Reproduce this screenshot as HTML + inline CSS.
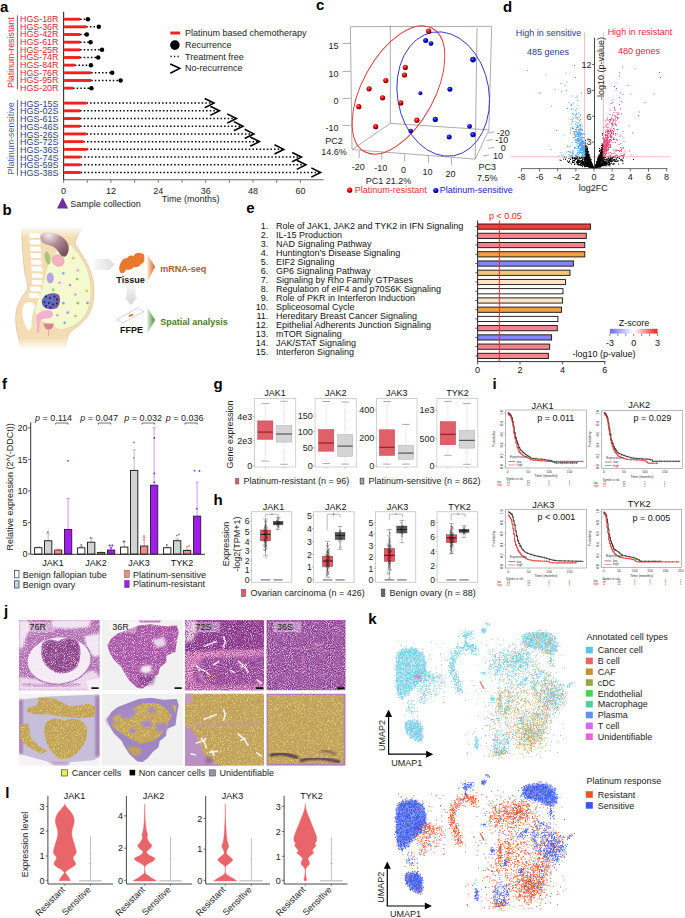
<!DOCTYPE html>
<html><head><meta charset="utf-8"><style>html,body{margin:0;padding:0;background:#fff;overflow:hidden;width:685px;height:918px;}svg{display:block;}</style></head>
<body><svg width="685" height="918" viewBox="0 0 685 918" font-family="Liberation Sans, sans-serif"><text x="0.0" y="12.1" font-size="15" text-anchor="start" fill="#000" font-weight="bold">a</text>
<line x1="63.60" y1="11.80" x2="63.60" y2="180.20" stroke="#333" stroke-width="1.1"/>
<line x1="63.60" y1="179.80" x2="323.60" y2="179.80" stroke="#666" stroke-width="1.1"/>
<line x1="63.60" y1="179.80" x2="63.60" y2="183.00" stroke="#666" stroke-width="0.8"/>
<line x1="87.28" y1="179.80" x2="87.28" y2="183.00" stroke="#666" stroke-width="0.8"/>
<line x1="110.95" y1="179.80" x2="110.95" y2="183.00" stroke="#666" stroke-width="0.8"/>
<line x1="134.63" y1="179.80" x2="134.63" y2="183.00" stroke="#666" stroke-width="0.8"/>
<line x1="158.30" y1="179.80" x2="158.30" y2="183.00" stroke="#666" stroke-width="0.8"/>
<line x1="181.98" y1="179.80" x2="181.98" y2="183.00" stroke="#666" stroke-width="0.8"/>
<line x1="205.66" y1="179.80" x2="205.66" y2="183.00" stroke="#666" stroke-width="0.8"/>
<line x1="229.33" y1="179.80" x2="229.33" y2="183.00" stroke="#666" stroke-width="0.8"/>
<line x1="253.01" y1="179.80" x2="253.01" y2="183.00" stroke="#666" stroke-width="0.8"/>
<line x1="276.68" y1="179.80" x2="276.68" y2="183.00" stroke="#666" stroke-width="0.8"/>
<line x1="300.36" y1="179.80" x2="300.36" y2="183.00" stroke="#666" stroke-width="0.8"/>
<text x="63.6" y="193.6" font-size="9" text-anchor="middle" fill="#222">0</text>
<text x="111.0" y="193.6" font-size="9" text-anchor="middle" fill="#222">12</text>
<text x="158.3" y="193.6" font-size="9" text-anchor="middle" fill="#222">24</text>
<text x="205.7" y="193.6" font-size="9" text-anchor="middle" fill="#222">36</text>
<text x="253.0" y="193.6" font-size="9" text-anchor="middle" fill="#222">48</text>
<text x="300.4" y="193.6" font-size="9" text-anchor="middle" fill="#222">60</text>
<text x="190.7" y="201.8" font-size="9" text-anchor="middle" fill="#222">Time (months)</text>
<line x1="80.10" y1="19.20" x2="87.90" y2="19.20" stroke="#000" stroke-width="1.5" stroke-dasharray="1.5 2.1"/>
<rect x="64.10" y="17.75" width="16.00" height="2.90" fill="#f42020"/>
<circle cx="87.90" cy="19.20" r="2.25" fill="#000"/>
<text x="58.4" y="22.1" font-size="8.6" text-anchor="end" fill="#cc2a33" textLength="38.4" lengthAdjust="spacingAndGlyphs">HGS-18R</text>
<line x1="86.30" y1="26.86" x2="98.80" y2="26.86" stroke="#000" stroke-width="1.5" stroke-dasharray="1.5 2.1"/>
<rect x="64.10" y="25.41" width="22.20" height="2.90" fill="#f42020"/>
<circle cx="98.80" cy="26.86" r="2.25" fill="#000"/>
<text x="58.4" y="29.8" font-size="8.6" text-anchor="end" fill="#cc2a33" textLength="38.4" lengthAdjust="spacingAndGlyphs">HGS-36R</text>
<line x1="80.10" y1="34.52" x2="86.80" y2="34.52" stroke="#000" stroke-width="1.5" stroke-dasharray="1.5 2.1"/>
<rect x="64.10" y="33.07" width="16.00" height="2.90" fill="#f42020"/>
<circle cx="86.80" cy="34.52" r="2.25" fill="#000"/>
<text x="58.4" y="37.4" font-size="8.6" text-anchor="end" fill="#cc2a33" textLength="38.4" lengthAdjust="spacingAndGlyphs">HGS-42R</text>
<line x1="80.10" y1="42.18" x2="90.60" y2="42.18" stroke="#000" stroke-width="1.5" stroke-dasharray="1.5 2.1"/>
<rect x="64.10" y="40.73" width="16.00" height="2.90" fill="#f42020"/>
<circle cx="90.60" cy="42.18" r="2.25" fill="#000"/>
<text x="58.4" y="45.1" font-size="8.6" text-anchor="end" fill="#cc2a33" textLength="38.4" lengthAdjust="spacingAndGlyphs">HGS-61R</text>
<line x1="80.10" y1="49.84" x2="102.00" y2="49.84" stroke="#000" stroke-width="1.5" stroke-dasharray="1.5 2.1"/>
<rect x="64.10" y="48.39" width="16.00" height="2.90" fill="#f42020"/>
<circle cx="102.00" cy="49.84" r="2.25" fill="#000"/>
<text x="58.4" y="52.7" font-size="8.6" text-anchor="end" fill="#cc2a33" textLength="38.4" lengthAdjust="spacingAndGlyphs">HGS-25R</text>
<line x1="80.10" y1="57.50" x2="98.20" y2="57.50" stroke="#000" stroke-width="1.5" stroke-dasharray="1.5 2.1"/>
<rect x="64.10" y="56.05" width="16.00" height="2.90" fill="#f42020"/>
<circle cx="98.20" cy="57.50" r="2.25" fill="#000"/>
<text x="58.4" y="60.4" font-size="8.6" text-anchor="end" fill="#cc2a33" textLength="38.4" lengthAdjust="spacingAndGlyphs">HGS-74R</text>
<line x1="74.90" y1="65.16" x2="90.90" y2="65.16" stroke="#000" stroke-width="1.5" stroke-dasharray="1.5 2.1"/>
<rect x="64.10" y="63.71" width="10.80" height="2.90" fill="#f42020"/>
<circle cx="90.90" cy="65.16" r="2.25" fill="#000"/>
<text x="58.4" y="68.1" font-size="8.6" text-anchor="end" fill="#cc2a33" textLength="38.4" lengthAdjust="spacingAndGlyphs">HGS-84R</text>
<line x1="91.20" y1="72.82" x2="112.20" y2="72.82" stroke="#000" stroke-width="1.5" stroke-dasharray="1.5 2.1"/>
<rect x="64.10" y="71.37" width="27.10" height="2.90" fill="#f42020"/>
<circle cx="112.20" cy="72.82" r="2.25" fill="#000"/>
<text x="58.4" y="75.7" font-size="8.6" text-anchor="end" fill="#cc2a33" textLength="38.4" lengthAdjust="spacingAndGlyphs">HGS-76R</text>
<line x1="91.20" y1="80.48" x2="120.60" y2="80.48" stroke="#000" stroke-width="1.5" stroke-dasharray="1.5 2.1"/>
<rect x="64.10" y="79.03" width="27.10" height="2.90" fill="#f42020"/>
<circle cx="120.60" cy="80.48" r="2.25" fill="#000"/>
<text x="58.4" y="83.4" font-size="8.6" text-anchor="end" fill="#cc2a33" textLength="38.4" lengthAdjust="spacingAndGlyphs">HGS-95R</text>
<line x1="73.10" y1="88.14" x2="91.40" y2="88.14" stroke="#000" stroke-width="1.5" stroke-dasharray="1.5 2.1"/>
<rect x="64.10" y="86.69" width="9.00" height="2.90" fill="#f42020"/>
<circle cx="91.40" cy="88.14" r="2.25" fill="#000"/>
<text x="58.4" y="91.0" font-size="8.6" text-anchor="end" fill="#cc2a33" textLength="38.4" lengthAdjust="spacingAndGlyphs">HGS-20R</text>
<line x1="86.50" y1="103.10" x2="212.90" y2="103.10" stroke="#000" stroke-width="1.5" stroke-dasharray="1.5 2.1"/>
<rect x="64.10" y="101.65" width="22.40" height="2.90" fill="#f42020"/>
<polyline points="204.7,98.5 213.9,103.1 204.7,107.7" fill="none" stroke="#000" stroke-width="1.6"/>
<text x="58.4" y="106.7" font-size="8.4" text-anchor="end" fill="#2c3e7a" textLength="38.4" lengthAdjust="spacingAndGlyphs">HGS-15S</text>
<line x1="80.10" y1="110.81" x2="218.50" y2="110.81" stroke="#000" stroke-width="1.5" stroke-dasharray="1.5 2.1"/>
<rect x="64.10" y="109.36" width="16.00" height="2.90" fill="#f42020"/>
<polyline points="210.3,106.2 219.5,110.8 210.3,115.4" fill="none" stroke="#000" stroke-width="1.6"/>
<text x="58.4" y="114.4" font-size="8.4" text-anchor="end" fill="#2c3e7a" textLength="38.4" lengthAdjust="spacingAndGlyphs">HGS-02S</text>
<line x1="80.10" y1="118.52" x2="235.40" y2="118.52" stroke="#000" stroke-width="1.5" stroke-dasharray="1.5 2.1"/>
<rect x="64.10" y="117.07" width="16.00" height="2.90" fill="#f42020"/>
<polyline points="227.2,113.9 236.4,118.5 227.2,123.1" fill="none" stroke="#000" stroke-width="1.6"/>
<text x="58.4" y="122.1" font-size="8.4" text-anchor="end" fill="#2c3e7a" textLength="38.4" lengthAdjust="spacingAndGlyphs">HGS-61S</text>
<line x1="80.10" y1="126.23" x2="242.00" y2="126.23" stroke="#000" stroke-width="1.5" stroke-dasharray="1.5 2.1"/>
<rect x="64.10" y="124.78" width="16.00" height="2.90" fill="#f42020"/>
<polyline points="233.8,121.6 243.0,126.2 233.8,130.8" fill="none" stroke="#000" stroke-width="1.6"/>
<text x="58.4" y="129.8" font-size="8.4" text-anchor="end" fill="#2c3e7a" textLength="38.4" lengthAdjust="spacingAndGlyphs">HGS-46S</text>
<line x1="86.50" y1="133.94" x2="252.80" y2="133.94" stroke="#000" stroke-width="1.5" stroke-dasharray="1.5 2.1"/>
<rect x="64.10" y="132.49" width="22.40" height="2.90" fill="#f42020"/>
<polyline points="244.6,129.3 253.8,133.9 244.6,138.5" fill="none" stroke="#000" stroke-width="1.6"/>
<text x="58.4" y="137.5" font-size="8.4" text-anchor="end" fill="#2c3e7a" textLength="38.4" lengthAdjust="spacingAndGlyphs">HGS-26S</text>
<line x1="83.40" y1="141.65" x2="258.40" y2="141.65" stroke="#000" stroke-width="1.5" stroke-dasharray="1.5 2.1"/>
<rect x="64.10" y="140.20" width="19.30" height="2.90" fill="#f42020"/>
<polyline points="250.2,137.0 259.4,141.6 250.2,146.2" fill="none" stroke="#000" stroke-width="1.6"/>
<text x="58.4" y="145.2" font-size="8.4" text-anchor="end" fill="#2c3e7a" textLength="38.4" lengthAdjust="spacingAndGlyphs">HGS-72S</text>
<line x1="86.80" y1="149.36" x2="282.70" y2="149.36" stroke="#000" stroke-width="1.5" stroke-dasharray="1.5 2.1"/>
<rect x="64.10" y="147.91" width="22.70" height="2.90" fill="#f42020"/>
<polyline points="274.5,144.8 283.7,149.4 274.5,154.0" fill="none" stroke="#000" stroke-width="1.6"/>
<text x="58.4" y="153.0" font-size="8.4" text-anchor="end" fill="#2c3e7a" textLength="38.4" lengthAdjust="spacingAndGlyphs">HGS-36S</text>
<line x1="80.60" y1="157.07" x2="300.40" y2="157.07" stroke="#000" stroke-width="1.5" stroke-dasharray="1.5 2.1"/>
<rect x="64.10" y="155.62" width="16.50" height="2.90" fill="#f42020"/>
<polyline points="292.2,152.5 301.4,157.1 292.2,161.7" fill="none" stroke="#000" stroke-width="1.6"/>
<text x="58.4" y="160.7" font-size="8.4" text-anchor="end" fill="#2c3e7a" textLength="38.4" lengthAdjust="spacingAndGlyphs">HGS-74S</text>
<line x1="80.60" y1="164.78" x2="305.00" y2="164.78" stroke="#000" stroke-width="1.5" stroke-dasharray="1.5 2.1"/>
<rect x="64.10" y="163.33" width="16.50" height="2.90" fill="#f42020"/>
<polyline points="296.8,160.2 306.0,164.8 296.8,169.4" fill="none" stroke="#000" stroke-width="1.6"/>
<text x="58.4" y="168.4" font-size="8.4" text-anchor="end" fill="#2c3e7a" textLength="38.4" lengthAdjust="spacingAndGlyphs">HGS-59S</text>
<line x1="80.60" y1="172.49" x2="319.50" y2="172.49" stroke="#000" stroke-width="1.5" stroke-dasharray="1.5 2.1"/>
<rect x="64.10" y="171.04" width="16.50" height="2.90" fill="#f42020"/>
<polyline points="311.3,167.9 320.5,172.5 311.3,177.1" fill="none" stroke="#000" stroke-width="1.6"/>
<text x="58.4" y="176.1" font-size="8.4" text-anchor="end" fill="#2c3e7a" textLength="38.4" lengthAdjust="spacingAndGlyphs">HGS-38S</text>
<line x1="17.40" y1="15.40" x2="17.40" y2="89.30" stroke="#555" stroke-width="0.9"/>
<line x1="17.40" y1="100.00" x2="17.40" y2="175.60" stroke="#555" stroke-width="0.9"/>
<text x="13.6" y="52.7" font-size="9" text-anchor="middle" fill="#cc2a33" transform="rotate(-90 13.6 52.7)" textLength="70.6" lengthAdjust="spacingAndGlyphs">Platinum-resistant</text>
<text x="13.6" y="138.4" font-size="9" text-anchor="middle" fill="#4a5a9a" transform="rotate(-90 13.6 138.4)" textLength="72" lengthAdjust="spacingAndGlyphs">Platinum-sensitive</text>
<line x1="170.30" y1="33.00" x2="180.10" y2="33.00" stroke="#f42020" stroke-width="2.9"/>
<text x="185.0" y="36.0" font-size="9" text-anchor="start" fill="#222">Platinum based chemotherapy</text>
<circle cx="174.90" cy="45.10" r="4.80" fill="#000"/>
<text x="185.0" y="48.0" font-size="9" text-anchor="start" fill="#222">Recurrence</text>
<line x1="170.50" y1="56.50" x2="180.00" y2="56.50" stroke="#000" stroke-width="1.3" stroke-dasharray="1.2 2.3"/>
<text x="185.0" y="59.6" font-size="9" text-anchor="start" fill="#222">Treatment free</text>
<polyline points="170.3,64 179.7,68.4 170.3,73.2" fill="none" stroke="#000" stroke-width="1.6"/>
<text x="185.0" y="71.4" font-size="9" text-anchor="start" fill="#222">No-recurrence</text>
<polygon points="57,208.4 62.6,197.3 68.2,208.4" fill="#7030a0"/>
<text x="70.2" y="206.6" font-size="9" text-anchor="start" fill="#222">Sample collection</text>
<text x="315.9" y="10.1" font-size="15" text-anchor="start" fill="#000" font-weight="bold">c</text>
<line x1="350.40" y1="26.60" x2="352.00" y2="149.60" stroke="#8a8a8a" stroke-width="0.7"/>
<line x1="350.40" y1="26.60" x2="491.70" y2="26.40" stroke="#8a8a8a" stroke-width="0.7"/>
<line x1="390.30" y1="25.40" x2="390.30" y2="123.40" stroke="#8a8a8a" stroke-width="0.7"/>
<line x1="477.00" y1="28.00" x2="475.20" y2="159.10" stroke="#8a8a8a" stroke-width="0.7"/>
<line x1="491.70" y1="26.60" x2="488.90" y2="129.90" stroke="#8a8a8a" stroke-width="0.7"/>
<line x1="352.00" y1="149.60" x2="475.20" y2="159.10" stroke="#8a8a8a" stroke-width="0.7"/>
<line x1="390.30" y1="123.40" x2="488.90" y2="129.90" stroke="#8a8a8a" stroke-width="0.7"/>
<line x1="352.00" y1="149.60" x2="390.30" y2="123.40" stroke="#8a8a8a" stroke-width="0.7"/>
<line x1="475.20" y1="159.10" x2="488.90" y2="129.90" stroke="#8a8a8a" stroke-width="0.7"/>
<line x1="342.60" y1="43.40" x2="350.80" y2="43.40" stroke="#8a8a8a" stroke-width="0.7"/>
<text x="338.5" y="48.6" font-size="9" text-anchor="end" fill="#222">15</text>
<line x1="342.60" y1="71.40" x2="350.80" y2="71.40" stroke="#8a8a8a" stroke-width="0.7"/>
<text x="338.5" y="76.6" font-size="9" text-anchor="end" fill="#222">10</text>
<line x1="342.60" y1="98.40" x2="350.80" y2="98.40" stroke="#8a8a8a" stroke-width="0.7"/>
<text x="338.5" y="103.6" font-size="9" text-anchor="end" fill="#222">0</text>
<line x1="342.60" y1="125.40" x2="350.80" y2="125.40" stroke="#8a8a8a" stroke-width="0.7"/>
<text x="338.5" y="130.6" font-size="9" text-anchor="end" fill="#222">-10</text>
<text x="334.1" y="144.3" font-size="9" text-anchor="middle" fill="#222">PC2</text>
<text x="334.0" y="155.0" font-size="9" text-anchor="middle" fill="#222">14.6%</text>
<line x1="359.20" y1="151.00" x2="359.20" y2="158.00" stroke="#8a8a8a" stroke-width="0.7"/>
<text x="358.2" y="169.5" font-size="9" text-anchor="middle" fill="#222">-20</text>
<line x1="381.80" y1="152.60" x2="381.80" y2="159.60" stroke="#8a8a8a" stroke-width="0.7"/>
<text x="380.8" y="171.1" font-size="9" text-anchor="middle" fill="#222">-10</text>
<line x1="404.60" y1="154.50" x2="404.60" y2="161.50" stroke="#8a8a8a" stroke-width="0.7"/>
<text x="403.6" y="173.0" font-size="9" text-anchor="middle" fill="#222">0</text>
<line x1="428.50" y1="156.30" x2="428.50" y2="163.30" stroke="#8a8a8a" stroke-width="0.7"/>
<text x="427.5" y="174.8" font-size="9" text-anchor="middle" fill="#222">10</text>
<line x1="451.40" y1="158.00" x2="451.40" y2="165.00" stroke="#8a8a8a" stroke-width="0.7"/>
<text x="450.4" y="176.5" font-size="9" text-anchor="middle" fill="#222">20</text>
<line x1="488.20" y1="132.90" x2="494.20" y2="131.90" stroke="#8a8a8a" stroke-width="0.7"/>
<text x="503.2" y="135.6" font-size="9" text-anchor="middle" fill="#222">-20</text>
<line x1="486.80" y1="140.60" x2="492.80" y2="139.60" stroke="#8a8a8a" stroke-width="0.7"/>
<text x="501.8" y="143.3" font-size="9" text-anchor="middle" fill="#222">-10</text>
<line x1="488.20" y1="148.40" x2="494.20" y2="147.40" stroke="#8a8a8a" stroke-width="0.7"/>
<text x="503.2" y="151.1" font-size="9" text-anchor="middle" fill="#222">0</text>
<line x1="483.10" y1="156.00" x2="489.10" y2="155.00" stroke="#8a8a8a" stroke-width="0.7"/>
<text x="498.1" y="158.7" font-size="9" text-anchor="middle" fill="#222">10</text>
<text x="388.4" y="184.2" font-size="9" text-anchor="middle" fill="#222">PC1 21.2%</text>
<text x="487.2" y="170.4" font-size="9" text-anchor="middle" fill="#222">PC3</text>
<text x="487.2" y="181.3" font-size="9" text-anchor="middle" fill="#222">7.5%</text>
<defs><radialGradient id="gr" cx="0.4" cy="0.35" r="0.65"><stop offset="0" stop-color="#ff7070"/><stop offset="0.5" stop-color="#e00000"/><stop offset="1" stop-color="#600000"/></radialGradient><radialGradient id="gb" cx="0.4" cy="0.35" r="0.65"><stop offset="0" stop-color="#7070ff"/><stop offset="0.5" stop-color="#0000e0"/><stop offset="1" stop-color="#000060"/></radialGradient></defs>
<ellipse cx="398.5" cy="90" rx="70.4" ry="36.1" transform="rotate(-61.3 398.5 90)" fill="none" stroke="#e03030" stroke-width="0.9"/>
<ellipse cx="443.2" cy="94" rx="45.8" ry="62.6" transform="rotate(-9.5 443.2 94)" fill="none" stroke="#3030c0" stroke-width="0.9"/>
<circle cx="358.80" cy="106.70" r="2.60" fill="url(#gr)"/>
<circle cx="369.10" cy="88.80" r="2.60" fill="url(#gr)"/>
<circle cx="382.60" cy="97.80" r="2.60" fill="url(#gr)"/>
<circle cx="385.80" cy="80.60" r="2.60" fill="url(#gr)"/>
<circle cx="405.30" cy="67.40" r="2.60" fill="url(#gr)"/>
<circle cx="404.50" cy="75.00" r="2.60" fill="url(#gr)"/>
<circle cx="400.80" cy="102.90" r="2.60" fill="url(#gr)"/>
<circle cx="428.70" cy="31.20" r="2.60" fill="url(#gr)"/>
<circle cx="416.90" cy="120.20" r="2.60" fill="url(#gr)"/>
<circle cx="375.70" cy="126.70" r="2.60" fill="url(#gr)"/>
<circle cx="425.70" cy="40.50" r="2.50" fill="url(#gb)"/>
<circle cx="431.00" cy="43.60" r="2.40" fill="url(#gb)"/>
<circle cx="473.00" cy="59.60" r="2.80" fill="url(#gb)"/>
<circle cx="449.90" cy="89.20" r="2.50" fill="url(#gb)"/>
<circle cx="420.40" cy="93.30" r="2.00" fill="url(#gb)"/>
<circle cx="435.30" cy="119.40" r="2.60" fill="url(#gb)"/>
<circle cx="469.60" cy="126.30" r="2.40" fill="url(#gb)"/>
<circle cx="473.00" cy="134.60" r="2.70" fill="url(#gb)"/>
<circle cx="449.20" cy="136.90" r="2.50" fill="url(#gb)"/>
<circle cx="410.70" cy="131.10" r="2.30" fill="url(#gb)"/>
<circle cx="349.70" cy="190.20" r="2.60" fill="url(#gr)"/>
<text x="354.8" y="193.4" font-size="9" text-anchor="start" fill="#e03030">Platinum-resistant</text>
<circle cx="435.80" cy="190.50" r="2.60" fill="url(#gb)"/>
<text x="439.7" y="193.4" font-size="9" text-anchor="start" fill="#2020c0">Platinum-sensitive</text>
<text x="503.1" y="12.4" font-size="15" text-anchor="start" fill="#000" font-weight="bold">d</text>
<line x1="510.80" y1="156.80" x2="669.60" y2="156.80" stroke="#f4b8c4" stroke-width="1"/>
<line x1="584.60" y1="32.40" x2="584.60" y2="168.10" stroke="#f4b8c4" stroke-width="1"/>
<line x1="603.40" y1="32.40" x2="603.40" y2="168.10" stroke="#f4b8c4" stroke-width="1"/>
<path transform="scale(0.5)" d="M1204 267h2m-2 3h2m-1 6h2m-32 2h2m-7 3h2m-2 5h2m31 2h2m0 0h2m-37 2h2m32 0h2m-1 0h2m-38 1h2m31 0h2m1 0h2m-35 1h2m30 0h2m-1 0h2m-38 1h2m-1 0h2m32 0h2m-34 1h2m0 0h2m-7 1h2m31 0h2m1 0h2m-38 1h2m2 0h2m28 0h2m-1 0h2m-1 0h2m-37 1h2m1 0h2m-1 0h2m22 0h2m3 0h2m-1 0h2m-36 1h2m-1 0h2m1 0h2m27 0h2m-1 0h2m-37 1h2m1 0h2m-1 0h2m-1 0h2m25 0h2m-1 0h2m-1 0h2m-1 0h2m-37 1h2m-1 0h2m29 0h2m0 0h2m-1 0h2m-1 0h2m-38 1h2m-1 0h2m1 0h2m-1 0h2m22 0h2m1 0h2m0 0h2m-1 0h2m-37 1h2m1 0h2m0 0h2m25 0h2m-1 0h2m-1 0h2m-1 0h2m-37 1h2m0 0h2m-1 0h2m-1 0h2m1 0h2m20 0h2m2 0h2m-1 0h2m-1 0h2m-1 0h2m-37 1h2m-1 0h2m-1 0h2m-1 0h2m-1 0h2m0 0h2m22 0h2m0 0h2m1 0h2m-38 1h2m-1 0h2m28 0h2m-1 0h2m-1 0h2m-1 0h2m-1 0h2m-36 1h2m-1 0h2m0 0h2m-1 0h2m-1 0h2m24 0h2m-1 0h2m-1 0h2m-1 0h2m-37 1h2m-1 0h2m-1 0h2m-1 0h2m-1 0h2m0 0h2m23 0h2m-1 0h2m-1 0h2m-1 0h2m0 0h2m-38 1h2m-1 0h2m-1 0h2m-1 0h2m-1 0h2m24 0h2m-1 0h2m-1 0h2m-1 0h2m-1 0h2m-1 0h2m-1 0h2m-37 1h2m0 0h2m-1 0h2m-1 0h2m-1 0h2m0 0h2m20 0h2m0 0h2m-1 0h2m-1 0h2m-1 0h2m-37 1h2m0 0h2m-1 0h2m-1 0h2m-1 0h2m-1 0h2m-1 0h2m-1 0h2m-1 0h2m19 0h2m-1 0h2m-1 0h2m-1 0h2m-1 0h2m-1 0h2m-36 1h2m-1 0h2m-1 0h2m0 0h2m0 0h2m19 0h2m0 0h2m0 0h2m-1 0h2m-1 0h2m-1 0h2m-1 0h2m-37 1h2m-1 0h2m-1 0h2m-1 0h2m-1 0h2m-1 0h2m-1 0h2m-1 0h2m18 0h2m1 0h2m-1 0h2m-1 0h2m-1 0h2m-1 0h2m-1 0h2m-37 1h2m-1 0h2m-1 0h2m-1 0h2m-1 0h2m-1 0h2m-1 0h2m19 0h2m-1 0h2m-1 0h2m-1 0h2m-1 0h2m-1 0h2m-1 0h2m-1 0h2m-78 1h2m22 0h2m0 0h2m-1 0h2m6 0h2m2 0h2m-1 0h2m0 0h2m-1 0h2m-1 0h2m-1 0h2m-1 0h2m-1 0h2m-1 0h2m-1 0h2m-1 0h2m17 0h2m-1 0h2m-1 0h2m0 0h2m-1 0h2m11 0h2m0 0h2m1 0h2m4 0h2m1 0h2m-87 1h2m3 0h2m7 0h2m2 0h2m3 0h2m-1 0h2m-1 0h2m-1 0h2m-1 0h2m-1 0h2m0 0h2m-1 0h2m-1 0h2m-1 0h2m0 0h2m14 0h2m0 0h2m-1 0h2m-1 0h2m-1 0h2m-1 0h2m-1 0h2m-1 0h2m-1 0h2m0 0h2m1 0h2m-1 0h2m13 0h2m7 0h2m-105 1h2m10 0h2m0 0h2m1 0h2m1 0h2m6 0h2m1 0h2m0 0h2m1 0h2m-1 0h2m-1 0h2m-1 0h2m-1 0h2m0 0h2m-1 0h2m-1 0h2m-1 0h2m-1 0h2m-1 0h2m16 0h2m-1 0h2m-1 0h2m-1 0h2m-1 0h2m-1 0h2m-1 0h2m-1 0h2m-1 0h2m-1 0h2m1 0h2m11 0h2m0 0h2m-1 0h2m5 0h2m2 0h2m9 0h2m-111 1h2m5 0h2m-1 0h2m0 0h2m-1 0h2m0 0h2m0 0h2m1 0h2m2 0h2m-1 0h2m8 0h2m0 0h2m0 0h2m-1 0h2m-1 0h2m-1 0h2m-1 0h2m-1 0h2m14 0h2m-1 0h2m-1 0h2m-1 0h2m-1 0h2m0 0h2m-1 0h2m0 0h2m0 0h2m5 0h2m1 0h2m1 0h2m-1 0h2m-1 0h2m-1 0h2m-1 0h2m13 0h2m-114 1h2m12 0h2m6 0h2m0 0h2m0 0h2m0 0h2m2 0h2m4 0h2m1 0h2m2 0h2m-1 0h2m-1 0h2m-1 0h2m-1 0h2m-1 0h2m-1 0h2m-1 0h2m-1 0h2m14 0h2m-1 0h2m-1 0h2m-1 0h2m-1 0h2m0 0h2m-1 0h2m-1 0h2m-1 0h2m16 0h2m8 0h2m9 0h2m-115 1h2m8 0h2m8 0h2m12 0h2m-1 0h2m1 0h2m-1 0h2m-1 0h2m1 0h2m0 0h2m-1 0h2m-1 0h2m0 0h2m0 0h2m11 0h2m-1 0h2m-1 0h2m-1 0h2m-1 0h2m-1 0h2m-1 0h2m-1 0h2m0 0h2m2 0h2m-1 0h2m1 0h2m-1 0h2m-1 0h2m3 0h2m-1 0h2m-1 0h2m5 0h2m-1 0h2m1 0h2m8 0h2m23 0h2m-149 1h2m23 0h2m8 0h2m0 0h2m10 0h2m0 0h2m-1 0h2m0 0h2m-1 0h2m-1 0h2m-1 0h2m-1 0h2m-1 0h2m-1 0h2m0 0h2m11 0h2m-1 0h2m-1 0h2m-1 0h2m-1 0h2m-1 0h2m-1 0h2m-1 0h2m-1 0h2m0 0h2m-1 0h2m3 0h2m2 0h2m0 0h2m-1 0h2m0 0h2m-1 0h2m-1 0h2m1 0h2m-1 0h2m-1 0h2m13 0h2m-122 1h2m23 0h2m0 0h2m4 0h2m1 0h2m0 0h2m1 0h2m-1 0h2m-1 0h2m3 0h2m0 0h2m-1 0h2m-1 0h2m0 0h2m-1 0h2m-1 0h2m-1 0h2m-1 0h2m-1 0h2m13 0h2m-1 0h2m-1 0h2m-1 0h2m-1 0h2m0 0h2m-1 0h2m-1 0h2m-1 0h2m0 0h2m5 0h2m2 0h2m-1 0h2m9 0h2m4 0h2m4 0h2m-109 1h2m2 0h2m7 0h2m0 0h2m3 0h2m0 0h2m-1 0h2m-1 0h2m1 0h2m4 0h2m4 0h2m0 0h2m-1 0h2m-1 0h2m-1 0h2m-1 0h2m-1 0h2m13 0h2m-1 0h2m-1 0h2m-1 0h2m-1 0h2m-1 0h2m-1 0h2m-1 0h2m-1 0h2m-1 0h2m0 0h2m0 0h2m2 0h2m3 0h2m1 0h2m-1 0h2m-1 0h2m-1 0h2m0 0h2m1 0h2m1 0h2m2 0h2m7 0h2m-1 0h2m-112 1h2m1 0h2m4 0h2m8 0h2m-1 0h2m0 0h2m1 0h2m2 0h2m0 0h2m0 0h2m0 0h2m1 0h2m-1 0h2m-1 0h2m-1 0h2m-1 0h2m-1 0h2m-1 0h2m-1 0h2m-1 0h2m9 0h2m-1 0h2m-1 0h2m-1 0h2m-1 0h2m-1 0h2m-1 0h2m0 0h2m2 0h2m-1 0h2m-1 0h2m1 0h2m-1 0h2m3 0h2m0 0h2m1 0h2m1 0h2m4 0h2m-1 0h2m0 0h2m-1 0h2m-83 1h2m-1 0h2m-1 0h2m-1 0h2m0 0h2m1 0h2m-1 0h2m-1 0h2m5 0h2m0 0h2m0 0h2m-1 0h2m-1 0h2m-1 0h2m-1 0h2m-1 0h2m-1 0h2m-1 0h2m-1 0h2m10 0h2m-1 0h2m-1 0h2m-1 0h2m-1 0h2m-1 0h2m-1 0h2m-1 0h2m4 0h2m-1 0h2m-1 0h2m-1 0h2m-1 0h2m-1 0h2m1 0h2m-1 0h2m0 0h2m3 0h2m-88 1h2m6 0h2m-1 0h2m-1 0h2m4 0h2m-1 0h2m-1 0h2m0 0h2m0 0h2m2 0h2m-1 0h2m-1 0h2m-1 0h2m-1 0h2m1 0h2m-1 0h2m-1 0h2m0 0h2m0 0h2m-1 0h2m-1 0h2m-1 0h2m-1 0h2m-1 0h2m-1 0h2m-1 0h2m9 0h2m-1 0h2m-1 0h2m-1 0h2m-1 0h2m-1 0h2m3 0h2m1 0h2m0 0h2m-1 0h2m-1 0h2m-1 0h2m3 0h2m-1 0h2m-1 0h2m-81 1h2m7 0h2m5 0h2m-1 0h2m3 0h2m-1 0h2m-1 0h2m-1 0h2m-1 0h2m-1 0h2m1 0h2m-1 0h2m-1 0h2m-1 0h2m-1 0h2m-1 0h2m-1 0h2m-1 0h2m-1 0h2m-1 0h2m-1 0h2m-1 0h2m-1 0h2m-1 0h2m8 0h2m-1 0h2m-1 0h2m-1 0h2m-1 0h2m-1 0h2m-1 0h2m-1 0h2m-1 0h2m-1 0h2m-1 0h2m-1 0h2m-1 0h2m-1 0h2m-1 0h2m0 0h2m1 0h2m-1 0h2m2 0h2m-64 1h2m5 0h2m-1 0h2m-1 0h2m-1 0h2m0 0h2m-1 0h2m-1 0h2m-1 0h2m-1 0h2m-1 0h2m-1 0h2m0 0h2m-1 0h2m-1 0h2m-1 0h2m-1 0h2m-1 0h2m-1 0h2m-1 0h2m-1 0h2m-1 0h2m7 0h2m-1 0h2m-1 0h2m-1 0h2m0 0h2m-1 0h2m1 0h2m-1 0h2m-1 0h2m-1 0h2m-1 0h2m-1 0h2m-1 0h2m-1 0h2m0 0h2m0 0h2m0 0h2m2 0h2m-1 0h2m0 0h2m4 0h2m16 0h2m-105 1h2m7 0h2m1 0h2m-1 0h2m3 0h2m-1 0h2m0 0h2m-1 0h2m1 0h2m-1 0h2m0 0h2m-1 0h2m1 0h2m0 0h2m-1 0h2m-1 0h2m-1 0h2m-1 0h2m-1 0h2m-1 0h2m-1 0h2m7 0h2m-1 0h2m-1 0h2m-1 0h2m-1 0h2m-1 0h2m-1 0h2m-1 0h2m-1 0h2m-1 0h2m2 0h2m-1 0h2m-1 0h2m0 0h2m13 0h2m0 0h2m-1 0h2m7 0h2m-90 1h2m5 0h2m-1 0h2m0 0h2m0 0h2m2 0h2m0 0h2m-1 0h2m-1 0h2m-1 0h2m1 0h2m-1 0h2m-1 0h2m-1 0h2m-1 0h2m-1 0h2m0 0h2m-1 0h2m-1 0h2m-1 0h2m-1 0h2m6 0h2m-1 0h2m-1 0h2m-1 0h2m-1 0h2m-1 0h2m-1 0h2m-1 0h2m-1 0h2m-1 0h2m-1 0h2m-1 0h2m0 0h2m0 0h2m-1 0h2m1 0h2m-1 0h2m0 0h2m1 0h2m0 0h2m-1 0h2m-65 1h2m2 0h2m1 0h2m-1 0h2m0 0h2m0 0h2m0 0h2m-1 0h2m-1 0h2m0 0h2m-1 0h2m-1 0h2m-1 0h2m0 0h2m-1 0h2m-1 0h2m-1 0h2m-1 0h2m-1 0h2m4 0h2m-1 0h2m-1 0h2m-1 0h2m-1 0h2m-1 0h2m-1 0h2m-1 0h2m0 0h2m-1 0h2m0 0h2m-1 0h2m-1 0h2m-1 0h2m-1 0h2m-1 0h2m-1 0h2m0 0h2m0 0h2m-1 0h2m1 0h2m-1 0h2m-60 1h2m1 0h2m3 0h2m2 0h2m-1 0h2m0 0h2m-1 0h2m-1 0h2m-1 0h2m-1 0h2m-1 0h2m-1 0h2m-1 0h2m-1 0h2m-1 0h2m-1 0h2m4 0h2m-1 0h2m-1 0h2m-1 0h2m-1 0h2m-1 0h2m0 0h2m-1 0h2m-1 0h2m0 0h2m-1 0h2m0 0h2m-1 0h2m-1 0h2m0 0h2m-1 0h2m-43 1h2m3 0h2m-1 0h2m-1 0h2m-1 0h2m-1 0h2m-1 0h2m-1 0h2m-1 0h2m-1 0h2m-1 0h2m-1 0h2m-1 0h2m-1 0h2m2 0h2m-1 0h2m-1 0h2m-1 0h2m-1 0h2m-1 0h2m-1 0h2m-1 0h2m-1 0h2m-1 0h2m-1 0h2m-1 0h2m-1 0h2m-1 0h2m-1 0h2m6 0h2m6 0h2m-57 1h2m2 0h2m0 0h2m0 0h2m-1 0h2m-1 0h2m-1 0h2m-1 0h2m0 0h2m-1 0h2m-1 0h2m-1 0h2m-1 0h2m-1 0h2m-1 0h2m-1 0h2m2 0h2m-1 0h2m-1 0h2m-1 0h2m-1 0h2m-1 0h2m-1 0h2m-1 0h2m0 0h2m-1 0h2m-1 0h2m-25 1h2m-1 0h2m-1 0h2m-1 0h2m-1 0h2m-1 0h2m-1 0h2m-1 0h2m-1 0h2m-1 0h2m0 0h2m-1 0h2m-1 0h2m-1 0h2m-1 0h2m-1 0h2m-1 0h2m-1 0h2m-1 0h2m-1 0h2m0 0h2m-24 1h2m1 0h2m-1 0h2m-1 0h2m-1 0h2m-1 0h2m-1 0h2m-1 0h2m0 0h2m-1 0h2m-1 0h2m-1 0h2m-1 0h2m0 0h2m3 0h2m-16 1h2m-1 0h2m-1 0h2m-1 0h2m-1 0h2" stroke="#000" stroke-width="2.0" fill="none"/>
<path transform="scale(0.5)" d="M1148 131h2m-96 10h2m75 5h2m-42 4h2m57 5h2m-19 9h2m-14 3h2m6 4h2m-22 8h2m21 2h2m-12 2h2m-47 3h2m1 0h2m80 0h2m-21 6h2m8 0h2m-4 3h2m1 6h2m-19 4h2m7 1h2m-7 2h2m-1 1h2m-2 2h2m11 0h2m-55 1h2m30 5h2m17 0h2m-10 1h2m-5 1h2m5 1h2m0 2h2m3 4h2m-14 1h2m6 0h2m-8 1h2m5 0h2m-4 1h2m6 0h2m-11 2h2m8 0h2m-18 3h2m3 0h2m1 0h2m4 0h2m-5 1h2m-6 1h2m-7 1h2m6 0h2m-15 2h2m12 0h2m3 0h2m-18 1h2m12 1h2m-16 2h2m3 0h2m8 1h2m-8 1h2m1 1h2m-16 2h2m5 0h2m-1 0h2m9 0h2m-10 1h2m4 0h2m-1 0h2m-9 1h2m4 1h2m-1 0h2m-8 1h2m-1 0h2m0 0h2m5 0h2m-12 1h2m-1 0h2m-12 1h2m4 0h2m7 0h2m-9 1h2m0 0h2m-16 1h2m0 0h2m14 0h2m-17 1h2m0 0h2m11 0h2m-9 1h2m7 0h2m0 0h2m-15 1h2m1 0h2m1 0h2m0 0h2m0 0h2m-1 0h2m-1 0h2m-24 1h2m10 0h2m2 0h2m-1 0h2m1 0h2m0 0h2m-52 1h2m49 0h2m-1 0h2m-7 1h2m-15 1h2m1 0h2m-1 0h2m0 0h2m2 0h2m-10 1h2m5 0h2m1 0h2m-7 1h2m-1 0h2m2 0h2m1 0h2m-23 1h2m6 0h2m4 0h2m0 0h2m0 0h2m-1 0h2m-12 1h2m10 0h2m4 0h2m-24 1h2m5 0h2m1 0h2m0 0h2m1 0h2m1 0h2m0 0h2m-19 1h2m3 0h2m0 0h2m0 0h2m0 0h2m-1 0h2m0 0h2m0 0h2m2 0h2m-43 1h2m20 0h2m7 0h2m-10 1h2m3 0h2m3 0h2m-10 1h2m2 0h2m5 0h2m-15 1h2m1 0h2m1 0h2m-1 0h2m-5 1h2m2 0h2m-1 0h2m0 0h2m-17 1h2m0 0h2m-1 0h2m11 0h2m0 0h2m-1 0h2m0 0h2m-12 1h2m-5 1h2m-1 0h2m0 0h2m2 0h2m-9 1h2m-1 0h2m-1 0h2m2 0h2m-1 0h2m-1 0h2m1 0h2m-17 1h2m-1 0h2m6 0h2m0 0h2m-1 0h2m-15 1h2m2 0h2m1 0h2m1 0h2m-7 1h2m2 0h2m-1 0h2m2 0h2m-1 0h2m-15 1h2m0 0h2m-1 0h2m0 0h2m3 0h2m0 0h2m-1 0h2m-1 0h2m-1 0h2m-13 1h2m0 0h2m2 0h2m0 0h2m-15 1h2m9 0h2m-1 0h2m0 0h2m-1 0h2m0 0h2m-26 1h2m7 0h2m5 0h2m0 0h2m-1 0h2m0 0h2m1 0h2m-12 1h2m-1 0h2m-1 0h2m-1 0h2m-1 0h2m2 0h2m0 0h2m-1 0h2m-15 1h2m5 0h2m-1 0h2m0 0h2m0 0h2m-16 1h2m4 0h2m0 0h2m-1 0h2m0 0h2m-8 1h2m-1 0h2m-1 0h2m-1 0h2m-6 1h2m0 0h2m-1 0h2m-1 0h2m0 0h2m2 0h2m-9 1h2m-1 0h2m-1 0h2m-1 0h2m-1 0h2m-1 0h2m-1 0h2m-1 0h2m0 0h2m-74 1h2m35 0h2m17 0h2m1 0h2m0 0h2m1 0h2m-1 0h2m1 0h2m-1 0h2m0 0h2m-31 1h2m14 0h2m-1 0h2m-1 0h2m3 0h2m-1 0h2m0 0h2m0 0h2m-1 0h2m-35 1h2m27 0h2m-1 0h2m0 0h2m-1 0h2m-22 1h2m0 0h2m4 0h2m4 0h2m-1 0h2m-1 0h2m-1 0h2m-1 0h2m-1 0h2m-14 1h2m0 0h2m5 0h2m3 0h2m-23 1h2m3 0h2m2 0h2m-1 0h2m0 0h2m0 0h2m-1 0h2m-1 0h2m-1 0h2m-1 0h2m-1 0h2m-10 1h2m1 0h2m0 0h2m-1 0h2m-1 0h2m-1 0h2m-1 0h2m-69 1h2m58 0h2m0 0h2m-1 0h2m-1 0h2m-8 1h2m0 0h2m-1 0h2m-1 0h2m1 0h2m-1 0h2m-1 0h2m-1 0h2m-27 1h2m8 0h2m-1 0h2m4 0h2m1 0h2m0 0h2m0 0h2m-11 1h2m4 0h2m-1 0h2m-1 0h2m-1 0h2m-34 1h2m1 0h2m17 0h2m6 0h2m0 0h2m-38 1h2m11 0h2m0 0h2m8 0h2m2 0h2m-1 0h2m1 0h2m0 0h2m-1 0h2m-49 1h2m16 0h2m13 0h2m0 0h2m1 0h2m-1 0h2m0 0h2m-1 0h2m-1 0h2m1 0h2m-1 0h2m-1 0h2m-30 1h2m1 0h2m15 0h2m2 0h2m0 0h2m-1 0h2m-26 1h2m-1 0h2m11 0h2m6 0h2m-1 0h2m-1 0h2m-1 0h2m-19 1h2m0 0h2m6 0h2m-1 0h2m-28 1h2m6 0h2m9 0h2m6 0h2m2 0h2m-48 1h2m2 0h2m13 0h2m2 0h2m3 0h2m5 0h2m5 0h2m-1 0h2m-1 0h2m0 0h2m-28 1h2m-1 0h2m8 0h2m12 0h2m-1 0h2m-1 0h2m-54 1h2m19 0h2m1 0h2m0 0h2m5 0h2m-1 0h2m9 0h2m0 0h2m-38 1h2m15 0h2m10 0h2m3 0h2m1 0h2m-1 0h2m0 0h2m-1 0h2m-31 1h2" stroke="#5aa8e8" stroke-width="2.2" fill="none"/>
<path transform="scale(0.5)" d="M1241 105h2m5 3h2m-6 26h2m23 4h2m47 7h2m-82 1h2m-2 6h2m80 3h2m-91 11h2m22 5h2m-29 2h2m2 4h2m-3 3h2m7 6h2m19 2h2m44 0h2m-64 1h2m-9 6h2m-15 5h2m15 3h2m-19 2h2m62 0h2m-69 2h2m14 2h2m-12 6h2m-2 3h2m10 0h2m-23 2h2m8 0h2m-2 1h2m47 3h2m-53 1h2m4 0h2m2 1h2m-3 2h2m4 0h2m-25 1h2m13 0h2m-12 1h2m3 1h2m45 0h2m-49 1h2m-8 2h2m5 0h2m0 0h2m1 1h2m-23 1h2m18 0h2m0 0h2m-16 1h2m-1 0h2m2 1h2m1 0h2m2 0h2m-23 1h2m3 0h2m0 0h2m4 0h2m-8 1h2m0 0h2m-9 1h2m3 0h2m4 0h2m3 0h2m-23 1h2m14 0h2m-1 0h2m-11 1h2m-1 1h2m3 0h2m4 0h2m5 0h2m-20 1h2m1 2h2m1 0h2m2 0h2m-17 1h2m1 0h2m4 0h2m-1 0h2m-15 1h2m11 0h2m4 0h2m-9 1h2m0 0h2m5 0h2m-3 1h2m-21 1h2m11 0h2m30 0h2m-48 1h2m2 1h2m6 0h2m-18 1h2m6 0h2m-4 1h2m4 0h2m5 1h2m-7 1h2m4 0h2m-1 0h2m3 1h2m0 0h2m-24 1h2m-1 0h2m0 0h2m2 0h2m-1 0h2m1 1h2m-16 1h2m1 0h2m1 0h2m-1 0h2m1 0h2m-1 0h2m4 0h2m-14 1h2m0 0h2m0 0h2m5 0h2m17 0h2m-34 1h2m6 0h2m-1 0h2m1 0h2m-17 1h2m2 0h2m1 0h2m3 0h2m1 1h2m37 0h2m-51 1h2m0 0h2m3 0h2m2 0h2m2 0h2m-21 1h2m2 0h2m6 0h2m9 0h2m-26 1h2m8 0h2m4 0h2m-19 1h2m0 0h2m-1 0h2m-1 0h2m-1 0h2m-1 0h2m13 0h2m8 0h2m-31 1h2m6 0h2m-1 0h2m-12 1h2m1 0h2m-1 0h2m4 0h2m0 0h2m-1 0h2m-6 1h2m18 0h2m-27 1h2m0 0h2m2 0h2m0 0h2m21 0h2m-36 1h2m8 0h2m-1 0h2m-1 0h2m-15 1h2m0 0h2m0 0h2m0 0h2m3 0h2m4 0h2m-20 1h2m15 0h2m-21 1h2m3 0h2m-1 0h2m-9 1h2m0 0h2m3 0h2m-1 0h2m2 0h2m0 0h2m4 0h2m0 0h2m2 0h2m-27 1h2m2 0h2m-1 0h2m4 0h2m2 0h2m-15 1h2m-1 0h2m-1 0h2m0 0h2m0 0h2m17 0h2m-28 1h2m0 0h2m5 0h2m0 0h2m0 0h2m-17 1h2m0 0h2m3 0h2m-1 0h2m1 0h2m0 0h2m26 0h2m-42 1h2m1 0h2m0 0h2m-1 0h2m-7 1h2m-1 0h2m-1 0h2m-1 0h2m-1 0h2m-1 0h2m-1 0h2m0 0h2m0 0h2m5 0h2m3 0h2m-21 1h2m-1 0h2m-9 1h2m-1 0h2m-1 0h2m2 0h2m-1 0h2m0 0h2m-1 0h2m24 0h2m-38 1h2m-1 0h2m0 0h2m-1 0h2m3 0h2m0 0h2m1 0h2m-10 1h2m0 0h2m5 0h2m15 0h2m-32 1h2m1 0h2m3 0h2m-1 0h2m1 0h2m-15 1h2m0 0h2m-1 0h2m-1 0h2m-1 0h2m-1 0h2m-1 0h2m2 0h2m0 0h2m-15 1h2m0 0h2m-1 0h2m0 0h2m-1 0h2m0 0h2m4 0h2m-17 1h2m0 0h2m-1 0h2m3 0h2m0 0h2m-11 1h2m-1 0h2m1 0h2m-1 0h2m-1 0h2m6 0h2m-15 1h2m0 0h2m-1 0h2m-1 0h2m-1 0h2m2 0h2m0 0h2m-1 0h2m-1 0h2m18 0h2m4 0h2m-42 1h2m1 0h2m-1 0h2m-1 0h2m2 0h2m29 0h2m-43 1h2m-1 0h2m-1 0h2m0 0h2m-1 0h2m1 0h2m28 0h2m-39 1h2m-1 0h2m-1 0h2m-1 0h2m-1 0h2m-1 0h2m-1 0h2m-1 0h2m1 0h2m-12 1h2m-1 0h2m0 0h2m0 0h2m3 0h2m13 0h2m9 0h2m-39 1h2m0 0h2m-1 0h2m2 0h2m0 0h2m-1 0h2m9 0h2m-22 1h2m-1 0h2m0 0h2m-1 0h2m0 0h2m1 0h2m16 0h2m0 0h2m0 0h2m1 0h2m-37 1h2m0 0h2m-1 0h2m-1 0h2m-1 0h2m-1 0h2m0 0h2m14 0h2m0 0h2m9 0h2m5 0h2m7 0h2m-54 1h2m0 0h2m28 0h2m2 0h2m-38 1h2m-1 0h2m-1 0h2m-1 0h2m1 0h2m-8 1h2m0 0h2m9 0h2m-15 1h2m0 0h2m1 0h2m3 0h2m3 0h2m6 0h2m16 0h2m-44 1h2m-1 0h2m-1 0h2m1 0h2m1 0h2m8 0h2m1 0h2m-23 1h2m-1 0h2m0 0h2m-1 0h2m30 0h2m-37 1h2m2 0h2m35 0h2m-1 0h2m-45 1h2m4 0h2m5 0h2m1 0h2m8 0h2m0 0h2m26 0h2m-58 1h2m-1 0h2m-1 0h2m-1 0h2m1 0h2m16 0h2m2 0h2m7 0h2m0 0h2m1 0h2m-44 1h2m-1 0h2m-1 0h2m11 0h2m1 0h2m10 0h2m2 0h2m2 0h2m1 0h2m-41 1h2m0 0h2m17 0h2m7 0h2m7 0h2m-10 1h2" stroke="#e0507a" stroke-width="2.2" fill="none"/>
<line x1="521.40" y1="168.60" x2="667.40" y2="168.60" stroke="#444" stroke-width="0.8"/>
<line x1="521.36" y1="168.60" x2="521.36" y2="171.50" stroke="#444" stroke-width="0.8"/>
<text x="521.4" y="180.0" font-size="9" text-anchor="middle" fill="#222">-8</text>
<line x1="539.52" y1="168.60" x2="539.52" y2="171.50" stroke="#444" stroke-width="0.8"/>
<text x="539.5" y="180.0" font-size="9" text-anchor="middle" fill="#222">-6</text>
<line x1="557.68" y1="168.60" x2="557.68" y2="171.50" stroke="#444" stroke-width="0.8"/>
<text x="557.7" y="180.0" font-size="9" text-anchor="middle" fill="#222">-4</text>
<line x1="575.84" y1="168.60" x2="575.84" y2="171.50" stroke="#444" stroke-width="0.8"/>
<text x="575.8" y="180.0" font-size="9" text-anchor="middle" fill="#222">-2</text>
<line x1="594.00" y1="168.60" x2="594.00" y2="171.50" stroke="#444" stroke-width="0.8"/>
<text x="594.0" y="180.0" font-size="9" text-anchor="middle" fill="#222">0</text>
<line x1="612.16" y1="168.60" x2="612.16" y2="171.50" stroke="#444" stroke-width="0.8"/>
<text x="612.2" y="180.0" font-size="9" text-anchor="middle" fill="#222">2</text>
<line x1="630.32" y1="168.60" x2="630.32" y2="171.50" stroke="#444" stroke-width="0.8"/>
<text x="630.3" y="180.0" font-size="9" text-anchor="middle" fill="#222">4</text>
<line x1="648.48" y1="168.60" x2="648.48" y2="171.50" stroke="#444" stroke-width="0.8"/>
<text x="648.5" y="180.0" font-size="9" text-anchor="middle" fill="#222">6</text>
<line x1="666.64" y1="168.60" x2="666.64" y2="171.50" stroke="#444" stroke-width="0.8"/>
<text x="666.6" y="180.0" font-size="9" text-anchor="middle" fill="#222">8</text>
<line x1="594.50" y1="37.80" x2="594.50" y2="168.60" stroke="#333" stroke-width="0.9"/>
<line x1="592.00" y1="142.21" x2="594.00" y2="142.21" stroke="#444" stroke-width="0.8"/>
<text x="591.4" y="145.4" font-size="9" text-anchor="end" fill="#222">3</text>
<line x1="592.00" y1="116.32" x2="594.00" y2="116.32" stroke="#444" stroke-width="0.8"/>
<text x="591.4" y="119.5" font-size="9" text-anchor="end" fill="#222">6</text>
<line x1="592.00" y1="90.43" x2="594.00" y2="90.43" stroke="#444" stroke-width="0.8"/>
<text x="591.4" y="93.6" font-size="9" text-anchor="end" fill="#222">9</text>
<line x1="592.00" y1="64.54" x2="594.00" y2="64.54" stroke="#444" stroke-width="0.8"/>
<text x="591.4" y="67.7" font-size="9" text-anchor="end" fill="#222">12</text>
<text x="603.5" y="37.0" font-size="9" text-anchor="end" fill="#222" transform="rotate(-90 603.5 37.0)" dy="0">-log10 (p-value)</text>
<text x="593.2" y="191.0" font-size="9" text-anchor="middle" fill="#222">log2FC</text>
<text x="548.6" y="35.6" font-size="9" text-anchor="middle" fill="#2c3c84">High in sensitive</text>
<text x="548.0" y="54.5" font-size="9" text-anchor="middle" fill="#2c3c84">485 genes</text>
<text x="639.9" y="35.1" font-size="9" text-anchor="middle" fill="#e4283c">High in resistant</text>
<text x="639.0" y="54.0" font-size="9" text-anchor="middle" fill="#e4283c">480 genes</text>
<text x="246.3" y="213.2" font-size="15" text-anchor="start" fill="#000" font-weight="bold">e</text>
<text x="268.3" y="229.0" font-size="9" text-anchor="end" fill="#111">1.</text>
<text x="275.9" y="229.0" font-size="9" text-anchor="start" fill="#111">Role of JAK1, JAK2 and TYK2 in IFN Signaling</text>
<text x="268.3" y="238.0" font-size="9" text-anchor="end" fill="#111">2.</text>
<text x="275.9" y="238.0" font-size="9" text-anchor="start" fill="#111">IL-15 Production</text>
<text x="268.3" y="247.0" font-size="9" text-anchor="end" fill="#111">3.</text>
<text x="275.9" y="247.0" font-size="9" text-anchor="start" fill="#111">NAD Signaling Pathway</text>
<text x="268.3" y="256.0" font-size="9" text-anchor="end" fill="#111">4.</text>
<text x="275.9" y="256.0" font-size="9" text-anchor="start" fill="#111">Huntington&#8217;s Disease Signaling</text>
<text x="268.3" y="265.0" font-size="9" text-anchor="end" fill="#111">5.</text>
<text x="275.9" y="265.0" font-size="9" text-anchor="start" fill="#111">EIF2 Signaling</text>
<text x="268.3" y="273.9" font-size="9" text-anchor="end" fill="#111">6.</text>
<text x="275.9" y="273.9" font-size="9" text-anchor="start" fill="#111">GP6 Signaling Pathway</text>
<text x="268.3" y="282.9" font-size="9" text-anchor="end" fill="#111">7.</text>
<text x="275.9" y="282.9" font-size="9" text-anchor="start" fill="#111">Signaling by Rho Family GTPases</text>
<text x="268.3" y="291.9" font-size="9" text-anchor="end" fill="#111">8.</text>
<text x="275.9" y="291.9" font-size="9" text-anchor="start" fill="#111">Regulation of eIF4 and p70S6K Signaling</text>
<text x="268.3" y="300.9" font-size="9" text-anchor="end" fill="#111">9.</text>
<text x="275.9" y="300.9" font-size="9" text-anchor="start" fill="#111">Role of PKR in Interferon Induction</text>
<text x="268.3" y="309.9" font-size="9" text-anchor="end" fill="#111">10.</text>
<text x="275.9" y="309.9" font-size="9" text-anchor="start" fill="#111">Spliceosomal Cycle</text>
<text x="268.3" y="318.9" font-size="9" text-anchor="end" fill="#111">11.</text>
<text x="275.9" y="318.9" font-size="9" text-anchor="start" fill="#111">Hereditary Breast Cancer Signaling</text>
<text x="268.3" y="327.9" font-size="9" text-anchor="end" fill="#111">12.</text>
<text x="275.9" y="327.9" font-size="9" text-anchor="start" fill="#111">Epithelial Adherents Junction Signaling</text>
<text x="268.3" y="336.9" font-size="9" text-anchor="end" fill="#111">13.</text>
<text x="275.9" y="336.9" font-size="9" text-anchor="start" fill="#111">mTOR Signaling</text>
<text x="268.3" y="345.9" font-size="9" text-anchor="end" fill="#111">14.</text>
<text x="275.9" y="345.9" font-size="9" text-anchor="start" fill="#111">JAK/STAT Signaling</text>
<text x="268.3" y="354.9" font-size="9" text-anchor="end" fill="#111">15.</text>
<text x="275.9" y="354.9" font-size="9" text-anchor="start" fill="#111">Interferon Signaling</text>
<rect x="477.60" y="224.00" width="112.90" height="5.20" fill="#ff3c3c" stroke="#111" stroke-width="0.9"/>
<line x1="475.30" y1="226.60" x2="477.60" y2="226.60" stroke="#333" stroke-width="0.8"/>
<rect x="477.60" y="233.23" width="108.70" height="5.20" fill="#f6828c" stroke="#111" stroke-width="0.9"/>
<line x1="475.30" y1="235.83" x2="477.60" y2="235.83" stroke="#333" stroke-width="0.8"/>
<rect x="477.60" y="242.47" width="107.20" height="5.20" fill="#f6828c" stroke="#111" stroke-width="0.9"/>
<line x1="475.30" y1="245.07" x2="477.60" y2="245.07" stroke="#333" stroke-width="0.8"/>
<rect x="477.60" y="251.71" width="107.20" height="5.20" fill="#f0a040" stroke="#111" stroke-width="0.9"/>
<line x1="475.30" y1="254.31" x2="477.60" y2="254.31" stroke="#333" stroke-width="0.8"/>
<rect x="477.60" y="260.94" width="95.80" height="5.20" fill="#8484ff" stroke="#111" stroke-width="0.9"/>
<line x1="475.30" y1="263.54" x2="477.60" y2="263.54" stroke="#333" stroke-width="0.8"/>
<rect x="477.60" y="270.17" width="92.40" height="5.20" fill="#f5c285" stroke="#111" stroke-width="0.9"/>
<line x1="475.30" y1="272.77" x2="477.60" y2="272.77" stroke="#333" stroke-width="0.8"/>
<rect x="477.60" y="279.41" width="87.90" height="5.20" fill="#fbe3c5" stroke="#111" stroke-width="0.9"/>
<line x1="475.30" y1="282.01" x2="477.60" y2="282.01" stroke="#333" stroke-width="0.8"/>
<rect x="477.60" y="288.64" width="85.40" height="5.20" fill="#ffffff" stroke="#111" stroke-width="0.9"/>
<line x1="475.30" y1="291.25" x2="477.60" y2="291.25" stroke="#333" stroke-width="0.8"/>
<rect x="477.60" y="297.88" width="85.00" height="5.20" fill="#fbe3c5" stroke="#111" stroke-width="0.9"/>
<line x1="475.30" y1="300.48" x2="477.60" y2="300.48" stroke="#333" stroke-width="0.8"/>
<rect x="477.60" y="307.11" width="83.90" height="5.20" fill="#f0a040" stroke="#111" stroke-width="0.9"/>
<line x1="475.30" y1="309.71" x2="477.60" y2="309.71" stroke="#333" stroke-width="0.8"/>
<rect x="477.60" y="316.35" width="80.30" height="5.20" fill="#ffffff" stroke="#111" stroke-width="0.9"/>
<line x1="475.30" y1="318.95" x2="477.60" y2="318.95" stroke="#333" stroke-width="0.8"/>
<rect x="477.60" y="325.58" width="79.70" height="5.20" fill="#f6828c" stroke="#111" stroke-width="0.9"/>
<line x1="475.30" y1="328.19" x2="477.60" y2="328.19" stroke="#333" stroke-width="0.8"/>
<rect x="477.60" y="334.82" width="74.00" height="5.20" fill="#8484ff" stroke="#111" stroke-width="0.9"/>
<line x1="475.30" y1="337.42" x2="477.60" y2="337.42" stroke="#333" stroke-width="0.8"/>
<rect x="477.60" y="344.05" width="72.10" height="5.20" fill="#f6828c" stroke="#111" stroke-width="0.9"/>
<line x1="475.30" y1="346.65" x2="477.60" y2="346.65" stroke="#333" stroke-width="0.8"/>
<rect x="477.60" y="353.29" width="70.80" height="5.20" fill="#f6828c" stroke="#111" stroke-width="0.9"/>
<line x1="475.30" y1="355.89" x2="477.60" y2="355.89" stroke="#333" stroke-width="0.8"/>
<line x1="477.60" y1="220.40" x2="477.60" y2="361.60" stroke="#333" stroke-width="1"/>
<line x1="477.60" y1="361.60" x2="605.50" y2="361.60" stroke="#333" stroke-width="1"/>
<line x1="477.60" y1="361.60" x2="477.60" y2="364.50" stroke="#333" stroke-width="0.8"/>
<text x="477.6" y="373.0" font-size="9" text-anchor="middle" fill="#111">0</text>
<line x1="520.00" y1="361.60" x2="520.00" y2="364.50" stroke="#333" stroke-width="0.8"/>
<text x="520.0" y="373.0" font-size="9" text-anchor="middle" fill="#111">2</text>
<line x1="562.40" y1="361.60" x2="562.40" y2="364.50" stroke="#333" stroke-width="0.8"/>
<text x="562.4" y="373.0" font-size="9" text-anchor="middle" fill="#111">4</text>
<line x1="604.80" y1="361.60" x2="604.80" y2="364.50" stroke="#333" stroke-width="0.8"/>
<text x="604.8" y="373.0" font-size="9" text-anchor="middle" fill="#111">6</text>
<line x1="499.40" y1="220.40" x2="499.40" y2="361.60" stroke="#ff2020" stroke-width="0.9"/>
<text x="505.3" y="219.3" font-size="9" text-anchor="middle" fill="#ff2020">p &lt; 0.05</text>
<defs><linearGradient id="zg" x1="0" x2="1" y1="0" y2="0"><stop offset="0" stop-color="#6a6aff"/><stop offset="0.5" stop-color="#ffffff"/><stop offset="1" stop-color="#ff1a1a"/></linearGradient></defs>
<rect x="609.90" y="328.80" width="47.60" height="4.80" fill="url(#zg)"/>
<line x1="609.90" y1="333.60" x2="609.90" y2="336.00" stroke="#333" stroke-width="0.6"/>
<line x1="617.83" y1="333.60" x2="617.83" y2="336.00" stroke="#333" stroke-width="0.6"/>
<line x1="625.77" y1="333.60" x2="625.77" y2="336.00" stroke="#333" stroke-width="0.6"/>
<line x1="633.70" y1="333.60" x2="633.70" y2="336.00" stroke="#333" stroke-width="0.6"/>
<line x1="641.63" y1="333.60" x2="641.63" y2="336.00" stroke="#333" stroke-width="0.6"/>
<line x1="649.57" y1="333.60" x2="649.57" y2="336.00" stroke="#333" stroke-width="0.6"/>
<line x1="657.50" y1="333.60" x2="657.50" y2="336.00" stroke="#333" stroke-width="0.6"/>
<text x="609.9" y="346.0" font-size="9" text-anchor="middle" fill="#111">-3</text>
<text x="633.7" y="346.0" font-size="9" text-anchor="middle" fill="#111">0</text>
<text x="657.5" y="346.0" font-size="9" text-anchor="middle" fill="#111">3</text>
<text x="634.0" y="325.5" font-size="9" text-anchor="middle" fill="#111">Z-score</text>
<text x="604.0" y="357.0" font-size="9" text-anchor="middle" fill="#111">-log10 (p-value)</text>
<text x="2.4" y="215.2" font-size="15" text-anchor="start" fill="#000" font-weight="bold">b</text>
<defs>
<linearGradient id="bodyfade" x1="0" y1="0" x2="0" y2="1">
 <stop offset="0" stop-color="#fff" stop-opacity="1"/><stop offset="0.09" stop-color="#fff" stop-opacity="0"/>
 <stop offset="0.9" stop-color="#fff" stop-opacity="0"/><stop offset="1" stop-color="#fff" stop-opacity="1"/></linearGradient>
<radialGradient id="liver" cx="0.3" cy="0.15" r="0.9"><stop offset="0" stop-color="#eee2e4"/><stop offset="0.45" stop-color="#b08c94"/><stop offset="1" stop-color="#7e5060"/></radialGradient>
<radialGradient id="tumor" cx="0.3" cy="0.4" r="0.8"><stop offset="0" stop-color="#5a78c8"/><stop offset="0.7" stop-color="#6a60a8"/><stop offset="1" stop-color="#a05a90"/></radialGradient>
<linearGradient id="garrow" x1="0" x2="1"><stop offset="0" stop-color="#f6f6f6"/><stop offset="1" stop-color="#dcdcdc"/></linearGradient>
<linearGradient id="garrowd" x1="0" x2="0" y1="0" y2="1"><stop offset="0" stop-color="#f6f6f6"/><stop offset="1" stop-color="#d6d6d6"/></linearGradient>
<linearGradient id="ochev" x1="0" x2="1"><stop offset="0" stop-color="#fbe6d6"/><stop offset="1" stop-color="#d2641e"/></linearGradient>
<linearGradient id="gchev" x1="0" x2="1"><stop offset="0" stop-color="#e2eedc"/><stop offset="1" stop-color="#4a8a34"/></linearGradient>
</defs>
<path d="M21.7,229 C22,245 23,258 24,266 C25,278 28.5,285 27.5,289 C21,298 15.8,306 15.6,318 C15.5,330 19,338 21,349 L66,349 C66,340 68,334 71.3,331 C82,324 90,316 92.5,305 C95,292 94,282 91.8,275.5 C88,262 80,252 75,243.4 C76,238 79,233 81.5,229 Z" fill="#f4ddb4" stroke="#d8b98e" stroke-width="0.6"/>
<path d="M71.3,244.8 C80,255 88,266 89.8,278.4 C92,290 91,300 88,310 C84,320 74,327 64,329.5 C58,330.5 55,328 53.8,325.5 L47,324 C39,320 34.5,315 34.8,310.5 C37,300 40,294 41.4,290 C44,280 46,270 48,263.8 C50,258 53,254 55.3,252.1 C60,248 66,245 71.3,244.8 Z" fill="#f5f9cf" stroke="#cfc79a" stroke-width="0.5"/>
<path d="M29.0,233.0 L39.5,233.3 L40.2,237.9 L29.6,237.6 Z" fill="#ffffff"/>
<path d="M29.4,239.7 L40.0,240.0 L40.6,244.6 L30.1,244.3 Z" fill="#ffffff"/>
<path d="M29.9,246.4 L40.4,246.7 L41.1,251.3 L30.5,251.0 Z" fill="#ffffff"/>
<path d="M30.4,253.1 L40.9,253.4 L41.5,258.0 L31.0,257.7 Z" fill="#ffffff"/>
<path d="M30.8,259.8 L41.3,260.1 L42.0,264.7 L31.4,264.4 Z" fill="#ffffff"/>
<path d="M31.2,266.5 L41.8,266.8 L42.5,271.4 L31.9,271.1 Z" fill="#ffffff"/>
<path d="M31.7,273.2 L42.2,273.5 L42.9,278.1 L32.3,277.8 Z" fill="#ffffff"/>
<path d="M31.7,279.9 L42.2,280.2 L42.9,284.8 L32.3,284.5 Z" fill="#ffffff"/>
<path d="M30.2,286.6 L40.7,286.9 L41.4,291.5 L30.8,291.2 Z" fill="#ffffff"/>
<path d="M28.7,293.3 L39.2,293.6 L39.9,298.2 L29.3,297.9 Z" fill="#ffffff"/>
<path d="M26,303 C30,301 34,303 35.5,306 C33,312 31,318 31.5,325 C31.8,328 30,331 28,330 C24,325 22,316 22.5,310 C23,306 24,304 26,303 Z" fill="#ffffff"/>
<path d="M40.5,238 C40,233 45,231.5 51,232.5 C58,233.5 64,237 67.5,243 C69.5,247 69,253 66,256 C63,258 60,255 58,251 C55,246.5 50,245 45,244 C42,243 40.8,241 40.5,238 Z" fill="url(#liver)"/>
<ellipse cx="47.6" cy="258" rx="2.6" ry="6.6" transform="rotate(-12 47.6 258)" fill="#a8c47e"/>
<ellipse cx="58" cy="260.5" rx="6.4" ry="5.4" transform="rotate(35 58 260.5)" fill="#f2b4c0" stroke="#d88a98" stroke-width="0.4"/>
<ellipse cx="50.2" cy="278" rx="3.6" ry="5.4" fill="#b4a8e4"/>
<path d="M43,298 C46,293 55,292 59,295 C61,299 60,305 57,308 C52,310 46,310 43,306 C41,303 41.5,300 43,298 Z" fill="url(#tumor)"/>
<circle cx="46.00" cy="296.50" r="0.90" fill="#1a1a3a"/>
<circle cx="50.00" cy="298.00" r="0.90" fill="#1a1a3a"/>
<circle cx="54.50" cy="296.50" r="0.90" fill="#1a1a3a"/>
<circle cx="57.00" cy="299.50" r="0.90" fill="#1a1a3a"/>
<circle cx="44.50" cy="302.00" r="0.90" fill="#1a1a3a"/>
<circle cx="49.00" cy="303.00" r="0.90" fill="#1a1a3a"/>
<circle cx="53.00" cy="304.50" r="0.90" fill="#1a1a3a"/>
<circle cx="57.00" cy="303.50" r="0.90" fill="#1a1a3a"/>
<circle cx="50.50" cy="307.50" r="0.90" fill="#1a1a3a"/>
<circle cx="46.00" cy="306.00" r="0.90" fill="#1a1a3a"/>
<path d="M36,318 C37,312 44,309.5 50,310.5 C54,311.5 54,316 50,318 C46,319 42,318 40,321 L39,333 L37,333 L37,321 Z" fill="#f2b0d2"/>
<path d="M43.5,323.5 L53.8,323.5 L52.5,328 C50,330 47,330 45,328 Z" fill="#d8848e"/>
<line x1="48.50" y1="329.00" x2="48.50" y2="336.00" stroke="#d8a0a8" stroke-width="0.8"/>
<circle cx="73.20" cy="258.20" r="1.35" fill="#f2c040"/>
<circle cx="77.90" cy="270.40" r="1.35" fill="#f0a0d0"/>
<circle cx="63.30" cy="273.30" r="1.35" fill="#78b4f0"/>
<circle cx="77.20" cy="279.10" r="1.35" fill="#88d050"/>
<circle cx="59.60" cy="282.80" r="1.35" fill="#f0a0d0"/>
<circle cx="69.90" cy="285.00" r="1.35" fill="#b890e0"/>
<circle cx="53.10" cy="289.80" r="1.35" fill="#88d050"/>
<circle cx="86.90" cy="290.80" r="1.35" fill="#f2c040"/>
<circle cx="75.40" cy="294.50" r="1.35" fill="#f0a0d0"/>
<circle cx="63.30" cy="303.20" r="1.35" fill="#78b4f0"/>
<circle cx="77.90" cy="303.20" r="1.35" fill="#88d050"/>
<circle cx="87.40" cy="302.90" r="1.35" fill="#b890e0"/>
<circle cx="67.70" cy="312.70" r="1.35" fill="#b890e0"/>
<circle cx="57.40" cy="315.30" r="1.35" fill="#f0a0d0"/>
<circle cx="75.40" cy="316.10" r="1.35" fill="#f2c040"/>
<circle cx="64.70" cy="322.90" r="1.35" fill="#78b4f0"/>
<rect x="10" y="226" width="90" height="124" fill="url(#bodyfade)"/>
<path d="M95,259 L108,259 L108,257.7 L114.7,264.4 L108,271.3 L108,269.8 L95,269.8 Z" fill="url(#garrow)"/>
<path d="M126.5,284.3 L135.5,284.3 L135.5,297.5 L137.6,297.5 L131.1,305 L124.6,297.5 L126.5,297.5 Z" fill="url(#garrowd)"/>
<path d="M147.2,253.8 L155.1,266.8 L147.2,282.4 Z" fill="url(#ochev)"/>
<path d="M147.2,307 L155.1,320 L147.2,333.6 Z" fill="url(#gchev)"/>
<path d="M120.5,272.8 C118.3,270 119.2,265 121,262.5 C122,259.5 124.5,258 127,258.3 C128.5,255.6 131.5,255 133.5,256.2 C135,253.3 138.3,252 140.6,253.2 C143.3,252.8 145,255 144.2,258 C145,261 143.3,263.5 141,264 C139.5,266.6 136.5,267.6 134,267 C132,269.5 128.5,270.2 126,269.6 C125,272.4 122.5,274.3 120.5,272.8 Z" fill="#e8782e"/>
<text x="130.5" y="283.2" font-size="9" text-anchor="middle" fill="#111" font-weight="bold">Tissue</text>
<text x="160.2" y="272.4" font-size="9" text-anchor="start" fill="#b05a26" font-weight="bold">mRNA-seq</text>
<path d="M116.7,319.8 L137.4,308 L143.9,311.7 L122.8,322.9 Z" fill="#ffffff" stroke="#9cc0dc" stroke-width="0.6"/>
<ellipse cx="131" cy="315.3" rx="2.6" ry="1.1" transform="rotate(-25 131 315.3)" fill="#e8782e"/>
<text x="131.5" y="333.0" font-size="9" text-anchor="middle" fill="#111" font-weight="bold">FFPE</text>
<text x="160.2" y="325.1" font-size="9" text-anchor="start" fill="#4a7a2e" font-weight="bold">Spatial analysis</text>
<text x="2.0" y="389.4" font-size="15" text-anchor="start" fill="#000" font-weight="bold">f</text>
<line x1="30.70" y1="422.30" x2="30.70" y2="554.00" stroke="#333" stroke-width="1"/>
<line x1="30.70" y1="554.30" x2="205.00" y2="554.30" stroke="#333" stroke-width="1"/>
<line x1="28.10" y1="554.00" x2="30.70" y2="554.00" stroke="#333" stroke-width="0.8"/>
<text x="27.4" y="557.3" font-size="9" text-anchor="end" fill="#222">0</text>
<line x1="28.10" y1="522.45" x2="30.70" y2="522.45" stroke="#333" stroke-width="0.8"/>
<text x="27.4" y="525.8" font-size="9" text-anchor="end" fill="#222">5</text>
<line x1="28.10" y1="490.90" x2="30.70" y2="490.90" stroke="#333" stroke-width="0.8"/>
<text x="27.4" y="494.2" font-size="9" text-anchor="end" fill="#222">10</text>
<line x1="28.10" y1="459.35" x2="30.70" y2="459.35" stroke="#333" stroke-width="0.8"/>
<text x="27.4" y="462.7" font-size="9" text-anchor="end" fill="#222">15</text>
<line x1="28.10" y1="427.80" x2="30.70" y2="427.80" stroke="#333" stroke-width="0.8"/>
<text x="27.4" y="431.1" font-size="9" text-anchor="end" fill="#222">20</text>
<text x="12.8" y="486.8" font-size="9" text-anchor="middle" fill="#222" transform="rotate(-90 12.8 486.8)">Relative expression (2^(-DDCt))</text>
<line x1="38.25" y1="547.06" x2="38.25" y2="547.69" stroke="#999" stroke-width="0.8"/>
<line x1="36.45" y1="547.06" x2="40.05" y2="547.06" stroke="#999" stroke-width="0.8"/>
<rect x="34.60" y="547.69" width="7.30" height="6.31" fill="#ffffff" stroke="#111" stroke-width="0.9"/>
<line x1="48.20" y1="533.81" x2="48.20" y2="540.75" stroke="#aaa" stroke-width="0.8"/>
<line x1="46.40" y1="533.81" x2="50.00" y2="533.81" stroke="#aaa" stroke-width="0.8"/>
<rect x="44.55" y="540.75" width="7.30" height="13.25" fill="#d2d2d2" stroke="#111" stroke-width="0.9"/>
<line x1="58.15" y1="549.27" x2="58.15" y2="550.02" stroke="#f08080" stroke-width="0.8"/>
<line x1="56.35" y1="549.27" x2="59.95" y2="549.27" stroke="#f08080" stroke-width="0.8"/>
<rect x="54.50" y="550.02" width="7.30" height="3.98" fill="#f28a8a" stroke="#222" stroke-width="0.9"/>
<line x1="68.10" y1="498.47" x2="68.10" y2="529.39" stroke="#c080f0" stroke-width="0.8"/>
<line x1="66.30" y1="498.47" x2="69.90" y2="498.47" stroke="#c080f0" stroke-width="0.8"/>
<rect x="64.45" y="529.39" width="7.30" height="24.61" fill="#a21cf0" stroke="#222" stroke-width="0.9"/>
<text x="53.1" y="566.2" font-size="9" text-anchor="middle" fill="#111">JAK1</text>
<line x1="81.25" y1="546.43" x2="81.25" y2="547.82" stroke="#999" stroke-width="0.8"/>
<line x1="79.45" y1="546.43" x2="83.05" y2="546.43" stroke="#999" stroke-width="0.8"/>
<rect x="77.60" y="547.82" width="7.30" height="6.18" fill="#ffffff" stroke="#111" stroke-width="0.9"/>
<line x1="91.20" y1="538.23" x2="91.20" y2="542.20" stroke="#aaa" stroke-width="0.8"/>
<line x1="89.40" y1="538.23" x2="93.00" y2="538.23" stroke="#aaa" stroke-width="0.8"/>
<rect x="87.55" y="542.20" width="7.30" height="11.80" fill="#d2d2d2" stroke="#111" stroke-width="0.9"/>
<line x1="101.15" y1="552.11" x2="101.15" y2="552.49" stroke="#f08080" stroke-width="0.8"/>
<line x1="99.35" y1="552.11" x2="102.95" y2="552.11" stroke="#f08080" stroke-width="0.8"/>
<rect x="97.50" y="552.49" width="7.30" height="1.51" fill="#f28a8a" stroke="#222" stroke-width="0.9"/>
<line x1="111.10" y1="545.17" x2="111.10" y2="550.02" stroke="#c080f0" stroke-width="0.8"/>
<line x1="109.30" y1="545.17" x2="112.90" y2="545.17" stroke="#c080f0" stroke-width="0.8"/>
<rect x="107.45" y="550.02" width="7.30" height="3.98" fill="#a21cf0" stroke="#222" stroke-width="0.9"/>
<text x="96.1" y="566.2" font-size="9" text-anchor="middle" fill="#111">JAK2</text>
<line x1="124.25" y1="541.38" x2="124.25" y2="547.06" stroke="#999" stroke-width="0.8"/>
<line x1="122.45" y1="541.38" x2="126.05" y2="541.38" stroke="#999" stroke-width="0.8"/>
<rect x="120.60" y="547.06" width="7.30" height="6.94" fill="#ffffff" stroke="#111" stroke-width="0.9"/>
<line x1="134.20" y1="449.88" x2="134.20" y2="470.39" stroke="#aaa" stroke-width="0.8"/>
<line x1="132.40" y1="449.88" x2="136.00" y2="449.88" stroke="#aaa" stroke-width="0.8"/>
<rect x="130.55" y="470.39" width="7.30" height="83.61" fill="#d2d2d2" stroke="#111" stroke-width="0.9"/>
<line x1="144.15" y1="537.59" x2="144.15" y2="545.99" stroke="#f08080" stroke-width="0.8"/>
<line x1="142.35" y1="537.59" x2="145.95" y2="537.59" stroke="#f08080" stroke-width="0.8"/>
<rect x="140.50" y="545.99" width="7.30" height="8.01" fill="#f28a8a" stroke="#222" stroke-width="0.9"/>
<line x1="154.10" y1="427.80" x2="154.10" y2="485.22" stroke="#c080f0" stroke-width="0.8"/>
<line x1="152.30" y1="427.80" x2="155.90" y2="427.80" stroke="#c080f0" stroke-width="0.8"/>
<rect x="150.45" y="485.22" width="7.30" height="68.78" fill="#a21cf0" stroke="#222" stroke-width="0.9"/>
<text x="139.1" y="566.2" font-size="9" text-anchor="middle" fill="#111">JAK3</text>
<line x1="167.25" y1="547.06" x2="167.25" y2="547.75" stroke="#999" stroke-width="0.8"/>
<line x1="165.45" y1="547.06" x2="169.05" y2="547.06" stroke="#999" stroke-width="0.8"/>
<rect x="163.60" y="547.75" width="7.30" height="6.25" fill="#ffffff" stroke="#111" stroke-width="0.9"/>
<line x1="177.20" y1="538.86" x2="177.20" y2="540.75" stroke="#aaa" stroke-width="0.8"/>
<line x1="175.40" y1="538.86" x2="179.00" y2="538.86" stroke="#aaa" stroke-width="0.8"/>
<rect x="173.55" y="540.75" width="7.30" height="13.25" fill="#d2d2d2" stroke="#111" stroke-width="0.9"/>
<line x1="187.15" y1="549.58" x2="187.15" y2="550.53" stroke="#f08080" stroke-width="0.8"/>
<line x1="185.35" y1="549.58" x2="188.95" y2="549.58" stroke="#f08080" stroke-width="0.8"/>
<rect x="183.50" y="550.53" width="7.30" height="3.47" fill="#f28a8a" stroke="#222" stroke-width="0.9"/>
<line x1="197.10" y1="482.07" x2="197.10" y2="516.14" stroke="#c080f0" stroke-width="0.8"/>
<line x1="195.30" y1="482.07" x2="198.90" y2="482.07" stroke="#c080f0" stroke-width="0.8"/>
<rect x="193.45" y="516.14" width="7.30" height="37.86" fill="#a21cf0" stroke="#222" stroke-width="0.9"/>
<text x="182.1" y="566.2" font-size="9" text-anchor="middle" fill="#111">TYK2</text>
<circle cx="68.00" cy="460.80" r="0.90" fill="#a21cf0"/>
<circle cx="47.90" cy="532.00" r="0.90" fill="#777"/>
<circle cx="133.90" cy="442.40" r="0.90" fill="#777"/>
<circle cx="133.90" cy="458.00" r="0.90" fill="#999"/>
<circle cx="154.30" cy="438.00" r="0.90" fill="#a21cf0"/>
<circle cx="154.30" cy="473.40" r="0.90" fill="#a21cf0"/>
<circle cx="154.30" cy="482.20" r="0.90" fill="#a21cf0"/>
<circle cx="194.60" cy="470.60" r="0.90" fill="#a21cf0"/>
<circle cx="199.50" cy="471.00" r="0.90" fill="#a21cf0"/>
<circle cx="196.80" cy="508.60" r="0.90" fill="#a21cf0"/>
<circle cx="81.30" cy="545.00" r="0.90" fill="#777"/>
<circle cx="90.80" cy="538.00" r="0.90" fill="#888"/>
<circle cx="109.50" cy="545.50" r="0.90" fill="#a21cf0"/>
<circle cx="112.50" cy="545.50" r="0.90" fill="#a21cf0"/>
<circle cx="111.00" cy="548.00" r="0.90" fill="#a21cf0"/>
<circle cx="144.00" cy="536.00" r="0.90" fill="#f08080"/>
<circle cx="144.00" cy="540.00" r="0.90" fill="#f08080"/>
<circle cx="123.90" cy="541.50" r="0.90" fill="#555"/>
<circle cx="166.80" cy="545.00" r="0.90" fill="#666"/>
<circle cx="176.90" cy="535.50" r="0.90" fill="#888"/>
<circle cx="179.00" cy="534.50" r="0.90" fill="#888"/>
<circle cx="187.00" cy="547.00" r="0.90" fill="#f08080"/>
<circle cx="189.00" cy="546.00" r="0.90" fill="#f08080"/>
<circle cx="58.00" cy="549.50" r="0.90" fill="#f08080"/>
<circle cx="55.50" cy="550.00" r="0.90" fill="#f08080"/>
<text x="35.0" y="420.6" font-size="9" fill="#222"><tspan font-style="italic">p</tspan> = 0.114</text>
<polyline points="55.7,424.6 55.7,423 68.0,423 68.0,424.6" fill="none" stroke="#333" stroke-width="0.7"/>
<text x="80.2" y="420.6" font-size="9" fill="#222"><tspan font-style="italic">p</tspan> = 0.047</text>
<polyline points="98.5,424.6 98.5,423 110.8,423 110.8,424.6" fill="none" stroke="#333" stroke-width="0.7"/>
<text x="124.2" y="420.6" font-size="9" fill="#222"><tspan font-style="italic">p</tspan> = 0.032</text>
<polyline points="142.0,424.6 142.0,423 154.7,423 154.7,424.6" fill="none" stroke="#333" stroke-width="0.7"/>
<text x="165.7" y="420.6" font-size="9" fill="#222"><tspan font-style="italic">p</tspan> = 0.036</text>
<polyline points="185.0,424.6 185.0,423 197.2,423 197.2,424.6" fill="none" stroke="#333" stroke-width="0.7"/>
<rect x="14.40" y="570.60" width="4.60" height="7.20" fill="#ffffff" stroke="#3a4a7a" stroke-width="0.8"/>
<text x="22.8" y="577.8" font-size="9" text-anchor="start" fill="#222">Benign fallopian tube</text>
<rect x="14.40" y="580.80" width="4.60" height="7.20" fill="#d2d2d2" stroke="#3a4a7a" stroke-width="0.8"/>
<text x="22.8" y="587.8" font-size="9" text-anchor="start" fill="#222">Benign ovary</text>
<rect x="124.60" y="570.40" width="4.60" height="7.20" fill="#f28a8a" stroke="#555" stroke-width="0.5"/>
<text x="133.1" y="577.6" font-size="9" text-anchor="start" fill="#222">Platinum-sensitive</text>
<rect x="124.60" y="580.40" width="4.60" height="7.20" fill="#a21cf0" stroke="#555" stroke-width="0.5"/>
<text x="133.1" y="587.4" font-size="9" text-anchor="start" fill="#222">Platinum-resistant</text>
<text x="213.5" y="389.2" font-size="15" text-anchor="start" fill="#000" font-weight="bold">g</text>
<rect x="254.50" y="398.50" width="41.20" height="68.50" fill="none" stroke="#c8c8c8" stroke-width="0.8"/>
<text x="275.1" y="395.9" font-size="9" text-anchor="middle" fill="#111">JAK1</text>
<line x1="252.50" y1="416.50" x2="254.50" y2="416.50" stroke="#999" stroke-width="0.6"/>
<text x="252.2" y="419.7" font-size="9" text-anchor="end" fill="#222">4e3</text>
<line x1="252.50" y1="440.60" x2="254.50" y2="440.60" stroke="#999" stroke-width="0.6"/>
<text x="252.2" y="443.8" font-size="9" text-anchor="end" fill="#222">2e3</text>
<line x1="252.50" y1="465.80" x2="254.50" y2="465.80" stroke="#999" stroke-width="0.6"/>
<text x="252.2" y="469.0" font-size="9" text-anchor="end" fill="#222">0</text>
<line x1="265.30" y1="403.60" x2="265.30" y2="420.90" stroke="#aaa" stroke-width="0.6" stroke-dasharray="0.8 1.2"/>
<line x1="265.30" y1="439.30" x2="265.30" y2="461.10" stroke="#aaa" stroke-width="0.6" stroke-dasharray="0.8 1.2"/>
<line x1="261.50" y1="403.60" x2="269.10" y2="403.60" stroke="#888" stroke-width="0.7"/>
<line x1="261.50" y1="461.10" x2="269.10" y2="461.10" stroke="#888" stroke-width="0.7"/>
<rect x="257.70" y="420.90" width="15.20" height="18.40" fill="#e0606a" stroke="#c04050" stroke-width="0.5"/>
<line x1="257.70" y1="432.10" x2="272.90" y2="432.10" stroke="#a01828" stroke-width="1.2"/>
<line x1="265.30" y1="467.00" x2="265.30" y2="468.60" stroke="#999" stroke-width="0.6"/>
<line x1="284.00" y1="401.30" x2="284.00" y2="425.40" stroke="#aaa" stroke-width="0.6" stroke-dasharray="0.8 1.2"/>
<line x1="284.00" y1="442.10" x2="284.00" y2="464.30" stroke="#aaa" stroke-width="0.6" stroke-dasharray="0.8 1.2"/>
<line x1="280.20" y1="401.30" x2="287.80" y2="401.30" stroke="#888" stroke-width="0.7"/>
<line x1="280.20" y1="464.30" x2="287.80" y2="464.30" stroke="#888" stroke-width="0.7"/>
<rect x="276.10" y="425.40" width="15.80" height="16.70" fill="#d4d4d4" stroke="#b0b0b0" stroke-width="0.5"/>
<line x1="276.10" y1="434.00" x2="291.90" y2="434.00" stroke="#555" stroke-width="1.2"/>
<line x1="284.00" y1="467.00" x2="284.00" y2="468.60" stroke="#999" stroke-width="0.6"/>
<rect x="315.10" y="398.50" width="41.20" height="68.50" fill="none" stroke="#c8c8c8" stroke-width="0.8"/>
<text x="335.7" y="395.9" font-size="9" text-anchor="middle" fill="#111">JAK2</text>
<line x1="313.10" y1="416.10" x2="315.10" y2="416.10" stroke="#999" stroke-width="0.6"/>
<text x="312.8" y="419.3" font-size="9" text-anchor="end" fill="#222">150</text>
<line x1="313.10" y1="431.70" x2="315.10" y2="431.70" stroke="#999" stroke-width="0.6"/>
<text x="312.8" y="434.9" font-size="9" text-anchor="end" fill="#222">100</text>
<line x1="313.10" y1="447.80" x2="315.10" y2="447.80" stroke="#999" stroke-width="0.6"/>
<text x="312.8" y="451.0" font-size="9" text-anchor="end" fill="#222">50</text>
<line x1="313.10" y1="465.80" x2="315.10" y2="465.80" stroke="#999" stroke-width="0.6"/>
<text x="312.8" y="469.0" font-size="9" text-anchor="end" fill="#222">0</text>
<line x1="326.20" y1="401.50" x2="326.20" y2="429.50" stroke="#aaa" stroke-width="0.6" stroke-dasharray="0.8 1.2"/>
<line x1="326.20" y1="451.20" x2="326.20" y2="463.60" stroke="#aaa" stroke-width="0.6" stroke-dasharray="0.8 1.2"/>
<line x1="322.40" y1="401.50" x2="330.00" y2="401.50" stroke="#888" stroke-width="0.7"/>
<line x1="322.40" y1="463.60" x2="330.00" y2="463.60" stroke="#888" stroke-width="0.7"/>
<rect x="318.60" y="429.50" width="15.20" height="21.70" fill="#e0606a" stroke="#c04050" stroke-width="0.5"/>
<line x1="318.60" y1="443.00" x2="333.80" y2="443.00" stroke="#a01828" stroke-width="1.2"/>
<line x1="326.20" y1="467.00" x2="326.20" y2="468.60" stroke="#999" stroke-width="0.6"/>
<line x1="345.15" y1="402.00" x2="345.15" y2="434.40" stroke="#aaa" stroke-width="0.6" stroke-dasharray="0.8 1.2"/>
<line x1="345.15" y1="456.40" x2="345.15" y2="464.10" stroke="#aaa" stroke-width="0.6" stroke-dasharray="0.8 1.2"/>
<line x1="341.35" y1="402.00" x2="348.95" y2="402.00" stroke="#888" stroke-width="0.7"/>
<line x1="341.35" y1="464.10" x2="348.95" y2="464.10" stroke="#888" stroke-width="0.7"/>
<rect x="337.60" y="434.40" width="15.10" height="22.00" fill="#d4d4d4" stroke="#b0b0b0" stroke-width="0.5"/>
<line x1="337.60" y1="446.10" x2="352.70" y2="446.10" stroke="#555" stroke-width="1.2"/>
<line x1="345.15" y1="467.00" x2="345.15" y2="468.60" stroke="#999" stroke-width="0.6"/>
<rect x="376.60" y="398.50" width="40.40" height="68.50" fill="none" stroke="#c8c8c8" stroke-width="0.8"/>
<text x="396.8" y="395.9" font-size="9" text-anchor="middle" fill="#111">JAK3</text>
<line x1="374.60" y1="409.90" x2="376.60" y2="409.90" stroke="#999" stroke-width="0.6"/>
<text x="374.2" y="413.1" font-size="9" text-anchor="end" fill="#222">400</text>
<line x1="374.60" y1="437.90" x2="376.60" y2="437.90" stroke="#999" stroke-width="0.6"/>
<text x="374.2" y="441.1" font-size="9" text-anchor="end" fill="#222">200</text>
<line x1="374.60" y1="466.00" x2="376.60" y2="466.00" stroke="#999" stroke-width="0.6"/>
<text x="374.2" y="469.2" font-size="9" text-anchor="end" fill="#222">0</text>
<line x1="387.00" y1="401.50" x2="387.00" y2="429.80" stroke="#aaa" stroke-width="0.6" stroke-dasharray="0.8 1.2"/>
<line x1="387.00" y1="455.40" x2="387.00" y2="464.10" stroke="#aaa" stroke-width="0.6" stroke-dasharray="0.8 1.2"/>
<line x1="383.20" y1="401.50" x2="390.80" y2="401.50" stroke="#888" stroke-width="0.7"/>
<line x1="383.20" y1="464.10" x2="390.80" y2="464.10" stroke="#888" stroke-width="0.7"/>
<rect x="379.40" y="429.80" width="15.20" height="25.60" fill="#e0606a" stroke="#c04050" stroke-width="0.5"/>
<line x1="379.40" y1="447.30" x2="394.60" y2="447.30" stroke="#a01828" stroke-width="1.2"/>
<line x1="387.00" y1="467.00" x2="387.00" y2="468.60" stroke="#999" stroke-width="0.6"/>
<line x1="405.90" y1="424.40" x2="405.90" y2="445.20" stroke="#aaa" stroke-width="0.6" stroke-dasharray="0.8 1.2"/>
<line x1="405.90" y1="459.40" x2="405.90" y2="464.10" stroke="#aaa" stroke-width="0.6" stroke-dasharray="0.8 1.2"/>
<line x1="402.10" y1="424.40" x2="409.70" y2="424.40" stroke="#888" stroke-width="0.7"/>
<line x1="402.10" y1="464.10" x2="409.70" y2="464.10" stroke="#888" stroke-width="0.7"/>
<rect x="398.30" y="445.20" width="15.20" height="14.20" fill="#d4d4d4" stroke="#b0b0b0" stroke-width="0.5"/>
<line x1="398.30" y1="453.10" x2="413.50" y2="453.10" stroke="#555" stroke-width="1.2"/>
<line x1="405.90" y1="467.00" x2="405.90" y2="468.60" stroke="#999" stroke-width="0.6"/>
<rect x="436.90" y="398.50" width="40.90" height="68.50" fill="none" stroke="#c8c8c8" stroke-width="0.8"/>
<text x="457.4" y="395.9" font-size="9" text-anchor="middle" fill="#111">TYK2</text>
<line x1="434.90" y1="410.10" x2="436.90" y2="410.10" stroke="#999" stroke-width="0.6"/>
<text x="434.6" y="413.3" font-size="9" text-anchor="end" fill="#222">1e3</text>
<line x1="434.90" y1="438.40" x2="436.90" y2="438.40" stroke="#999" stroke-width="0.6"/>
<text x="434.6" y="441.6" font-size="9" text-anchor="end" fill="#222">500</text>
<line x1="434.90" y1="466.20" x2="436.90" y2="466.20" stroke="#999" stroke-width="0.6"/>
<text x="434.6" y="469.4" font-size="9" text-anchor="end" fill="#222">0</text>
<line x1="447.90" y1="401.40" x2="447.90" y2="421.70" stroke="#aaa" stroke-width="0.6" stroke-dasharray="0.8 1.2"/>
<line x1="447.90" y1="444.80" x2="447.90" y2="455.30" stroke="#aaa" stroke-width="0.6" stroke-dasharray="0.8 1.2"/>
<line x1="444.10" y1="401.40" x2="451.70" y2="401.40" stroke="#888" stroke-width="0.7"/>
<line x1="444.10" y1="455.30" x2="451.70" y2="455.30" stroke="#888" stroke-width="0.7"/>
<rect x="440.20" y="421.70" width="15.40" height="23.10" fill="#e0606a" stroke="#c04050" stroke-width="0.5"/>
<line x1="440.20" y1="434.30" x2="455.60" y2="434.30" stroke="#a01828" stroke-width="1.2"/>
<line x1="447.90" y1="467.00" x2="447.90" y2="468.60" stroke="#999" stroke-width="0.6"/>
<line x1="466.90" y1="403.60" x2="466.90" y2="430.20" stroke="#aaa" stroke-width="0.6" stroke-dasharray="0.8 1.2"/>
<line x1="466.90" y1="448.10" x2="466.90" y2="464.30" stroke="#aaa" stroke-width="0.6" stroke-dasharray="0.8 1.2"/>
<line x1="463.10" y1="403.60" x2="470.70" y2="403.60" stroke="#888" stroke-width="0.7"/>
<line x1="463.10" y1="464.30" x2="470.70" y2="464.30" stroke="#888" stroke-width="0.7"/>
<rect x="459.10" y="430.20" width="15.60" height="17.90" fill="#d4d4d4" stroke="#b0b0b0" stroke-width="0.5"/>
<line x1="459.10" y1="440.40" x2="474.70" y2="440.40" stroke="#555" stroke-width="1.2"/>
<line x1="466.90" y1="467.00" x2="466.90" y2="468.60" stroke="#999" stroke-width="0.6"/>
<text x="233.4" y="434.5" font-size="9" text-anchor="middle" fill="#222" transform="rotate(-90 233.4 434.5)">Gene expression</text>
<rect x="235.30" y="478.40" width="3.60" height="5.60" fill="#e0606a" stroke="#555" stroke-width="0.5"/>
<text x="243.5" y="484.2" font-size="9" text-anchor="start" fill="#222">Platinum-resistant (n = 96)</text>
<rect x="360.20" y="478.20" width="3.60" height="5.80" fill="#aaaaaa" stroke="#3a4a7a" stroke-width="0.8"/>
<text x="368.6" y="484.1" font-size="9" text-anchor="start" fill="#222">Platinum-sensitive (n = 862)</text>
<text x="213.5" y="505.2" font-size="15" text-anchor="start" fill="#000" font-weight="bold">h</text>
<rect x="251.50" y="511.70" width="40.30" height="70.60" fill="none" stroke="#c8c8c8" stroke-width="0.9"/>
<text x="273.6" y="509.9" font-size="9" text-anchor="middle" fill="#111">JAK1</text>
<line x1="249.70" y1="521.20" x2="251.50" y2="521.20" stroke="#999" stroke-width="0.6"/>
<text x="249.6" y="524.3" font-size="8.6" text-anchor="end" fill="#222">6</text>
<line x1="249.70" y1="531.40" x2="251.50" y2="531.40" stroke="#999" stroke-width="0.6"/>
<text x="249.6" y="534.5" font-size="8.6" text-anchor="end" fill="#222">5</text>
<line x1="249.70" y1="541.40" x2="251.50" y2="541.40" stroke="#999" stroke-width="0.6"/>
<text x="249.6" y="544.5" font-size="8.6" text-anchor="end" fill="#222">4</text>
<line x1="249.70" y1="550.80" x2="251.50" y2="550.80" stroke="#999" stroke-width="0.6"/>
<text x="249.6" y="553.9" font-size="8.6" text-anchor="end" fill="#222">3</text>
<line x1="249.70" y1="561.00" x2="251.50" y2="561.00" stroke="#999" stroke-width="0.6"/>
<text x="249.6" y="564.1" font-size="8.6" text-anchor="end" fill="#222">2</text>
<line x1="249.70" y1="570.30" x2="251.50" y2="570.30" stroke="#999" stroke-width="0.6"/>
<text x="249.6" y="573.4" font-size="8.6" text-anchor="end" fill="#222">1</text>
<line x1="249.70" y1="579.80" x2="251.50" y2="579.80" stroke="#999" stroke-width="0.6"/>
<text x="249.6" y="582.9" font-size="8.6" text-anchor="end" fill="#222">0</text>
<line x1="265.50" y1="518.90" x2="265.50" y2="555.70" stroke="#888" stroke-width="0.6"/>
<line x1="263.00" y1="518.90" x2="268.00" y2="518.90" stroke="#888" stroke-width="0.6"/>
<line x1="263.00" y1="555.70" x2="268.00" y2="555.70" stroke="#888" stroke-width="0.6"/>
<rect x="260.30" y="530.00" width="10.40" height="10.90" fill="#f4545e" stroke="#444" stroke-width="0.4"/>
<line x1="260.30" y1="534.40" x2="270.70" y2="534.40" stroke="#222" stroke-width="1.0"/>
<path d="M266.5 545.9h0.7M264.5 536.0h0.7M265.2 526.6h0.7M263.9 527.2h0.7M265.3 537.1h0.7M264.3 539.9h0.7M265.1 535.5h0.7M265.6 523.3h0.7M267.3 538.0h0.7M265.0 537.1h0.7M265.3 545.4h0.7M264.8 542.8h0.7M266.1 537.2h0.7M265.3 541.1h0.7M265.6 526.7h0.7M265.8 536.1h0.7M266.1 537.2h0.7M265.3 535.0h0.7M264.2 540.8h0.7M264.7 532.2h0.7M265.1 551.4h0.7M265.7 540.7h0.7M263.8 533.2h0.7M264.8 543.2h0.7M264.0 541.2h0.7M266.3 531.9h0.7M264.0 547.0h0.7M265.1 524.7h0.7M265.3 541.3h0.7M264.3 537.9h0.7M266.2 540.2h0.7M263.9 531.9h0.7M265.8 529.3h0.7M265.1 521.5h0.7M265.0 527.4h0.7M265.2 533.5h0.7M265.5 547.6h0.7M265.0 546.2h0.7M265.5 531.6h0.7M265.3 535.1h0.7M265.6 525.5h0.7M262.9 530.9h0.7M264.3 533.7h0.7M265.0 531.2h0.7M265.2 545.6h0.7M265.5 535.2h0.7M266.3 520.8h0.7M265.5 526.8h0.7M264.3 526.4h0.7M266.9 532.3h0.7M264.6 541.1h0.7M264.1 533.2h0.7M264.6 535.2h0.7M263.9 541.3h0.7M264.4 532.7h0.7M265.8 529.6h0.7M265.7 536.5h0.7M266.2 545.1h0.7M265.6 524.4h0.7M265.1 521.2h0.7M265.0 550.9h0.7M265.3 532.5h0.7M265.2 535.6h0.7M266.1 529.3h0.7M265.0 542.6h0.7M265.7 538.0h0.7M265.5 543.8h0.7M264.9 541.1h0.7M264.7 526.8h0.7M266.0 543.7h0.7M264.6 536.6h0.7M266.6 537.9h0.7M264.5 546.4h0.7M263.8 535.1h0.7M265.3 526.3h0.7M266.0 535.6h0.7M265.9 545.7h0.7M264.7 546.1h0.7M265.6 526.3h0.7M265.5 557.1h0.7M265.4 526.2h0.7M264.2 547.0h0.7M264.6 541.9h0.7M265.9 545.7h0.7M267.0 537.9h0.7M264.5 532.1h0.7M264.4 550.4h0.7M265.1 553.2h0.7M265.1 527.1h0.7M265.3 536.5h0.7M266.1 533.9h0.7M264.9 531.0h0.7M263.4 550.1h0.7M264.1 532.7h0.7M265.7 530.1h0.7M266.4 538.8h0.7M265.4 530.6h0.7M266.0 544.9h0.7M266.2 532.7h0.7M266.8 528.0h0.7M265.0 536.7h0.7M265.9 537.6h0.7M265.0 549.5h0.7M265.7 532.5h0.7M263.6 528.4h0.7M264.8 542.2h0.7M264.2 544.5h0.7M265.3 537.7h0.7M265.6 548.4h0.7M265.7 537.9h0.7M265.2 532.5h0.7M265.6 524.5h0.7M264.7 528.9h0.7M266.0 541.1h0.7M267.0 527.3h0.7M265.9 530.7h0.7M265.4 543.1h0.7M266.8 536.8h0.7M265.6 542.6h0.7M264.5 520.7h0.7M265.3 544.8h0.7M264.6 527.7h0.7M265.8 533.0h0.7M266.0 538.6h0.7M266.0 528.9h0.7M264.9 531.4h0.7M265.2 549.4h0.7M265.0 534.3h0.7M266.6 532.3h0.7M265.8 546.6h0.7M266.1 536.9h0.7M265.6 534.8h0.7M265.2 538.7h0.7M266.7 548.8h0.7M263.4 546.1h0.7M265.8 550.3h0.7M265.1 531.8h0.7M266.2 544.6h0.7M265.3 542.4h0.7M265.9 535.7h0.7M264.3 534.7h0.7M265.0 530.4h0.7M267.2 538.1h0.7M265.6 524.4h0.7M265.4 534.7h0.7M266.3 546.4h0.7M264.6 534.2h0.7M265.1 524.4h0.7M264.9 545.5h0.7M265.8 541.1h0.7M266.1 538.7h0.7M264.4 534.5h0.7M266.0 526.0h0.7M264.9 532.5h0.7M264.4 542.2h0.7M265.7 549.7h0.7M264.6 531.2h0.7M264.1 544.2h0.7M265.2 530.3h0.7M265.2 537.1h0.7M264.8 538.6h0.7M266.3 534.5h0.7M264.7 540.7h0.7M263.4 549.3h0.7M265.8 536.1h0.7M265.3 543.3h0.7M265.7 532.3h0.7M265.6 533.9h0.7M264.4 538.5h0.7M265.8 543.0h0.7M264.8 541.3h0.7M264.8 539.0h0.7M265.0 537.2h0.7M266.9 528.4h0.7M263.3 541.3h0.7M263.9 542.7h0.7M264.6 533.6h0.7M265.4 531.1h0.7M263.8 532.8h0.7M265.5 535.4h0.7M264.8 549.7h0.7M264.8 525.8h0.7M264.4 540.7h0.7M265.6 529.6h0.7M265.3 535.4h0.7M264.4 530.4h0.7M265.0 532.8h0.7M265.5 532.8h0.7M265.6 539.9h0.7M264.4 539.3h0.7M265.9 526.4h0.7M265.3 535.6h0.7M265.0 526.1h0.7M264.4 530.3h0.7M263.8 530.4h0.7M266.2 536.1h0.7M265.2 529.7h0.7M265.8 526.6h0.7M264.0 550.5h0.7M266.4 533.6h0.7M265.3 538.4h0.7M265.0 519.0h0.7M266.4 542.9h0.7M264.6 540.6h0.7M263.5 529.9h0.7M266.2 526.8h0.7M263.9 534.5h0.7M263.6 546.1h0.7M264.9 545.6h0.7M265.8 538.2h0.7M266.3 537.6h0.7M264.9 535.6h0.7M263.8 530.1h0.7M266.0 529.8h0.7M266.4 542.1h0.7M265.8 557.5h0.7M264.0 539.5h0.7M267.1 533.5h0.7M265.0 539.7h0.7M263.4 537.9h0.7M264.0 528.7h0.7M266.0 541.7h0.7M265.5 534.0h0.7M265.6 527.3h0.7M266.5 541.6h0.7M265.6 548.1h0.7M264.4 534.4h0.7M265.7 530.6h0.7M265.2 540.0h0.7M265.7 548.9h0.7M265.0 535.6h0.7M264.3 536.1h0.7M265.5 527.5h0.7M264.9 530.7h0.7M265.0 545.3h0.7M265.1 546.1h0.7M265.6 547.7h0.7M266.3 521.3h0.7M263.4 533.8h0.7M265.3 536.4h0.7M264.6 525.0h0.7M266.4 539.9h0.7M266.3 544.7h0.7M262.9 544.5h0.7M265.3 529.6h0.7M266.0 541.7h0.7M264.8 529.2h0.7M265.1 527.9h0.7M265.1 535.1h0.7M265.5 527.2h0.7M266.0 532.7h0.7M263.8 538.0h0.7M265.2 523.8h0.7M265.6 531.5h0.7M265.2 542.0h0.7M264.1 521.8h0.7M264.2 540.1h0.7M265.1 544.4h0.7M264.4 539.6h0.7M262.5 534.6h0.7M265.7 533.8h0.7M264.4 528.2h0.7M265.2 535.0h0.7M265.8 528.9h0.7M266.2 522.2h0.7M264.4 524.1h0.7M264.3 546.2h0.7M265.2 522.1h0.7M264.1 528.0h0.7M264.5 529.8h0.7M264.2 527.6h0.7M264.5 548.5h0.7M263.9 543.3h0.7M264.0 539.8h0.7M265.7 531.7h0.7M263.4 531.2h0.7M265.0 531.0h0.7M264.3 540.1h0.7M265.2 533.0h0.7M265.1 522.1h0.7M265.5 528.8h0.7M265.0 534.6h0.7M264.8 534.6h0.7M264.7 527.8h0.7M265.3 525.2h0.7M265.7 540.8h0.7M266.7 531.3h0.7M264.3 542.3h0.7M263.7 534.3h0.7M265.8 534.5h0.7M264.8 545.7h0.7M265.0 521.0h0.7M265.3 546.4h0.7" stroke="#111" stroke-width="0.7" opacity="0.6"/>
<line x1="260.60" y1="579.90" x2="270.40" y2="579.90" stroke="#8a8a8a" stroke-width="1.4"/>
<line x1="278.10" y1="517.20" x2="278.10" y2="529.40" stroke="#888" stroke-width="0.6"/>
<line x1="275.60" y1="517.20" x2="280.60" y2="517.20" stroke="#888" stroke-width="0.6"/>
<line x1="275.60" y1="529.40" x2="280.60" y2="529.40" stroke="#888" stroke-width="0.6"/>
<rect x="273.20" y="521.20" width="9.80" height="3.70" fill="#5a5a5a" stroke="#444" stroke-width="0.4"/>
<line x1="273.20" y1="523.10" x2="283.00" y2="523.10" stroke="#222" stroke-width="1.0"/>
<path d="M278.5 526.5h0.7M278.3 527.3h0.7M278.2 521.2h0.7M277.3 530.0h0.7M279.6 518.0h0.7M277.2 524.2h0.7M276.4 521.4h0.7M277.9 525.0h0.7M277.4 521.3h0.7M278.7 521.9h0.7M279.0 522.5h0.7M277.2 520.8h0.7M277.3 521.7h0.7M278.7 522.8h0.7M276.8 526.4h0.7M277.8 526.6h0.7M277.6 527.4h0.7M278.5 520.8h0.7M277.3 524.8h0.7M277.9 523.1h0.7M276.2 523.9h0.7M277.8 519.7h0.7M277.3 523.8h0.7M279.0 518.2h0.7M276.8 522.2h0.7M278.8 527.4h0.7M278.5 525.9h0.7M276.9 524.6h0.7M278.1 523.1h0.7M278.2 524.8h0.7M277.2 520.3h0.7M277.6 522.1h0.7M276.1 520.7h0.7M278.0 519.7h0.7M278.3 523.0h0.7M277.4 517.9h0.7M276.0 525.5h0.7M276.3 520.1h0.7M277.8 526.4h0.7M277.9 521.5h0.7M278.6 522.8h0.7M278.6 526.3h0.7M278.4 524.0h0.7M278.8 525.3h0.7M278.1 518.0h0.7M277.9 523.3h0.7M277.7 522.4h0.7M277.9 524.4h0.7M276.8 523.4h0.7M277.1 519.6h0.7M277.3 518.2h0.7M276.1 520.7h0.7M277.3 517.7h0.7M279.7 521.5h0.7M277.0 525.4h0.7M276.8 521.7h0.7M277.4 520.9h0.7M277.2 522.9h0.7M278.3 525.3h0.7M276.6 528.4h0.7" stroke="#111" stroke-width="0.7" opacity="0.6"/>
<line x1="273.50" y1="579.90" x2="282.70" y2="579.90" stroke="#8a8a8a" stroke-width="1.4"/>
<polyline points="265.6,517.0 265.6,514.3 278.3,514.3 278.3,516.6" fill="none" stroke="#777" stroke-width="0.5"/>
<circle cx="271.95" cy="514.30" r="0.70" fill="#ff2020"/>
<rect x="313.50" y="511.70" width="40.60" height="70.60" fill="none" stroke="#c8c8c8" stroke-width="0.9"/>
<text x="335.8" y="509.9" font-size="9" text-anchor="middle" fill="#111">JAK2</text>
<line x1="311.70" y1="515.40" x2="313.50" y2="515.40" stroke="#999" stroke-width="0.6"/>
<text x="311.8" y="518.5" font-size="8.6" text-anchor="end" fill="#222">5</text>
<line x1="311.70" y1="528.60" x2="313.50" y2="528.60" stroke="#999" stroke-width="0.6"/>
<text x="311.8" y="531.7" font-size="8.6" text-anchor="end" fill="#222">4</text>
<line x1="311.70" y1="541.60" x2="313.50" y2="541.60" stroke="#999" stroke-width="0.6"/>
<text x="311.8" y="544.7" font-size="8.6" text-anchor="end" fill="#222">3</text>
<line x1="311.70" y1="554.50" x2="313.50" y2="554.50" stroke="#999" stroke-width="0.6"/>
<text x="311.8" y="557.6" font-size="8.6" text-anchor="end" fill="#222">2</text>
<line x1="311.70" y1="567.00" x2="313.50" y2="567.00" stroke="#999" stroke-width="0.6"/>
<text x="311.8" y="570.1" font-size="8.6" text-anchor="end" fill="#222">1</text>
<line x1="311.70" y1="579.80" x2="313.50" y2="579.80" stroke="#999" stroke-width="0.6"/>
<text x="311.8" y="582.9" font-size="8.6" text-anchor="end" fill="#222">0</text>
<line x1="327.60" y1="541.30" x2="327.60" y2="577.20" stroke="#888" stroke-width="0.6"/>
<line x1="325.10" y1="541.30" x2="330.10" y2="541.30" stroke="#888" stroke-width="0.6"/>
<line x1="325.10" y1="577.20" x2="330.10" y2="577.20" stroke="#888" stroke-width="0.6"/>
<rect x="322.40" y="556.10" width="10.40" height="10.50" fill="#f4545e" stroke="#444" stroke-width="0.4"/>
<line x1="322.40" y1="561.00" x2="332.80" y2="561.00" stroke="#222" stroke-width="1.0"/>
<path d="M327.6 556.2h0.7M328.0 562.5h0.7M326.9 550.4h0.7M326.3 555.5h0.7M326.8 554.8h0.7M326.4 559.1h0.7M326.8 564.6h0.7M326.9 570.6h0.7M327.5 555.6h0.7M327.3 563.1h0.7M327.4 554.7h0.7M328.5 549.4h0.7M327.1 551.5h0.7M327.4 561.5h0.7M327.7 559.4h0.7M327.0 559.5h0.7M328.5 557.0h0.7M327.1 552.7h0.7M327.4 544.5h0.7M325.7 547.7h0.7M327.1 565.8h0.7M325.8 561.7h0.7M327.5 552.1h0.7M327.4 543.7h0.7M327.2 546.7h0.7M328.7 551.6h0.7M326.7 568.3h0.7M326.4 545.4h0.7M326.2 559.9h0.7M328.0 562.6h0.7M326.7 559.9h0.7M326.9 566.5h0.7M326.8 567.0h0.7M326.9 573.1h0.7M327.2 552.0h0.7M326.3 555.3h0.7M327.8 559.3h0.7M327.1 543.3h0.7M327.0 559.1h0.7M325.9 566.7h0.7M326.9 565.6h0.7M326.9 561.3h0.7M326.7 557.8h0.7M329.1 563.7h0.7M327.9 568.8h0.7M326.7 564.9h0.7M329.0 565.3h0.7M327.9 550.4h0.7M327.4 568.6h0.7M328.4 566.8h0.7M328.7 571.0h0.7M327.9 563.3h0.7M327.5 562.1h0.7M327.8 557.2h0.7M327.0 572.3h0.7M327.8 562.9h0.7M328.1 561.1h0.7M326.1 563.0h0.7M327.9 552.9h0.7M328.2 566.0h0.7M327.4 563.0h0.7M328.5 548.6h0.7M328.2 553.8h0.7M326.6 552.1h0.7M326.8 562.3h0.7M328.0 555.6h0.7M327.6 566.4h0.7M326.5 558.5h0.7M326.8 557.4h0.7M327.9 560.9h0.7M326.5 559.8h0.7M328.4 556.3h0.7M327.4 562.5h0.7M327.8 563.4h0.7M328.3 562.3h0.7M324.7 567.6h0.7M329.9 560.2h0.7M327.4 551.3h0.7M327.2 569.7h0.7M326.1 571.8h0.7M327.1 551.5h0.7M326.3 555.6h0.7M327.5 565.8h0.7M326.9 561.4h0.7M327.1 563.4h0.7M327.7 555.7h0.7M327.3 564.2h0.7M326.3 566.8h0.7M326.8 560.2h0.7M327.7 571.7h0.7M326.9 573.6h0.7M327.7 552.8h0.7M327.1 559.1h0.7M327.8 553.1h0.7M327.6 562.8h0.7M326.4 563.8h0.7M327.0 543.9h0.7M326.8 556.4h0.7M327.2 568.8h0.7M327.4 573.1h0.7M327.7 566.7h0.7M326.1 567.6h0.7M327.3 569.8h0.7M327.8 553.8h0.7M328.4 564.0h0.7M327.6 567.0h0.7M328.8 548.7h0.7M327.9 572.9h0.7M328.3 564.9h0.7M327.9 554.6h0.7M326.3 561.5h0.7M327.6 564.2h0.7M328.1 574.6h0.7M325.5 548.9h0.7M327.1 560.7h0.7M325.9 554.1h0.7M326.2 559.8h0.7M328.0 556.0h0.7M326.6 563.2h0.7M327.1 552.6h0.7M326.8 574.8h0.7M326.5 574.8h0.7M327.9 559.7h0.7M327.3 555.3h0.7M327.8 550.8h0.7M326.7 570.4h0.7M326.9 562.8h0.7M329.7 544.6h0.7M328.0 566.2h0.7M327.4 564.4h0.7M327.0 547.1h0.7M327.1 558.1h0.7M326.6 566.8h0.7M326.2 551.0h0.7M328.1 564.9h0.7M328.7 567.6h0.7M328.1 557.3h0.7M327.1 566.7h0.7M328.0 555.5h0.7M327.0 556.0h0.7M328.8 553.8h0.7M326.8 560.9h0.7M327.0 559.4h0.7M325.7 562.0h0.7M327.7 552.3h0.7M326.3 569.8h0.7M326.7 562.2h0.7M327.0 543.6h0.7M328.0 552.9h0.7M327.2 559.7h0.7M327.4 550.0h0.7M327.4 546.2h0.7M326.2 572.1h0.7M328.5 568.0h0.7M328.3 559.8h0.7M326.8 562.0h0.7M326.3 545.7h0.7M329.4 549.8h0.7M327.1 563.4h0.7M328.8 550.8h0.7M328.6 552.3h0.7M327.3 569.8h0.7M327.2 556.2h0.7M327.8 551.0h0.7M328.1 574.5h0.7M326.6 569.5h0.7M326.3 563.7h0.7M327.9 557.8h0.7M327.3 561.9h0.7M327.4 546.6h0.7M326.0 554.3h0.7M327.4 549.7h0.7M327.9 558.2h0.7M327.2 559.5h0.7M328.0 572.8h0.7M328.6 567.3h0.7M326.4 563.0h0.7M325.8 555.1h0.7M326.9 564.1h0.7M328.0 565.3h0.7M327.4 555.0h0.7M327.3 571.3h0.7M327.1 568.6h0.7M327.0 553.9h0.7M327.9 546.6h0.7M328.5 557.3h0.7M327.4 551.7h0.7M327.1 564.0h0.7M326.6 564.3h0.7M326.0 552.9h0.7M326.5 556.9h0.7M326.9 563.2h0.7M326.6 556.2h0.7M326.9 546.5h0.7M326.0 564.6h0.7M327.9 559.3h0.7M327.4 555.9h0.7M329.5 558.0h0.7M328.3 572.3h0.7M327.8 556.0h0.7M327.6 560.0h0.7M327.4 556.8h0.7M327.5 555.3h0.7M326.0 575.2h0.7M327.7 551.0h0.7M326.9 567.6h0.7M327.6 566.0h0.7M328.5 565.7h0.7M327.9 556.2h0.7M326.6 562.9h0.7M326.1 565.3h0.7M328.2 549.6h0.7M328.8 552.6h0.7M326.8 569.6h0.7M325.2 554.4h0.7M325.8 560.7h0.7M325.7 573.8h0.7M324.7 561.8h0.7M328.5 558.5h0.7M326.5 557.8h0.7M327.6 557.5h0.7M327.0 568.4h0.7M327.5 545.1h0.7M329.4 569.0h0.7M327.4 562.6h0.7M327.9 557.0h0.7M326.3 575.4h0.7M326.3 562.0h0.7M327.1 555.8h0.7M326.5 565.2h0.7M328.5 559.0h0.7M327.9 565.3h0.7M327.1 564.5h0.7M327.7 564.6h0.7M328.2 561.3h0.7M328.1 561.3h0.7M327.9 561.5h0.7M326.7 555.9h0.7M328.4 552.1h0.7M327.4 565.4h0.7M326.5 566.2h0.7M326.8 562.1h0.7M327.0 546.5h0.7M328.6 554.4h0.7M326.7 555.4h0.7M327.2 569.1h0.7M327.5 550.7h0.7M328.8 555.3h0.7M326.6 552.9h0.7M329.0 555.9h0.7M326.4 560.3h0.7M327.0 563.6h0.7M329.5 561.0h0.7M328.7 577.4h0.7M326.4 574.6h0.7M327.9 545.7h0.7M327.3 564.5h0.7M327.9 560.4h0.7M327.5 565.8h0.7M327.1 565.2h0.7M328.5 558.4h0.7M329.1 559.3h0.7M327.3 566.5h0.7M326.8 570.3h0.7M326.9 559.8h0.7M327.9 561.3h0.7M326.3 565.5h0.7M325.6 554.8h0.7M328.1 567.1h0.7M327.6 564.0h0.7M327.6 565.5h0.7M327.5 566.5h0.7M328.1 553.5h0.7M325.7 572.0h0.7M326.2 559.5h0.7M327.0 565.4h0.7M328.3 572.7h0.7M326.8 557.6h0.7M327.8 556.7h0.7M327.7 553.9h0.7M328.2 550.2h0.7M326.2 565.1h0.7M327.4 555.1h0.7M324.6 563.6h0.7M328.6 562.9h0.7M326.0 557.8h0.7M327.5 571.0h0.7M327.8 562.9h0.7M326.6 551.5h0.7M326.2 552.3h0.7" stroke="#111" stroke-width="0.7" opacity="0.6"/>
<line x1="322.70" y1="579.90" x2="332.50" y2="579.90" stroke="#8a8a8a" stroke-width="1.4"/>
<line x1="340.05" y1="526.50" x2="340.05" y2="549.30" stroke="#888" stroke-width="0.6"/>
<line x1="337.55" y1="526.50" x2="342.55" y2="526.50" stroke="#888" stroke-width="0.6"/>
<line x1="337.55" y1="549.30" x2="342.55" y2="549.30" stroke="#888" stroke-width="0.6"/>
<rect x="335.10" y="532.30" width="9.90" height="7.40" fill="#5a5a5a" stroke="#444" stroke-width="0.4"/>
<line x1="335.10" y1="535.40" x2="345.00" y2="535.40" stroke="#222" stroke-width="1.0"/>
<path d="M338.7 534.2h0.7M340.2 545.0h0.7M338.2 540.6h0.7M339.6 534.8h0.7M340.1 536.9h0.7M338.8 531.5h0.7M341.8 541.3h0.7M339.4 547.6h0.7M339.9 531.6h0.7M341.3 538.6h0.7M339.0 534.7h0.7M339.0 541.8h0.7M340.2 531.2h0.7M338.7 534.9h0.7M339.3 534.5h0.7M339.0 534.7h0.7M339.4 539.2h0.7M340.7 532.6h0.7M340.4 530.8h0.7M339.4 539.3h0.7M338.3 537.2h0.7M338.7 537.3h0.7M339.9 531.2h0.7M339.8 531.9h0.7M340.7 538.3h0.7M340.6 538.2h0.7M339.4 531.8h0.7M340.8 539.6h0.7M339.2 538.5h0.7M338.8 530.0h0.7M338.8 542.2h0.7M340.3 534.7h0.7M339.1 538.4h0.7M339.8 547.0h0.7M340.4 537.5h0.7M340.3 534.2h0.7M338.9 535.2h0.7M340.0 530.7h0.7M339.6 536.5h0.7M339.5 533.4h0.7M340.7 540.4h0.7M339.9 534.6h0.7M339.1 529.6h0.7M340.3 530.9h0.7M340.3 538.7h0.7M339.2 548.2h0.7M341.0 538.5h0.7M338.8 541.2h0.7M338.7 534.0h0.7M340.3 536.4h0.7M340.2 543.5h0.7M340.7 540.9h0.7M340.3 531.5h0.7M339.5 541.4h0.7M339.8 530.7h0.7M340.3 536.8h0.7M339.4 526.1h0.7M340.9 547.1h0.7" stroke="#111" stroke-width="0.7" opacity="0.6"/>
<line x1="335.40" y1="579.90" x2="344.70" y2="579.90" stroke="#8a8a8a" stroke-width="1.4"/>
<polyline points="327.2,530.5 327.2,514.3 340.0,514.3 340.0,517.0" fill="none" stroke="#777" stroke-width="0.5"/>
<circle cx="333.60" cy="514.30" r="0.70" fill="#ff2020"/>
<rect x="375.40" y="511.70" width="40.30" height="70.60" fill="none" stroke="#c8c8c8" stroke-width="0.9"/>
<text x="397.5" y="509.9" font-size="9" text-anchor="middle" fill="#111">JAK3</text>
<line x1="373.60" y1="522.50" x2="375.40" y2="522.50" stroke="#999" stroke-width="0.6"/>
<text x="373.4" y="525.6" font-size="8.6" text-anchor="end" fill="#222">5</text>
<line x1="373.60" y1="533.90" x2="375.40" y2="533.90" stroke="#999" stroke-width="0.6"/>
<text x="373.4" y="537.0" font-size="8.6" text-anchor="end" fill="#222">4</text>
<line x1="373.60" y1="545.60" x2="375.40" y2="545.60" stroke="#999" stroke-width="0.6"/>
<text x="373.4" y="548.7" font-size="8.6" text-anchor="end" fill="#222">3</text>
<line x1="373.60" y1="557.20" x2="375.40" y2="557.20" stroke="#999" stroke-width="0.6"/>
<text x="373.4" y="560.3" font-size="8.6" text-anchor="end" fill="#222">2</text>
<line x1="373.60" y1="568.40" x2="375.40" y2="568.40" stroke="#999" stroke-width="0.6"/>
<text x="373.4" y="571.5" font-size="8.6" text-anchor="end" fill="#222">1</text>
<line x1="373.60" y1="580.00" x2="375.40" y2="580.00" stroke="#999" stroke-width="0.6"/>
<text x="373.4" y="583.1" font-size="8.6" text-anchor="end" fill="#222">0</text>
<line x1="389.45" y1="529.50" x2="389.45" y2="579.50" stroke="#888" stroke-width="0.6"/>
<line x1="386.95" y1="529.50" x2="391.95" y2="529.50" stroke="#888" stroke-width="0.6"/>
<line x1="386.95" y1="579.50" x2="391.95" y2="579.50" stroke="#888" stroke-width="0.6"/>
<rect x="384.20" y="548.40" width="10.50" height="13.00" fill="#f4545e" stroke="#444" stroke-width="0.4"/>
<line x1="384.20" y1="555.30" x2="394.70" y2="555.30" stroke="#222" stroke-width="1.0"/>
<path d="M390.2 555.8h0.7M390.0 545.9h0.7M388.9 552.4h0.7M389.2 573.2h0.7M389.8 554.5h0.7M389.1 565.8h0.7M388.2 560.6h0.7M388.7 551.4h0.7M387.7 542.1h0.7M388.9 539.2h0.7M388.8 553.2h0.7M387.9 555.6h0.7M389.3 554.1h0.7M388.3 562.1h0.7M387.3 551.0h0.7M387.1 550.1h0.7M390.1 541.2h0.7M389.8 533.7h0.7M388.8 558.1h0.7M389.6 559.3h0.7M388.9 565.0h0.7M388.6 549.2h0.7M389.1 545.4h0.7M390.1 547.3h0.7M388.1 536.9h0.7M387.2 545.7h0.7M386.9 573.2h0.7M388.6 552.2h0.7M387.3 570.8h0.7M388.4 565.2h0.7M388.5 553.4h0.7M388.1 561.1h0.7M389.4 554.1h0.7M386.9 572.6h0.7M390.0 569.6h0.7M389.4 550.2h0.7M390.6 550.4h0.7M388.9 556.9h0.7M388.9 552.7h0.7M388.3 553.2h0.7M387.4 574.7h0.7M389.0 553.7h0.7M388.9 558.5h0.7M389.4 553.5h0.7M388.7 564.2h0.7M390.8 551.3h0.7M388.2 560.0h0.7M389.8 577.3h0.7M388.0 549.2h0.7M388.4 557.8h0.7M387.9 544.7h0.7M390.1 550.0h0.7M387.8 550.7h0.7M389.2 561.3h0.7M390.2 563.0h0.7M389.0 553.3h0.7M388.1 554.5h0.7M390.3 561.3h0.7M388.9 556.6h0.7M388.4 552.4h0.7M388.7 547.2h0.7M388.7 546.8h0.7M389.4 539.7h0.7M388.1 555.4h0.7M389.1 532.8h0.7M388.4 565.5h0.7M388.6 550.2h0.7M388.3 561.2h0.7M388.8 564.4h0.7M389.1 563.8h0.7M387.8 552.7h0.7M388.9 548.3h0.7M389.3 561.3h0.7M389.5 548.2h0.7M389.0 564.4h0.7M388.7 550.7h0.7M389.6 562.7h0.7M389.4 545.9h0.7M388.4 550.3h0.7M389.8 566.8h0.7M389.2 547.9h0.7M388.5 559.7h0.7M389.7 553.7h0.7M389.4 537.7h0.7M389.6 562.0h0.7M389.4 542.0h0.7M389.6 546.6h0.7M389.3 560.7h0.7M388.6 547.5h0.7M388.3 563.1h0.7M389.6 559.7h0.7M391.3 552.2h0.7M391.0 555.6h0.7M387.1 535.5h0.7M389.7 564.4h0.7M389.1 551.9h0.7M388.5 536.6h0.7M388.9 544.9h0.7M389.1 563.4h0.7M388.5 558.5h0.7M389.2 550.7h0.7M390.2 552.2h0.7M390.8 546.5h0.7M390.1 545.5h0.7M390.6 547.5h0.7M389.5 556.2h0.7M388.5 562.1h0.7M387.3 544.9h0.7M388.5 566.6h0.7M389.1 549.2h0.7M387.5 574.1h0.7M388.7 557.3h0.7M387.5 560.0h0.7M389.9 551.1h0.7M390.5 569.9h0.7M389.1 546.7h0.7M387.9 553.8h0.7M389.8 541.0h0.7M389.0 557.3h0.7M388.2 566.6h0.7M389.1 560.0h0.7M389.5 554.3h0.7M389.3 556.6h0.7M390.8 557.5h0.7M390.0 551.9h0.7M388.8 560.8h0.7M388.3 562.6h0.7M388.4 566.1h0.7M389.4 550.2h0.7M389.9 562.9h0.7M388.9 563.5h0.7M389.6 545.7h0.7M388.2 557.8h0.7M389.3 564.3h0.7M389.5 545.7h0.7M388.3 542.1h0.7M387.7 558.8h0.7M387.9 555.3h0.7M388.4 562.0h0.7M387.7 556.7h0.7M390.0 551.6h0.7M387.4 559.3h0.7M389.9 563.8h0.7M390.4 551.3h0.7M389.0 544.7h0.7M390.3 565.6h0.7M388.1 567.2h0.7M389.5 537.8h0.7M389.0 541.1h0.7M390.1 542.6h0.7M389.6 562.6h0.7M389.1 555.1h0.7M389.4 552.0h0.7M389.5 557.3h0.7M390.8 550.8h0.7M390.4 557.6h0.7M388.3 567.7h0.7M390.2 538.7h0.7M389.2 551.2h0.7M389.2 552.4h0.7M389.0 543.4h0.7M389.1 550.4h0.7M389.8 532.4h0.7M387.5 558.1h0.7M389.1 547.8h0.7M389.1 561.0h0.7M389.1 568.2h0.7M388.5 545.3h0.7M388.5 562.1h0.7M390.0 563.0h0.7M390.0 560.6h0.7M389.1 553.2h0.7M388.6 549.2h0.7M388.6 539.8h0.7M387.8 544.6h0.7M389.5 556.3h0.7M390.3 551.6h0.7M390.0 564.0h0.7M387.8 549.1h0.7M389.4 560.3h0.7M389.5 561.9h0.7M388.8 567.0h0.7M388.3 561.3h0.7M388.7 532.7h0.7M387.6 569.3h0.7M388.5 564.7h0.7M389.1 551.0h0.7M388.2 556.9h0.7M389.5 556.1h0.7M388.4 562.9h0.7M390.8 569.8h0.7M387.9 578.2h0.7M387.4 556.6h0.7M389.6 558.5h0.7M387.7 543.8h0.7M389.7 556.7h0.7M388.9 547.3h0.7M388.5 530.6h0.7M389.2 556.3h0.7M388.1 570.1h0.7M389.5 533.2h0.7M389.4 549.2h0.7M389.6 561.8h0.7M390.3 568.8h0.7M389.0 538.9h0.7M388.7 574.2h0.7M389.0 564.2h0.7M390.5 550.9h0.7M388.9 564.9h0.7M387.9 563.6h0.7M389.9 547.9h0.7M388.1 555.3h0.7M389.4 559.2h0.7M390.0 567.3h0.7M388.7 552.2h0.7M388.9 553.6h0.7M390.5 569.0h0.7M389.4 568.0h0.7M389.9 552.5h0.7M389.3 551.5h0.7M388.7 538.9h0.7M388.2 568.8h0.7M389.0 540.5h0.7M390.4 571.0h0.7M388.7 551.4h0.7M388.3 553.8h0.7M388.8 555.2h0.7M388.6 540.7h0.7M388.3 552.4h0.7M389.9 544.1h0.7M388.8 573.2h0.7M389.6 550.8h0.7M388.4 552.7h0.7M388.2 568.3h0.7M388.5 547.9h0.7M388.9 546.4h0.7M390.4 560.4h0.7M389.1 561.3h0.7M389.0 542.9h0.7M389.0 545.8h0.7M389.3 564.3h0.7M388.4 552.9h0.7M389.2 554.7h0.7M388.6 546.0h0.7M387.6 563.4h0.7M388.0 550.6h0.7M389.6 569.8h0.7M389.5 559.9h0.7M389.4 557.7h0.7M389.3 539.6h0.7M387.8 560.6h0.7M389.7 562.8h0.7M388.7 540.2h0.7M388.6 551.9h0.7M388.0 558.7h0.7M389.3 552.7h0.7M389.1 561.9h0.7M389.7 552.6h0.7M389.9 535.7h0.7M388.0 551.9h0.7M387.4 550.8h0.7M388.8 535.2h0.7M389.8 547.4h0.7M387.9 546.4h0.7M390.6 545.7h0.7M388.5 555.1h0.7M388.1 545.4h0.7M389.5 553.3h0.7M390.1 566.0h0.7M388.5 557.5h0.7M387.0 546.6h0.7M389.5 545.1h0.7M389.4 551.6h0.7M389.9 541.9h0.7M389.1 557.7h0.7M387.1 558.8h0.7M388.3 549.5h0.7M388.9 572.4h0.7M389.9 550.0h0.7M390.4 544.8h0.7M389.0 548.1h0.7M389.8 546.1h0.7M389.7 534.0h0.7M389.1 547.0h0.7M389.3 543.8h0.7M389.6 556.7h0.7M389.7 557.9h0.7M388.7 564.5h0.7M388.0 543.5h0.7M388.8 561.5h0.7M389.1 565.0h0.7M389.9 545.2h0.7M388.9 573.6h0.7M388.3 545.9h0.7M388.6 563.5h0.7M389.7 551.0h0.7M389.2 555.0h0.7M388.5 549.7h0.7M389.2 556.5h0.7" stroke="#111" stroke-width="0.7" opacity="0.6"/>
<line x1="384.50" y1="579.90" x2="394.40" y2="579.90" stroke="#8a8a8a" stroke-width="1.4"/>
<line x1="401.90" y1="520.40" x2="401.90" y2="542.70" stroke="#888" stroke-width="0.6"/>
<line x1="399.40" y1="520.40" x2="404.40" y2="520.40" stroke="#888" stroke-width="0.6"/>
<line x1="399.40" y1="542.70" x2="404.40" y2="542.70" stroke="#888" stroke-width="0.6"/>
<rect x="396.80" y="526.00" width="10.20" height="7.00" fill="#5a5a5a" stroke="#444" stroke-width="0.4"/>
<line x1="396.80" y1="529.50" x2="407.00" y2="529.50" stroke="#222" stroke-width="1.0"/>
<path d="M401.1 532.6h0.7M402.0 531.3h0.7M402.1 529.9h0.7M401.7 534.7h0.7M400.7 529.9h0.7M401.5 531.2h0.7M400.8 527.9h0.7M403.9 532.5h0.7M401.6 531.7h0.7M401.0 531.8h0.7M401.0 530.0h0.7M401.8 526.2h0.7M401.4 530.7h0.7M401.8 525.4h0.7M402.2 523.9h0.7M401.6 527.7h0.7M402.1 533.6h0.7M401.3 522.8h0.7M400.6 531.4h0.7M401.5 529.1h0.7M401.6 531.7h0.7M401.8 530.2h0.7M402.0 536.6h0.7M401.2 532.3h0.7M401.4 535.3h0.7M399.7 533.3h0.7M401.5 530.8h0.7M402.7 527.1h0.7M401.4 531.6h0.7M403.2 526.8h0.7M402.1 533.4h0.7M402.7 525.5h0.7M401.3 532.4h0.7M400.1 529.0h0.7M400.6 532.9h0.7M401.2 533.9h0.7M401.9 526.3h0.7M400.5 530.6h0.7M402.1 529.1h0.7M400.3 528.2h0.7M400.7 528.2h0.7M401.6 526.5h0.7M401.4 529.2h0.7M401.9 520.9h0.7M401.2 528.5h0.7M403.3 530.3h0.7M400.1 522.8h0.7M400.8 533.4h0.7M400.7 536.2h0.7M402.3 527.0h0.7M401.9 534.2h0.7M401.4 531.8h0.7M401.4 527.2h0.7M402.2 536.1h0.7M401.8 529.6h0.7M402.6 533.8h0.7M401.5 528.8h0.7M403.9 531.2h0.7M402.7 530.7h0.7" stroke="#111" stroke-width="0.7" opacity="0.6"/>
<line x1="397.10" y1="579.90" x2="406.70" y2="579.90" stroke="#8a8a8a" stroke-width="1.4"/>
<polyline points="389.4,519.9 389.4,514.1 402.4,514.1 402.4,517.3" fill="none" stroke="#777" stroke-width="0.5"/>
<circle cx="395.90" cy="514.10" r="0.70" fill="#ff2020"/>
<rect x="437.10" y="511.70" width="40.60" height="70.60" fill="none" stroke="#c8c8c8" stroke-width="0.9"/>
<text x="459.4" y="509.9" font-size="9" text-anchor="middle" fill="#111">TYK2</text>
<line x1="435.30" y1="522.50" x2="437.10" y2="522.50" stroke="#999" stroke-width="0.6"/>
<text x="435.1" y="525.6" font-size="8.6" text-anchor="end" fill="#222">8</text>
<line x1="435.30" y1="537.10" x2="437.10" y2="537.10" stroke="#999" stroke-width="0.6"/>
<text x="435.1" y="540.2" font-size="8.6" text-anchor="end" fill="#222">6</text>
<line x1="435.30" y1="551.40" x2="437.10" y2="551.40" stroke="#999" stroke-width="0.6"/>
<text x="435.1" y="554.5" font-size="8.6" text-anchor="end" fill="#222">4</text>
<line x1="435.30" y1="565.80" x2="437.10" y2="565.80" stroke="#999" stroke-width="0.6"/>
<text x="435.1" y="568.9" font-size="8.6" text-anchor="end" fill="#222">2</text>
<line x1="435.30" y1="580.00" x2="437.10" y2="580.00" stroke="#999" stroke-width="0.6"/>
<text x="435.1" y="583.1" font-size="8.6" text-anchor="end" fill="#222">0</text>
<line x1="451.45" y1="523.40" x2="451.45" y2="553.70" stroke="#888" stroke-width="0.6"/>
<line x1="448.95" y1="523.40" x2="453.95" y2="523.40" stroke="#888" stroke-width="0.6"/>
<line x1="448.95" y1="553.70" x2="453.95" y2="553.70" stroke="#888" stroke-width="0.6"/>
<rect x="446.20" y="534.80" width="10.50" height="7.90" fill="#f4545e" stroke="#444" stroke-width="0.4"/>
<line x1="446.20" y1="537.90" x2="456.70" y2="537.90" stroke="#222" stroke-width="1.0"/>
<path d="M451.5 539.0h0.7M451.4 536.1h0.7M451.5 544.2h0.7M450.3 547.9h0.7M450.5 539.1h0.7M450.9 534.2h0.7M451.5 540.0h0.7M453.1 541.7h0.7M449.7 543.8h0.7M450.5 539.9h0.7M452.3 535.7h0.7M449.3 537.4h0.7M450.8 540.6h0.7M450.3 531.9h0.7M451.1 535.1h0.7M451.2 536.3h0.7M450.4 549.5h0.7M450.9 534.0h0.7M450.5 545.2h0.7M449.9 547.1h0.7M451.1 532.7h0.7M450.5 533.7h0.7M451.8 541.4h0.7M450.9 539.4h0.7M451.5 546.6h0.7M452.2 537.4h0.7M451.2 533.5h0.7M451.1 542.6h0.7M451.4 535.4h0.7M450.6 535.6h0.7M452.3 532.8h0.7M452.1 535.5h0.7M450.9 541.0h0.7M451.3 542.7h0.7M449.9 539.5h0.7M451.9 539.2h0.7M452.0 541.6h0.7M451.5 547.5h0.7M449.7 550.3h0.7M448.8 537.3h0.7M451.2 543.6h0.7M450.8 548.6h0.7M452.3 526.9h0.7M450.0 530.9h0.7M451.7 537.7h0.7M451.3 535.8h0.7M452.7 527.7h0.7M451.2 538.4h0.7M451.3 542.2h0.7M450.3 539.9h0.7M451.5 538.1h0.7M451.0 544.9h0.7M451.4 539.3h0.7M451.3 542.1h0.7M450.6 537.3h0.7M451.4 545.3h0.7M454.2 538.9h0.7M451.9 543.9h0.7M450.2 539.6h0.7M451.0 545.4h0.7M452.0 539.1h0.7M451.3 544.7h0.7M453.0 538.9h0.7M450.2 542.1h0.7M451.2 543.1h0.7M451.7 538.9h0.7M452.9 540.1h0.7M451.3 539.9h0.7M450.6 545.5h0.7M451.0 544.7h0.7M450.3 545.7h0.7M449.7 541.2h0.7M451.1 536.2h0.7M452.9 541.6h0.7M449.9 549.5h0.7M452.2 534.3h0.7M449.9 541.3h0.7M450.1 541.6h0.7M450.0 533.7h0.7M453.1 537.2h0.7M451.0 541.0h0.7M450.7 553.5h0.7M450.9 537.9h0.7M450.8 541.2h0.7M450.8 547.3h0.7M451.3 542.0h0.7M450.2 533.7h0.7M449.0 538.5h0.7M451.2 538.8h0.7M451.0 539.6h0.7M450.8 540.8h0.7M449.6 542.5h0.7M450.3 544.1h0.7M450.7 541.6h0.7M450.4 536.3h0.7M450.1 546.6h0.7M451.3 531.7h0.7M451.1 540.3h0.7M450.5 533.1h0.7M450.2 544.0h0.7M451.8 542.3h0.7M450.0 539.5h0.7M451.2 549.9h0.7M450.8 539.9h0.7M450.9 533.2h0.7M450.3 539.9h0.7M452.1 539.4h0.7M451.0 541.3h0.7M451.9 544.9h0.7M450.4 544.0h0.7M451.8 528.2h0.7M450.8 539.1h0.7M450.7 541.6h0.7M452.7 535.2h0.7M451.9 529.5h0.7M452.7 544.7h0.7M451.6 540.2h0.7M451.1 533.4h0.7M450.6 526.5h0.7M451.0 538.6h0.7M452.1 536.0h0.7M451.2 529.5h0.7M451.1 536.4h0.7M452.8 539.1h0.7M452.3 532.5h0.7M451.0 546.9h0.7M450.0 535.2h0.7M452.9 533.7h0.7M451.5 526.1h0.7M452.8 534.7h0.7M449.9 540.6h0.7M451.3 535.7h0.7M450.3 539.5h0.7M450.7 537.1h0.7M451.3 541.6h0.7M450.6 540.1h0.7M450.6 543.4h0.7M450.7 533.9h0.7M450.8 536.9h0.7M452.3 527.5h0.7M452.3 542.4h0.7M451.8 536.5h0.7M451.1 539.9h0.7M450.6 549.2h0.7M449.6 542.1h0.7M450.9 542.0h0.7M450.6 532.8h0.7M450.2 526.4h0.7M448.7 539.7h0.7M452.0 545.1h0.7M449.8 534.4h0.7M450.0 530.6h0.7M453.1 534.4h0.7M451.8 532.2h0.7M450.3 546.0h0.7M451.7 537.2h0.7M452.2 534.9h0.7M451.1 551.3h0.7M451.6 534.0h0.7M450.4 540.7h0.7M451.2 537.9h0.7M452.1 541.7h0.7M449.9 535.9h0.7M452.8 529.3h0.7M450.7 536.3h0.7M452.1 553.1h0.7M450.9 551.9h0.7M450.6 534.7h0.7M451.5 542.5h0.7M453.1 541.1h0.7M450.1 546.7h0.7M451.6 541.3h0.7M453.2 534.4h0.7M452.5 544.1h0.7M450.1 535.6h0.7M450.9 543.2h0.7M451.0 535.4h0.7M451.2 540.0h0.7M451.5 537.5h0.7M450.6 545.6h0.7M450.7 550.7h0.7M449.9 529.7h0.7M452.1 526.8h0.7M449.8 532.3h0.7M450.9 535.4h0.7M450.6 531.4h0.7M451.7 538.7h0.7M451.6 533.2h0.7M451.6 540.2h0.7M450.0 535.6h0.7M451.6 544.3h0.7M450.4 534.8h0.7M452.9 542.8h0.7M453.4 540.8h0.7M451.4 540.5h0.7M452.1 541.5h0.7M451.2 529.9h0.7M449.7 546.1h0.7M451.8 540.1h0.7M452.5 548.8h0.7M453.0 538.5h0.7M449.8 532.2h0.7M451.7 546.5h0.7M452.1 532.0h0.7M451.8 543.8h0.7M449.9 536.1h0.7M450.9 528.8h0.7M450.6 537.8h0.7M451.9 535.4h0.7M450.4 532.0h0.7M450.5 550.4h0.7M452.1 535.0h0.7M452.6 528.1h0.7M450.3 531.2h0.7M450.2 531.1h0.7M451.9 534.4h0.7M452.3 538.3h0.7M450.0 543.3h0.7M450.5 538.8h0.7M451.2 536.2h0.7M451.5 540.9h0.7M451.0 526.2h0.7M452.8 536.0h0.7M451.1 537.3h0.7M451.8 538.7h0.7M451.0 532.0h0.7M451.1 538.0h0.7M450.6 537.2h0.7M449.9 539.2h0.7M451.1 548.2h0.7M450.8 528.0h0.7M450.9 544.3h0.7M449.0 537.8h0.7M451.1 547.1h0.7M450.7 527.1h0.7M451.4 547.3h0.7M450.6 529.9h0.7M453.0 540.1h0.7M451.8 540.1h0.7M451.1 536.8h0.7M449.9 532.8h0.7M450.6 530.7h0.7M451.1 546.1h0.7M451.8 545.7h0.7M450.6 539.6h0.7M452.1 551.4h0.7M453.4 546.0h0.7M451.3 547.6h0.7M451.6 541.0h0.7M450.2 552.0h0.7M450.7 528.0h0.7M450.6 538.8h0.7M451.6 544.2h0.7M451.2 538.5h0.7M452.9 550.0h0.7M450.8 549.0h0.7M450.1 546.0h0.7M452.6 528.0h0.7M451.7 543.9h0.7M452.6 547.2h0.7M451.4 540.4h0.7M451.9 542.4h0.7M449.9 539.9h0.7M450.4 553.5h0.7M451.7 535.3h0.7M451.6 538.5h0.7M452.4 553.0h0.7M451.4 536.1h0.7M452.3 538.5h0.7M450.2 533.5h0.7M451.6 528.9h0.7M451.8 541.1h0.7M450.0 543.8h0.7M450.1 536.7h0.7M451.9 546.1h0.7M451.6 530.4h0.7M451.2 539.5h0.7M450.6 543.0h0.7M450.5 537.0h0.7M450.2 535.0h0.7M451.6 545.7h0.7M449.6 537.4h0.7M451.1 552.2h0.7M451.7 540.1h0.7M450.9 548.9h0.7M450.8 525.0h0.7M450.6 538.8h0.7M450.7 547.5h0.7M450.4 540.8h0.7M450.5 543.3h0.7M451.2 543.8h0.7M451.4 539.8h0.7M450.7 529.5h0.7M450.8 540.2h0.7M451.9 545.9h0.7M452.2 534.6h0.7M451.6 537.6h0.7M450.1 546.1h0.7M451.1 534.1h0.7" stroke="#111" stroke-width="0.7" opacity="0.6"/>
<line x1="446.50" y1="579.90" x2="456.40" y2="579.90" stroke="#8a8a8a" stroke-width="1.4"/>
<line x1="464.00" y1="525.70" x2="464.00" y2="537.40" stroke="#888" stroke-width="0.6"/>
<line x1="461.50" y1="525.70" x2="466.50" y2="525.70" stroke="#888" stroke-width="0.6"/>
<line x1="461.50" y1="537.40" x2="466.50" y2="537.40" stroke="#888" stroke-width="0.6"/>
<rect x="459.00" y="529.20" width="10.00" height="3.30" fill="#5a5a5a" stroke="#444" stroke-width="0.4"/>
<line x1="459.00" y1="530.80" x2="469.00" y2="530.80" stroke="#222" stroke-width="1.0"/>
<path d="M462.2 530.3h0.7M463.8 532.5h0.7M464.0 531.4h0.7M462.9 532.7h0.7M463.3 531.7h0.7M462.9 529.7h0.7M461.5 533.9h0.7M464.3 529.2h0.7M463.1 530.1h0.7M462.8 533.5h0.7M464.0 530.2h0.7M463.2 529.6h0.7M464.5 531.1h0.7M464.1 528.6h0.7M463.4 530.7h0.7M465.2 527.7h0.7M463.9 532.3h0.7M465.1 530.1h0.7M462.8 529.3h0.7M463.6 529.0h0.7M461.9 531.7h0.7M463.9 531.6h0.7M463.4 533.5h0.7M465.5 534.5h0.7M463.4 529.6h0.7M464.8 533.3h0.7M464.7 530.9h0.7M464.5 527.1h0.7M464.5 532.0h0.7M464.3 532.1h0.7M464.9 529.8h0.7M463.9 525.8h0.7M465.4 529.4h0.7M463.8 528.1h0.7M464.4 530.8h0.7M462.7 530.9h0.7M464.7 530.6h0.7M463.0 532.8h0.7M462.5 527.9h0.7M463.5 530.6h0.7M463.2 530.0h0.7M464.9 531.4h0.7M463.3 533.4h0.7M463.4 532.8h0.7M464.6 534.1h0.7M465.7 533.2h0.7M464.5 533.5h0.7M462.7 534.3h0.7M463.4 530.1h0.7M463.7 533.0h0.7M463.0 527.9h0.7M463.3 530.4h0.7M462.4 529.8h0.7M462.5 531.2h0.7M463.1 530.0h0.7M465.0 530.2h0.7M463.3 529.9h0.7M463.9 528.8h0.7M464.4 530.1h0.7" stroke="#111" stroke-width="0.7" opacity="0.6"/>
<line x1="459.30" y1="579.90" x2="468.70" y2="579.90" stroke="#8a8a8a" stroke-width="1.4"/>
<polyline points="451.1,520.5 451.1,514.1 465.1,514.1 465.1,517.5" fill="none" stroke="#777" stroke-width="0.5"/>
<circle cx="458.10" cy="514.10" r="0.70" fill="#ff2020"/>
<text x="228.6" y="544.0" font-size="9" text-anchor="middle" fill="#222" transform="rotate(-90 228.6 544.0)">Expression</text>
<text x="239.8" y="544.0" font-size="9" text-anchor="middle" fill="#222" transform="rotate(-90 239.8 544.0)">-log2(TPM+1)</text>
<rect x="241.60" y="589.60" width="3.90" height="6.80" fill="#f25862" stroke="#3a4a7a" stroke-width="0.6"/>
<text x="250.4" y="596.2" font-size="9" text-anchor="start" fill="#222">Ovarian carcinoma (n = 426)</text>
<rect x="381.20" y="589.00" width="3.70" height="7.60" fill="#666666" stroke="#3a4a7a" stroke-width="0.6"/>
<text x="389.4" y="596.2" font-size="9" text-anchor="start" fill="#222">Benign ovary (n = 88)</text>
<text x="492.4" y="389.4" font-size="15" text-anchor="start" fill="#000" font-weight="bold">i</text>
<rect x="505.30" y="410.00" width="81.10" height="58.00" fill="#fff" stroke="#777" stroke-width="0.5"/>
<text x="542.6" y="408.6" font-size="9.2" text-anchor="middle" fill="#111">JAK1</text>
<text x="555.7" y="421.0" font-size="9" text-anchor="middle" fill="#111">p = 0.011</text>
<path d="M507.81,412.52H507.88V412.58H508.07V412.73H508.34V412.96H508.70V413.26H509.15V413.63H509.67V414.07H510.26V414.56H510.93V415.93H511.66V417.77H512.47V421.76H513.34V426.99H514.27V432.43H515.28V437.44H516.34V441.02H517.47V444.18H518.66V447.51H519.91V449.73H521.22V451.04H522.59V452.41H524.02V453.71H525.51V454.75H527.06V455.83H528.66V456.95H530.32V458.11H532.03V458.59H533.81V458.71H535.63V458.84H537.52V458.98H539.45V459.12H541.44V459.29H543.49V459.63H545.59V459.98H547.74V460.34H549.94V460.74H552.20V461.87H554.51V462.88H556.87V462.88H559.28V462.88H561.75V462.88H564.26V462.88H566.83V462.88H569.44V462.88H572.11V462.88H574.82V462.88H577.59V462.88" fill="none" stroke="#222" stroke-width="0.85"/>
<path d="M508.4 412.1v1.8M509.1 412.4v1.8M509.8 413.2v1.8M510.5 413.7v1.8M511.2 415.0v1.8M511.9 416.9v1.8M512.6 420.9v1.8M513.3 420.9v1.8M514.0 426.1v1.8M514.7 431.5v1.8M515.4 436.5v1.8M516.1 436.5v1.8M516.8 440.1v1.8M517.5 443.3v1.8M518.2 443.3v1.8M518.9 446.6v1.8M519.6 446.6v1.8M520.3 448.8v1.8M523.8 451.5v1.8M527.6 454.9v1.8M529.9 456.1v1.8M533.1 457.7v1.8M535.3 457.8v1.8M537.2 457.9v1.8M541.7 458.4v1.8M544.6 458.7v1.8M548.9 459.4v1.8M551.6 459.8v1.8M553.3 461.0v1.8M556.6 462.0v1.8M560.9 462.0v1.8M562.5 462.0v1.8M564.9 462.0v1.8M566.7 462.0v1.8M570.4 462.0v1.8M572.6 462.0v1.8M576.6 462.0v1.8" stroke="#222" stroke-width="0.45" fill="none"/>
<path d="M507.81,413.98H507.89V414.04H508.09V414.21H508.39V414.46H508.78V414.79H509.26V415.19H509.82V415.65H510.47V416.27H511.19V418.91H511.98V421.84H512.86V426.02H513.80V433.57H514.81V438.78H515.90V443.13H517.05V447.74H518.28V451.12H519.57V452.67H520.92V454.30H522.34V455.37H523.83V456.17H525.38V457.00H526.99V457.87H528.67V458.77H530.40V459.71H532.20V460.07H534.06V460.23H535.98V460.39H537.96V460.55H540.00V460.72H542.10V460.90H544.26V461.08H546.47V461.26H548.75V461.42H551.08V461.42H553.47V461.42H555.91V461.42H558.42V461.42H560.97V461.42H563.59V461.42H566.26V461.42H568.98V461.42H571.76V461.42H574.60V461.42H577.49V461.42H580.43V461.42H583.43V461.42" fill="none" stroke="#f02020" stroke-width="0.85"/>
<path d="M508.4 413.6v1.8M509.1 413.9v1.8M509.8 414.3v1.8M510.5 415.4v1.8M511.2 418.0v1.8M511.9 418.0v1.8M512.6 420.9v1.8M513.3 425.1v1.8M514.0 432.7v1.8M514.7 432.7v1.8M515.4 437.9v1.8M516.1 442.2v1.8M516.8 442.2v1.8M517.5 446.8v1.8M518.2 446.8v1.8M518.9 450.2v1.8M519.6 451.8v1.8M520.3 451.8v1.8M522.0 453.4v1.8M526.2 456.1v1.8M530.5 458.8v1.8M533.5 459.2v1.8M535.6 459.3v1.8M537.7 459.5v1.8M539.4 459.7v1.8M541.6 459.8v1.8M546.1 460.2v1.8M547.9 460.4v1.8M549.8 460.5v1.8M554.1 460.5v1.8M556.5 460.5v1.8M560.9 460.5v1.8M564.6 460.5v1.8M567.4 460.5v1.8M571.5 460.5v1.8M574.3 460.5v1.8M578.0 460.5v1.8M582.1 460.5v1.8" stroke="#f02020" stroke-width="0.45" fill="none"/>
<line x1="504.30" y1="412.50" x2="505.30" y2="412.50" stroke="#777" stroke-width="0.4"/>
<text x="502.7" y="412.5" font-size="3.2" text-anchor="middle" fill="#333" transform="rotate(-90 502.7 412.5)">1.0</text>
<line x1="504.30" y1="423.30" x2="505.30" y2="423.30" stroke="#777" stroke-width="0.4"/>
<text x="502.7" y="423.3" font-size="3.2" text-anchor="middle" fill="#333" transform="rotate(-90 502.7 423.3)">0.8</text>
<line x1="504.30" y1="434.10" x2="505.30" y2="434.10" stroke="#777" stroke-width="0.4"/>
<text x="502.7" y="434.1" font-size="3.2" text-anchor="middle" fill="#333" transform="rotate(-90 502.7 434.1)">0.6</text>
<line x1="504.30" y1="444.90" x2="505.30" y2="444.90" stroke="#777" stroke-width="0.4"/>
<text x="502.7" y="444.9" font-size="3.2" text-anchor="middle" fill="#333" transform="rotate(-90 502.7 444.9)">0.4</text>
<line x1="504.30" y1="455.70" x2="505.30" y2="455.70" stroke="#777" stroke-width="0.4"/>
<text x="502.7" y="455.7" font-size="3.2" text-anchor="middle" fill="#333" transform="rotate(-90 502.7 455.7)">0.2</text>
<line x1="504.30" y1="466.50" x2="505.30" y2="466.50" stroke="#777" stroke-width="0.4"/>
<text x="502.7" y="466.5" font-size="3.2" text-anchor="middle" fill="#333" transform="rotate(-90 502.7 466.5)">0.0</text>
<line x1="507.80" y1="468.00" x2="507.80" y2="469.00" stroke="#777" stroke-width="0.4"/>
<text x="507.8" y="472.6" font-size="3.4" text-anchor="middle" fill="#333">0</text>
<line x1="528.20" y1="468.00" x2="528.20" y2="469.00" stroke="#777" stroke-width="0.4"/>
<text x="528.2" y="472.6" font-size="3.4" text-anchor="middle" fill="#333">50</text>
<line x1="549.10" y1="468.00" x2="549.10" y2="469.00" stroke="#777" stroke-width="0.4"/>
<text x="549.1" y="472.6" font-size="3.4" text-anchor="middle" fill="#333">100</text>
<line x1="569.60" y1="468.00" x2="569.60" y2="469.00" stroke="#777" stroke-width="0.4"/>
<text x="569.6" y="472.6" font-size="3.4" text-anchor="middle" fill="#333">150</text>
<text x="545.9" y="477.2" font-size="3.6" text-anchor="middle" fill="#333">Time (months)</text>
<text x="495.0" y="439.0" font-size="3.4" text-anchor="middle" fill="#333" transform="rotate(-90 495.0 439.0)">Probability</text>
<text x="509.8" y="458.0" font-size="3.4" text-anchor="start" fill="#333">Expression</text>
<line x1="508.30" y1="461.50" x2="515.30" y2="461.50" stroke="#222" stroke-width="0.5"/>
<text x="516.8" y="462.5" font-size="3" text-anchor="start" fill="#333">low</text>
<line x1="508.30" y1="465.00" x2="515.30" y2="465.00" stroke="#f02020" stroke-width="0.5"/>
<text x="516.8" y="466.0" font-size="3" text-anchor="start" fill="#333">high</text>
<text x="506.3" y="480.2" font-size="2.6" text-anchor="start" fill="#333">Number at risk</text>
<text x="508.5" y="483.0" font-size="2.8" text-anchor="middle" fill="#333">12</text>
<text x="508.5" y="486.0" font-size="2.8" text-anchor="middle" fill="#f02020">12</text>
<text x="528.2" y="483.0" font-size="2.8" text-anchor="middle" fill="#333">12</text>
<text x="528.2" y="486.0" font-size="2.8" text-anchor="middle" fill="#f02020">12</text>
<text x="549.1" y="483.0" font-size="2.8" text-anchor="middle" fill="#333">1</text>
<text x="549.1" y="486.0" font-size="2.8" text-anchor="middle" fill="#f02020">1</text>
<text x="569.6" y="483.0" font-size="2.8" text-anchor="middle" fill="#333">1</text>
<text x="569.6" y="486.0" font-size="2.8" text-anchor="middle" fill="#f02020">1</text>
<text x="497.3" y="483.0" font-size="2.6" text-anchor="start" fill="#333">low</text>
<text x="497.3" y="486.0" font-size="2.6" text-anchor="start" fill="#f02020">high</text>
<rect x="601.80" y="410.30" width="80.40" height="58.20" fill="#fff" stroke="#777" stroke-width="0.5"/>
<text x="639.2" y="408.4" font-size="9.2" text-anchor="middle" fill="#111">JAK2</text>
<text x="652.4" y="421.3" font-size="9" text-anchor="middle" fill="#111">p = 0.029</text>
<path d="M603.87,412.34H603.95V412.42H604.15V412.62H604.45V412.92H604.85V413.32H605.33V413.80H605.90V414.37H606.55V416.21H607.28V418.39H608.08V423.03H608.96V428.31H609.91V434.02H610.94V439.78H612.03V443.06H613.20V446.56H614.43V448.84H615.73V450.57H617.10V452.40H618.53V453.57H620.03V454.17H621.59V454.79H623.22V455.44H624.91V456.10H626.66V456.62H628.47V457.17H630.35V457.73H632.29V458.16H634.29V458.31H636.34V458.47H638.46V458.63H640.64V458.80H642.87V458.97H645.17V459.15H647.52V459.33H649.93V459.87H652.39V461.30H654.92V461.30H657.50V461.30H660.14V461.30H662.83V461.30H665.58V461.30H668.38V461.30H671.24V461.30H674.16V461.30H677.13V461.30H680.15V461.30" fill="none" stroke="#222" stroke-width="0.85"/>
<path d="M604.5 412.0v1.8M605.2 412.4v1.8M605.9 412.9v1.8M606.6 415.3v1.8M607.3 415.3v1.8M608.0 417.5v1.8M608.7 422.1v1.8M609.4 427.4v1.8M610.1 433.1v1.8M610.8 433.1v1.8M611.5 438.9v1.8M612.2 442.2v1.8M612.9 442.2v1.8M613.6 445.7v1.8M614.3 445.7v1.8M615.0 447.9v1.8M615.7 447.9v1.8M616.4 449.7v1.8M619.0 452.7v1.8M621.6 453.9v1.8M624.2 454.5v1.8M627.4 455.7v1.8M630.8 456.8v1.8M634.3 457.3v1.8M636.8 457.6v1.8M639.8 457.7v1.8M642.7 457.9v1.8M646.9 458.2v1.8M649.8 458.4v1.8M652.9 460.4v1.8M656.2 460.4v1.8M659.4 460.4v1.8M661.5 460.4v1.8M664.7 460.4v1.8M667.2 460.4v1.8M669.8 460.4v1.8M673.9 460.4v1.8M676.4 460.4v1.8M678.8 460.4v1.8" stroke="#222" stroke-width="0.45" fill="none"/>
<path d="M603.87,413.72H603.93V413.78H604.07V413.92H604.28V414.14H604.56V414.42H604.91V414.76H605.31V415.16H605.77V415.62H606.28V416.81H606.85V418.52H607.48V420.95H608.15V425.68H608.88V430.61H609.66V435.27H610.48V440.22H611.36V443.81H612.28V446.58H613.25V449.49H614.26V451.39H615.33V452.81H616.44V454.29H617.59V455.83H618.79V456.46H620.03V456.98H621.32V457.52H622.65V458.07H624.02V458.64H625.44V459.23H626.90V459.53H628.40V459.59H629.94V459.66H631.53V459.72H633.15V459.79H634.82V459.86H636.53V459.93H638.28V460.00H640.07V460.08H641.90V460.15H643.77V460.72H645.68V461.81H647.63V463.24H649.62V463.24H651.64V463.24H653.71V463.24H655.82V463.24H657.96V463.24" fill="none" stroke="#f02020" stroke-width="0.85"/>
<path d="M604.5 413.2v1.8M605.2 413.9v1.8M605.9 414.7v1.8M606.6 415.9v1.8M607.3 417.6v1.8M608.0 420.1v1.8M608.7 424.8v1.8M609.4 429.7v1.8M610.1 434.4v1.8M610.8 439.3v1.8M611.5 442.9v1.8M612.2 442.9v1.8M612.9 445.7v1.8M613.6 448.6v1.8M614.3 450.5v1.8M615.0 450.5v1.8M615.7 451.9v1.8M616.4 451.9v1.8M618.0 454.9v1.8M620.1 456.1v1.8M623.9 457.2v1.8M626.8 458.3v1.8M631.2 458.8v1.8M635.7 459.0v1.8M637.9 459.0v1.8M641.8 459.2v1.8M644.2 459.8v1.8M646.8 460.9v1.8M649.2 462.3v1.8M651.3 462.3v1.8M653.1 462.3v1.8M656.6 462.3v1.8" stroke="#f02020" stroke-width="0.45" fill="none"/>
<line x1="600.80" y1="412.30" x2="601.80" y2="412.30" stroke="#777" stroke-width="0.4"/>
<text x="599.2" y="412.3" font-size="3.2" text-anchor="middle" fill="#333" transform="rotate(-90 599.2 412.3)">1.0</text>
<line x1="600.80" y1="423.20" x2="601.80" y2="423.20" stroke="#777" stroke-width="0.4"/>
<text x="599.2" y="423.2" font-size="3.2" text-anchor="middle" fill="#333" transform="rotate(-90 599.2 423.2)">0.8</text>
<line x1="600.80" y1="434.10" x2="601.80" y2="434.10" stroke="#777" stroke-width="0.4"/>
<text x="599.2" y="434.1" font-size="3.2" text-anchor="middle" fill="#333" transform="rotate(-90 599.2 434.1)">0.6</text>
<line x1="600.80" y1="445.00" x2="601.80" y2="445.00" stroke="#777" stroke-width="0.4"/>
<text x="599.2" y="445.0" font-size="3.2" text-anchor="middle" fill="#333" transform="rotate(-90 599.2 445.0)">0.4</text>
<line x1="600.80" y1="455.90" x2="601.80" y2="455.90" stroke="#777" stroke-width="0.4"/>
<text x="599.2" y="455.9" font-size="3.2" text-anchor="middle" fill="#333" transform="rotate(-90 599.2 455.9)">0.2</text>
<line x1="600.80" y1="466.80" x2="601.80" y2="466.80" stroke="#777" stroke-width="0.4"/>
<text x="599.2" y="466.8" font-size="3.2" text-anchor="middle" fill="#333" transform="rotate(-90 599.2 466.8)">0.0</text>
<line x1="603.90" y1="468.50" x2="603.90" y2="469.50" stroke="#777" stroke-width="0.4"/>
<text x="603.9" y="473.1" font-size="3.4" text-anchor="middle" fill="#333">0</text>
<line x1="624.00" y1="468.50" x2="624.00" y2="469.50" stroke="#777" stroke-width="0.4"/>
<text x="624.0" y="473.1" font-size="3.4" text-anchor="middle" fill="#333">50</text>
<line x1="644.80" y1="468.50" x2="644.80" y2="469.50" stroke="#777" stroke-width="0.4"/>
<text x="644.8" y="473.1" font-size="3.4" text-anchor="middle" fill="#333">100</text>
<line x1="664.90" y1="468.50" x2="664.90" y2="469.50" stroke="#777" stroke-width="0.4"/>
<text x="664.9" y="473.1" font-size="3.4" text-anchor="middle" fill="#333">150</text>
<text x="642.0" y="477.7" font-size="3.6" text-anchor="middle" fill="#333">Time (months)</text>
<text x="591.5" y="439.4" font-size="3.4" text-anchor="middle" fill="#333" transform="rotate(-90 591.5 439.4)">Probability</text>
<text x="606.3" y="458.5" font-size="3.4" text-anchor="start" fill="#333">Expression</text>
<line x1="604.80" y1="462.00" x2="611.80" y2="462.00" stroke="#222" stroke-width="0.5"/>
<text x="613.3" y="463.0" font-size="3" text-anchor="start" fill="#333">low</text>
<line x1="604.80" y1="465.50" x2="611.80" y2="465.50" stroke="#f02020" stroke-width="0.5"/>
<text x="613.3" y="466.5" font-size="3" text-anchor="start" fill="#333">high</text>
<text x="602.8" y="480.7" font-size="2.6" text-anchor="start" fill="#333">Number at risk</text>
<text x="604.5" y="483.5" font-size="2.8" text-anchor="middle" fill="#333">12</text>
<text x="604.5" y="486.5" font-size="2.8" text-anchor="middle" fill="#f02020">12</text>
<text x="624.0" y="483.5" font-size="2.8" text-anchor="middle" fill="#333">12</text>
<text x="624.0" y="486.5" font-size="2.8" text-anchor="middle" fill="#f02020">12</text>
<text x="644.8" y="483.5" font-size="2.8" text-anchor="middle" fill="#333">1</text>
<text x="644.8" y="486.5" font-size="2.8" text-anchor="middle" fill="#f02020">1</text>
<text x="664.9" y="483.5" font-size="2.8" text-anchor="middle" fill="#333">1</text>
<text x="664.9" y="486.5" font-size="2.8" text-anchor="middle" fill="#f02020">1</text>
<text x="593.8" y="483.5" font-size="2.6" text-anchor="start" fill="#333">low</text>
<text x="593.8" y="486.5" font-size="2.6" text-anchor="start" fill="#f02020">high</text>
<rect x="505.30" y="509.20" width="81.10" height="58.80" fill="#fff" stroke="#777" stroke-width="0.5"/>
<text x="543.3" y="507.9" font-size="9.2" text-anchor="middle" fill="#111">JAK3</text>
<text x="556.3" y="520.3" font-size="9" text-anchor="middle" fill="#111">p &lt; 0.001</text>
<path d="M508.25,511.79H508.33V511.84H508.52V511.97H508.82V512.17H509.21V512.43H509.69V512.75H510.25V513.12H510.89V513.70H511.60V514.41H512.40V516.87H513.26V520.63H514.20V524.89H515.21V530.94H516.29V535.93H517.44V540.52H518.65V543.55H519.94V546.11H521.28V548.81H522.70V550.32H524.17V551.80H525.71V552.89H527.32V553.42H528.98V553.98H530.71V554.56H532.50V555.15H534.35V555.69H536.26V556.08H538.23V556.47H540.25V556.88H542.34V557.42H544.49V558.06H546.69V558.72H548.95V559.37H551.27V559.95H553.64V560.55H556.07V560.74H558.56V560.80H561.10V560.87H563.70V560.93H566.36V561.00H569.07V561.06H571.83V561.13H574.65V561.20H577.52V561.28H580.45V561.35H583.43V561.42" fill="none" stroke="#222" stroke-width="0.85"/>
<path d="M508.8 511.3v1.8M509.5 511.5v1.8M510.2 512.2v1.8M510.9 512.8v1.8M511.6 513.5v1.8M512.3 513.5v1.8M513.0 516.0v1.8M513.7 519.7v1.8M514.4 524.0v1.8M515.1 524.0v1.8M515.8 530.0v1.8M516.5 535.0v1.8M517.2 535.0v1.8M517.9 539.6v1.8M518.6 539.6v1.8M519.3 542.6v1.8M520.0 545.2v1.8M520.7 545.2v1.8M523.4 549.4v1.8M527.2 552.0v1.8M530.9 553.7v1.8M534.4 554.8v1.8M538.3 555.6v1.8M540.7 556.0v1.8M544.4 556.5v1.8M546.5 557.2v1.8M549.6 558.5v1.8M553.3 559.1v1.8M555.4 559.6v1.8M559.2 559.9v1.8M561.0 559.9v1.8M564.7 560.0v1.8M568.6 560.1v1.8M572.4 560.2v1.8M575.9 560.3v1.8M577.8 560.4v1.8M580.5 560.4v1.8" stroke="#222" stroke-width="0.45" fill="none"/>
<path d="M508.25,514.71H508.32V514.83H508.50V515.15H508.77V515.63H509.13V516.25H509.56V517.01H510.07V517.90H510.66V518.92H511.31V520.58H512.03V524.44H512.83V528.66H513.68V534.09H514.60V541.46H515.59V545.10H516.64V547.72H517.75V550.49H518.92V552.24H520.15V554.09H521.43V555.44H522.78V556.45H524.19V557.50H525.65V558.60H527.17V559.40H528.75V559.80H530.38V560.20H532.07V560.63H533.81V560.76H535.61V560.84H537.46V560.93H539.36V561.01H541.32V561.10H543.33V561.19H545.39V561.29H547.51V561.38H549.68V562.70H551.89V562.88H554.16V562.88H556.49V562.88H558.86V562.88H561.28V562.88H563.75V562.88H566.28V562.88H568.85V562.88H571.47V562.88H574.14V562.88H576.86V562.88" fill="none" stroke="#f02020" stroke-width="0.85"/>
<path d="M508.8 514.7v1.8M509.5 515.3v1.8M510.2 517.0v1.8M510.9 518.0v1.8M511.6 519.7v1.8M512.3 523.5v1.8M513.0 527.8v1.8M513.7 533.2v1.8M514.4 533.2v1.8M515.1 540.6v1.8M515.8 544.2v1.8M516.5 544.2v1.8M517.2 546.8v1.8M517.9 549.6v1.8M518.6 549.6v1.8M519.3 551.3v1.8M520.0 551.3v1.8M520.7 553.2v1.8M523.8 555.5v1.8M525.9 557.7v1.8M528.1 558.5v1.8M530.4 558.9v1.8M533.1 559.7v1.8M535.9 559.9v1.8M538.6 560.0v1.8M540.4 560.1v1.8M544.4 560.3v1.8M546.6 560.4v1.8M549.4 560.5v1.8M553.1 562.0v1.8M557.3 562.0v1.8M558.9 562.0v1.8M562.3 562.0v1.8M564.5 562.0v1.8M567.8 562.0v1.8M570.3 562.0v1.8M572.1 562.0v1.8M574.7 562.0v1.8" stroke="#f02020" stroke-width="0.45" fill="none"/>
<line x1="504.30" y1="511.80" x2="505.30" y2="511.80" stroke="#777" stroke-width="0.4"/>
<text x="502.7" y="511.8" font-size="3.2" text-anchor="middle" fill="#333" transform="rotate(-90 502.7 511.8)">1.0</text>
<line x1="504.30" y1="522.70" x2="505.30" y2="522.70" stroke="#777" stroke-width="0.4"/>
<text x="502.7" y="522.7" font-size="3.2" text-anchor="middle" fill="#333" transform="rotate(-90 502.7 522.7)">0.8</text>
<line x1="504.30" y1="533.60" x2="505.30" y2="533.60" stroke="#777" stroke-width="0.4"/>
<text x="502.7" y="533.6" font-size="3.2" text-anchor="middle" fill="#333" transform="rotate(-90 502.7 533.6)">0.6</text>
<line x1="504.30" y1="544.60" x2="505.30" y2="544.60" stroke="#777" stroke-width="0.4"/>
<text x="502.7" y="544.6" font-size="3.2" text-anchor="middle" fill="#333" transform="rotate(-90 502.7 544.6)">0.4</text>
<line x1="504.30" y1="555.50" x2="505.30" y2="555.50" stroke="#777" stroke-width="0.4"/>
<text x="502.7" y="555.5" font-size="3.2" text-anchor="middle" fill="#333" transform="rotate(-90 502.7 555.5)">0.2</text>
<line x1="504.30" y1="566.50" x2="505.30" y2="566.50" stroke="#777" stroke-width="0.4"/>
<text x="502.7" y="566.5" font-size="3.2" text-anchor="middle" fill="#333" transform="rotate(-90 502.7 566.5)">0.0</text>
<line x1="508.20" y1="568.00" x2="508.20" y2="569.00" stroke="#777" stroke-width="0.4"/>
<text x="508.2" y="572.6" font-size="3.4" text-anchor="middle" fill="#333">0</text>
<line x1="528.70" y1="568.00" x2="528.70" y2="569.00" stroke="#777" stroke-width="0.4"/>
<text x="528.7" y="572.6" font-size="3.4" text-anchor="middle" fill="#333">50</text>
<line x1="549.10" y1="568.00" x2="549.10" y2="569.00" stroke="#777" stroke-width="0.4"/>
<text x="549.1" y="572.6" font-size="3.4" text-anchor="middle" fill="#333">100</text>
<line x1="569.60" y1="568.00" x2="569.60" y2="569.00" stroke="#777" stroke-width="0.4"/>
<text x="569.6" y="572.6" font-size="3.4" text-anchor="middle" fill="#333">150</text>
<text x="545.9" y="577.2" font-size="3.6" text-anchor="middle" fill="#333">Time (months)</text>
<text x="495.0" y="538.6" font-size="3.4" text-anchor="middle" fill="#333" transform="rotate(-90 495.0 538.6)">Probability</text>
<text x="509.8" y="558.0" font-size="3.4" text-anchor="start" fill="#333">Expression</text>
<line x1="508.30" y1="561.50" x2="515.30" y2="561.50" stroke="#222" stroke-width="0.5"/>
<text x="516.8" y="562.5" font-size="3" text-anchor="start" fill="#333">low</text>
<line x1="508.30" y1="565.00" x2="515.30" y2="565.00" stroke="#f02020" stroke-width="0.5"/>
<text x="516.8" y="566.0" font-size="3" text-anchor="start" fill="#333">high</text>
<text x="506.3" y="580.2" font-size="2.6" text-anchor="start" fill="#333">Number at risk</text>
<text x="508.5" y="583.0" font-size="2.8" text-anchor="middle" fill="#333">12</text>
<text x="508.5" y="586.0" font-size="2.8" text-anchor="middle" fill="#f02020">12</text>
<text x="528.7" y="583.0" font-size="2.8" text-anchor="middle" fill="#333">12</text>
<text x="528.7" y="586.0" font-size="2.8" text-anchor="middle" fill="#f02020">12</text>
<text x="549.1" y="583.0" font-size="2.8" text-anchor="middle" fill="#333">1</text>
<text x="549.1" y="586.0" font-size="2.8" text-anchor="middle" fill="#f02020">1</text>
<text x="569.6" y="583.0" font-size="2.8" text-anchor="middle" fill="#333">1</text>
<text x="569.6" y="586.0" font-size="2.8" text-anchor="middle" fill="#f02020">1</text>
<text x="497.3" y="583.0" font-size="2.6" text-anchor="start" fill="#333">low</text>
<text x="497.3" y="586.0" font-size="2.6" text-anchor="start" fill="#f02020">high</text>
<rect x="601.40" y="509.30" width="80.10" height="58.10" fill="#fff" stroke="#777" stroke-width="0.5"/>
<text x="639.2" y="507.4" font-size="9.2" text-anchor="middle" fill="#111">TYK2</text>
<text x="651.5" y="520.6" font-size="9" text-anchor="middle" fill="#111">p = 0.005</text>
<path d="M603.59,511.92H603.65V511.98H603.80V512.14H604.03V512.38H604.32V512.70H604.69V513.08H605.11V513.53H605.60V514.05H606.14V515.58H606.75V519.19H607.40V523.28H608.12V528.99H608.89V534.48H609.71V537.76H610.58V541.25H611.50V543.90H612.48V546.34H613.50V548.90H614.57V549.76H615.70V550.50H616.87V551.28H618.09V552.15H619.35V553.21H620.66V554.30H622.02V555.36H623.43V555.64H624.88V555.93H626.38V556.23H627.92V556.54H629.50V556.89H631.13V557.29H632.81V557.71H634.53V558.18H636.29V559.06H638.09V559.96H639.94V561.30H641.83V561.30H643.77V561.30H645.74V561.30H647.76V561.30H649.82V561.30H651.92V561.30H654.06V561.30H656.25V561.30H658.47V561.30H660.74V561.30" fill="none" stroke="#222" stroke-width="0.85"/>
<path d="M604.2 511.5v1.8M604.9 512.2v1.8M605.6 512.6v1.8M606.3 514.7v1.8M607.0 518.3v1.8M607.7 522.4v1.8M608.4 528.1v1.8M609.1 533.6v1.8M609.8 536.9v1.8M610.5 536.9v1.8M611.2 540.4v1.8M611.9 543.0v1.8M612.6 545.4v1.8M613.3 545.4v1.8M614.0 548.0v1.8M614.7 548.9v1.8M615.4 548.9v1.8M616.1 549.6v1.8M619.2 551.3v1.8M622.0 554.5v1.8M625.6 555.0v1.8M629.6 556.0v1.8M633.1 556.8v1.8M636.3 558.2v1.8M639.1 559.1v1.8M641.4 560.4v1.8M645.1 560.4v1.8M648.7 560.4v1.8M653.1 560.4v1.8M655.6 560.4v1.8M660.1 560.4v1.8" stroke="#222" stroke-width="0.45" fill="none"/>
<path d="M603.59,513.03H603.67V513.14H603.87V513.43H604.17V513.85H604.56V514.41H605.03V515.09H605.59V516.27H606.23V521.38H606.95V527.11H607.74V533.21H608.61V539.87H609.55V543.51H610.56V546.87H611.63V549.36H612.78V551.66H614.00V553.57H615.28V554.53H616.63V555.54H618.04V556.60H619.52V557.47H621.06V557.69H622.66V557.92H624.32V558.16H626.05V558.40H627.84V558.66H629.69V559.01H631.60V559.49H633.57V559.98H635.59V561.64H637.68V561.85H639.82V561.85H642.03V561.85H644.29V561.85H646.61V561.85H648.98V561.85H651.41V561.85H653.90V561.85H656.44V561.85H659.04V561.85H661.70V561.85H664.40V561.85H667.17V561.85H669.99V561.85H672.86V561.85H675.79V561.85H678.77V561.85" fill="none" stroke="#f02020" stroke-width="0.85"/>
<path d="M604.2 513.0v1.8M604.9 513.5v1.8M605.6 515.4v1.8M606.3 520.5v1.8M607.0 526.2v1.8M607.7 526.2v1.8M608.4 532.3v1.8M609.1 539.0v1.8M609.8 542.6v1.8M610.5 542.6v1.8M611.2 546.0v1.8M611.9 548.5v1.8M612.6 548.5v1.8M613.3 550.8v1.8M614.0 550.8v1.8M614.7 552.7v1.8M615.4 553.6v1.8M616.1 553.6v1.8M619.0 555.7v1.8M620.7 556.6v1.8M623.1 557.0v1.8M626.6 557.5v1.8M629.2 557.8v1.8M631.9 558.6v1.8M635.1 559.1v1.8M639.1 561.0v1.8M641.5 561.0v1.8M644.8 561.0v1.8M648.1 561.0v1.8M650.3 561.0v1.8M654.1 561.0v1.8M657.9 561.0v1.8M661.5 561.0v1.8M665.5 561.0v1.8M668.9 561.0v1.8M672.5 561.0v1.8M676.9 561.0v1.8M678.7 561.0v1.8" stroke="#f02020" stroke-width="0.45" fill="none"/>
<line x1="600.40" y1="511.40" x2="601.40" y2="511.40" stroke="#777" stroke-width="0.4"/>
<text x="598.8" y="511.4" font-size="3.2" text-anchor="middle" fill="#333" transform="rotate(-90 598.8 511.4)">1.0</text>
<line x1="600.40" y1="522.40" x2="601.40" y2="522.40" stroke="#777" stroke-width="0.4"/>
<text x="598.8" y="522.4" font-size="3.2" text-anchor="middle" fill="#333" transform="rotate(-90 598.8 522.4)">0.8</text>
<line x1="600.40" y1="533.40" x2="601.40" y2="533.40" stroke="#777" stroke-width="0.4"/>
<text x="598.8" y="533.4" font-size="3.2" text-anchor="middle" fill="#333" transform="rotate(-90 598.8 533.4)">0.6</text>
<line x1="600.40" y1="544.40" x2="601.40" y2="544.40" stroke="#777" stroke-width="0.4"/>
<text x="598.8" y="544.4" font-size="3.2" text-anchor="middle" fill="#333" transform="rotate(-90 598.8 544.4)">0.4</text>
<line x1="600.40" y1="555.40" x2="601.40" y2="555.40" stroke="#777" stroke-width="0.4"/>
<text x="598.8" y="555.4" font-size="3.2" text-anchor="middle" fill="#333" transform="rotate(-90 598.8 555.4)">0.2</text>
<line x1="600.40" y1="566.40" x2="601.40" y2="566.40" stroke="#777" stroke-width="0.4"/>
<text x="598.8" y="566.4" font-size="3.2" text-anchor="middle" fill="#333" transform="rotate(-90 598.8 566.4)">0.0</text>
<line x1="603.60" y1="567.40" x2="603.60" y2="568.40" stroke="#777" stroke-width="0.4"/>
<text x="603.6" y="572.0" font-size="3.4" text-anchor="middle" fill="#333">0</text>
<line x1="619.10" y1="567.40" x2="619.10" y2="568.40" stroke="#777" stroke-width="0.4"/>
<text x="619.1" y="572.0" font-size="3.4" text-anchor="middle" fill="#333">50</text>
<line x1="634.70" y1="567.40" x2="634.70" y2="568.40" stroke="#777" stroke-width="0.4"/>
<text x="634.7" y="572.0" font-size="3.4" text-anchor="middle" fill="#333">100</text>
<line x1="650.00" y1="567.40" x2="650.00" y2="568.40" stroke="#777" stroke-width="0.4"/>
<text x="650.0" y="572.0" font-size="3.4" text-anchor="middle" fill="#333">150</text>
<line x1="665.60" y1="567.40" x2="665.60" y2="568.40" stroke="#777" stroke-width="0.4"/>
<text x="665.6" y="572.0" font-size="3.4" text-anchor="middle" fill="#333">200</text>
<line x1="680.80" y1="567.40" x2="680.80" y2="568.40" stroke="#777" stroke-width="0.4"/>
<text x="680.8" y="572.0" font-size="3.4" text-anchor="middle" fill="#333">250</text>
<text x="641.5" y="576.6" font-size="3.6" text-anchor="middle" fill="#333">Time (months)</text>
<text x="591.1" y="538.4" font-size="3.4" text-anchor="middle" fill="#333" transform="rotate(-90 591.1 538.4)">Probability</text>
<text x="605.9" y="557.4" font-size="3.4" text-anchor="start" fill="#333">Expression</text>
<line x1="604.40" y1="560.90" x2="611.40" y2="560.90" stroke="#222" stroke-width="0.5"/>
<text x="612.9" y="561.9" font-size="3" text-anchor="start" fill="#333">low</text>
<line x1="604.40" y1="564.40" x2="611.40" y2="564.40" stroke="#f02020" stroke-width="0.5"/>
<text x="612.9" y="565.4" font-size="3" text-anchor="start" fill="#333">high</text>
<text x="602.4" y="579.6" font-size="2.6" text-anchor="start" fill="#333">Number at risk</text>
<text x="604.0" y="582.4" font-size="2.8" text-anchor="middle" fill="#333">12</text>
<text x="604.0" y="585.4" font-size="2.8" text-anchor="middle" fill="#f02020">12</text>
<text x="619.1" y="582.4" font-size="2.8" text-anchor="middle" fill="#333">12</text>
<text x="619.1" y="585.4" font-size="2.8" text-anchor="middle" fill="#f02020">12</text>
<text x="634.7" y="582.4" font-size="2.8" text-anchor="middle" fill="#333">1</text>
<text x="634.7" y="585.4" font-size="2.8" text-anchor="middle" fill="#f02020">1</text>
<text x="650.0" y="582.4" font-size="2.8" text-anchor="middle" fill="#333">1</text>
<text x="650.0" y="585.4" font-size="2.8" text-anchor="middle" fill="#f02020">1</text>
<text x="665.6" y="582.4" font-size="2.8" text-anchor="middle" fill="#333">1</text>
<text x="665.6" y="585.4" font-size="2.8" text-anchor="middle" fill="#f02020">1</text>
<text x="680.8" y="582.4" font-size="2.8" text-anchor="middle" fill="#333">1</text>
<text x="680.8" y="585.4" font-size="2.8" text-anchor="middle" fill="#f02020">1</text>
<text x="593.4" y="582.4" font-size="2.6" text-anchor="start" fill="#333">low</text>
<text x="593.4" y="585.4" font-size="2.6" text-anchor="start" fill="#f02020">high</text>
<text x="4.0" y="616.3" font-size="15" text-anchor="start" fill="#000" font-weight="bold">j</text>
<defs>
<filter id="tex" x="0" y="0" width="1" height="1" color-interpolation-filters="sRGB">
 <feTurbulence type="fractalNoise" baseFrequency="1.1" numOctaves="2" seed="5" result="n"/>
 <feColorMatrix in="n" type="matrix" values="0 0 0 0 1  0 0 0 0 0.95  0 0 0 0 1  0 0 0 -2.6 1.35" result="w"/>
 <feComposite in="w" in2="SourceGraphic" operator="in" result="ws"/>
 <feMerge><feMergeNode in="SourceGraphic"/><feMergeNode in="ws"/></feMerge>
</filter>
<filter id="texd" x="0" y="0" width="1" height="1" color-interpolation-filters="sRGB">
 <feTurbulence type="fractalNoise" baseFrequency="0.95" numOctaves="2" seed="5" result="n"/>
 <feColorMatrix in="n" type="matrix" values="0 0 0 0 1  0 0 0 0 0.93  0 0 0 0 1  0 0 0 -2.4 1.22" result="w"/>
 <feColorMatrix in="n" type="matrix" values="0 0 0 0 0.38  0 0 0 0 0.12  0 0 0 0 0.42  0 0 0 2.4 -1.2" result="k"/>
 <feComposite in="w" in2="SourceGraphic" operator="in" result="ws"/>
 <feComposite in="k" in2="SourceGraphic" operator="in" result="ks"/>
 <feMerge><feMergeNode in="SourceGraphic"/><feMergeNode in="ks"/><feMergeNode in="ws"/></feMerge>
</filter>
<filter id="tex2" x="0" y="0" width="1" height="1" color-interpolation-filters="sRGB">
 <feTurbulence type="fractalNoise" baseFrequency="1.3" numOctaves="2" seed="9" result="n"/>
 <feColorMatrix in="n" type="matrix" values="0 0 0 0 0.95  0 0 0 0 0.95  0 0 0 0 0.5  0 0 0 -2.4 1.2" result="w"/>
 <feComposite in="w" in2="SourceGraphic" operator="in" result="ws"/>
 <feMerge><feMergeNode in="SourceGraphic"/><feMergeNode in="ws"/></feMerge>
</filter>
<filter id="blur1"><feGaussianBlur stdDeviation="0.8"/></filter>
<filter id="blur2"><feGaussianBlur stdDeviation="1.6"/></filter>

<clipPath id="cp00"><rect x="18.9" y="620" width="80.9" height="70.4"/></clipPath>
<clipPath id="cp01"><rect x="18.9" y="693.5" width="80.9" height="72.3"/></clipPath>
<clipPath id="cp10"><rect x="101.6" y="620" width="81.3" height="70.4"/></clipPath>
<clipPath id="cp11"><rect x="101.6" y="693.5" width="81.3" height="72.3"/></clipPath>
<clipPath id="cp20"><rect x="184.9" y="620" width="79.3" height="70.4"/></clipPath>
<clipPath id="cp21"><rect x="184.9" y="693.5" width="79.3" height="72.3"/></clipPath>
<clipPath id="cp30"><rect x="266.3" y="620" width="79.4" height="70.4"/></clipPath>
<clipPath id="cp31"><rect x="266.3" y="693.5" width="79.4" height="72.3"/></clipPath>
</defs>
<g clip-path="url(#cp00)">
<g filter="url(#tex)">
<rect x="18.90" y="620.00" width="80.90" height="70.40" fill="#b270b2"/>
<polygon points="18.9,620.3 28.1,620.3 29.5,629.5 25.5,638.7 22.9,647.9 18.9,649.2" fill="#f0e2f0" filter="url(#blur1)"/>
<polygon points="51.8,620.0 91.2,620.0 88.6,627.5 70.2,628.8 53.1,628.1" fill="#f0e2f0" filter="url(#blur1)"/>
<polygon points="84.6,636.0 99.8,633.4 99.8,655.7 93.8,657.0 86.6,649.2" fill="#f2e6f2" filter="url(#blur1)"/>
<polygon points="18.9,676.8 41.3,679.4 58.4,680.7 78.1,676.8 88.6,671.5 93.8,670.2 99.8,676.8 99.8,690.6 18.9,690.6" fill="#ead6ea" filter="url(#blur1)"/>
<polygon points="86.0,680.7 99.8,678.1 99.8,690.6 88.6,690.6" fill="#f6f0f6"/>
<path d="M22,684 C40,686 60,687 80,684" fill="none" stroke="#b070b0" stroke-width="2" filter="url(#blur1)"/>
<ellipse cx="59" cy="660.3" rx="33" ry="24.5" transform="rotate(-6 59 660.3)" fill="#b070b0"/>
<ellipse cx="59" cy="660.3" rx="31.5" ry="23" transform="rotate(-6 59 660.3)" fill="#f4eaf4"/>
<path d="M42,646 C44,640 52,638.5 58,642 C63,638 71,637.5 77,641 C81,647 80.5,659 77,666 C72,672 63,674 56,672 C49,669 43,663 42,655 Z" fill="#8a4288" stroke="#a868a8" stroke-width="1.4"/>
</g></g>
<g clip-path="url(#cp10)">
<rect x="101.60" y="620.00" width="81.30" height="70.40" fill="#f2f1f2"/>
<g filter="url(#tex)">
<polygon points="107.2,645.2 111.1,638.7 117.7,633.4 128.2,629.5 138.7,625.5 150.6,624.2 163.7,626.2 176.8,625.5 178.8,632.1 176.8,641.3 175.5,651.8 166.3,655.7 166.3,662.3 159.8,667.6 158.4,674.1 153.2,678.1 147.9,684.6 142.7,688.6 137.4,687.9 129.5,680.7 124.3,672.8 121.7,667.6 113.8,659.7 109.8,653.1" fill="#a652a4"/>
<polygon points="138.7,620.5 161.1,620.5 159.8,622.6 140.0,622.6" fill="#b070b0"/>
<polygon points="141.4,666.2 150.6,664.9 151.9,671.5 145.3,673.5 140.0,671.5" fill="#f0e8f0" filter="url(#blur1)"/>
<polygon points="151.9,640.0 163.7,637.3 166.3,645.2 157.1,647.9" fill="#e8d0e8" filter="url(#blur1)"/>
<polygon points="137.4,676.8 155.8,675.4 153.2,684.6 141.4,686.0" fill="#7a3a80" opacity="0.6" filter="url(#blur1)"/>
</g></g>
<g clip-path="url(#cp20)">
<g filter="url(#texd)">
<rect x="184.90" y="620.00" width="79.30" height="70.40" fill="#a04e9e"/>
<polygon points="185.3,620.3 264.1,620.3 264.1,651.8 185.3,653.1" fill="#903e90" filter="url(#blur1)"/>
<polygon points="185.3,620.3 195.8,620.3 196.4,633.4 192.5,641.3 185.3,641.9" fill="#e6c0de" filter="url(#blur1)"/>
<path d="M185,653 C205,649 235,651 264,649 L264,656 C235,658 212,656 202,659 C193,664 191,676 198,690 L185,690 Z" fill="#d882bc" filter="url(#blur1)"/>
<path d="M200,660 C196,670 200,682 215,688 C230,691 250,688 264,684" fill="none" stroke="#d080b8" stroke-width="2.4" filter="url(#blur1)"/>
<polygon points="185.3,680.7 219.4,686.6 264.1,683.3 264.1,690.6 185.3,690.6" fill="#c872b2" filter="url(#blur1)"/>
<polyline points="203.7,646.5 210.2,643.9 216.8,641.3" fill="none" stroke="#f6eef6" stroke-width="1.8"/>
<polyline points="223.4,636.0 225.3,641.3 223.4,647.9" fill="none" stroke="#f6eef6" stroke-width="1.8"/>
<polyline points="237.8,661.0 244.4,666.2 248.3,672.8" fill="none" stroke="#f6eef6" stroke-width="1.8"/>
<polyline points="197.1,667.6 203.7,670.2 210.2,675.4" fill="none" stroke="#f6eef6" stroke-width="1.8"/>
<polyline points="240.4,667.6 245.7,664.9" fill="none" stroke="#f6eef6" stroke-width="1.8"/>
<polyline points="256.2,679.4 261.5,683.3" fill="none" stroke="#f6eef6" stroke-width="1.8"/>
<polyline points="195.8,664.9 199.7,670.2" fill="none" stroke="#f6eef6" stroke-width="1.8"/>
<polyline points="212.9,664.9 219.4,661.0" fill="none" stroke="#f6eef6" stroke-width="1.8"/>
<polyline points="229.9,670.2 235.2,672.8" fill="none" stroke="#f6eef6" stroke-width="1.8"/>
<polygon points="206.3,672.8 216.8,675.4 215.5,680.7 207.6,679.4" fill="#c06070" opacity="0.7" filter="url(#blur1)"/>
</g></g>
<g clip-path="url(#cp30)">
<g filter="url(#texd)">
<rect x="266.30" y="620.00" width="79.40" height="70.40" fill="#a058a4"/>
<polygon points="311.9,643.9 323.8,642.6 322.4,646.5 313.2,647.2" fill="#c878b8" filter="url(#blur1)"/>
<polygon points="301.4,654.4 305.4,658.4 304.0,674.1 301.4,670.2" fill="#b868b0" filter="url(#blur1)"/>
</g></g>
<g clip-path="url(#cp01)">
<rect x="18.90" y="693.50" width="80.90" height="72.30" fill="#f4f2f4"/>
<g>
<polygon points="18.9,699.8 47.9,696.5 99.1,694.6 99.8,756.3 93.8,760.3 54.4,763.6 18.9,753.7" fill="#c7bfd9"/>
<polygon points="18.9,699.8 22.9,699.8 22.9,753.7 18.9,753.7" fill="#a880b8" filter="url(#blur1)"/>
<polygon points="95.2,695.9 99.8,695.9 99.8,756.3 95.2,756.3" fill="#a880b8" filter="url(#blur1)"/>
<polygon points="38.7,697.2 54.4,698.5 70.2,706.4 88.6,703.8 96.5,707.7 93.8,716.9 78.1,718.2 64.9,716.9 47.9,714.3 34.7,714.3 26.8,711.7 28.1,707.7 37.3,705.1" fill="#c2a25a" filter="url(#tex2)"/>
<polygon points="20.3,724.8 28.1,723.5 30.8,737.9 38.7,745.8 47.9,751.1 41.3,753.7 30.8,748.4 22.9,743.2 20.3,737.9" fill="#c2a25a" filter="url(#tex2)"/>
<path d="M44.6,727.4 C45.2,716.9 59.7,716.9 64.9,720.9 C70.2,716.9 83.3,718.2 86.6,727.4 C88.6,737.9 83.3,749.8 72.8,756.3 C67.6,759.6 59.7,760.3 55.7,756.3 C47.9,748.4 43.3,737.9 44.6,727.4 Z" fill="#c2a25a" filter="url(#tex2)"/>
<polygon points="47.9,761.6 70.2,761.6 67.6,765.5 54.4,765.5" fill="#c0a0c8" filter="url(#blur1)"/>
</g></g>
<g clip-path="url(#cp11)">
<rect x="101.60" y="693.50" width="81.30" height="72.30" fill="#f2f1f2"/>
<g>
<polygon points="107.2,718.7 111.1,712.2 117.7,706.9 128.2,703.0 138.7,699.0 150.6,697.7 163.7,699.7 176.8,699.0 178.8,705.6 176.8,714.8 175.5,725.3 166.3,729.2 166.3,735.8 159.8,741.1 158.4,747.6 153.2,751.6 147.9,758.1 142.7,762.1 137.4,761.4 129.5,754.2 124.3,746.3 121.7,741.1 113.8,733.2 109.8,726.6" fill="#9f86c4"/>
<polygon points="111.1,717.4 121.7,712.2 132.2,708.2 144.0,703.0 157.1,703.0 166.3,708.2 171.6,716.1 166.3,727.9 159.8,735.8 153.2,741.1 141.4,743.7 129.5,738.4 117.7,730.5 111.1,725.3" fill="#c2a25a" filter="url(#tex2)"/>
<polygon points="126.9,746.3 140.0,747.6 141.4,754.2 132.2,755.5" fill="#c2a25a" filter="url(#blur1)"/>
<polygon points="171.6,704.3 176.8,705.6 175.5,713.5" fill="#c2a25a" filter="url(#tex2)"/>
<polygon points="117.7,710.8 128.2,706.9 137.4,710.8 132.2,717.4 121.7,718.7" fill="#a58ac6" filter="url(#blur1)"/>
<polygon points="141.4,721.4 150.6,720.0 151.9,726.6 142.7,727.9" fill="#a58ac6" filter="url(#blur1)"/>
<polygon points="155.8,724.0 166.3,722.7 167.6,730.5 157.1,731.9" fill="#a58ac6" filter="url(#blur1)"/>
<polygon points="105.9,718.7 112.5,716.1 115.1,722.7 108.5,725.3" fill="#a58ac6" filter="url(#blur1)"/>
<polygon points="147.9,708.2 154.5,706.9 155.8,712.2 149.2,713.5" fill="#a58ac6" filter="url(#blur1)"/>
<polygon points="129.5,727.9 136.1,729.2 134.8,733.2 128.9,732.5" fill="#a58ac6" filter="url(#blur1)"/>
</g></g>
<g clip-path="url(#cp21)">
<g>
<rect x="184.90" y="693.50" width="79.30" height="72.30" fill="#c0a05c" filter="url(#tex2)"/>
<path d="M185,727 C192,728 197,735 200,745 C203,755 210,762 222,766 L185,766 Z" fill="#b890c4"/>
<path d="M185,726 C205,723 240,726 264,722" fill="none" stroke="#c890c8" stroke-width="1.2" filter="url(#blur1)"/>
<polygon points="185.3,693.3 191.8,693.3 191.8,702.5 185.3,705.1" fill="#c898c8" filter="url(#blur1)"/>
<polyline points="203.7,719.5 210.2,716.9 216.8,714.3" fill="none" stroke="#f6f0f4" stroke-width="1.6"/>
<polyline points="223.4,709.0 225.3,714.3 223.4,720.9" fill="none" stroke="#f6f0f4" stroke-width="1.6"/>
<polyline points="195.8,743.2 203.7,740.6 206.3,737.9" fill="none" stroke="#f6f0f4" stroke-width="1.6"/>
<polyline points="201.0,737.9 205.0,743.2 206.3,748.4" fill="none" stroke="#f6f0f4" stroke-width="1.6"/>
<polyline points="211.5,749.8 214.2,756.3" fill="none" stroke="#f6f0f4" stroke-width="1.6"/>
<polyline points="208.9,752.4 218.1,751.1" fill="none" stroke="#f6f0f4" stroke-width="1.6"/>
<polyline points="237.8,734.0 244.4,739.2 248.3,745.8" fill="none" stroke="#f6f0f4" stroke-width="1.6"/>
<polyline points="240.4,740.6 245.7,737.9" fill="none" stroke="#f6f0f4" stroke-width="1.6"/>
<polyline points="190.5,753.7 195.8,755.0" fill="none" stroke="#f6f0f4" stroke-width="1.6"/>
<polyline points="256.2,752.4 261.5,756.3" fill="none" stroke="#f6f0f4" stroke-width="1.6"/>
<polygon points="206.3,756.3 214.2,759.0 211.5,763.6 205.0,763.6" fill="#8a5a90" opacity="0.6" filter="url(#blur1)"/>
</g></g>
<g clip-path="url(#cp31)">
<g>
<rect x="266.30" y="693.50" width="79.40" height="72.30" fill="#b080b8"/>
<rect x="267.80" y="695.00" width="75.90" height="68.80" fill="#c0a05c" filter="url(#tex2)"/>
<path d="M270,755.5 C278,752 288,754 298,758" fill="none" stroke="#3a1a4a" stroke-width="2.6" filter="url(#blur1)"/>
<path d="M300,761 C310,757 325,758 340,762" fill="none" stroke="#3a1a4a" stroke-width="2.4" filter="url(#blur1)"/>
<path d="M320,751 C326,750 332,752 336,755" fill="none" stroke="#4a2a5a" stroke-width="1.2" filter="url(#blur1)"/>
</g></g>
<rect x="25.9" y="621.8" width="28" height="10.5" fill="#ffffff" opacity="0.35"/>
<text x="29.5" y="629.8" font-size="9" text-anchor="start" fill="#222">76R</text>
<rect x="91.40" y="687.30" width="7.20" height="1.60" fill="#000"/>
<rect x="108.6" y="621.8" width="28" height="10.5" fill="#ffffff" opacity="0.35"/>
<text x="112.2" y="629.8" font-size="9" text-anchor="start" fill="#222">36R</text>
<rect x="174.50" y="687.30" width="7.20" height="1.60" fill="#000"/>
<rect x="191.9" y="621.8" width="28" height="10.5" fill="#ffffff" opacity="0.35"/>
<text x="195.5" y="629.8" font-size="9" text-anchor="start" fill="#222">72S</text>
<rect x="255.80" y="687.30" width="7.20" height="1.60" fill="#000"/>
<rect x="273.3" y="621.8" width="28" height="10.5" fill="#ffffff" opacity="0.35"/>
<text x="276.9" y="629.8" font-size="9" text-anchor="start" fill="#222">36S</text>
<rect x="337.30" y="687.30" width="7.20" height="1.60" fill="#000"/>
<rect x="61.40" y="769.80" width="6.20" height="6.20" fill="#f0f040" stroke="#333" stroke-width="0.6"/>
<text x="71.7" y="776.0" font-size="9" text-anchor="start" fill="#222">Cancer cells</text>
<rect x="129.60" y="769.80" width="5.60" height="5.60" fill="#000"/>
<text x="138.7" y="776.0" font-size="9" text-anchor="start" fill="#222">Non cancer cells</text>
<rect x="209.20" y="769.80" width="6.20" height="6.20" fill="#8c9aa8" stroke="#555" stroke-width="0.6"/>
<text x="219.4" y="776.0" font-size="9" text-anchor="start" fill="#222">Unidentifiable</text>
<text x="5.2" y="797.7" font-size="15" text-anchor="start" fill="#000" font-weight="bold">l</text>
<line x1="47.90" y1="795.80" x2="47.90" y2="884.00" stroke="#333" stroke-width="0.9"/>
<line x1="47.90" y1="884.00" x2="113.00" y2="884.00" stroke="#333" stroke-width="0.9"/>
<line x1="45.70" y1="806.40" x2="47.90" y2="806.40" stroke="#333" stroke-width="0.7"/>
<text x="44.5" y="809.6" font-size="9" text-anchor="end" fill="#222">3</text>
<line x1="45.70" y1="831.10" x2="47.90" y2="831.10" stroke="#333" stroke-width="0.7"/>
<text x="44.5" y="834.3" font-size="9" text-anchor="end" fill="#222">2</text>
<line x1="45.70" y1="856.00" x2="47.90" y2="856.00" stroke="#333" stroke-width="0.7"/>
<text x="44.5" y="859.2" font-size="9" text-anchor="end" fill="#222">1</text>
<line x1="45.70" y1="880.30" x2="47.90" y2="880.30" stroke="#333" stroke-width="0.7"/>
<text x="44.5" y="883.5" font-size="9" text-anchor="end" fill="#222">0</text>
<text x="74.5" y="798.6" font-size="9" text-anchor="middle" fill="#111">JAK1</text>
<path d="M64.75,803.70 C64.64,804.01 64.67,804.63 64.06,805.56 C63.45,806.48 62.21,807.87 61.10,809.26 C59.99,810.65 58.32,812.35 57.39,813.89 C56.47,815.43 55.85,816.98 55.54,818.52 C55.23,820.06 55.31,821.60 55.54,823.15 C55.77,824.69 56.54,826.23 56.93,827.78 C57.32,829.32 57.78,830.86 57.86,832.41 C57.93,833.95 57.70,835.49 57.39,837.04 C57.08,838.58 56.47,840.12 56.00,841.67 C55.54,843.21 55.03,844.75 54.61,846.30 C54.20,847.84 53.66,849.69 53.50,850.93 C53.35,852.16 53.20,852.62 53.69,853.70 C54.18,854.78 56.16,856.33 56.47,857.41 C56.78,858.49 55.97,859.10 55.54,860.19 C55.11,861.27 53.72,862.81 53.87,863.89 C54.03,864.97 55.26,865.74 56.47,866.67 C57.67,867.59 59.83,868.52 61.10,869.44 C62.36,870.37 63.67,871.45 64.06,872.22 C64.45,872.99 63.98,873.15 63.41,874.07 C62.84,875.00 61.33,876.67 60.63,877.78 C59.94,878.89 59.48,880.25 59.24,880.74 L70.36,880.74 C70.12,880.25 69.66,878.89 68.97,877.78 C68.27,876.67 66.76,875.00 66.19,874.07 C65.62,873.15 65.15,872.99 65.54,872.22 C65.93,871.45 67.24,870.37 68.50,869.44 C69.77,868.52 71.93,867.59 73.13,866.67 C74.34,865.74 75.57,864.97 75.73,863.89 C75.88,862.81 74.49,861.27 74.06,860.19 C73.63,859.10 72.82,858.49 73.13,857.41 C73.44,856.33 75.42,854.78 75.91,853.70 C76.40,852.62 76.25,852.16 76.10,850.93 C75.94,849.69 75.40,847.84 74.99,846.30 C74.57,844.75 74.06,843.21 73.60,841.67 C73.13,840.12 72.52,838.58 72.21,837.04 C71.90,835.49 71.67,833.95 71.74,832.41 C71.82,830.86 72.28,829.32 72.67,827.78 C73.06,826.23 73.83,824.69 74.06,823.15 C74.29,821.60 74.37,820.06 74.06,818.52 C73.75,816.98 73.13,815.43 72.21,813.89 C71.28,812.35 69.61,810.65 68.50,809.26 C67.39,807.87 66.15,806.48 65.54,805.56 C64.93,804.63 64.96,804.01 64.85,803.70Z" fill="#e8666a" stroke="#e8666a" stroke-width="0.4" stroke-linejoin="round"/>
<line x1="90.50" y1="836.10" x2="90.50" y2="880.60" stroke="#999" stroke-width="0.6"/>
<line x1="89.90" y1="853.60" x2="91.10" y2="853.60" stroke="#999" stroke-width="0.6"/>
<line x1="89.30" y1="863.60" x2="91.70" y2="863.60" stroke="#999" stroke-width="0.6"/>
<line x1="79.10" y1="880.80" x2="101.70" y2="880.80" stroke="#c4c4c4" stroke-width="1.4"/>
<line x1="64.80" y1="884.00" x2="64.80" y2="885.80" stroke="#333" stroke-width="0.6"/>
<line x1="90.50" y1="884.00" x2="90.50" y2="885.80" stroke="#333" stroke-width="0.6"/>
<text x="65.6" y="890.2" font-size="9" text-anchor="end" fill="#222" transform="rotate(-45 65.6 890.2)">Resistant</text>
<text x="91.3" y="890.2" font-size="9" text-anchor="end" fill="#222" transform="rotate(-45 91.3 890.2)">Sensitive</text>
<line x1="126.40" y1="795.80" x2="126.40" y2="884.00" stroke="#333" stroke-width="0.9"/>
<line x1="126.40" y1="884.00" x2="192.00" y2="884.00" stroke="#333" stroke-width="0.9"/>
<line x1="124.20" y1="815.90" x2="126.40" y2="815.90" stroke="#333" stroke-width="0.7"/>
<text x="123.0" y="819.1" font-size="9" text-anchor="end" fill="#222">4</text>
<line x1="124.20" y1="848.20" x2="126.40" y2="848.20" stroke="#333" stroke-width="0.7"/>
<text x="123.0" y="851.4" font-size="9" text-anchor="end" fill="#222">2</text>
<line x1="124.20" y1="880.30" x2="126.40" y2="880.30" stroke="#333" stroke-width="0.7"/>
<text x="123.0" y="883.5" font-size="9" text-anchor="end" fill="#222">0</text>
<text x="153.5" y="798.6" font-size="9" text-anchor="middle" fill="#111">JAK2</text>
<path d="M144.74,804.17 C144.71,805.79 144.64,810.73 144.52,813.89 C144.41,817.05 144.29,820.37 144.06,823.15 C143.83,825.93 143.47,828.55 143.13,830.56 C142.79,832.56 142.13,833.95 142.02,835.19 C141.91,836.42 142.72,836.88 142.49,837.96 C142.25,839.04 141.40,840.43 140.63,841.67 C139.86,842.90 138.09,844.29 137.86,845.37 C137.62,846.45 138.40,847.07 139.24,848.15 C140.09,849.23 142.64,850.77 142.95,851.85 C143.26,852.93 142.49,853.55 141.10,854.63 C139.71,855.71 135.39,857.25 134.61,858.33 C133.84,859.41 135.08,860.03 136.47,861.11 C137.86,862.19 141.59,863.73 142.95,864.81 C144.31,865.90 144.38,866.36 144.61,867.59 C144.85,868.83 144.54,871.14 144.34,872.22 C144.14,873.30 144.41,873.15 143.41,874.07 C142.41,875.00 139.94,876.70 138.32,877.78 C136.70,878.86 134.46,880.00 133.69,880.56 C132.92,881.11 133.69,881.02 133.69,881.11 L155.91,881.11 C155.91,881.02 156.68,881.11 155.91,880.56 C155.14,880.00 152.90,878.86 151.28,877.78 C149.66,876.70 147.19,875.00 146.19,874.07 C145.19,873.15 145.46,873.30 145.26,872.22 C145.06,871.14 144.75,868.83 144.99,867.59 C145.22,866.36 145.29,865.90 146.65,864.81 C148.01,863.73 151.74,862.19 153.13,861.11 C154.52,860.03 155.76,859.41 154.99,858.33 C154.21,857.25 149.89,855.71 148.50,854.63 C147.11,853.55 146.34,852.93 146.65,851.85 C146.96,850.77 149.51,849.23 150.36,848.15 C151.20,847.07 151.98,846.45 151.74,845.37 C151.51,844.29 149.74,842.90 148.97,841.67 C148.20,840.43 147.35,839.04 147.11,837.96 C146.88,836.88 147.69,836.42 147.58,835.19 C147.47,833.95 146.81,832.56 146.47,830.56 C146.13,828.55 145.77,825.93 145.54,823.15 C145.31,820.37 145.19,817.05 145.08,813.89 C144.96,810.73 144.89,805.79 144.86,804.17Z" fill="#e8666a" stroke="#e8666a" stroke-width="0.4" stroke-linejoin="round"/>
<line x1="170.50" y1="836.70" x2="170.50" y2="880.60" stroke="#999" stroke-width="0.6"/>
<line x1="169.90" y1="858.90" x2="171.10" y2="858.90" stroke="#999" stroke-width="0.6"/>
<line x1="159.10" y1="880.80" x2="181.80" y2="880.80" stroke="#c4c4c4" stroke-width="1.4"/>
<line x1="144.80" y1="884.00" x2="144.80" y2="885.80" stroke="#333" stroke-width="0.6"/>
<line x1="170.50" y1="884.00" x2="170.50" y2="885.80" stroke="#333" stroke-width="0.6"/>
<text x="145.6" y="890.2" font-size="9" text-anchor="end" fill="#222" transform="rotate(-45 145.6 890.2)">Resistant</text>
<text x="171.3" y="890.2" font-size="9" text-anchor="end" fill="#222" transform="rotate(-45 171.3 890.2)">Sensitive</text>
<line x1="205.70" y1="795.80" x2="205.70" y2="884.00" stroke="#333" stroke-width="0.9"/>
<line x1="205.70" y1="884.00" x2="270.00" y2="884.00" stroke="#333" stroke-width="0.9"/>
<line x1="203.50" y1="818.30" x2="205.70" y2="818.30" stroke="#333" stroke-width="0.7"/>
<text x="202.3" y="821.5" font-size="9" text-anchor="end" fill="#222">2</text>
<line x1="203.50" y1="849.20" x2="205.70" y2="849.20" stroke="#333" stroke-width="0.7"/>
<text x="202.3" y="852.4" font-size="9" text-anchor="end" fill="#222">1</text>
<line x1="203.50" y1="880.30" x2="205.70" y2="880.30" stroke="#333" stroke-width="0.7"/>
<text x="202.3" y="883.5" font-size="9" text-anchor="end" fill="#222">0</text>
<text x="232.4" y="798.6" font-size="9" text-anchor="middle" fill="#111">JAK3</text>
<path d="M225.24,803.70 C225.21,806.17 225.14,814.51 225.02,818.52 C224.91,822.53 224.74,824.69 224.56,827.78 C224.37,830.86 224.17,834.57 223.91,837.04 C223.65,839.51 223.34,841.05 222.99,842.59 C222.63,844.14 221.70,845.06 221.78,846.30 C221.86,847.53 223.09,848.77 223.45,850.00 C223.80,851.23 224.53,852.47 223.91,853.70 C223.29,854.94 220.75,856.40 219.74,857.41 C218.74,858.41 217.74,858.80 217.89,859.72 C218.05,860.65 219.59,861.96 220.67,862.96 C221.75,863.97 223.63,864.81 224.37,865.74 C225.11,866.67 225.04,867.28 225.11,868.52 C225.19,869.75 225.42,871.91 224.84,873.15 C224.25,874.38 222.91,875.00 221.60,875.93 C220.28,876.85 218.28,877.87 216.97,878.70 C215.65,879.54 214.27,880.56 213.73,880.93 L236.87,880.93 C236.33,880.56 234.95,879.54 233.63,878.70 C232.32,877.87 230.32,876.85 229.00,875.93 C227.69,875.00 226.35,874.38 225.76,873.15 C225.18,871.91 225.41,869.75 225.49,868.52 C225.56,867.28 225.49,866.67 226.23,865.74 C226.97,864.81 228.85,863.97 229.93,862.96 C231.01,861.96 232.55,860.65 232.71,859.72 C232.86,858.80 231.86,858.41 230.86,857.41 C229.85,856.40 227.31,854.94 226.69,853.70 C226.07,852.47 226.80,851.23 227.15,850.00 C227.51,848.77 228.74,847.53 228.82,846.30 C228.90,845.06 227.97,844.14 227.61,842.59 C227.26,841.05 226.95,839.51 226.69,837.04 C226.43,834.57 226.23,830.86 226.04,827.78 C225.86,824.69 225.69,822.53 225.58,818.52 C225.46,814.51 225.39,806.17 225.36,803.70Z" fill="#e8666a" stroke="#e8666a" stroke-width="0.4" stroke-linejoin="round"/>
<line x1="251.40" y1="837.90" x2="251.40" y2="880.60" stroke="#999" stroke-width="0.6"/>
<line x1="250.80" y1="859.50" x2="252.00" y2="859.50" stroke="#999" stroke-width="0.6"/>
<line x1="239.40" y1="880.80" x2="262.70" y2="880.80" stroke="#c4c4c4" stroke-width="1.4"/>
<line x1="225.30" y1="884.00" x2="225.30" y2="885.80" stroke="#333" stroke-width="0.6"/>
<line x1="251.40" y1="884.00" x2="251.40" y2="885.80" stroke="#333" stroke-width="0.6"/>
<text x="226.1" y="890.2" font-size="9" text-anchor="end" fill="#222" transform="rotate(-45 226.1 890.2)">Resistant</text>
<text x="252.2" y="890.2" font-size="9" text-anchor="end" fill="#222" transform="rotate(-45 252.2 890.2)">Sensitive</text>
<line x1="284.10" y1="795.80" x2="284.10" y2="884.00" stroke="#333" stroke-width="0.9"/>
<line x1="284.10" y1="884.00" x2="347.50" y2="884.00" stroke="#333" stroke-width="0.9"/>
<line x1="281.90" y1="806.40" x2="284.10" y2="806.40" stroke="#333" stroke-width="0.7"/>
<text x="280.7" y="809.6" font-size="9" text-anchor="end" fill="#222">3</text>
<line x1="281.90" y1="831.50" x2="284.10" y2="831.50" stroke="#333" stroke-width="0.7"/>
<text x="280.7" y="834.7" font-size="9" text-anchor="end" fill="#222">2</text>
<line x1="281.90" y1="856.30" x2="284.10" y2="856.30" stroke="#333" stroke-width="0.7"/>
<text x="280.7" y="859.5" font-size="9" text-anchor="end" fill="#222">1</text>
<line x1="281.90" y1="880.30" x2="284.10" y2="880.30" stroke="#333" stroke-width="0.7"/>
<text x="280.7" y="883.5" font-size="9" text-anchor="end" fill="#222">0</text>
<text x="311.4" y="798.6" font-size="9" text-anchor="middle" fill="#111">TYK2</text>
<path d="M305.24,803.70 C305.13,804.63 304.94,807.56 304.56,809.26 C304.18,810.96 303.56,812.35 302.99,813.89 C302.41,815.43 301.75,816.98 301.13,818.52 C300.52,820.06 299.90,821.60 299.28,823.15 C298.66,824.69 298.05,826.23 297.43,827.78 C296.81,829.32 296.15,830.86 295.58,832.41 C295.01,833.95 294.27,835.65 294.00,837.04 C293.74,838.43 293.74,839.66 294.00,840.74 C294.27,841.82 295.47,842.75 295.58,843.52 C295.69,844.29 294.50,844.60 294.65,845.37 C294.81,846.14 295.89,847.30 296.50,848.15 C297.12,849.00 298.28,849.69 298.36,850.46 C298.43,851.23 296.74,851.93 296.97,852.78 C297.20,853.63 298.82,854.63 299.74,855.56 C300.67,856.48 302.21,857.41 302.52,858.33 C302.83,859.26 301.83,860.19 301.60,861.11 C301.36,862.04 300.82,862.96 301.13,863.89 C301.44,864.81 302.80,865.74 303.45,866.67 C304.10,867.59 304.78,868.21 305.02,869.44 C305.27,870.68 305.04,872.69 304.93,874.07 C304.82,875.46 304.54,876.77 304.37,877.78 C304.20,878.78 303.91,879.60 303.91,880.09 C303.91,880.59 304.30,880.63 304.37,880.74 L306.23,880.74 C306.30,880.63 306.69,880.59 306.69,880.09 C306.69,879.60 306.40,878.78 306.23,877.78 C306.06,876.77 305.78,875.46 305.67,874.07 C305.56,872.69 305.33,870.68 305.58,869.44 C305.82,868.21 306.50,867.59 307.15,866.67 C307.80,865.74 309.16,864.81 309.47,863.89 C309.78,862.96 309.24,862.04 309.00,861.11 C308.77,860.19 307.77,859.26 308.08,858.33 C308.39,857.41 309.93,856.48 310.86,855.56 C311.78,854.63 313.40,853.63 313.63,852.78 C313.86,851.93 312.17,851.23 312.24,850.46 C312.32,849.69 313.48,849.00 314.10,848.15 C314.71,847.30 315.79,846.14 315.95,845.37 C316.10,844.60 314.91,844.29 315.02,843.52 C315.13,842.75 316.33,841.82 316.60,840.74 C316.86,839.66 316.86,838.43 316.60,837.04 C316.33,835.65 315.59,833.95 315.02,832.41 C314.45,830.86 313.79,829.32 313.17,827.78 C312.55,826.23 311.94,824.69 311.32,823.15 C310.70,821.60 310.08,820.06 309.47,818.52 C308.85,816.98 308.19,815.43 307.61,813.89 C307.04,812.35 306.42,810.96 306.04,809.26 C305.66,807.56 305.47,804.63 305.36,803.70Z" fill="#e8666a" stroke="#e8666a" stroke-width="0.4" stroke-linejoin="round"/>
<line x1="331.40" y1="837.30" x2="331.40" y2="880.60" stroke="#999" stroke-width="0.6"/>
<line x1="330.80" y1="853.60" x2="332.00" y2="853.60" stroke="#999" stroke-width="0.6"/>
<line x1="330.20" y1="863.60" x2="332.60" y2="863.60" stroke="#999" stroke-width="0.6"/>
<line x1="320.00" y1="880.80" x2="342.70" y2="880.80" stroke="#c4c4c4" stroke-width="1.4"/>
<line x1="305.30" y1="884.00" x2="305.30" y2="885.80" stroke="#333" stroke-width="0.6"/>
<line x1="331.40" y1="884.00" x2="331.40" y2="885.80" stroke="#333" stroke-width="0.6"/>
<text x="306.1" y="890.2" font-size="9" text-anchor="end" fill="#222" transform="rotate(-45 306.1 890.2)">Resistant</text>
<text x="332.2" y="890.2" font-size="9" text-anchor="end" fill="#222" transform="rotate(-45 332.2 890.2)">Sensitive</text>
<text x="28.2" y="844.4" font-size="9" text-anchor="middle" fill="#222" transform="rotate(-90 28.2 844.4)">Expression level</text>
<text x="368.3" y="624.1" font-size="15" text-anchor="start" fill="#000" font-weight="bold">k</text>
<polygon points="397.0,809.0 400.0,803.0 405.0,801.0 413.0,801.0 419.0,803.0 423.5,809.0 425.5,815.0 425.0,823.0 422.0,829.0 416.0,835.0 411.0,840.0 406.0,845.0 401.0,848.0 398.0,843.0 396.7,835.0 396.5,822.0 396.5,813.0" fill="#3457ee" opacity="0.55" filter="url(#blur1)"/>
<polygon points="397.0,657.3 400.0,651.3 405.0,649.3 413.0,649.3 419.0,651.3 423.5,657.3 425.5,663.3 425.0,671.3 422.0,677.3 416.0,683.3 411.0,688.3 406.0,693.3 401.0,696.3 398.0,691.3 396.7,683.3 396.5,670.3 396.5,661.3" fill="#6cccE6" opacity="0.3" filter="url(#blur1)"/>
<polygon points="407.0,874.0 412.0,873.0 418.5,873.5 421.5,879.0 422.5,887.0 420.0,891.5 416.0,892.0 411.0,888.0 407.0,882.0 406.0,877.0" fill="#3457ee" opacity="0.55" filter="url(#blur1)"/>
<polygon points="407.0,722.3 412.0,721.3 418.5,721.8 421.5,727.3 422.5,735.3 420.0,739.8 416.0,740.3 411.0,736.3 407.0,730.3 406.0,725.3" fill="#6cccE6" opacity="0.3" filter="url(#blur1)"/>
<polygon points="524.0,789.0 528.0,786.0 534.0,785.0 543.0,784.5 550.0,786.5 554.5,791.0 556.0,797.0 554.5,802.0 551.0,804.0 545.0,803.5 537.0,800.0 529.0,798.0 524.0,795.0" fill="#3457ee" opacity="0.55" filter="url(#blur1)"/>
<polygon points="524.0,637.3 528.0,634.3 534.0,633.3 543.0,632.8 550.0,634.8 554.5,639.3 556.0,645.3 554.5,650.3 551.0,652.3 545.0,651.8 537.0,648.3 529.0,646.3 524.0,643.3" fill="#6cccE6" opacity="0.3" filter="url(#blur1)"/>
<path transform="scale(0.5)" d="M970 1552h2m-7 10h2m1 1h2m-1 0h2m-30 4h2m131 2h2m5 1h2m-146 1h2m161 0h2m-55 2h2m21 0h2m-22 3h2m23 0h2m-28 1h2m17 1h2m-1 0h2m1 2h2m13 0h2m-27 1h2m0 0h2m-126 1h2m115 0h2m11 0h2m7 0h2m-99 1h2m115 0h2m-95 1h2m93 0h2m-150 1h2m94 0h2m-8 1h2m17 0h2m25 0h2m-163 1h2m119 0h2m24 0h2m18 0h2m0 0h2m1 0h2m-240 1h2m68 0h2m-11 1h2m6 0h2m0 0h2m139 0h2m14 0h2m-178 1h2m14 0h2m0 0h2m1 0h2m2 0h2m126 0h2m44 0h2m-288 1h2m43 0h2m61 0h2m54 0h2m31 0h2m44 0h2m28 0h2m-169 1h2m9 0h2m0 0h2m-1 0h2m2 0h2m73 0h2m44 0h2m-160 1h2m11 0h2m-1 0h2m1 0h2m0 0h2m0 0h2m3 0h2m4 0h2m24 0h2m91 0h2m-140 1h2m3 0h2m0 0h2m1 0h2m1 0h2m0 0h2m1 0h2m69 0h2m13 0h2m-232 1h2m125 0h2m2 0h2m-1 0h2m0 0h2m0 0h2m3 0h2m-1 0h2m-1 0h2m0 0h2m53 0h2m47 0h2m38 0h2m10 0h2m15 0h2m-208 1h2m1 0h2m-1 0h2m14 0h2m1 0h2m2 0h2m-1 0h2m7 0h2m21 0h2m45 0h2m-143 1h2m38 0h2m7 0h2m-1 0h2m2 0h2m-1 0h2m2 0h2m0 0h2m2 0h2m-1 0h2m-1 0h2m2 0h2m0 0h2m-40 1h2m4 0h2m1 0h2m-1 0h2m0 0h2m1 0h2m6 0h2m0 0h2m1 0h2m2 0h2m106 0h2m10 0h2m9 0h2m12 0h2m-181 1h2m4 0h2m1 0h2m-1 0h2m1 0h2m10 0h2m2 0h2m3 0h2m61 0h2m20 0h2m8 0h2m4 0h2m-216 1h2m79 0h2m6 0h2m0 0h2m10 0h2m2 0h2m3 0h2m2 0h2m0 0h2m75 0h2m55 0h2m-179 1h2m7 0h2m1 0h2m3 0h2m7 0h2m-1 0h2m2 0h2m4 0h2m1 0h2m6 0h2m69 0h2m-185 1h2m57 0h2m25 0h2m10 0h2m1 0h2m31 0h2m4 0h2m20 0h2m34 0h2m-1 0h2m-1 0h2m6 0h2m-235 1h2m96 0h2m6 0h2m7 0h2m5 0h2m-1 0h2m-1 0h2m0 0h2m4 0h2m62 0h2m8 0h2m3 0h2m6 0h2m6 0h2m4 0h2m36 0h2m-182 1h2m4 0h2m13 0h2m-1 0h2m10 0h2m3 0h2m-1 0h2m4 0h2m51 0h2m4 0h2m26 0h2m3 0h2m0 0h2m9 0h2m50 0h2m-206 1h2m-1 0h2m8 0h2m17 0h2m3 0h2m3 0h2m56 0h2m7 0h2m6 0h2m15 0h2m24 0h2m24 0h2m-283 1h2m94 0h2m33 0h2m0 0h2m3 0h2m33 0h2m27 0h2m6 0h2m6 0h2m14 0h2m17 0h2m45 0h2m-268 1h2m53 0h2m10 0h2m2 0h2m2 0h2m0 0h2m17 0h2m-1 0h2m1 0h2m32 0h2m22 0h2m20 0h2m7 0h2m6 0h2m45 0h2m21 0h2m-305 1h2m98 0h2m0 0h2m1 0h2m1 0h2m-1 0h2m25 0h2m27 0h2m21 0h2m1 0h2m12 0h2m19 0h2m4 0h2m5 0h2m2 0h2m-1 0h2m-1 0h2m6 0h2m20 0h2m-263 1h2m75 0h2m4 0h2m0 0h2m31 0h2m8 0h2m45 0h2m-1 0h2m0 0h2m24 0h2m0 0h2m0 0h2m20 0h2m45 0h2m-198 1h2m7 0h2m-1 0h2m1 0h2m19 0h2m2 0h2m32 0h2m19 0h2m19 0h2m2 0h2m4 0h2m7 0h2m1 0h2m3 0h2m0 0h2m2 0h2m2 0h2m16 0h2m18 0h2m-216 1h2m20 0h2m5 0h2m0 0h2m6 0h2m3 0h2m63 0h2m15 0h2m3 0h2m16 0h2m4 0h2m-1 0h2m6 0h2m0 0h2m1 0h2m1 0h2m3 0h2m-158 1h2m8 0h2m-1 0h2m0 0h2m-1 0h2m4 0h2m25 0h2m0 0h2m27 0h2m8 0h2m16 0h2m6 0h2m4 0h2m13 0h2m-1 0h2m0 0h2m0 0h2m6 0h2m2 0h2m4 0h2m-203 1h2m43 0h2m8 0h2m15 0h2m14 0h2m62 0h2m0 0h2m2 0h2m17 0h2m-1 0h2m0 0h2m0 0h2m11 0h2m2 0h2m-196 1h2m44 0h2m-1 0h2m4 0h2m72 0h2m6 0h2m6 0h2m10 0h2m0 0h2m5 0h2m0 0h2m1 0h2m2 0h2m2 0h2m3 0h2m5 0h2m3 0h2m13 0h2m12 0h2m35 0h2m-329 1h2m-1 0h2m100 0h2m6 0h2m4 0h2m2 0h2m34 0h2m31 0h2m0 0h2m0 0h2m12 0h2m1 0h2m-1 0h2m4 0h2m7 0h2m10 0h2m3 0h2m37 0h2m-176 1h2m4 0h2m74 0h2m0 0h2m18 0h2m0 0h2m2 0h2m6 0h2m0 0h2m3 0h2m-1 0h2m11 0h2m25 0h2m33 0h2m-205 1h2m0 0h2m-1 0h2m4 0h2m69 0h2m6 0h2m16 0h2m0 0h2m13 0h2m4 0h2m6 0h2m4 0h2m-219 1h2m136 0h2m21 0h2m5 0h2m-1 0h2m2 0h2m-1 0h2m15 0h2m4 0h2m3 0h2m-1 0h2m1 0h2m-1 0h2m0 0h2m-1 0h2m0 0h2m0 0h2m11 0h2m-230 1h2m57 0h2m11 0h2m0 0h2m0 0h2m2 0h2m-1 0h2m5 0h2m72 0h2m18 0h2m14 0h2m6 0h2m3 0h2m7 0h2m6 0h2m-1 0h2m-245 1h2m83 0h2m0 0h2m2 0h2m0 0h2m98 0h2m5 0h2m6 0h2m0 0h2m13 0h2m1 0h2m0 0h2m7 0h2m-1 0h2m4 0h2m31 0h2m-263 1h2m2 0h2m61 0h2m1 0h2m1 0h2m-1 0h2m3 0h2m77 0h2m6 0h2m13 0h2m6 0h2m3 0h2m-1 0h2m-1 0h2m2 0h2m0 0h2m2 0h2m0 0h2m1 0h2m7 0h2m0 0h2m-155 1h2m1 0h2m-1 0h2m2 0h2m1 0h2m70 0h2m3 0h2m5 0h2m2 0h2m4 0h2m-1 0h2m3 0h2m-1 0h2m3 0h2m4 0h2m2 0h2m2 0h2m4 0h2m0 0h2m-1 0h2m0 0h2m-1 0h2m0 0h2m2 0h2m-1 0h2m0 0h2m-217 1h2m132 0h2m18 0h2m5 0h2m1 0h2m1 0h2m-1 0h2m-1 0h2m1 0h2m0 0h2m0 0h2m9 0h2m6 0h2m-1 0h2m0 0h2m-1 0h2m1 0h2m-1 0h2m1 0h2m5 0h2m12 0h2m6 0h2m-234 1h2m47 0h2m14 0h2m0 0h2m-1 0h2m74 0h2m24 0h2m-1 0h2m5 0h2m11 0h2m-1 0h2m2 0h2m2 0h2m16 0h2m-1 0h2m40 0h2m-298 1h2m86 0h2m3 0h2m3 0h2m73 0h2m5 0h2m5 0h2m0 0h2m1 0h2m1 0h2m6 0h2m10 0h2m-1 0h2m2 0h2m2 0h2m-1 0h2m0 0h2m-1 0h2m-1 0h2m-1 0h2m0 0h2m-1 0h2m0 0h2m1 0h2m9 0h2m0 0h2m-254 1h2m98 0h2m2 0h2m79 0h2m1 0h2m12 0h2m1 0h2m-1 0h2m1 0h2m-1 0h2m-1 0h2m0 0h2m2 0h2m0 0h2m1 0h2m3 0h2m0 0h2m-1 0h2m-1 0h2m9 0h2m8 0h2m3 0h2m7 0h2m-167 1h2m-1 0h2m60 0h2m16 0h2m7 0h2m0 0h2m8 0h2m3 0h2m0 0h2m0 0h2m0 0h2m0 0h2m2 0h2m2 0h2m1 0h2m4 0h2m5 0h2m0 0h2m0 0h2m-1 0h2m-1 0h2m4 0h2m6 0h2m-167 1h2m2 0h2m4 0h2m76 0h2m18 0h2m4 0h2m-1 0h2m-1 0h2m9 0h2m1 0h2m8 0h2m0 0h2m1 0h2m15 0h2m4 0h2m-170 1h2m8 0h2m92 0h2m-1 0h2m5 0h2m2 0h2m5 0h2m4 0h2m-1 0h2m0 0h2m-1 0h2m6 0h2m0 0h2m2 0h2m-1 0h2m2 0h2m-216 1h2m59 0h2m1 0h2m-1 0h2m-1 0h2m0 0h2m79 0h2m-1 0h2m1 0h2m13 0h2m18 0h2m17 0h2m5 0h2m-221 1h2m65 0h2m2 0h2m0 0h2m62 0h2m8 0h2m1 0h2m6 0h2m4 0h2m-1 0h2m6 0h2m21 0h2m4 0h2m2 0h2m4 0h2m1 0h2m4 0h2m22 0h2m-179 1h2m4 0h2m4 0h2m68 0h2m-1 0h2m8 0h2m0 0h2m-1 0h2m1 0h2m4 0h2m-1 0h2m6 0h2m0 0h2m2 0h2m3 0h2m5 0h2m6 0h2m8 0h2m1 0h2m1 0h2m10 0h2m-1 0h2m-172 1h2m-1 0h2m76 0h2m-1 0h2m7 0h2m21 0h2m0 0h2m4 0h2m0 0h2m1 0h2m-1 0h2m10 0h2m0 0h2m-1 0h2m9 0h2m10 0h2m8 0h2m28 0h2m-290 1h2m11 0h2m68 0h2m1 0h2m-1 0h2m0 0h2m74 0h2m0 0h2m16 0h2m12 0h2m-1 0h2m3 0h2m4 0h2m3 0h2m5 0h2m-1 0h2m11 0h2m-1 0h2m-160 1h2m-1 0h2m3 0h2m0 0h2m0 0h2m79 0h2m10 0h2m0 0h2m15 0h2m8 0h2m6 0h2m3 0h2m-1 0h2m-1 0h2m0 0h2m10 0h2m5 0h2m-165 1h2m1 0h2m0 0h2m70 0h2m12 0h2m15 0h2m3 0h2m9 0h2m3 0h2m6 0h2m0 0h2m1 0h2m0 0h2m0 0h2m0 0h2m3 0h2m13 0h2m-174 1h2m2 0h2m-1 0h2m4 0h2m72 0h2m4 0h2m-1 0h2m-1 0h2m-1 0h2m0 0h2m-1 0h2m7 0h2m3 0h2m-1 0h2m0 0h2m1 0h2m1 0h2m6 0h2m18 0h2m11 0h2m5 0h2m-1 0h2m4 0h2m-94 1h2m7 0h2m5 0h2m-1 0h2m16 0h2m2 0h2m9 0h2m4 0h2m0 0h2m0 0h2m0 0h2m10 0h2m17 0h2m33 0h2m-210 1h2m0 0h2m0 0h2m2 0h2m74 0h2m8 0h2m3 0h2m5 0h2m15 0h2m8 0h2m4 0h2m13 0h2m-254 1h2m44 0h2m22 0h2m29 0h2m73 0h2m6 0h2m10 0h2m0 0h2m4 0h2m5 0h2m10 0h2m8 0h2m8 0h2m4 0h2m1 0h2m-159 1h2m2 0h2m4 0h2m-1 0h2m86 0h2m8 0h2m-1 0h2m25 0h2m14 0h2m15 0h2m-167 1h2m-1 0h2m-1 0h2m71 0h2m0 0h2m10 0h2m-1 0h2m2 0h2m12 0h2m-1 0h2m-1 0h2m15 0h2m8 0h2m27 0h2m-225 1h2m36 0h2m23 0h2m69 0h2m0 0h2m13 0h2m0 0h2m-1 0h2m5 0h2m5 0h2m4 0h2m4 0h2m-1 0h2m5 0h2m15 0h2m13 0h2m-228 1h2m59 0h2m6 0h2m62 0h2m20 0h2m-1 0h2m-1 0h2m3 0h2m22 0h2m9 0h2m32 0h2m-222 1h2m48 0h2m2 0h2m-1 0h2m-1 0h2m-1 0h2m82 0h2m29 0h2m3 0h2m6 0h2m3 0h2m11 0h2m10 0h2m21 0h2m-261 1h2m11 0h2m0 0h2m2 0h2m2 0h2m7 0h2m38 0h2m-1 0h2m1 0h2m-1 0h2m3 0h2m67 0h2m12 0h2m-1 0h2m16 0h2m1 0h2m6 0h2m15 0h2m0 0h2m2 0h2m8 0h2m18 0h2m-237 1h2m15 0h2m46 0h2m5 0h2m87 0h2m0 0h2m11 0h2m50 0h2m-267 1h2m39 0h2m8 0h2m-1 0h2m13 0h2m29 0h2m6 0h2m63 0h2m32 0h2m7 0h2m25 0h2m22 0h2m-220 1h2m-1 0h2m0 0h2m41 0h2m0 0h2m0 0h2m-1 0h2m86 0h2m0 0h2m28 0h2m28 0h2m3 0h2m25 0h2m24 0h2m-301 1h2m45 0h2m2 0h2m45 0h2m78 0h2m1 0h2m19 0h2m15 0h2m3 0h2m7 0h2m2 0h2m28 0h2m-242 1h2m4 0h2m3 0h2m6 0h2m-1 0h2m8 0h2m29 0h2m9 0h2m3 0h2m63 0h2m10 0h2m8 0h2m24 0h2m-1 0h2m-1 0h2m6 0h2m27 0h2m17 0h2m-237 1h2m12 0h2m35 0h2m-1 0h2m5 0h2m72 0h2m6 0h2m6 0h2m1 0h2m4 0h2m2 0h2m15 0h2m26 0h2m12 0h2m5 0h2m-259 1h2m16 0h2m6 0h2m-1 0h2m1 0h2m1 0h2m0 0h2m3 0h2m0 0h2m10 0h2m4 0h2m15 0h2m10 0h2m65 0h2m19 0h2m19 0h2m38 0h2m-1 0h2m8 0h2m21 0h2m-263 1h2m0 0h2m2 0h2m1 0h2m3 0h2m0 0h2m6 0h2m-1 0h2m0 0h2m17 0h2m20 0h2m3 0h2m1 0h2m-1 0h2m75 0h2m0 0h2m1 0h2m2 0h2m28 0h2m3 0h2m65 0h2m-260 1h2m1 0h2m-1 0h2m2 0h2m2 0h2m0 0h2m0 0h2m6 0h2m0 0h2m5 0h2m2 0h2m28 0h2m3 0h2m102 0h2m1 0h2m0 0h2m3 0h2m35 0h2m-229 1h2m-1 0h2m6 0h2m1 0h2m6 0h2m1 0h2m11 0h2m-1 0h2m138 0h2m4 0h2m2 0h2m1 0h2m7 0h2m18 0h2m37 0h2m-266 1h2m5 0h2m1 0h2m6 0h2m4 0h2m0 0h2m-1 0h2m1 0h2m1 0h2m3 0h2m1 0h2m1 0h2m4 0h2m15 0h2m3 0h2m3 0h2m1 0h2m-1 0h2m1 0h2m87 0h2m31 0h2m3 0h2m28 0h2m5 0h2m10 0h2m-258 1h2m12 0h2m-1 0h2m-1 0h2m1 0h2m1 0h2m-1 0h2m4 0h2m0 0h2m4 0h2m4 0h2m28 0h2m4 0h2m98 0h2m30 0h2m58 0h2m-270 1h2m-1 0h2m0 0h2m7 0h2m-1 0h2m7 0h2m3 0h2m0 0h2m36 0h2m0 0h2m6 0h2m62 0h2m44 0h2m24 0h2m2 0h2m-222 1h2m11 0h2m8 0h2m6 0h2m0 0h2m8 0h2m2 0h2m6 0h2m17 0h2m87 0h2m49 0h2m-1 0h2m39 0h2m-257 1h2m3 0h2m5 0h2m7 0h2m3 0h2m10 0h2m30 0h2m3 0h2m3 0h2m81 0h2m7 0h2m41 0h2m16 0h2m2 0h2m0 0h2m14 0h2m-278 1h2m7 0h2m16 0h2m1 0h2m15 0h2m1 0h2m0 0h2m37 0h2m1 0h2m-1 0h2m87 0h2m15 0h2m0 0h2m9 0h2m36 0h2m42 0h2m-284 1h2m6 0h2m1 0h2m7 0h2m1 0h2m0 0h2m-1 0h2m6 0h2m1 0h2m17 0h2m19 0h2m4 0h2m2 0h2m87 0h2m10 0h2m3 0h2m20 0h2m49 0h2m-298 1h2m46 0h2m0 0h2m-1 0h2m-1 0h2m8 0h2m-1 0h2m3 0h2m10 0h2m2 0h2m23 0h2m0 0h2m31 0h2m61 0h2m54 0h2m24 0h2m0 0h2m1 0h2m-256 1h2m1 0h2m8 0h2m10 0h2m1 0h2m2 0h2m30 0h2m5 0h2m3 0h2m-1 0h2m-1 0h2m-1 0h2m99 0h2m13 0h2m5 0h2m56 0h2m10 0h2m3 0h2m-288 1h2m25 0h2m28 0h2m13 0h2m5 0h2m6 0h2m4 0h2m34 0h2m21 0h2m1 0h2m12 0h2m31 0h2m12 0h2m40 0h2m21 0h2m0 0h2m-311 1h2m28 0h2m4 0h2m-1 0h2m8 0h2m-1 0h2m-1 0h2m2 0h2m6 0h2m1 0h2m4 0h2m3 0h2m28 0h2m2 0h2m1 0h2m42 0h2m44 0h2m14 0h2m-1 0h2m81 0h2m-277 1h2m12 0h2m-1 0h2m0 0h2m7 0h2m2 0h2m0 0h2m0 0h2m18 0h2m21 0h2m1 0h2m2 0h2m43 0h2m79 0h2m-217 1h2m7 0h2m0 0h2m7 0h2m11 0h2m0 0h2m17 0h2m32 0h2m-1 0h2m44 0h2m53 0h2m25 0h2m54 0h2m12 0h2m-280 1h2m6 0h2m13 0h2m13 0h2m7 0h2m32 0h2m43 0h2m34 0h2m12 0h2m9 0h2m25 0h2m16 0h2m26 0h2m5 0h2m1 0h2m-300 1h2m24 0h2m24 0h2m22 0h2m4 0h2m14 0h2m5 0h2m-1 0h2m5 0h2m-1 0h2m39 0h2m33 0h2m16 0h2m55 0h2m14 0h2m3 0h2m5 0h2m-272 1h2m1 0h2m12 0h2m18 0h2m42 0h2m-1 0h2m10 0h2m36 0h2m56 0h2m2 0h2m39 0h2m8 0h2m4 0h2m15 0h2m14 0h2m10 0h2m-309 1h2m11 0h2m5 0h2m8 0h2m1 0h2m24 0h2m28 0h2m0 0h2m5 0h2m44 0h2m152 0h2m7 0h2m-289 1h2m6 0h2m9 0h2m50 0h2m0 0h2m5 0h2m-1 0h2m26 0h2m13 0h2m-1 0h2m67 0h2m-1 0h2m32 0h2m15 0h2m-279 1h2m34 0h2m5 0h2m7 0h2m7 0h2m17 0h2m26 0h2m46 0h2m77 0h2m18 0h2m44 0h2m-282 1h2m8 0h2m3 0h2m3 0h2m6 0h2m10 0h2m4 0h2m40 0h2m4 0h2m39 0h2m-1 0h2m31 0h2m20 0h2m4 0h2m32 0h2m29 0h2m14 0h2m-275 1h2m9 0h2m5 0h2m1 0h2m24 0h2m32 0h2m0 0h2m95 0h2m79 0h2m-301 1h2m105 0h2m60 0h2m-1 0h2m47 0h2m0 0h2m6 0h2m9 0h2m7 0h2m-1 0h2m14 0h2m20 0h2m-1 0h2m4 0h2m-262 1h2m10 0h2m33 0h2m29 0h2m2 0h2m1 0h2m2 0h2m44 0h2m27 0h2m13 0h2m9 0h2m-1 0h2m39 0h2m1 0h2m15 0h2m21 0h2m2 0h2m-279 1h2m6 0h2m-1 0h2m28 0h2m7 0h2m27 0h2m2 0h2m1 0h2m47 0h2m3 0h2m66 0h2m25 0h2m23 0h2m29 0h2m-299 1h2m9 0h2m12 0h2m-1 0h2m-1 0h2m1 0h2m10 0h2m10 0h2m28 0h2m6 0h2m1 0h2m74 0h2m3 0h2m59 0h2m4 0h2m15 0h2m14 0h2m15 0h2m-277 1h2m2 0h2m7 0h2m58 0h2m2 0h2m89 0h2m41 0h2m13 0h2m11 0h2m36 0h2m-283 1h2m0 0h2m0 0h2m13 0h2m-1 0h2m4 0h2m48 0h2m92 0h2m2 0h2m-1 0h2m16 0h2m23 0h2m5 0h2m3 0h2m-1 0h2m36 0h2m10 0h2m-310 1h2m51 0h2m54 0h2m0 0h2m73 0h2m-1 0h2m9 0h2m28 0h2m6 0h2m15 0h2m20 0h2m0 0h2m8 0h2m14 0h2m-280 1h2m9 0h2m1 0h2m-1 0h2m13 0h2m42 0h2m5 0h2m1 0h2m1 0h2m25 0h2m63 0h2m-1 0h2m23 0h2m-1 0h2m1 0h2m20 0h2m10 0h2m9 0h2m31 0h2m-279 1h2m18 0h2m45 0h2m0 0h2m5 0h2m70 0h2m7 0h2m3 0h2m-1 0h2m-1 0h2m4 0h2m4 0h2m1 0h2m20 0h2m23 0h2m9 0h2m-1 0h2m8 0h2m-1 0h2m14 0h2m4 0h2m5 0h2m-315 1h2m20 0h2m5 0h2m6 0h2m3 0h2m2 0h2m12 0h2m3 0h2m34 0h2m5 0h2m118 0h2m31 0h2m7 0h2m3 0h2m0 0h2m-252 1h2m83 0h2m74 0h2m1 0h2m0 0h2m4 0h2m4 0h2m6 0h2m9 0h2m8 0h2m4 0h2m22 0h2m27 0h2m2 0h2m-196 1h2m79 0h2m2 0h2m0 0h2m12 0h2m2 0h2m4 0h2m5 0h2m0 0h2m5 0h2m9 0h2m48 0h2m2 0h2m5 0h2m-321 1h2m45 0h2m0 0h2m2 0h2m-1 0h2m3 0h2m1 0h2m60 0h2m9 0h2m70 0h2m1 0h2m0 0h2m10 0h2m11 0h2m17 0h2m0 0h2m2 0h2m2 0h2m10 0h2m24 0h2m0 0h2m2 0h2m-1 0h2m16 0h2m-291 1h2m20 0h2m2 0h2m132 0h2m19 0h2m16 0h2m36 0h2m9 0h2m-1 0h2m1 0h2m19 0h2m7 0h2m-274 1h2m13 0h2m0 0h2m5 0h2m6 0h2m121 0h2m18 0h2m11 0h2m28 0h2m2 0h2m10 0h2m28 0h2m4 0h2m-270 1h2m0 0h2m-1 0h2m18 0h2m0 0h2m45 0h2m79 0h2m5 0h2m10 0h2m10 0h2m14 0h2m22 0h2m7 0h2m13 0h2m4 0h2m0 0h2m1 0h2m0 0h2m13 0h2m-274 1h2m0 0h2m142 0h2m-1 0h2m-1 0h2m-1 0h2m0 0h2m5 0h2m4 0h2m0 0h2m4 0h2m4 0h2m8 0h2m28 0h2m0 0h2m27 0h2m3 0h2m-1 0h2m18 0h2m-282 1h2m-1 0h2m144 0h2m3 0h2m-1 0h2m0 0h2m13 0h2m21 0h2m14 0h2m21 0h2m2 0h2m24 0h2m0 0h2m-273 1h2m2 0h2m3 0h2m11 0h2m6 0h2m110 0h2m25 0h2m-1 0h2m2 0h2m2 0h2m5 0h2m1 0h2m2 0h2m1 0h2m28 0h2m11 0h2m29 0h2m-224 1h2m109 0h2m0 0h2m-1 0h2m10 0h2m-1 0h2m-1 0h2m1 0h2m0 0h2m1 0h2m12 0h2m5 0h2m28 0h2m24 0h2m12 0h2m-266 1h2m146 0h2m1 0h2m18 0h2m0 0h2m11 0h2m14 0h2m17 0h2m16 0h2m3 0h2m7 0h2m-265 1h2m2 0h2m16 0h2m135 0h2m-1 0h2m3 0h2m8 0h2m10 0h2m8 0h2m28 0h2m38 0h2m2 0h2m-268 1h2m137 0h2m7 0h2m2 0h2m19 0h2m18 0h2m48 0h2m24 0h2m-273 1h2m5 0h2m104 0h2m41 0h2m0 0h2m-1 0h2m15 0h2m23 0h2m2 0h2m0 0h2m-1 0h2m28 0h2m24 0h2m4 0h2m-260 1h2m138 0h2m-1 0h2m2 0h2m1 0h2m13 0h2m5 0h2m4 0h2m1 0h2m48 0h2m2 0h2m8 0h2m7 0h2m-266 1h2m155 0h2m9 0h2m0 0h2m27 0h2m33 0h2m3 0h2m9 0h2m23 0h2m12 0h2m-286 1h2m148 0h2m0 0h2m-1 0h2m-1 0h2m13 0h2m5 0h2m1 0h2m0 0h2m13 0h2m3 0h2m26 0h2m21 0h2m2 0h2m0 0h2m-1 0h2m13 0h2m-285 1h2m27 0h2m123 0h2m4 0h2m0 0h2m-1 0h2m11 0h2m0 0h2m0 0h2m6 0h2m1 0h2m9 0h2m11 0h2m9 0h2m3 0h2m8 0h2m25 0h2m10 0h2m-293 1h2m14 0h2m2 0h2m0 0h2m147 0h2m-1 0h2m0 0h2m8 0h2m0 0h2m1 0h2m30 0h2m0 0h2m24 0h2m-1 0h2m13 0h2m10 0h2m15 0h2m-300 1h2m175 0h2m13 0h2m-1 0h2m0 0h2m-1 0h2m2 0h2m-1 0h2m8 0h2m20 0h2m-1 0h2m11 0h2m6 0h2m1 0h2m10 0h2m15 0h2m-274 1h2m5 0h2m41 0h2m103 0h2m7 0h2m9 0h2m1 0h2m14 0h2m18 0h2m2 0h2m-1 0h2m12 0h2m19 0h2m34 0h2m-325 1h2m79 0h2m107 0h2m11 0h2m13 0h2m11 0h2m13 0h2m21 0h2m0 0h2m5 0h2m6 0h2m10 0h2m4 0h2m0 0h2m-267 1h2m150 0h2m11 0h2m2 0h2m32 0h2m16 0h2m11 0h2m5 0h2m20 0h2m14 0h2m-279 1h2m103 0h2m40 0h2m-1 0h2m1 0h2m1 0h2m0 0h2m10 0h2m18 0h2m43 0h2m4 0h2m10 0h2m4 0h2m-290 1h2m2 0h2m5 0h2m165 0h2m4 0h2m5 0h2m4 0h2m15 0h2m27 0h2m31 0h2m-1 0h2m14 0h2m1 0h2m-119 1h2m28 0h2m3 0h2m-1 0h2m2 0h2m8 0h2m38 0h2m0 0h2m30 0h2m-295 1h2m148 0h2m20 0h2m-1 0h2m15 0h2m0 0h2m1 0h2m21 0h2m17 0h2m39 0h2m-112 1h2m1 0h2m-1 0h2m1 0h2m-1 0h2m-1 0h2m8 0h2m-1 0h2m26 0h2m14 0h2m15 0h2m11 0h2m5 0h2m11 0h2m-1 0h2m2 0h2m-119 1h2m1 0h2m9 0h2m-1 0h2m-1 0h2m1 0h2m23 0h2m6 0h2m17 0h2m6 0h2m1 0h2m3 0h2m1 0h2m3 0h2m-1 0h2m5 0h2m-110 1h2m2 0h2m-1 0h2m1 0h2m15 0h2m1 0h2m10 0h2m37 0h2m4 0h2m-1 0h2m-1 0h2m0 0h2m1 0h2m9 0h2m17 0h2m-120 1h2m-1 0h2m2 0h2m13 0h2m7 0h2m14 0h2m33 0h2m7 0h2m29 0h2m-300 1h2m189 0h2m0 0h2m1 0h2m12 0h2m0 0h2m17 0h2m10 0h2m24 0h2m1 0h2m2 0h2m-106 1h2m11 0h2m6 0h2m2 0h2m-1 0h2m52 0h2m6 0h2m17 0h2m0 0h2m0 0h2m0 0h2m0 0h2m-108 1h2m17 0h2m2 0h2m10 0h2m0 0h2m20 0h2m27 0h2m19 0h2m-121 1h2m5 0h2m0 0h2m-1 0h2m3 0h2m9 0h2m1 0h2m14 0h2m19 0h2m18 0h2m-1 0h2m12 0h2m4 0h2m0 0h2m-104 1h2m3 0h2m8 0h2m-1 0h2m-1 0h2m15 0h2m3 0h2m-1 0h2m14 0h2m11 0h2m2 0h2m11 0h2m-1 0h2m1 0h2m3 0h2m-102 1h2m3 0h2m10 0h2m0 0h2m1 0h2m0 0h2m11 0h2m3 0h2m0 0h2m8 0h2m5 0h2m28 0h2m8 0h2m5 0h2m4 0h2m-283 1h2m149 0h2m31 0h2m6 0h2m0 0h2m4 0h2m12 0h2m3 0h2m14 0h2m19 0h2m2 0h2m15 0h2m-280 1h2m165 0h2m3 0h2m-1 0h2m2 0h2m1 0h2m3 0h2m0 0h2m16 0h2m6 0h2m7 0h2m5 0h2m-1 0h2m37 0h2m-102 1h2m3 0h2m4 0h2m0 0h2m1 0h2m-1 0h2m14 0h2m18 0h2m8 0h2m8 0h2m1 0h2m2 0h2m10 0h2m1 0h2m-270 1h2m169 0h2m28 0h2m11 0h2m37 0h2m14 0h2m-267 1h2m166 0h2m6 0h2m21 0h2m6 0h2m1 0h2m10 0h2m1 0h2m6 0h2m-1 0h2m1 0h2m4 0h2m4 0h2m-1 0h2m3 0h2m4 0h2m6 0h2m24 0h2m-138 1h2m15 0h2m15 0h2m18 0h2m3 0h2m6 0h2m12 0h2m2 0h2m-1 0h2m1 0h2m0 0h2m10 0h2m8 0h2m9 0h2m-116 1h2m2 0h2m2 0h2m-1 0h2m2 0h2m1 0h2m2 0h2m14 0h2m8 0h2m17 0h2m7 0h2m3 0h2m2 0h2m-1 0h2m1 0h2m10 0h2m2 0h2m2 0h2m-95 1h2m12 0h2m30 0h2m14 0h2m1 0h2m0 0h2m1 0h2m6 0h2m0 0h2m1 0h2m1 0h2m1 0h2m-81 1h2m25 0h2m3 0h2m19 0h2m0 0h2m0 0h2m0 0h2m2 0h2m-1 0h2m13 0h2m2 0h2m-267 1h2m146 0h2m7 0h2m0 0h2m6 0h2m26 0h2m3 0h2m-1 0h2m18 0h2m7 0h2m4 0h2m2 0h2m0 0h2m1 0h2m-1 0h2m1 0h2m-1 0h2m1 0h2m0 0h2m0 0h2m-1 0h2m3 0h2m-113 1h2m73 0h2m0 0h2m6 0h2m0 0h2m0 0h2m-1 0h2m3 0h2m8 0h2m0 0h2m-1 0h2m-1 0h2m-124 1h2m35 0h2m37 0h2m-1 0h2m7 0h2m0 0h2m2 0h2m2 0h2m3 0h2m15 0h2m5 0h2m-276 1h2m8 0h2m159 0h2m4 0h2m3 0h2m1 0h2m10 0h2m23 0h2m-1 0h2m5 0h2m10 0h2m5 0h2m1 0h2m11 0h2m-117 1h2m66 0h2m9 0h2m1 0h2m2 0h2m8 0h2m2 0h2m2 0h2m5 0h2m10 0h2m-122 1h2m14 0h2m16 0h2m0 0h2m7 0h2m8 0h2m4 0h2m3 0h2m16 0h2m2 0h2m8 0h2m1 0h2m0 0h2m6 0h2m1 0h2m-117 1h2m14 0h2m-1 0h2m1 0h2m1 0h2m34 0h2m3 0h2m20 0h2m0 0h2m2 0h2m3 0h2m6 0h2m-1 0h2m-1 0h2m4 0h2m0 0h2m-127 1h2m2 0h2m20 0h2m-1 0h2m8 0h2m5 0h2m-1 0h2m1 0h2m11 0h2m8 0h2m28 0h2m2 0h2m1 0h2m2 0h2m2 0h2m1 0h2m6 0h2m-114 1h2m-1 0h2m0 0h2m12 0h2m26 0h2m4 0h2m6 0h2m0 0h2m6 0h2m12 0h2m-1 0h2m0 0h2m1 0h2m11 0h2m16 0h2m-121 1h2m1 0h2m1 0h2m4 0h2m57 0h2m11 0h2m9 0h2m3 0h2m-1 0h2m-1 0h2m8 0h2m-97 1h2m40 0h2m26 0h2m18 0h2m1 0h2m-262 1h2m162 0h2m13 0h2m18 0h2m5 0h2m-1 0h2m1 0h2m3 0h2m6 0h2m3 0h2m3 0h2m7 0h2m2 0h2m19 0h2m-272 1h2m155 0h2m29 0h2m3 0h2m26 0h2m2 0h2m2 0h2m18 0h2m-1 0h2m7 0h2m-75 1h2m65 0h2m-1 0h2m1 0h2m4 0h2m-85 1h2m-1 0h2m16 0h2m3 0h2m11 0h2m-1 0h2m11 0h2m2 0h2m3 0h2m2 0h2m15 0h2m10 0h2m-60 1h2m14 0h2m-1 0h2m2 0h2m0 0h2m3 0h2m0 0h2m2 0h2m11 0h2m-98 1h2m28 0h2m11 0h2m0 0h2m1 0h2m-1 0h2m8 0h2m13 0h2m15 0h2m3 0h2m6 0h2m-291 1h2m178 0h2m9 0h2m8 0h2m1 0h2m17 0h2m-1 0h2m-1 0h2m1 0h2m1 0h2m2 0h2m-1 0h2m3 0h2m-1 0h2m8 0h2m2 0h2m-1 0h2m5 0h2m2 0h2m1 0h2m3 0h2m-1 0h2m5 0h2m-107 1h2m19 0h2m1 0h2m4 0h2m7 0h2m13 0h2m2 0h2m5 0h2m-1 0h2m4 0h2m11 0h2m13 0h2m34 0h2m-153 1h2m53 0h2m-1 0h2m0 0h2m1 0h2m8 0h2m3 0h2m8 0h2m4 0h2m-1 0h2m1 0h2m2 0h2m7 0h2m-266 1h2m-1 0h2m149 0h2m0 0h2m3 0h2m63 0h2m8 0h2m0 0h2m0 0h2m1 0h2m6 0h2m-1 0h2m-1 0h2m0 0h2m2 0h2m-1 0h2m3 0h2m4 0h2m-264 1h2m170 0h2m11 0h2m1 0h2m11 0h2m0 0h2m18 0h2m0 0h2m-1 0h2m7 0h2m0 0h2m10 0h2m0 0h2m1 0h2m3 0h2m-119 1h2m11 0h2m31 0h2m0 0h2m3 0h2m3 0h2m6 0h2m9 0h2m-1 0h2m6 0h2m-1 0h2m4 0h2m2 0h2m4 0h2m-1 0h2m11 0h2m4 0h2m-279 1h2m205 0h2m19 0h2m15 0h2m5 0h2m11 0h2m1 0h2m1 0h2m13 0h2m-285 1h2m1 0h2m157 0h2m52 0h2m0 0h2m5 0h2m1 0h2m0 0h2m5 0h2m-1 0h2m-1 0h2m4 0h2m7 0h2m-1 0h2m8 0h2m-85 1h2m18 0h2m14 0h2m0 0h2m20 0h2m-1 0h2m3 0h2m6 0h2m1 0h2m1 0h2m1 0h2m-1 0h2m6 0h2m-107 1h2m1 0h2m21 0h2m24 0h2m0 0h2m0 0h2m6 0h2m1 0h2m5 0h2m4 0h2m6 0h2m3 0h2m5 0h2m6 0h2m-132 1h2m17 0h2m4 0h2m27 0h2m21 0h2m1 0h2m-1 0h2m1 0h2m2 0h2m1 0h2m0 0h2m5 0h2m-1 0h2m1 0h2m21 0h2m-275 1h2m203 0h2m12 0h2m8 0h2m0 0h2m-1 0h2m4 0h2m0 0h2m0 0h2m0 0h2m3 0h2m-1 0h2m2 0h2m0 0h2m1 0h2m4 0h2m1 0h2m0 0h2m-255 1h2m141 0h2m23 0h2m16 0h2m2 0h2m4 0h2m6 0h2m3 0h2m5 0h2m1 0h2m-1 0h2m1 0h2m-1 0h2m0 0h2m-1 0h2m13 0h2m-1 0h2m0 0h2m2 0h2m0 0h2m12 0h2m-110 1h2m42 0h2m0 0h2m6 0h2m4 0h2m1 0h2m0 0h2m1 0h2m0 0h2m-1 0h2m4 0h2m9 0h2m2 0h2m-1 0h2m-88 1h2m25 0h2m1 0h2m17 0h2m0 0h2m-1 0h2m2 0h2m0 0h2m0 0h2m2 0h2m8 0h2m2 0h2m0 0h2m12 0h2m-264 1h2m162 0h2m23 0h2m14 0h2m14 0h2m-1 0h2m7 0h2m1 0h2m2 0h2m2 0h2m1 0h2m0 0h2m-1 0h2m0 0h2m1 0h2m0 0h2m-1 0h2m-259 1h2m116 0h2m67 0h2m14 0h2m10 0h2m3 0h2m-1 0h2m0 0h2m1 0h2m4 0h2m-1 0h2m0 0h2m1 0h2m0 0h2m0 0h2m-1 0h2m0 0h2m-1 0h2m0 0h2m1 0h2m-1 0h2m2 0h2m-96 1h2m40 0h2m0 0h2m17 0h2m-1 0h2m-1 0h2m3 0h2m-1 0h2m3 0h2m0 0h2m7 0h2m1 0h2m3 0h2m-154 1h2m64 0h2m13 0h2m0 0h2m1 0h2m10 0h2m6 0h2m0 0h2m1 0h2m-1 0h2m2 0h2m7 0h2m6 0h2m6 0h2m11 0h2m-272 1h2m11 0h2m191 0h2m11 0h2m1 0h2m7 0h2m-1 0h2m-1 0h2m3 0h2m-1 0h2m1 0h2m-1 0h2m-1 0h2m2 0h2m-1 0h2m-1 0h2m4 0h2m4 0h2m-1 0h2m-140 1h2m44 0h2m20 0h2m1 0h2m8 0h2m0 0h2m1 0h2m10 0h2m3 0h2m-1 0h2m0 0h2m-1 0h2m8 0h2m12 0h2m0 0h2m-1 0h2m5 0h2m0 0h2m5 0h2m1 0h2m-267 1h2m2 0h2m172 0h2m0 0h2m3 0h2m16 0h2m6 0h2m3 0h2m3 0h2m0 0h2m6 0h2m0 0h2m-1 0h2m3 0h2m1 0h2m-262 1h2m14 0h2m98 0h2m52 0h2m4 0h2m14 0h2m15 0h2m17 0h2m0 0h2m0 0h2m2 0h2m0 0h2m1 0h2m4 0h2m0 0h2m0 0h2m0 0h2m1 0h2m0 0h2m1 0h2m29 0h2m-138 1h2m45 0h2m12 0h2m9 0h2m4 0h2m-1 0h2m1 0h2m1 0h2m-1 0h2m-1 0h2m3 0h2m1 0h2m8 0h2m-1 0h2m2 0h2m-236 1h2m123 0h2m4 0h2m16 0h2m33 0h2m13 0h2m1 0h2m4 0h2m1 0h2m2 0h2m-1 0h2m0 0h2m1 0h2m3 0h2m0 0h2m1 0h2m0 0h2m1 0h2m-254 1h2m159 0h2m31 0h2m6 0h2m4 0h2m1 0h2m3 0h2m0 0h2m4 0h2m1 0h2m0 0h2m5 0h2m-1 0h2m6 0h2m-86 1h2m24 0h2m5 0h2m12 0h2m8 0h2m7 0h2m-1 0h2m0 0h2m2 0h2m2 0h2m5 0h2m2 0h2m-63 1h2m5 0h2m10 0h2m3 0h2m0 0h2m5 0h2m0 0h2m0 0h2m-1 0h2m-1 0h2m-1 0h2m1 0h2m-1 0h2m-1 0h2m0 0h2m3 0h2m-1 0h2m3 0h2m5 0h2m4 0h2m40 0h2m-171 1h2m45 0h2m7 0h2m1 0h2m18 0h2m5 0h2m1 0h2m0 0h2m3 0h2m2 0h2m14 0h2m-1 0h2m-1 0h2m-93 1h2m24 0h2m20 0h2m8 0h2m5 0h2m-1 0h2m2 0h2m3 0h2m3 0h2m0 0h2m0 0h2m3 0h2m1 0h2m0 0h2m2 0h2m2 0h2m-255 1h2m3 0h2m169 0h2m9 0h2m0 0h2m26 0h2m0 0h2m6 0h2m1 0h2m3 0h2m8 0h2m-73 1h2m8 0h2m5 0h2m0 0h2m4 0h2m-1 0h2m1 0h2m-1 0h2m-1 0h2m6 0h2m-1 0h2m-1 0h2m-1 0h2m0 0h2m2 0h2m-1 0h2m1 0h2m2 0h2m3 0h2m51 0h2m-120 1h2m22 0h2m3 0h2m9 0h2m1 0h2m11 0h2m-1 0h2m0 0h2m-1 0h2m-1 0h2m12 0h2m-98 1h2m1 0h2m0 0h2m0 0h2m6 0h2m36 0h2m4 0h2m4 0h2m0 0h2m2 0h2m0 0h2m8 0h2m1 0h2m-1 0h2m-1 0h2m4 0h2m0 0h2m-100 1h2m4 0h2m13 0h2m26 0h2m9 0h2m-1 0h2m0 0h2m2 0h2m7 0h2m-1 0h2m2 0h2m5 0h2m12 0h2m-1 0h2m-73 1h2m19 0h2m6 0h2m8 0h2m9 0h2m4 0h2m4 0h2m0 0h2m-81 1h2m45 0h2m-1 0h2m1 0h2m1 0h2m2 0h2m0 0h2m4 0h2m6 0h2m24 0h2m-168 1h2m14 0h2m46 0h2m35 0h2m21 0h2m1 0h2m7 0h2m5 0h2m-71 1h2m4 0h2m20 0h2m-1 0h2m0 0h2m21 0h2m-1 0h2m2 0h2m-1 0h2m42 0h2m-144 1h2m13 0h2m26 0h2m13 0h2m5 0h2m8 0h2m0 0h2m7 0h2m2 0h2m-1 0h2m1 0h2m-1 0h2m0 0h2m8 0h2m2 0h2m-87 1h2m1 0h2m11 0h2m22 0h2m0 0h2m1 0h2m10 0h2m1 0h2m2 0h2m0 0h2m1 0h2m11 0h2m10 0h2m-157 1h2m12 0h2m34 0h2m2 0h2m2 0h2m43 0h2m9 0h2m1 0h2m11 0h2m0 0h2m7 0h2m-82 1h2m17 0h2m7 0h2m3 0h2m2 0h2m1 0h2m0 0h2m2 0h2m2 0h2m-1 0h2m-1 0h2m1 0h2m2 0h2m0 0h2m0 0h2m0 0h2m-104 1h2m76 0h2m5 0h2m14 0h2m-70 1h2m11 0h2m27 0h2m16 0h2m6 0h2m3 0h2m21 0h2m-121 1h2m9 0h2m25 0h2m21 0h2m9 0h2m3 0h2m7 0h2m1 0h2m4 0h2m0 0h2m5 0h2m-69 1h2m7 0h2m59 0h2m-93 1h2m19 0h2m23 0h2m4 0h2m18 0h2m1 0h2m18 0h2m1 0h2m-98 1h2m5 0h2m19 0h2m41 0h2m-26 1h2m10 0h2m-1 0h2m-1 0h2m4 0h2m4 0h2m11 0h2m6 0h2m-110 1h2m36 0h2m23 0h2m-77 1h2m22 0h2m0 0h2m60 0h2m8 0h2m-1 0h2m5 0h2m-84 1h2m4 0h2m11 0h2m40 0h2m-61 1h2m6 0h2m3 0h2m1 0h2m2 0h2m-1 0h2m36 0h2m5 0h2m2 0h2m36 0h2m-119 1h2m11 0h2m7 0h2m4 0h2m43 0h2m4 0h2m-72 1h2m1 0h2m5 0h2m-1 0h2m1 0h2m0 0h2m4 0h2m-1 0h2m41 0h2m5 0h2m16 0h2m18 0h2m-119 1h2m0 0h2m2 0h2m0 0h2m0 0h2m5 0h2m2 0h2m4 0h2m39 0h2m37 0h2m-104 1h2m1 0h2m0 0h2m-1 0h2m0 0h2m3 0h2m-1 0h2m-1 0h2m-72 1h2m56 0h2m4 0h2m2 0h2m4 0h2m44 0h2m1 0h2m56 0h2m-182 1h2m53 0h2m1 0h2m8 0h2m-1 0h2m-1 0h2m1 0h2m0 0h2m6 0h2m0 0h2m36 0h2m-68 1h2m3 0h2m0 0h2m2 0h2m-1 0h2m0 0h2m-1 0h2m2 0h2m-1 0h2m26 0h2m-41 1h2m-1 0h2m3 0h2m36 0h2m-68 1h2m5 0h2m0 0h2m2 0h2m-1 0h2m2 0h2m1 0h2m6 0h2m18 0h2m43 0h2m-87 1h2m-21 1h2m20 0h2m7 1h2m-24 1h2m6 0h2m15 0h2m43 0h2m8 0h2m4 0h2m15 1h2m-85 2h2m3 0h2m3 1h2" stroke="#f0521e" stroke-width="1.5" fill="none"/>
<path transform="scale(0.5)" d="M970 1549h2m2 0h2m-4 2h2m2 0h2m-5 1h2m0 0h2m1 1h2m-2 1h2m-5 1h2m-10 3h2m-4 3h2m0 0h2m3 0h2m-44 1h2m31 0h2m2 0h2m0 0h2m-9 1h2m-1 0h2m116 0h2m-119 1h2m0 0h2m1 0h2m0 0h2m102 0h2m1 0h2m11 0h2m-158 1h2m-1 0h2m1 0h2m3 0h2m17 0h2m-1 0h2m-1 0h2m1 0h2m0 0h2m109 0h2m-162 1h2m18 0h2m4 0h2m15 0h2m0 0h2m2 0h2m-44 1h2m0 0h2m30 0h2m0 0h2m0 0h2m99 0h2m3 0h2m17 0h2m-167 1h2m2 0h2m-1 0h2m9 0h2m22 0h2m-1 0h2m-1 0h2m88 0h2m4 0h2m1 0h2m0 0h2m3 0h2m-1 0h2m-1 0h2m3 0h2m2 0h2m8 0h2m-168 1h2m2 0h2m-1 0h2m-1 0h2m0 0h2m1 0h2m0 0h2m19 0h2m90 0h2m0 0h2m5 0h2m8 0h2m1 0h2m4 0h2m-1 0h2m-1 0h2m0 0h2m0 0h2m2 0h2m-171 1h2m8 0h2m1 0h2m0 0h2m-1 0h2m5 0h2m18 0h2m90 0h2m12 0h2m-1 0h2m1 0h2m4 0h2m0 0h2m-1 0h2m3 0h2m5 0h2m1 0h2m-172 1h2m8 0h2m107 0h2m0 0h2m2 0h2m1 0h2m0 0h2m2 0h2m6 0h2m2 0h2m0 0h2m0 0h2m6 0h2m4 0h2m-169 1h2m12 0h2m109 0h2m11 0h2m1 0h2m2 0h2m2 0h2m4 0h2m-1 0h2m0 0h2m2 0h2m-1 0h2m9 0h2m-176 1h2m-1 0h2m-1 0h2m-1 0h2m0 0h2m0 0h2m0 0h2m-1 0h2m5 0h2m100 0h2m-1 0h2m3 0h2m1 0h2m3 0h2m2 0h2m0 0h2m-1 0h2m0 0h2m-1 0h2m-1 0h2m0 0h2m1 0h2m0 0h2m-1 0h2m0 0h2m2 0h2m-1 0h2m3 0h2m0 0h2m-177 1h2m13 0h2m1 0h2m108 0h2m4 0h2m2 0h2m1 0h2m-1 0h2m1 0h2m7 0h2m3 0h2m-1 0h2m4 0h2m3 0h2m-1 0h2m-1 0h2m0 0h2m-1 0h2m2 0h2m-1 0h2m2 0h2m-181 1h2m-1 0h2m1 0h2m0 0h2m-1 0h2m2 0h2m3 0h2m100 0h2m3 0h2m2 0h2m1 0h2m2 0h2m3 0h2m0 0h2m-1 0h2m-1 0h2m2 0h2m0 0h2m-1 0h2m6 0h2m1 0h2m1 0h2m1 0h2m-168 1h2m-1 0h2m0 0h2m-1 0h2m7 0h2m-1 0h2m100 0h2m1 0h2m8 0h2m0 0h2m8 0h2m3 0h2m10 0h2m1 0h2m-1 0h2m-1 0h2m-1 0h2m1 0h2m2 0h2m8 0h2m-193 1h2m9 0h2m2 0h2m115 0h2m4 0h2m1 0h2m3 0h2m4 0h2m1 0h2m5 0h2m-1 0h2m3 0h2m-1 0h2m-1 0h2m3 0h2m15 0h2m1 0h2m-184 1h2m1 0h2m0 0h2m111 0h2m0 0h2m4 0h2m7 0h2m-1 0h2m0 0h2m2 0h2m0 0h2m-1 0h2m0 0h2m-1 0h2m2 0h2m3 0h2m1 0h2m-1 0h2m0 0h2m5 0h2m0 0h2m2 0h2m2 0h2m-182 1h2m0 0h2m12 0h2m98 0h2m4 0h2m-1 0h2m-1 0h2m-1 0h2m-1 0h2m1 0h2m8 0h2m3 0h2m2 0h2m0 0h2m2 0h2m0 0h2m10 0h2m4 0h2m-1 0h2m-177 1h2m0 0h2m-1 0h2m111 0h2m2 0h2m1 0h2m-1 0h2m1 0h2m2 0h2m-1 0h2m4 0h2m4 0h2m7 0h2m-1 0h2m2 0h2m5 0h2m0 0h2m-1 0h2m9 0h2m0 0h2m-167 1h2m48 0h2m39 0h2m6 0h2m2 0h2m-1 0h2m-1 0h2m0 0h2m-1 0h2m5 0h2m-1 0h2m-1 0h2m1 0h2m4 0h2m2 0h2m2 0h2m4 0h2m4 0h2m7 0h2m0 0h2m5 0h2m-65 1h2m4 0h2m0 0h2m0 0h2m2 0h2m2 0h2m2 0h2m3 0h2m5 0h2m7 0h2m0 0h2m3 0h2m-1 0h2m5 0h2m2 0h2m-180 1h2m119 0h2m7 0h2m0 0h2m-1 0h2m12 0h2m0 0h2m1 0h2m1 0h2m3 0h2m3 0h2m-1 0h2m2 0h2m-1 0h2m1 0h2m-59 1h2m3 0h2m6 0h2m1 0h2m-1 0h2m0 0h2m14 0h2m-1 0h2m0 0h2m1 0h2m-1 0h2m4 0h2m4 0h2m-1 0h2m2 0h2m-178 1h2m113 0h2m0 0h2m1 0h2m10 0h2m4 0h2m5 0h2m1 0h2m-1 0h2m-1 0h2m8 0h2m2 0h2m2 0h2m-1 0h2m0 0h2m0 0h2m0 0h2m1 0h2m-180 1h2m117 0h2m5 0h2m1 0h2m-1 0h2m4 0h2m3 0h2m-1 0h2m-1 0h2m10 0h2m0 0h2m1 0h2m4 0h2m-1 0h2m11 0h2m-181 1h2m112 0h2m-1 0h2m2 0h2m0 0h2m4 0h2m-1 0h2m-1 0h2m22 0h2m-1 0h2m9 0h2m-1 0h2m0 0h2m-1 0h2m-306 1h2m248 0h2m-1 0h2m1 0h2m5 0h2m0 0h2m0 0h2m-1 0h2m-1 0h2m3 0h2m4 0h2m6 0h2m11 0h2m-1 0h2m2 0h2m-1 0h2m3 0h2m0 0h2m-181 1h2m-1 0h2m-1 0h2m30 0h2m79 0h2m4 0h2m1 0h2m8 0h2m-1 0h2m2 0h2m2 0h2m1 0h2m2 0h2m4 0h2m0 0h2m0 0h2m0 0h2m0 0h2m-1 0h2m1 0h2m2 0h2m0 0h2m3 0h2m3 0h2m-1 0h2m-186 1h2m0 0h2m108 0h2m3 0h2m3 0h2m3 0h2m-1 0h2m12 0h2m-1 0h2m13 0h2m2 0h2m1 0h2m2 0h2m-1 0h2m7 0h2m-226 1h2m45 0h2m107 0h2m6 0h2m7 0h2m-1 0h2m8 0h2m1 0h2m-1 0h2m0 0h2m-1 0h2m1 0h2m6 0h2m1 0h2m1 0h2m3 0h2m-1 0h2m-1 0h2m1 0h2m-106 1h2m47 0h2m2 0h2m0 0h2m-1 0h2m-1 0h2m-1 0h2m-1 0h2m6 0h2m1 0h2m5 0h2m2 0h2m1 0h2m8 0h2m0 0h2m0 0h2m-1 0h2m-1 0h2m5 0h2m-306 1h2m239 0h2m3 0h2m4 0h2m-1 0h2m-1 0h2m0 0h2m1 0h2m2 0h2m5 0h2m15 0h2m8 0h2m3 0h2m-1 0h2m5 0h2m-74 1h2m13 0h2m2 0h2m0 0h2m0 0h2m4 0h2m1 0h2m2 0h2m0 0h2m4 0h2m5 0h2m-1 0h2m-1 0h2m0 0h2m-1 0h2m5 0h2m2 0h2m0 0h2m4 0h2m-69 1h2m3 0h2m0 0h2m-1 0h2m-1 0h2m1 0h2m1 0h2m0 0h2m10 0h2m0 0h2m2 0h2m4 0h2m6 0h2m7 0h2m0 0h2m-1 0h2m-1 0h2m1 0h2m-303 1h2m9 0h2m225 0h2m4 0h2m2 0h2m0 0h2m0 0h2m5 0h2m3 0h2m4 0h2m0 0h2m9 0h2m4 0h2m-176 1h2m121 0h2m1 0h2m2 0h2m-1 0h2m-1 0h2m-1 0h2m6 0h2m-1 0h2m-1 0h2m-1 0h2m3 0h2m-1 0h2m2 0h2m1 0h2m2 0h2m0 0h2m-1 0h2m8 0h2m2 0h2m3 0h2m0 0h2m-1 0h2m-1 0h2m-307 1h2m12 0h2m101 0h2m90 0h2m33 0h2m6 0h2m0 0h2m7 0h2m0 0h2m0 0h2m0 0h2m0 0h2m-1 0h2m10 0h2m0 0h2m-1 0h2m6 0h2m-1 0h2m-1 0h2m0 0h2m-290 1h2m128 0h2m41 0h2m73 0h2m1 0h2m7 0h2m1 0h2m6 0h2m8 0h2m0 0h2m6 0h2m-308 1h2m3 0h2m3 0h2m4 0h2m0 0h2m4 0h2m96 0h2m143 0h2m3 0h2m0 0h2m3 0h2m1 0h2m3 0h2m9 0h2m-1 0h2m2 0h2m1 0h2m-301 1h2m5 0h2m2 0h2m-1 0h2m3 0h2m-1 0h2m225 0h2m6 0h2m1 0h2m0 0h2m5 0h2m0 0h2m3 0h2m4 0h2m11 0h2m0 0h2m-303 1h2m-1 0h2m12 0h2m6 0h2m-1 0h2m2 0h2m1 0h2m233 0h2m12 0h2m5 0h2m7 0h2m6 0h2m1 0h2m0 0h2m-312 1h2m1 0h2m3 0h2m1 0h2m0 0h2m3 0h2m6 0h2m-1 0h2m-1 0h2m244 0h2m6 0h2m7 0h2m1 0h2m0 0h2m3 0h2m1 0h2m0 0h2m-1 0h2m-1 0h2m-303 1h2m4 0h2m-1 0h2m-1 0h2m3 0h2m-1 0h2m0 0h2m0 0h2m2 0h2m92 0h2m147 0h2m4 0h2m0 0h2m3 0h2m2 0h2m0 0h2m4 0h2m-1 0h2m-305 1h2m2 0h2m17 0h2m-1 0h2m4 0h2m-1 0h2m116 0h2m134 0h2m-1 0h2m2 0h2m3 0h2m0 0h2m-1 0h2m-1 0h2m2 0h2m-1 0h2m1 0h2m-1 0h2m-1 0h2m0 0h2m1 0h2m-312 1h2m1 0h2m2 0h2m6 0h2m-1 0h2m0 0h2m7 0h2m1 0h2m-1 0h2m2 0h2m254 0h2m0 0h2m2 0h2m-1 0h2m-1 0h2m4 0h2m1 0h2m-315 1h2m2 0h2m0 0h2m1 0h2m2 0h2m-1 0h2m-1 0h2m0 0h2m2 0h2m-1 0h2m0 0h2m4 0h2m-1 0h2m3 0h2m0 0h2m2 0h2m246 0h2m8 0h2m5 0h2m-312 1h2m4 0h2m0 0h2m4 0h2m-1 0h2m-1 0h2m2 0h2m-1 0h2m-1 0h2m1 0h2m-1 0h2m0 0h2m-1 0h2m4 0h2m-1 0h2m-1 0h2m1 0h2m-1 0h2m0 0h2m5 0h2m191 0h2m17 0h2m34 0h2m-1 0h2m4 0h2m-304 1h2m2 0h2m1 0h2m3 0h2m2 0h2m1 0h2m0 0h2m0 0h2m2 0h2m0 0h2m-1 0h2m2 0h2m-1 0h2m4 0h2m-1 0h2m0 0h2m1 0h2m180 0h2m54 0h2m3 0h2m6 0h2m0 0h2m0 0h2m4 0h2m-309 1h2m0 0h2m2 0h2m0 0h2m2 0h2m2 0h2m1 0h2m6 0h2m0 0h2m-1 0h2m0 0h2m4 0h2m154 0h2m96 0h2m-1 0h2m0 0h2m-1 0h2m4 0h2m6 0h2m-317 1h2m0 0h2m4 0h2m-1 0h2m-1 0h2m-1 0h2m0 0h2m0 0h2m-1 0h2m11 0h2m5 0h2m9 0h2m-1 0h2m-1 0h2m-1 0h2m82 0h2m103 0h2m24 0h2m37 0h2m2 0h2m-1 0h2m-1 0h2m1 0h2m-311 1h2m0 0h2m3 0h2m2 0h2m-1 0h2m0 0h2m4 0h2m4 0h2m-1 0h2m0 0h2m0 0h2m-1 0h2m-1 0h2m1 0h2m3 0h2m0 0h2m2 0h2m34 0h2m102 0h2m51 0h2m60 0h2m2 0h2m1 0h2m-308 1h2m-1 0h2m-1 0h2m2 0h2m0 0h2m7 0h2m0 0h2m2 0h2m1 0h2m5 0h2m9 0h2m-1 0h2m110 0h2m141 0h2m-305 1h2m3 0h2m3 0h2m4 0h2m2 0h2m0 0h2m-1 0h2m-1 0h2m5 0h2m5 0h2m0 0h2m0 0h2m2 0h2m-1 0h2m59 0h2m128 0h2m-244 1h2m4 0h2m1 0h2m3 0h2m0 0h2m6 0h2m0 0h2m-1 0h2m0 0h2m2 0h2m0 0h2m2 0h2m-1 0h2m0 0h2m191 0h2m-235 1h2m0 0h2m7 0h2m0 0h2m1 0h2m4 0h2m5 0h2m4 0h2m-1 0h2m1 0h2m2 0h2m1 0h2m2 0h2m-1 0h2m0 0h2m181 0h2m8 0h2m11 0h2m15 0h2m21 0h2m4 0h2m-307 1h2m7 0h2m-1 0h2m7 0h2m18 0h2m3 0h2m4 0h2m0 0h2m176 0h2m74 0h2m-312 1h2m-1 0h2m2 0h2m1 0h2m0 0h2m0 0h2m7 0h2m-1 0h2m-1 0h2m2 0h2m5 0h2m2 0h2m6 0h2m9 0h2m183 0h2m22 0h2m41 0h2m-300 1h2m-1 0h2m4 0h2m-1 0h2m0 0h2m5 0h2m1 0h2m-1 0h2m5 0h2m3 0h2m-1 0h2m-1 0h2m1 0h2m3 0h2m0 0h2m221 0h2m28 0h2m-311 1h2m3 0h2m-1 0h2m-1 0h2m0 0h2m1 0h2m0 0h2m0 0h2m0 0h2m7 0h2m1 0h2m-1 0h2m2 0h2m-1 0h2m1 0h2m-1 0h2m10 0h2m256 0h2m-311 1h2m10 0h2m9 0h2m0 0h2m3 0h2m3 0h2m4 0h2m8 0h2m152 0h2m9 0h2m90 0h2m0 0h2m-311 1h2m4 0h2m2 0h2m6 0h2m-1 0h2m0 0h2m6 0h2m2 0h2m2 0h2m3 0h2m4 0h2m2 0h2m8 0h2m4 0h2m129 0h2m-196 1h2m9 0h2m3 0h2m5 0h2m2 0h2m-1 0h2m0 0h2m8 0h2m4 0h2m1 0h2m-1 0h2m250 0h2m-1 0h2m0 0h2m-313 1h2m10 0h2m5 0h2m5 0h2m0 0h2m15 0h2m-1 0h2m0 0h2m4 0h2m199 0h2m49 0h2m7 0h2m-312 1h2m-1 0h2m4 0h2m2 0h2m-1 0h2m10 0h2m5 0h2m-1 0h2m1 0h2m0 0h2m4 0h2m2 0h2m2 0h2m58 0h2m130 0h2m10 0h2m48 0h2m-307 1h2m-1 0h2m11 0h2m-1 0h2m-1 0h2m0 0h2m4 0h2m-1 0h2m0 0h2m6 0h2m3 0h2m1 0h2m3 0h2m0 0h2m129 0h2m117 0h2m-307 1h2m-1 0h2m0 0h2m-1 0h2m0 0h2m2 0h2m0 0h2m2 0h2m3 0h2m2 0h2m0 0h2m2 0h2m5 0h2m-1 0h2m14 0h2m185 0h2m19 0h2m37 0h2m4 0h2m0 0h2m-1 0h2m-313 1h2m6 0h2m2 0h2m16 0h2m6 0h2m-1 0h2m3 0h2m1 0h2m2 0h2m3 0h2m0 0h2m0 0h2m174 0h2m-235 1h2m-1 0h2m0 0h2m0 0h2m1 0h2m4 0h2m4 0h2m0 0h2m4 0h2m9 0h2m6 0h2m2 0h2m183 0h2m66 0h2m0 0h2m-309 1h2m5 0h2m3 0h2m0 0h2m-1 0h2m1 0h2m0 0h2m-1 0h2m-1 0h2m-1 0h2m-1 0h2m16 0h2m11 0h2m169 0h2m78 0h2m-306 1h2m6 0h2m7 0h2m2 0h2m10 0h2m-1 0h2m2 0h2m0 0h2m9 0h2m0 0h2m203 0h2m44 0h2m4 0h2m-1 0h2m-316 1h2m2 0h2m2 0h2m2 0h2m-1 0h2m2 0h2m-1 0h2m3 0h2m-1 0h2m-1 0h2m0 0h2m12 0h2m0 0h2m3 0h2m0 0h2m0 0h2m2 0h2m0 0h2m29 0h2m119 0h2m91 0h2m-307 1h2m0 0h2m0 0h2m-1 0h2m0 0h2m1 0h2m-1 0h2m2 0h2m-1 0h2m0 0h2m1 0h2m0 0h2m-1 0h2m10 0h2m3 0h2m-1 0h2m0 0h2m1 0h2m5 0h2m-1 0h2m105 0h2m63 0h2m84 0h2m-315 1h2m5 0h2m1 0h2m9 0h2m0 0h2m8 0h2m-1 0h2m1 0h2m3 0h2m0 0h2m0 0h2m3 0h2m1 0h2m0 0h2m0 0h2m147 0h2m23 0h2m7 0h2m30 0h2m34 0h2m5 0h2m-320 1h2m3 0h2m10 0h2m3 0h2m0 0h2m-1 0h2m3 0h2m-1 0h2m2 0h2m1 0h2m0 0h2m2 0h2m0 0h2m0 0h2m1 0h2m2 0h2m2 0h2m1 0h2m127 0h2m63 0h2m-254 1h2m1 0h2m0 0h2m11 0h2m2 0h2m0 0h2m0 0h2m-1 0h2m3 0h2m6 0h2m-1 0h2m0 0h2m2 0h2m7 0h2m169 0h2m7 0h2m19 0h2m-262 1h2m2 0h2m-1 0h2m-1 0h2m3 0h2m4 0h2m1 0h2m-1 0h2m5 0h2m1 0h2m5 0h2m-1 0h2m1 0h2m0 0h2m5 0h2m1 0h2m3 0h2m149 0h2m26 0h2m70 0h2m4 0h2m-318 1h2m0 0h2m-1 0h2m5 0h2m8 0h2m-1 0h2m1 0h2m17 0h2m1 0h2m6 0h2m0 0h2m0 0h2m1 0h2m-59 1h2m19 0h2m1 0h2m-1 0h2m7 0h2m1 0h2m0 0h2m-1 0h2m4 0h2m5 0h2m153 0h2m19 0h2m1 0h2m100 0h2m-334 1h2m-1 0h2m-1 0h2m-1 0h2m0 0h2m0 0h2m0 0h2m0 0h2m1 0h2m12 0h2m1 0h2m-1 0h2m-1 0h2m2 0h2m2 0h2m6 0h2m1 0h2m-1 0h2m199 0h2m22 0h2m1 0h2m-276 1h2m-1 0h2m-1 0h2m-1 0h2m12 0h2m2 0h2m3 0h2m0 0h2m6 0h2m-1 0h2m4 0h2m-1 0h2m0 0h2m185 0h2m35 0h2m-284 1h2m-1 0h2m-1 0h2m4 0h2m0 0h2m0 0h2m2 0h2m-1 0h2m2 0h2m-1 0h2m2 0h2m-1 0h2m-1 0h2m4 0h2m5 0h2m2 0h2m0 0h2m0 0h2m0 0h2m-1 0h2m1 0h2m-1 0h2m1 0h2m54 0h2m83 0h2m-204 1h2m4 0h2m1 0h2m3 0h2m-1 0h2m1 0h2m3 0h2m-1 0h2m0 0h2m-1 0h2m-1 0h2m-1 0h2m3 0h2m5 0h2m2 0h2m-1 0h2m5 0h2m1 0h2m1 0h2m176 0h2m22 0h2m17 0h2m4 0h2m0 0h2m-282 1h2m0 0h2m9 0h2m-1 0h2m9 0h2m-1 0h2m-1 0h2m0 0h2m10 0h2m0 0h2m6 0h2m236 0h2m-296 1h2m0 0h2m4 0h2m4 0h2m12 0h2m9 0h2m2 0h2m0 0h2m0 0h2m-1 0h2m7 0h2m-1 0h2m-1 0h2m43 0h2m90 0h2m40 0h2m44 0h2m4 0h2m13 0h2m-305 1h2m10 0h2m3 0h2m-1 0h2m15 0h2m-1 0h2m-1 0h2m1 0h2m0 0h2m4 0h2m-1 0h2m-1 0h2m-1 0h2m3 0h2m-1 0h2m4 0h2m46 0h2m174 0h2m2 0h2m-288 1h2m5 0h2m7 0h2m4 0h2m1 0h2m3 0h2m1 0h2m0 0h2m2 0h2m7 0h2m2 0h2m145 0h2m23 0h2m1 0h2m51 0h2m0 0h2m0 0h2m-288 1h2m1 0h2m-1 0h2m0 0h2m5 0h2m-1 0h2m0 0h2m-1 0h2m-1 0h2m-1 0h2m1 0h2m0 0h2m0 0h2m1 0h2m1 0h2m3 0h2m0 0h2m1 0h2m4 0h2m2 0h2m-1 0h2m110 0h2m4 0h2m-1 0h2m113 0h2m0 0h2m4 0h2m-1 0h2m5 0h2m-310 1h2m-1 0h2m0 0h2m-1 0h2m1 0h2m-1 0h2m11 0h2m4 0h2m4 0h2m1 0h2m0 0h2m-1 0h2m2 0h2m1 0h2m1 0h2m-1 0h2m0 0h2m-1 0h2m6 0h2m110 0h2m0 0h2m-1 0h2m0 0h2m96 0h2m16 0h2m-294 1h2m3 0h2m2 0h2m2 0h2m0 0h2m2 0h2m1 0h2m2 0h2m8 0h2m1 0h2m1 0h2m0 0h2m-1 0h2m-1 0h2m0 0h2m-1 0h2m116 0h2m3 0h2m0 0h2m103 0h2m2 0h2m8 0h2m-296 1h2m2 0h2m5 0h2m9 0h2m-1 0h2m-1 0h2m-1 0h2m-1 0h2m7 0h2m-1 0h2m2 0h2m0 0h2m1 0h2m-1 0h2m0 0h2m3 0h2m-1 0h2m-1 0h2m1 0h2m185 0h2m39 0h2m12 0h2m-295 1h2m0 0h2m0 0h2m-1 0h2m0 0h2m-1 0h2m1 0h2m1 0h2m-1 0h2m0 0h2m10 0h2m1 0h2m-1 0h2m-1 0h2m18 0h2m56 0h2m52 0h2m22 0h2m79 0h2m0 0h2m7 0h2m6 0h2m5 0h2m-307 1h2m11 0h2m7 0h2m4 0h2m0 0h2m2 0h2m-1 0h2m2 0h2m-1 0h2m9 0h2m126 0h2m97 0h2m20 0h2m-301 1h2m-1 0h2m0 0h2m9 0h2m0 0h2m-1 0h2m0 0h2m15 0h2m1 0h2m-1 0h2m0 0h2m0 0h2m-1 0h2m1 0h2m1 0h2m10 0h2m158 0h2m60 0h2m17 0h2m-308 1h2m7 0h2m-1 0h2m14 0h2m3 0h2m-1 0h2m2 0h2m-1 0h2m0 0h2m0 0h2m0 0h2m1 0h2m-1 0h2m-1 0h2m8 0h2m61 0h2m152 0h2m3 0h2m1 0h2m17 0h2m5 0h2m-310 1h2m4 0h2m0 0h2m1 0h2m2 0h2m1 0h2m0 0h2m3 0h2m2 0h2m0 0h2m-1 0h2m-1 0h2m0 0h2m-1 0h2m0 0h2m-1 0h2m7 0h2m-42 1h2m-1 0h2m-1 0h2m14 0h2m0 0h2m-1 0h2m0 0h2m0 0h2m2 0h2m0 0h2m-1 0h2m-1 0h2m0 0h2m1 0h2m2 0h2m207 0h2m20 0h2m3 0h2m3 0h2m3 0h2m6 0h2m1 0h2m-309 1h2m2 0h2m3 0h2m0 0h2m8 0h2m7 0h2m3 0h2m2 0h2m0 0h2m-1 0h2m0 0h2m0 0h2m214 0h2m19 0h2m-283 1h2m-1 0h2m1 0h2m4 0h2m-1 0h2m6 0h2m4 0h2m4 0h2m0 0h2m-1 0h2m-1 0h2m-1 0h2m2 0h2m-1 0h2m0 0h2m0 0h2m-1 0h2m-1 0h2m-1 0h2m209 0h2m8 0h2m-1 0h2m7 0h2m2 0h2m12 0h2m-301 1h2m0 0h2m0 0h2m-1 0h2m8 0h2m2 0h2m0 0h2m-1 0h2m0 0h2m0 0h2m-1 0h2m-1 0h2m5 0h2m0 0h2m3 0h2m-1 0h2m0 0h2m5 0h2m1 0h2m33 0h2m29 0h2m139 0h2m10 0h2m-275 1h2m7 0h2m4 0h2m2 0h2m-1 0h2m5 0h2m7 0h2m5 0h2m4 0h2m2 0h2m188 0h2m9 0h2m1 0h2m-1 0h2m16 0h2m15 0h2m0 0h2m-1 0h2m-294 1h2m8 0h2m1 0h2m1 0h2m0 0h2m0 0h2m2 0h2m-1 0h2m0 0h2m1 0h2m0 0h2m2 0h2m4 0h2m1 0h2m146 0h2m37 0h2m19 0h2m0 0h2m47 0h2m2 0h2m-317 1h2m0 0h2m1 0h2m6 0h2m1 0h2m5 0h2m4 0h2m2 0h2m2 0h2m3 0h2m6 0h2m14 0h2m50 0h2m137 0h2m-1 0h2m1 0h2m-1 0h2m12 0h2m-274 1h2m-1 0h2m3 0h2m1 0h2m0 0h2m6 0h2m0 0h2m-1 0h2m5 0h2m2 0h2m6 0h2m0 0h2m1 0h2m0 0h2m4 0h2m194 0h2m2 0h2m2 0h2m1 0h2m11 0h2m4 0h2m6 0h2m-294 1h2m0 0h2m-1 0h2m1 0h2m3 0h2m-1 0h2m5 0h2m-1 0h2m0 0h2m-1 0h2m-1 0h2m-1 0h2m0 0h2m4 0h2m4 0h2m3 0h2m2 0h2m1 0h2m2 0h2m117 0h2m31 0h2m42 0h2m4 0h2m1 0h2m-1 0h2m4 0h2m6 0h2m0 0h2m15 0h2m0 0h2m3 0h2m0 0h2m-1 0h2m6 0h2m3 0h2m-316 1h2m-1 0h2m-1 0h2m6 0h2m1 0h2m3 0h2m-1 0h2m2 0h2m8 0h2m-1 0h2m-1 0h2m2 0h2m0 0h2m4 0h2m5 0h2m154 0h2m46 0h2m8 0h2m1 0h2m7 0h2m-1 0h2m0 0h2m18 0h2m4 0h2m5 0h2m-1 0h2m-319 1h2m-1 0h2m2 0h2m0 0h2m12 0h2m4 0h2m5 0h2m3 0h2m0 0h2m1 0h2m201 0h2m-1 0h2m39 0h2m-1 0h2m14 0h2m47 0h2m-348 1h2m1 0h2m4 0h2m3 0h2m5 0h2m2 0h2m2 0h2m0 0h2m197 0h2m9 0h2m20 0h2m1 0h2m33 0h2m4 0h2m31 0h2m-356 1h2m5 0h2m3 0h2m8 0h2m0 0h2m-1 0h2m4 0h2m-1 0h2m0 0h2m1 0h2m0 0h2m-1 0h2m3 0h2m35 0h2m137 0h2m20 0h2m5 0h2m2 0h2m16 0h2m9 0h2m-1 0h2m5 0h2m7 0h2m7 0h2m-1 0h2m6 0h2m-309 1h2m-1 0h2m-1 0h2m3 0h2m3 0h2m1 0h2m3 0h2m-1 0h2m-1 0h2m3 0h2m-1 0h2m4 0h2m209 0h2m30 0h2m13 0h2m3 0h2m4 0h2m33 0h2m4 0h2m-352 1h2m4 0h2m3 0h2m9 0h2m4 0h2m1 0h2m1 0h2m3 0h2m-1 0h2m209 0h2m3 0h2m3 0h2m7 0h2m10 0h2m9 0h2m2 0h2m-1 0h2m11 0h2m7 0h2m5 0h2m18 0h2m2 0h2m-344 1h2m1 0h2m2 0h2m0 0h2m4 0h2m9 0h2m2 0h2m21 0h2m179 0h2m-1 0h2m1 0h2m-1 0h2m3 0h2m2 0h2m14 0h2m1 0h2m0 0h2m12 0h2m3 0h2m6 0h2m20 0h2m16 0h2m-1 0h2m-348 1h2m2 0h2m-1 0h2m-1 0h2m2 0h2m1 0h2m-1 0h2m3 0h2m0 0h2m0 0h2m0 0h2m10 0h2m27 0h2m166 0h2m6 0h2m3 0h2m26 0h2m14 0h2m4 0h2m5 0h2m3 0h2m4 0h2m8 0h2m18 0h2m1 0h2m-349 1h2m-1 0h2m-1 0h2m1 0h2m-1 0h2m8 0h2m9 0h2m1 0h2m1 0h2m-1 0h2m0 0h2m114 0h2m90 0h2m1 0h2m1 0h2m23 0h2m-1 0h2m18 0h2m11 0h2m-1 0h2m13 0h2m0 0h2m11 0h2m-346 1h2m9 0h2m-1 0h2m2 0h2m0 0h2m2 0h2m-1 0h2m2 0h2m5 0h2m1 0h2m24 0h2m168 0h2m23 0h2m25 0h2m3 0h2m-1 0h2m5 0h2m5 0h2m5 0h2m3 0h2m-1 0h2m2 0h2m11 0h2m1 0h2m6 0h2m-342 1h2m1 0h2m3 0h2m-1 0h2m1 0h2m-1 0h2m0 0h2m-1 0h2m2 0h2m1 0h2m6 0h2m26 0h2m50 0h2m162 0h2m11 0h2m31 0h2m4 0h2m9 0h2m2 0h2m-345 1h2m7 0h2m4 0h2m4 0h2m0 0h2m6 0h2m137 0h2m97 0h2m36 0h2m-1 0h2m2 0h2m-1 0h2m5 0h2m20 0h2m-1 0h2m-347 1h2m1 0h2m1 0h2m13 0h2m0 0h2m1 0h2m-1 0h2m-1 0h2m-1 0h2m6 0h2m201 0h2m31 0h2m-1 0h2m-1 0h2m17 0h2m5 0h2m12 0h2m-317 1h2m8 0h2m-1 0h2m0 0h2m0 0h2m-1 0h2m3 0h2m-1 0h2m5 0h2m173 0h2m70 0h2m22 0h2m-1 0h2m15 0h2m4 0h2m5 0h2m8 0h2m-343 1h2m0 0h2m0 0h2m1 0h2m2 0h2m4 0h2m-1 0h2m-1 0h2m4 0h2m1 0h2m1 0h2m2 0h2m84 0h2m0 0h2m49 0h2m52 0h2m68 0h2m-1 0h2m-1 0h2m8 0h2m6 0h2m0 0h2m-320 1h2m0 0h2m2 0h2m10 0h2m2 0h2m4 0h2m134 0h2m106 0h2m-1 0h2m1 0h2m22 0h2m2 0h2m2 0h2m0 0h2m0 0h2m0 0h2m-317 1h2m-1 0h2m4 0h2m3 0h2m-1 0h2m9 0h2m3 0h2m48 0h2m151 0h2m2 0h2m37 0h2m10 0h2m2 0h2m5 0h2m-1 0h2m1 0h2m-1 0h2m1 0h2m0 0h2m8 0h2m2 0h2m-1 0h2m6 0h2m-333 1h2m-1 0h2m-1 0h2m1 0h2m-1 0h2m5 0h2m8 0h2m-1 0h2m0 0h2m100 0h2m84 0h2m85 0h2m-1 0h2m3 0h2m7 0h2m1 0h2m0 0h2m0 0h2m5 0h2m-333 1h2m5 0h2m2 0h2m-1 0h2m8 0h2m0 0h2m2 0h2m0 0h2m90 0h2m155 0h2m6 0h2m0 0h2m1 0h2m1 0h2m9 0h2m3 0h2m5 0h2m5 0h2m0 0h2m-327 1h2m5 0h2m5 0h2m0 0h2m-1 0h2m-1 0h2m2 0h2m231 0h2m44 0h2m4 0h2m11 0h2m-322 1h2m-1 0h2m2 0h2m6 0h2m-1 0h2m151 0h2m52 0h2m53 0h2m24 0h2m5 0h2m2 0h2m4 0h2m-1 0h2m8 0h2m0 0h2m-329 1h2m4 0h2m-1 0h2m0 0h2m2 0h2m4 0h2m24 0h2m124 0h2m42 0h2m18 0h2m32 0h2m15 0h2m0 0h2m10 0h2m-1 0h2m-1 0h2m1 0h2m-1 0h2m-1 0h2m1 0h2m5 0h2m-322 1h2m1 0h2m-1 0h2m4 0h2m6 0h2m0 0h2m41 0h2m127 0h2m28 0h2m50 0h2m21 0h2m2 0h2m3 0h2m1 0h2m-1 0h2m5 0h2m-320 1h2m4 0h2m3 0h2m0 0h2m4 0h2m39 0h2m29 0h2m21 0h2m162 0h2m7 0h2m3 0h2m10 0h2m1 0h2m29 0h2m-344 1h2m6 0h2m0 0h2m2 0h2m0 0h2m256 0h2m3 0h2m5 0h2m-1 0h2m-1 0h2m11 0h2m-1 0h2m0 0h2m3 0h2m-1 0h2m-1 0h2m0 0h2m-1 0h2m3 0h2m11 0h2m4 0h2m-336 1h2m-1 0h2m-1 0h2m2 0h2m1 0h2m1 0h2m1 0h2m0 0h2m2 0h2m27 0h2m108 0h2m41 0h2m74 0h2m3 0h2m6 0h2m0 0h2m0 0h2m7 0h2m9 0h2m6 0h2m-1 0h2m-1 0h2m-1 0h2m5 0h2m-335 1h2m0 0h2m-1 0h2m0 0h2m5 0h2m1 0h2m-1 0h2m2 0h2m54 0h2m197 0h2m20 0h2m0 0h2m5 0h2m1 0h2m-1 0h2m-1 0h2m11 0h2m-328 1h2m5 0h2m3 0h2m-1 0h2m5 0h2m0 0h2m249 0h2m20 0h2m2 0h2m9 0h2m4 0h2m3 0h2m-1 0h2m5 0h2m-1 0h2m-1 0h2m4 0h2m-338 1h2m1 0h2m7 0h2m0 0h2m256 0h2m3 0h2m-1 0h2m21 0h2m0 0h2m2 0h2m4 0h2m0 0h2m1 0h2m3 0h2m4 0h2m-326 1h2m7 0h2m3 0h2m167 0h2m111 0h2m8 0h2m0 0h2m0 0h2m5 0h2m0 0h2m0 0h2m-323 1h2m2 0h2m175 0h2m16 0h2m79 0h2m6 0h2m1 0h2m-1 0h2m9 0h2m2 0h2m6 0h2m-1 0h2m3 0h2m2 0h2m2 0h2m-336 1h2m4 0h2m-1 0h2m1 0h2m2 0h2m189 0h2m64 0h2m11 0h2m13 0h2m0 0h2m0 0h2m1 0h2m2 0h2m12 0h2m-325 1h2m187 0h2m11 0h2m79 0h2m4 0h2m1 0h2m0 0h2m7 0h2m-1 0h2m2 0h2m16 0h2m-327 1h2m1 0h2m-1 0h2m-1 0h2m-1 0h2m175 0h2m2 0h2m91 0h2m22 0h2m2 0h2m4 0h2m0 0h2m-1 0h2m5 0h2m1 0h2m-323 1h2m44 0h2m128 0h2m2 0h2m3 0h2m26 0h2m61 0h2m11 0h2m0 0h2m1 0h2m0 0h2m5 0h2m-1 0h2m3 0h2m1 0h2m-1 0h2m-1 0h2m0 0h2m5 0h2m-1 0h2m-1 0h2m-328 1h2m177 0h2m0 0h2m0 0h2m0 0h2m33 0h2m26 0h2m19 0h2m2 0h2m8 0h2m0 0h2m2 0h2m6 0h2m2 0h2m11 0h2m-1 0h2m-1 0h2m3 0h2m-322 1h2m33 0h2m140 0h2m0 0h2m-1 0h2m0 0h2m8 0h2m44 0h2m26 0h2m1 0h2m3 0h2m2 0h2m4 0h2m4 0h2m22 0h2m1 0h2m-141 1h2m98 0h2m3 0h2m3 0h2m0 0h2m3 0h2m-1 0h2m3 0h2m1 0h2m-1 0h2m1 0h2m-1 0h2m3 0h2m5 0h2m-305 1h2m106 0h2m50 0h2m-1 0h2m-1 0h2m1 0h2m66 0h2m23 0h2m14 0h2m0 0h2m-1 0h2m1 0h2m-1 0h2m0 0h2m10 0h2m-303 1h2m33 0h2m167 0h2m68 0h2m3 0h2m-1 0h2m0 0h2m0 0h2m5 0h2m1 0h2m0 0h2m13 0h2m-82 1h2m36 0h2m0 0h2m1 0h2m3 0h2m3 0h2m2 0h2m25 0h2m-112 1h2m38 0h2m16 0h2m9 0h2m1 0h2m1 0h2m0 0h2m-285 1h2m150 0h2m8 0h2m8 0h2m97 0h2m3 0h2m4 0h2m3 0h2m3 0h2m-1 0h2m2 0h2m3 0h2m5 0h2m-286 1h2m139 0h2m-1 0h2m4 0h2m90 0h2m7 0h2m3 0h2m3 0h2m8 0h2m2 0h2m0 0h2m3 0h2m10 0h2m-320 1h2m6 0h2m214 0h2m19 0h2m40 0h2m0 0h2m-1 0h2m5 0h2m-114 1h2m87 0h2m0 0h2m2 0h2m3 0h2m-1 0h2m1 0h2m0 0h2m1 0h2m14 0h2m-53 1h2m28 0h2m4 0h2m-1 0h2m4 0h2m9 0h2m-42 1h2m0 0h2m1 0h2m4 0h2m2 0h2m1 0h2m6 0h2m2 0h2m0 0h2m-296 1h2m173 0h2m86 0h2m0 0h2m0 0h2m16 0h2m11 0h2m2 0h2m-1 0h2m-52 1h2m15 0h2m17 0h2m6 0h2m-308 1h2m152 0h2m12 0h2m46 0h2m52 0h2m9 0h2m7 0h2m-285 1h2m271 0h2m6 0h2m10 0h2m-302 1h2m3 0h2m10 0h2m259 0h2m11 0h2m1 0h2m0 0h2m0 0h2m-304 1h2m10 0h2m2 0h2m189 0h2m21 0h2m30 0h2m17 0h2m16 0h2m0 0h2m-1 0h2m-107 1h2m82 0h2m-1 0h2m9 0h2m6 0h2m3 0h2m-305 1h2m0 0h2m-1 0h2m188 0h2m0 0h2m95 0h2m-1 0h2m3 0h2m-104 1h2m53 0h2m31 0h2m10 0h2m1 0h2m7 0h2m-312 1h2m278 0h2m-85 1h2m1 0h2m35 0h2m24 0h2m10 0h2m5 0h2m15 0h2m2 0h2m-300 1h2m188 0h2m-1 0h2m2 0h2m90 0h2m-295 1h2m1 0h2m4 0h2m1 0h2m1 0h2m4 0h2m-1 0h2m215 0h2m20 0h2m-252 1h2m185 0h2m72 0h2m11 0h2m-90 1h2m1 0h2m-1 0h2m14 0h2m79 0h2m-103 1h2m71 0h2m25 0h2m-292 1h2m186 0h2m0 0h2m-1 0h2m84 0h2m-276 1h2m3 0h2m150 0h2m28 0h2m1 0h2m37 0h2m33 1h2m16 0h2m-297 1h2m191 0h2m59 0h2m19 0h2m-59 1h2m16 1h2m61 0h2m-154 1h2m84 1h2m-5 1h2m-1 0h2m0 0h2m51 0h2m-52 1h2m-1 0h2m-1 0h2m-12 1h2m4 0h2m1 0h2m35 0h2m3 0h2m22 0h2m-72 1h2m39 0h2m-257 1h2m153 0h2m57 0h2m-1 0h2m2 0h2m-225 1h2m3 0h2m3 0h2m0 0h2m202 0h2m1 0h2m33 0h2m7 0h2m-273 1h2m5 0h2m2 0h2m167 0h2m38 0h2m6 0h2m8 0h2m0 0h2m43 0h2m-288 1h2m-1 0h2m3 0h2m10 0h2m201 0h2m2 0h2m-1 0h2m-1 0h2m-212 1h2m206 0h2m5 0h2m17 0h2m-1 0h2m31 0h2m-290 1h2m0 0h2m3 0h2m-1 0h2m-1 0h2m0 0h2m-1 0h2m0 0h2m4 0h2m0 0h2m-25 1h2m-1 0h2m9 0h2m0 0h2m4 0h2m0 0h2m0 0h2m160 0h2m44 0h2m1 0h2m45 0h2m-283 1h2m3 0h2m1 0h2m6 0h2m1 0h2m7 0h2m143 0h2m-176 1h2m0 0h2m2 0h2m0 0h2m6 0h2m2 0h2m1 0h2m0 0h2m2 0h2m179 0h2m18 0h2m11 0h2m29 0h2m-275 1h2m-1 0h2m7 0h2m0 0h2m2 0h2m0 0h2m-1 0h2m0 0h2m-1 0h2m-1 0h2m223 0h2m-253 1h2m2 0h2m2 0h2m2 0h2m-1 0h2m-1 0h2m4 0h2m-1 0h2m1 0h2m3 0h2m-29 1h2m5 0h2m1 0h2m4 0h2m-1 0h2m0 0h2m-1 0h2m1 0h2m-1 0h2m-1 0h2m1 0h2m225 0h2m10 0h2m-269 1h2m0 0h2m0 0h2m1 0h2m2 0h2m2 0h2m2 0h2m227 0h2m-1 0h2m22 0h2m-1 0h2m-277 1h2m-1 0h2m7 0h2m0 0h2m3 0h2m-1 0h2m10 0h2m2 0h2m201 0h2m34 0h2m-266 1h2m1 0h2m-1 0h2m5 0h2m0 0h2m0 0h2m-1 0h2m-1 0h2m0 0h2m1 0h2m-1 0h2m-35 1h2m2 0h2m3 0h2m5 0h2m-1 0h2m-1 0h2m2 0h2m0 0h2m-1 0h2m1 0h2m2 0h2m-33 1h2m-1 0h2m3 0h2m0 0h2m-1 0h2m0 0h2m-1 0h2m5 0h2m0 0h2m8 0h2m1 0h2m179 0h2m16 0h2m-234 1h2m2 0h2m10 0h2m2 0h2m1 0h2m5 0h2m202 0h2m11 0h2m-250 1h2m8 0h2m-1 0h2m-1 0h2m2 0h2m0 0h2m-1 0h2m-1 0h2m0 0h2m2 0h2m0 0h2m-1 0h2m-1 0h2m2 0h2m105 0h2m99 0h2m73 0h2m-319 1h2m0 0h2m-1 0h2m2 0h2m1 0h2m1 0h2m-1 0h2m0 0h2m0 0h2m1 0h2m0 0h2m2 0h2m0 0h2m1 0h2m1 0h2m200 0h2m11 0h2m-251 1h2m0 0h2m1 0h2m1 0h2m0 0h2m-1 0h2m-1 0h2m3 0h2m1 0h2m3 0h2m-1 0h2m-1 0h2m194 0h2m24 0h2m14 0h2m-265 1h2m0 0h2m3 0h2m9 0h2m0 0h2m0 0h2m1 0h2m-1 0h2m192 0h2m20 0h2m-1 0h2m21 0h2m-268 1h2m2 0h2m-1 0h2m0 0h2m0 0h2m0 0h2m-1 0h2m-1 0h2m5 0h2m0 0h2m0 0h2m1 0h2m-1 0h2m-1 0h2m193 0h2m36 0h2m-265 1h2m0 0h2m-1 0h2m12 0h2m0 0h2m3 0h2m-1 0h2m2 0h2m2 0h2m148 0h2m4 0h2m35 0h2m26 0h2m-257 1h2m2 0h2m3 0h2m0 0h2m0 0h2m-1 0h2m2 0h2m3 0h2m-1 0h2m1 0h2m2 0h2m202 0h2m4 0h2m-242 1h2m0 0h2m5 0h2m6 0h2m7 0h2m-1 0h2m0 0h2m216 0h2m-248 1h2m-1 0h2m7 0h2m0 0h2m1 0h2m1 0h2m1 0h2m0 0h2m-1 0h2m1 0h2m171 0h2m51 0h2m-258 1h2m5 0h2m0 0h2m0 0h2m2 0h2m5 0h2m7 0h2m156 0h2m11 0h2m16 0h2m26 0h2m25 0h2m4 0h2m-279 1h2m8 0h2m2 0h2m1 0h2m0 0h2m-1 0h2m-1 0h2m1 0h2m1 0h2m165 0h2m61 0h2m1 0h2m4 0h2m-265 1h2m-1 0h2m-1 0h2m3 0h2m3 0h2m-1 0h2m6 0h2m3 0h2m180 0h2m5 0h2m29 0h2m1 0h2m-242 1h2m-1 0h2m-1 0h2m-1 0h2m-1 0h2m-1 0h2m-1 0h2m1 0h2m-1 0h2m0 0h2m0 0h2m151 0h2m6 0h2m2 0h2m4 0h2m-196 1h2m-1 0h2m8 0h2m-1 0h2m8 0h2m3 0h2m151 0h2m6 0h2m4 0h2m35 0h2m0 0h2m16 0h2m-249 1h2m-1 0h2m13 0h2m1 0h2m-1 0h2m145 0h2m7 0h2m6 0h2m0 0h2m65 0h2m8 0h2m34 0h2m-303 1h2m3 0h2m1 0h2m3 0h2m-1 0h2m0 0h2m-1 0h2m3 0h2m3 0h2m122 0h2m17 0h2m35 0h2m52 0h2m0 0h2m-260 1h2m-1 0h2m-1 0h2m1 0h2m2 0h2m0 0h2m0 0h2m-1 0h2m2 0h2m157 0h2m2 0h2m5 0h2m54 0h2m-251 1h2m0 0h2m0 0h2m1 0h2m4 0h2m0 0h2m1 0h2m-1 0h2m1 0h2m-1 0h2m107 0h2m38 0h2m15 0h2m6 0h2m38 0h2m15 0h2m-251 1h2m5 0h2m2 0h2m0 0h2m4 0h2m0 0h2m102 0h2m1 0h2m41 0h2m37 0h2m-217 1h2m-1 0h2m-1 0h2m0 0h2m-1 0h2m2 0h2m1 0h2m-1 0h2m-1 0h2m1 0h2m4 0h2m107 0h2m37 0h2m90 0h2m-257 1h2m11 0h2m2 0h2m105 0h2m41 0h2m13 0h2m31 0h2m33 0h2m-259 1h2m10 0h2m3 0h2m114 0h2m-1 0h2m35 0h2m1 0h2m10 0h2m43 0h2m13 0h2m-241 1h2m1 0h2m1 0h2m4 0h2m144 0h2m0 0h2m-1 0h2m6 0h2m15 0h2m27 0h2m-219 1h2m2 0h2m5 0h2m-1 0h2m-1 0h2m0 0h2m-1 0h2m-1 0h2m106 0h2m0 0h2m0 0h2m1 0h2m29 0h2m24 0h2m3 0h2m11 0h2m22 0h2m16 0h2m-241 1h2m2 0h2m0 0h2m107 0h2m2 0h2m30 0h2m6 0h2m2 0h2m11 0h2m64 0h2m36 0h2m-287 1h2m1 0h2m2 0h2m110 0h2m0 0h2m-1 0h2m1 0h2m34 0h2m10 0h2m1 0h2m6 0h2m-182 1h2m-1 0h2m0 0h2m0 0h2m112 0h2m42 0h2m8 0h2m3 0h2m-1 0h2m0 0h2m41 0h2m-217 1h2m107 0h2m40 0h2m4 0h2m-48 1h2m35 0h2m0 0h2m4 0h2m116 0h2m-279 1h2m113 0h2m32 0h2m3 0h2m1 0h2m13 0h2m1 0h2m76 0h2m-145 1h2m-1 0h2m-1 0h2m-1 0h2m45 0h2m0 0h2m5 0h2m3 0h2m1 0h2m48 0h2m-119 1h2m-1 0h2m2 0h2m47 0h2m0 0h2m72 0h2m-134 1h2m6 0h2m31 0h2m13 0h2m2 0h2m-61 1h2m36 0h2m23 0h2m86 0h2m-152 1h2m1 0h2m35 0h2m43 0h2m23 0h2m1 0h2m-110 1h2m29 0h2m19 0h2m-57 1h2m-1 0h2m31 0h2m1 0h2m7 0h2m-1 0h2m6 0h2m38 0h2m-100 1h2m0 0h2m-1 0h2m-1 0h2m0 0h2m40 0h2m-50 1h2m1 0h2m1 0h2m34 0h2m6 0h2m7 0h2m-8 1h2m2 0h2m8 0h2m-64 1h2m32 0h2m1 0h2m-1 0h2m-1 0h2m-1 0h2m7 0h2m0 0h2m-1 0h2m2 0h2m1 0h2m44 0h2m-108 1h2m-1 0h2m50 0h2m0 0h2m-17 1h2m-1 0h2m5 0h2m5 0h2m-1 0h2m-13 1h2m2 0h2m4 0h2m-17 1h2m7 0h2m-4 1h2m9 0h2m3 0h2m-29 1h2m8 0h2m0 0h2m3 0h2m2 0h2m-17 1h2m-1 0h2m16 0h2m-24 1h2m10 0h2m8 0h2m-7 1h2m-7 1h2m-7 1h2m78 0h2m-147 1h2m58 1h2m0 0h2m0 1h2" stroke="#3457ee" stroke-width="1.5" fill="none"/>
<path transform="scale(0.5)" d="M1078 1261h2m11 0h2m-29 4h2m15 0h2m2 0h2m-30 1h2m15 0h2m7 0h2m-1 0h2m0 0h2m-29 1h2m4 0h2m14 0h2m0 0h2m6 0h2m2 0h2m-28 1h2m2 0h2m-5 1h2m-1 0h2m10 0h2m6 0h2m-1 0h2m8 0h2m-44 1h2m6 0h2m29 0h2m-42 1h2m13 0h2m3 0h2m9 0h2m0 0h2m-46 1h2m7 0h2m7 0h2m4 0h2m-32 1h2m34 0h2m4 0h2m-37 1h2m17 0h2m11 0h2m2 0h2m24 0h2m-49 1h2m-1 0h2m0 0h2m5 0h2m0 0h2m-1 0h2m4 0h2m14 0h2m0 0h2m-52 1h2m8 0h2m-11 1h2m6 0h2m20 0h2m16 0h2m7 0h2m-116 1h2m64 0h2m-1 0h2m0 0h2m7 0h2m0 0h2m2 0h2m-141 1h2m40 0h2m62 0h2m8 0h2m33 0h2m2 0h2m7 0h2m-54 1h2m8 0h2m15 0h2m1 0h2m17 0h2m-15 1h2m8 0h2m1 0h2m-1 0h2m1 0h2m-57 1h2m7 0h2m1 0h2m7 0h2m-1 0h2m4 0h2m-1 0h2m22 0h2m-20 1h2m9 0h2m1 0h2m-56 1h2m2 0h2m-1 0h2m7 0h2m13 0h2m21 0h2m-49 1h2m7 0h2m39 0h2m-60 1h2m20 0h2m9 0h2m12 0h2m6 0h2m0 0h2m2 0h2m-47 1h2m10 0h2m1 0h2m4 0h2m19 0h2m11 0h2m-91 1h2m22 0h2m4 0h2m13 0h2m1 0h2m16 0h2m5 0h2m-1 0h2m3 0h2m-79 1h2m24 0h2m4 0h2m33 0h2m0 0h2m-43 1h2m7 0h2m34 0h2m-41 1h2m-1 0h2m52 0h2m-64 1h2m27 0h2m-1 0h2m4 0h2m11 0h2m15 0h2m-65 1h2m10 0h2m43 0h2m-201 1h2m24 0h2m108 0h2m1 0h2m8 0h2m6 0h2m1 0h2m1 0h2m1 0h2m9 0h2m12 0h2m-54 1h2m28 0h2m19 0h2m-182 1h2m24 0h2m95 0h2m31 0h2m-131 1h2m134 0h2m14 0h2m-261 1h2m198 0h2m6 0h2m16 0h2m13 1h2m7 0h2m8 0h2m1 0h2m-84 1h2m11 0h2m41 0h2m7 0h2m5 0h2m-56 1h2m38 0h2m-1 0h2m6 0h2m7 0h2m3 0h2m4 0h2m-1 0h2m-303 1h2m253 0h2m24 0h2m6 0h2m-182 1h2m62 0h2m-12 1h2m72 0h2m5 0h2m29 0h2m8 0h2m-84 1h2m65 0h2m1 0h2m14 0h2m-164 1h2m85 0h2m13 0h2m13 0h2m29 0h2m5 0h2m-1 0h2m2 0h2m-95 1h2m21 1h2m1 0h2m10 0h2m7 0h2m51 0h2m-228 1h2m97 0h2m3 0h2m114 0h2m-244 1h2m175 0h2m49 0h2m-179 1h2m112 0h2m4 0h2m21 0h2m69 0h2m-137 1h2m81 0h2m33 0h2m-85 1h2m-224 1h2m164 0h2m21 0h2m34 0h2m4 0h2m67 0h2m-267 1h2m159 0h2m-112 1h2m137 0h2m6 0h2m12 0h2m4 0h2m-220 1h2m67 0h2m101 0h2m34 0h2m47 0h2m-263 1h2m27 0h2m134 0h2m19 0h2m1 0h2m23 0h2m52 0h2m-113 1h2m14 0h2m26 0h2m-126 1h2m103 0h2m9 0h2m17 0h2m55 0h2m0 0h2m-120 1h2m111 0h2m-121 1h2m5 0h2m44 0h2m1 0h2m-47 1h2m15 0h2m5 0h2m11 0h2m36 0h2m36 0h2m-97 1h2m37 0h2m6 0h2m37 0h2m6 0h2m-116 1h2m14 0h2m8 0h2m0 0h2m23 0h2m56 1h2m-198 1h2m83 0h2m7 1h2m7 0h2m99 0h2m-227 1h2m100 0h2m10 0h2m9 0h2m55 0h2m-163 1h2m135 0h2m62 0h2m-105 1h2m24 0h2m10 0h2m1 0h2m56 0h2m5 0h2m-117 1h2m35 0h2m23 0h2m1 0h2m-39 1h2m18 0h2m30 0h2m-66 1h2m4 0h2m24 1h2m86 0h2m-258 1h2m149 0h2m52 0h2m-176 1h2m145 0h2m-75 1h2m57 0h2m35 0h2m-49 1h2m37 0h2m3 1h2m3 0h2m-1 1h2m10 0h2m-242 1h2m145 0h2m19 0h2m-189 1h2m13 0h2m148 0h2m28 0h2m44 0h2m5 0h2m-81 1h2m-89 1h2m140 0h2m37 0h2m-1 0h2m16 0h2m-254 1h2m226 0h2m-250 1h2m140 0h2m90 0h2m4 0h2m12 1h2m-218 1h2m4 0h2m125 0h2m47 0h2m1 0h2m-199 1h2m40 0h2m2 0h2m87 0h2m70 0h2m21 0h2m-107 1h2m40 0h2m30 0h2m0 0h2m31 0h2m-257 1h2m32 0h2m156 1h2m57 0h2m-1 0h2m-234 1h2m207 0h2m16 0h2m-79 1h2m59 0h2m29 0h2m-278 1h2m259 0h2m-252 1h2m223 0h2m-220 1h2m238 0h2m-1 0h2m0 0h2m12 0h2m-89 1h2m91 0h2m-230 1h2m0 0h2m203 0h2m-221 1h2m201 0h2m12 0h2m3 0h2m4 0h2m-102 1h2m2 0h2m60 0h2m7 0h2m0 0h2m6 0h2m-127 1h2m138 0h2m1 0h2m6 0h2m-272 1h2m118 0h2m121 0h2m24 0h2m-226 1h2m73 0h2m98 0h2m17 0h2m22 0h2m-270 1h2m77 0h2m45 0h2m53 0h2m13 0h2m65 0h2m-1 0h2m1 0h2m-143 1h2m48 0h2m2 0h2m32 0h2m37 0h2m1 0h2m12 0h2m-145 1h2m121 0h2m3 0h2m1 0h2m5 0h2m2 0h2m7 0h2m5 0h2m-160 1h2m63 0h2m39 0h2m1 0h2m8 0h2m1 0h2m4 0h2m6 0h2m26 0h2m-165 1h2m105 0h2m-124 1h2m14 0h2m67 0h2m33 0h2m5 0h2m4 0h2m5 0h2m12 0h2m3 0h2m-145 1h2m54 0h2m4 0h2m20 0h2m13 0h2m15 0h2m30 0h2m9 0h2m3 0h2m-278 1h2m237 0h2m2 0h2m10 0h2m-1 0h2m-265 1h2m217 0h2m2 0h2m24 0h2m7 0h2m10 0h2m-152 1h2m43 0h2m13 0h2m6 0h2m1 0h2m7 0h2m-1 0h2m18 0h2m1 0h2m14 0h2m-244 1h2m71 0h2m77 0h2m24 0h2m40 0h2m18 0h2m7 0h2m-1 0h2m-1 0h2m10 0h2m-194 1h2m50 0h2m-1 0h2m2 0h2m23 0h2m41 0h2m50 0h2m10 0h2m4 0h2m0 0h2m-240 1h2m136 0h2m13 0h2m2 0h2m30 0h2m7 0h2m12 0h2m9 0h2m4 0h2m-1 0h2m-51 1h2m8 0h2m26 0h2m1 0h2m3 0h2m14 0h2m-1 0h2m1 0h2m3 0h2m-119 1h2m-1 0h2m-1 0h2m1 0h2m17 0h2m6 0h2m23 0h2m2 0h2m30 0h2m1 0h2m12 0h2m0 0h2m-171 1h2m46 0h2m16 0h2m27 0h2m0 0h2m30 0h2m0 0h2m3 0h2m0 0h2m0 0h2m6 0h2m10 0h2m2 0h2m-193 1h2m91 0h2m23 0h2m4 0h2m0 0h2m16 0h2m3 0h2m27 0h2m10 0h2m8 0h2m-279 1h2m155 0h2m3 0h2m4 0h2m-1 0h2m8 0h2m41 0h2m16 0h2m21 0h2m2 0h2m9 0h2m-273 1h2m4 0h2m149 0h2m22 0h2m-1 0h2m2 0h2m10 0h2m22 0h2m10 0h2m-1 0h2m9 0h2m-1 0h2m3 0h2m-1 0h2m-222 1h2m35 0h2m63 0h2m9 0h2m1 0h2m0 0h2m9 0h2m-1 0h2m0 0h2m25 0h2m5 0h2m33 0h2m4 0h2m-242 1h2m149 0h2m19 0h2m4 0h2m8 0h2m7 0h2m8 0h2m10 0h2m-1 0h2m2 0h2m0 0h2m1 0h2m15 0h2m1 0h2m2 0h2m2 0h2m17 0h2m2 0h2m-141 1h2m2 0h2m6 0h2m7 0h2m35 0h2m2 0h2m16 0h2m10 0h2m12 0h2m3 0h2m14 0h2m-168 1h2m62 0h2m11 0h2m28 0h2m14 0h2m7 0h2m0 0h2m20 0h2m7 0h2m0 0h2m-280 1h2m153 0h2m70 0h2m32 0h2m-1 0h2m0 0h2m6 0h2m5 0h2m0 0h2m-131 1h2m-1 0h2m0 0h2m5 0h2m0 0h2m4 0h2m2 0h2m18 0h2m28 0h2m0 0h2m7 0h2m12 0h2m-1 0h2m3 0h2m3 0h2m1 0h2m1 0h2m3 0h2m5 0h2m0 0h2m5 0h2m-135 1h2m16 0h2m4 0h2m4 0h2m24 0h2m11 0h2m3 0h2m7 0h2m13 0h2m4 0h2m4 0h2m8 0h2m-252 1h2m122 0h2m3 0h2m-1 0h2m0 0h2m6 0h2m23 0h2m28 0h2m43 0h2m0 0h2m13 0h2m-285 1h2m163 0h2m7 0h2m0 0h2m3 0h2m5 0h2m40 0h2m2 0h2m1 0h2m-1 0h2m6 0h2m1 0h2m5 0h2m5 0h2m0 0h2m20 0h2m-133 1h2m-1 0h2m10 0h2m-1 0h2m7 0h2m19 0h2m22 0h2m17 0h2m9 0h2m0 0h2m1 0h2m1 0h2m6 0h2m-276 1h2m156 0h2m5 0h2m14 0h2m0 0h2m11 0h2m41 0h2m0 0h2m7 0h2m11 0h2m-106 1h2m-1 0h2m16 0h2m17 0h2m-1 0h2m27 0h2m25 0h2m11 0h2m-1 0h2m4 0h2m7 0h2m4 0h2m-138 1h2m2 0h2m19 0h2m24 0h2m4 0h2m21 0h2m6 0h2m5 0h2m11 0h2m18 0h2m-283 1h2m155 0h2m0 0h2m0 0h2m16 0h2m3 0h2m8 0h2m12 0h2m1 0h2m18 0h2m52 0h2m-132 1h2m-1 0h2m2 0h2m11 0h2m10 0h2m16 0h2m37 0h2m-1 0h2m-1 0h2m2 0h2m5 0h2m9 0h2m11 0h2m-123 1h2m11 0h2m29 0h2m33 0h2m9 0h2m7 0h2m2 0h2m7 0h2m-181 1h2m60 0h2m3 0h2m0 0h2m15 0h2m5 0h2m1 0h2m12 0h2m6 0h2m3 0h2m0 0h2m7 0h2m29 0h2m1 0h2m-1 0h2m-1 0h2m1 0h2m0 0h2m14 0h2m-123 1h2m-1 0h2m8 0h2m1 0h2m4 0h2m4 0h2m1 0h2m38 0h2m8 0h2m25 0h2m-1 0h2m1 0h2m6 0h2m-107 1h2m1 0h2m0 0h2m27 0h2m-1 0h2m0 0h2m24 0h2m-1 0h2m-1 0h2m1 0h2m2 0h2m3 0h2m3 0h2m3 0h2m2 0h2m-85 1h2m0 0h2m-1 0h2m8 0h2m16 0h2m2 0h2m-1 0h2m2 0h2m7 0h2m20 0h2m-1 0h2m2 0h2m-1 0h2m7 0h2m-221 1h2m87 0h2m14 0h2m37 0h2m2 0h2m14 0h2m2 0h2m13 0h2m1 0h2m7 0h2m6 0h2m6 0h2m-106 1h2m1 0h2m8 0h2m13 0h2m26 0h2m23 0h2m2 0h2m7 0h2m12 0h2m4 0h2m4 0h2m15 0h2m-138 1h2m1 0h2m1 0h2m7 0h2m25 0h2m9 0h2m8 0h2m6 0h2m25 0h2m8 0h2m3 0h2m14 0h2m-132 1h2m2 0h2m7 0h2m26 0h2m43 0h2m4 0h2m-1 0h2m13 0h2m0 0h2m2 0h2m2 0h2m-120 1h2m4 0h2m28 0h2m3 0h2m8 0h2m12 0h2m11 0h2m19 0h2m6 0h2m15 0h2m-144 1h2m17 0h2m19 0h2m0 0h2m5 0h2m36 0h2m20 0h2m-1 0h2m-1 0h2m-1 0h2m11 0h2m1 0h2m16 0h2m3 0h2m-108 1h2m21 0h2m12 0h2m27 0h2m6 0h2m11 0h2m-1 0h2m-117 1h2m2 0h2m1 0h2m-1 0h2m9 0h2m-1 0h2m-1 0h2m14 0h2m7 0h2m0 0h2m23 0h2m6 0h2m6 0h2m3 0h2m2 0h2m5 0h2m4 0h2m2 0h2m10 0h2m-154 1h2m20 0h2m3 0h2m1 0h2m9 0h2m-1 0h2m-1 0h2m1 0h2m2 0h2m27 0h2m28 0h2m5 0h2m-1 0h2m3 0h2m-1 0h2m21 0h2m-122 1h2m-1 0h2m1 0h2m15 0h2m13 0h2m37 0h2m11 0h2m-1 0h2m8 0h2m17 0h2m-120 1h2m3 0h2m6 0h2m3 0h2m3 0h2m4 0h2m15 0h2m32 0h2m12 0h2m2 0h2m11 0h2m1 0h2m-122 1h2m19 0h2m15 0h2m0 0h2m17 0h2m10 0h2m30 0h2m-1 0h2m9 0h2m4 0h2m0 0h2m-116 1h2m2 0h2m10 0h2m-1 0h2m0 0h2m14 0h2m34 0h2m6 0h2m7 0h2m5 0h2m1 0h2m14 0h2m-117 1h2m4 0h2m9 0h2m5 0h2m12 0h2m17 0h2m1 0h2m16 0h2m12 0h2m4 0h2m9 0h2m14 0h2m-126 1h2m0 0h2m10 0h2m3 0h2m14 0h2m-1 0h2m29 0h2m7 0h2m14 0h2m5 0h2m-109 1h2m15 0h2m0 0h2m0 0h2m1 0h2m13 0h2m3 0h2m-1 0h2m14 0h2m11 0h2m15 0h2m-1 0h2m1 0h2m0 0h2m3 0h2m-99 1h2m18 0h2m10 0h2m3 0h2m8 0h2m31 0h2m6 0h2m9 0h2m2 0h2m11 0h2m2 0h2m-143 1h2m31 0h2m0 0h2m12 0h2m54 0h2m10 0h2m7 0h2m-113 1h2m8 0h2m1 0h2m0 0h2m38 0h2m5 0h2m-1 0h2m0 0h2m27 0h2m-94 1h2m3 0h2m9 0h2m-1 0h2m34 0h2m18 0h2m1 0h2m2 0h2m-83 1h2m36 0h2m2 0h2m22 0h2m29 0h2m2 0h2m-95 1h2m21 0h2m6 0h2m4 0h2m7 0h2m1 0h2m6 0h2m2 0h2m11 0h2m3 0h2m4 0h2m9 0h2m21 0h2m-138 1h2m32 0h2m20 0h2m1 0h2m14 0h2m4 0h2m2 0h2m-1 0h2m1 0h2m2 0h2m2 0h2m-102 1h2m15 0h2m7 0h2m5 0h2m6 0h2m6 0h2m22 0h2m14 0h2m1 0h2m2 0h2m-1 0h2m1 0h2m3 0h2m3 0h2m0 0h2m6 0h2m-95 1h2m8 0h2m30 0h2m21 0h2m0 0h2m11 0h2m4 0h2m1 0h2m-106 1h2m8 0h2m-1 0h2m30 0h2m-1 0h2m6 0h2m18 0h2m4 0h2m-1 0h2m2 0h2m-1 0h2m3 0h2m1 0h2m-1 0h2m1 0h2m0 0h2m1 0h2m-67 1h2m0 0h2m24 0h2m7 0h2m10 0h2m1 0h2m10 0h2m0 0h2m2 0h2m-50 1h2m-1 0h2m9 0h2m0 0h2m8 0h2m-1 0h2m-1 0h2m4 0h2m8 0h2m15 0h2m-100 1h2m34 0h2m17 0h2m2 0h2m2 0h2m16 0h2m5 0h2m-105 1h2m4 0h2m6 0h2m10 0h2m16 0h2m6 0h2m5 0h2m4 0h2m8 0h2m2 0h2m0 0h2m11 0h2m6 0h2m-125 1h2m35 0h2m0 0h2m17 0h2m4 0h2m2 0h2m34 0h2m5 0h2m8 0h2m-104 1h2m27 0h2m19 0h2m16 0h2m2 0h2m6 0h2m0 0h2m3 0h2m1 0h2m3 0h2m1 0h2m-97 1h2m12 0h2m2 0h2m19 0h2m0 0h2m1 0h2m20 0h2m4 0h2m1 0h2m1 0h2m5 0h2m-1 0h2m-1 0h2m3 0h2m3 0h2m-125 1h2m9 0h2m15 0h2m3 0h2m21 0h2m-1 0h2m3 0h2m6 0h2m0 0h2m6 0h2m13 0h2m0 0h2m9 0h2m3 0h2m16 0h2m-121 1h2m0 0h2m-1 0h2m66 0h2m9 0h2m1 0h2m8 0h2m4 0h2m-103 1h2m4 0h2m4 0h2m82 0h2m2 0h2m3 0h2m0 0h2m1 0h2m0 0h2m-100 1h2m1 0h2m35 0h2m9 0h2m5 0h2m-1 0h2m8 0h2m2 0h2m3 0h2m16 0h2m5 0h2m0 0h2m-107 1h2m19 0h2m3 0h2m14 0h2m2 0h2m6 0h2m26 0h2m-94 1h2m66 0h2m2 0h2m19 0h2m7 0h2m2 0h2m-84 1h2m21 0h2m11 0h2m16 0h2m3 0h2m11 0h2m-1 0h2m1 0h2m2 0h2m10 0h2m-95 1h2m17 0h2m17 0h2m11 0h2m3 0h2m6 0h2m3 0h2m13 0h2m-100 1h2m24 0h2m2 0h2m14 0h2m0 0h2m-1 0h2m8 0h2m5 0h2m4 0h2m3 0h2m0 0h2m10 0h2m3 0h2m-58 1h2m1 0h2m1 0h2m1 0h2m0 0h2m3 0h2m1 0h2m10 0h2m1 0h2m3 0h2m9 0h2m12 0h2m-100 1h2m8 0h2m0 0h2m4 0h2m12 0h2m-1 0h2m2 0h2m5 0h2m5 0h2m6 0h2m4 0h2m10 0h2m6 0h2m1 0h2m3 0h2m29 0h2m-138 1h2m37 0h2m5 0h2m8 0h2m0 0h2m1 0h2m2 0h2m10 0h2m6 0h2m7 0h2m-56 1h2m-1 0h2m0 0h2m9 0h2m15 0h2m4 0h2m-1 0h2m1 0h2m4 0h2m0 0h2m2 0h2m4 0h2m-117 1h2m23 0h2m14 0h2m11 0h2m0 0h2m20 0h2m0 0h2m0 0h2m0 0h2m0 0h2m-1 0h2m1 0h2m3 0h2m-1 0h2m1 0h2m2 0h2m-1 0h2m1 0h2m2 0h2m-1 0h2m-41 1h2m1 0h2m1 0h2m0 0h2m5 0h2m2 0h2m4 0h2m-1 0h2m1 0h2m6 0h2m0 0h2m-106 1h2m33 0h2m3 0h2m3 0h2m6 0h2m9 0h2m-1 0h2m7 0h2m4 0h2m28 0h2m-114 1h2m40 0h2m2 0h2m6 0h2m7 0h2m3 0h2m10 0h2m5 0h2m3 0h2m6 0h2m19 0h2m-103 1h2m18 0h2m14 0h2m0 0h2m6 0h2m8 0h2m-1 0h2m14 0h2m-1 0h2m7 0h2m7 0h2m-58 1h2m15 0h2m4 0h2m-1 0h2m-1 0h2m3 0h2m-1 0h2m11 0h2m2 0h2m1 0h2m3 0h2m1 0h2m-110 1h2m30 0h2m18 0h2m0 0h2m-1 0h2m-1 0h2m4 0h2m3 0h2m5 0h2m6 0h2m4 0h2m15 0h2m-56 1h2m5 0h2m4 0h2m0 0h2m2 0h2m-1 0h2m-1 0h2m2 0h2m0 0h2m2 0h2m2 0h2m-96 1h2m43 0h2m0 0h2m7 0h2m11 0h2m0 0h2m4 0h2m3 0h2m-1 0h2m-1 0h2m4 0h2m6 0h2m-1 0h2m-1 0h2m-1 0h2m-1 0h2m1 0h2m1 0h2m0 0h2m10 0h2m-99 1h2m26 0h2m0 0h2m1 0h2m1 0h2m10 0h2m2 0h2m1 0h2m-1 0h2m1 0h2m5 0h2m6 0h2m1 0h2m2 0h2m-94 1h2m43 0h2m7 0h2m2 0h2m0 0h2m1 0h2m0 0h2m1 0h2m0 0h2m-1 0h2m8 0h2m2 0h2m5 0h2m-60 1h2m18 0h2m0 0h2m0 0h2m-1 0h2m6 0h2m1 0h2m-1 0h2m0 0h2m-1 0h2m1 0h2m5 0h2m0 0h2m-1 0h2m0 0h2m10 0h2m-147 1h2m45 0h2m23 0h2m14 0h2m7 0h2m4 0h2m-1 0h2m-1 0h2m8 0h2m8 0h2m1 0h2m3 0h2m3 0h2m-1 0h2m-72 1h2m14 0h2m1 0h2m12 0h2m3 0h2m-1 0h2m-1 0h2m0 0h2m1 0h2m1 0h2m1 0h2m0 0h2m0 0h2m1 0h2m9 0h2m-96 1h2m24 0h2m1 0h2m7 0h2m1 0h2m-1 0h2m5 0h2m0 0h2m6 0h2m3 0h2m4 0h2m2 0h2m14 0h2m3 0h2m-154 1h2m109 0h2m-1 0h2m3 0h2m4 0h2m0 0h2m0 0h2m-1 0h2m4 0h2m0 0h2m2 0h2m8 0h2m2 0h2m-66 1h2m5 0h2m4 0h2m1 0h2m-1 0h2m3 0h2m-1 0h2m0 0h2m0 0h2m3 0h2m-1 0h2m1 0h2m0 0h2m2 0h2m-1 0h2m-1 0h2m0 0h2m1 0h2m1 0h2m2 0h2m-1 0h2m3 0h2m5 0h2m1 0h2m-155 1h2m69 0h2m10 0h2m14 0h2m3 0h2m0 0h2m-1 0h2m12 0h2m-1 0h2m3 0h2m2 0h2m1 0h2m-96 1h2m20 0h2m4 0h2m3 0h2m4 0h2m10 0h2m7 0h2m0 0h2m0 0h2m0 0h2m0 0h2m-1 0h2m0 0h2m6 0h2m7 0h2m0 0h2m-45 1h2m9 0h2m4 0h2m2 0h2m9 0h2m0 0h2m0 0h2m-1 0h2m0 0h2m3 0h2m7 0h2m20 0h2m-137 1h2m44 0h2m11 0h2m16 0h2m-1 0h2m4 0h2m-1 0h2m-1 0h2m2 0h2m-1 0h2m10 0h2m0 0h2m1 0h2m-1 0h2m0 0h2m36 0h2m-117 1h2m31 0h2m5 0h2m7 0h2m6 0h2m0 0h2m0 0h2m-1 0h2m3 0h2m0 0h2m1 0h2m3 0h2m-60 1h2m6 0h2m7 0h2m3 0h2m0 0h2m6 0h2m-1 0h2m0 0h2m-1 0h2m4 0h2m0 0h2m5 0h2m-53 1h2m12 0h2m8 0h2m3 0h2m2 0h2m-1 0h2m2 0h2m0 0h2m4 0h2m11 0h2m-60 1h2m7 0h2m1 0h2m3 0h2m0 0h2m2 0h2m1 0h2m2 0h2m-1 0h2m0 0h2m1 0h2m-1 0h2m-1 0h2m0 0h2m15 0h2m5 0h2m-101 1h2m26 0h2m17 0h2m2 0h2m10 0h2m3 0h2m11 0h2m5 0h2m0 0h2m-88 1h2m29 0h2m15 0h2m3 0h2m6 0h2m9 0h2m0 0h2m3 0h2m2 0h2m2 0h2m0 0h2m2 0h2m2 0h2m-71 1h2m5 0h2m0 0h2m9 0h2m7 0h2m0 0h2m0 0h2m-1 0h2m-1 0h2m1 0h2m-1 0h2m1 0h2m7 0h2m51 0h2m-91 1h2m-1 0h2m1 0h2m-1 0h2m-1 0h2m6 0h2m-1 0h2m0 0h2m0 0h2m7 0h2m1 0h2m-1 0h2m12 0h2m-99 1h2m44 0h2m6 0h2m6 0h2m2 0h2m0 0h2m0 0h2m6 0h2m1 0h2m-1 0h2m4 0h2m-1 0h2m0 0h2m2 0h2m0 0h2m-91 1h2m62 0h2m0 0h2m-1 0h2m7 0h2m1 0h2m-1 0h2m11 0h2m-1 0h2m-77 1h2m19 0h2m9 0h2m-1 0h2m18 0h2m-1 0h2m12 0h2m-68 1h2m21 0h2m6 0h2m1 0h2m-1 0h2m4 0h2m2 0h2m0 0h2m15 0h2m-28 1h2m13 0h2m2 0h2m5 0h2m-88 1h2m43 0h2m23 0h2m-76 1h2m11 0h2m33 0h2m0 0h2m0 0h2m6 0h2m7 0h2m2 0h2m0 0h2m1 0h2m0 0h2m-1 0h2m-100 1h2m35 0h2m3 0h2m-1 0h2m13 0h2m6 0h2m3 0h2m2 0h2m13 0h2m-1 0h2m1 0h2m-1 0h2m10 0h2m-1 0h2m-78 1h2m34 0h2m9 0h2m2 0h2m1 0h2m2 0h2m0 0h2m1 0h2m0 0h2m9 0h2m10 0h2m-157 1h2m87 0h2m3 0h2m2 0h2m1 0h2m0 0h2m2 0h2m2 0h2m0 0h2m2 0h2m1 0h2m4 0h2m13 0h2m-45 1h2m2 0h2m5 0h2m1 0h2m2 0h2m4 0h2m0 0h2m0 0h2m-71 1h2m50 0h2m12 0h2m0 0h2m-78 1h2m19 0h2m27 0h2m5 0h2m9 0h2m1 0h2m1 0h2m0 0h2m26 0h2m-121 1h2m59 0h2m13 0h2m-1 0h2m16 0h2m0 0h2m5 0h2m-38 1h2m41 0h2m1 0h2m-54 1h2m24 0h2m1 0h2m-71 1h2m41 0h2m12 0h2m4 0h2m2 0h2m-74 1h2m4 0h2m42 0h2m8 0h2m9 0h2m1 0h2m11 0h2m6 0h2m-122 1h2m43 0h2m41 0h2m8 0h2m-76 1h2m4 0h2m67 0h2m-67 1h2m3 0h2m44 0h2m5 0h2m-77 1h2m11 0h2m10 0h2m2 0h2m48 0h2m-62 1h2m52 0h2m0 0h2m-68 1h2m1 0h2m1 0h2m3 0h2m-1 0h2m0 0h2m-1 0h2m-1 0h2m4 0h2m49 0h2m26 0h2m-109 1h2m6 0h2m7 0h2m8 0h2m2 0h2m-25 1h2m0 0h2m-1 0h2m5 0h2m-1 0h2m0 0h2m3 0h2m42 0h2m59 0h2m-119 1h2m5 0h2m1 0h2m47 0h2m-69 1h2m1 0h2m8 0h2m0 0h2m-1 0h2m3 0h2m27 0h2m16 0h2m-125 1h2m55 0h2m3 0h2m2 0h2m0 0h2m2 0h2m3 0h2m-35 1h2m19 0h2m0 0h2m24 0h2m15 0h2m-61 1h2m0 0h2m3 0h2m78 0h2m-87 1h2m-12 2h2m6 0h2m12 0h2m62 0h2m-63 1h2m43 0h2m8 0h2m-57 2h2m-7 1h2m8 1h2" stroke="#c9a158" stroke-width="1.5" fill="none"/>
<path transform="scale(0.5)" d="M970 1245h2m2 1h2m-4 1h2m-4 1h2m3 0h2m-1 0h2m-5 1h2m3 0h2m-2 1h2m-5 2h2m-10 3h2m-4 2h2m-37 1h2m33 0h2m0 0h2m0 0h2m1 0h2m-12 1h2m-1 0h2m2 0h2m0 0h2m-7 1h2m0 0h2m0 0h2m-1 0h2m0 0h2m102 0h2m4 0h2m-120 1h2m-1 0h2m-1 0h2m1 0h2m-1 0h2m110 0h2m-162 1h2m12 0h2m-1 0h2m1 0h2m3 0h2m1 0h2m16 0h2m3 0h2m-31 1h2m21 0h2m0 0h2m2 0h2m-46 1h2m0 0h2m0 0h2m-1 0h2m9 0h2m18 0h2m4 0h2m97 0h2m3 0h2m1 0h2m-1 0h2m13 0h2m-151 1h2m22 0h2m-1 0h2m89 0h2m7 0h2m0 0h2m3 0h2m1 0h2m8 0h2m4 0h2m0 0h2m-168 1h2m2 0h2m-1 0h2m-1 0h2m0 0h2m1 0h2m21 0h2m2 0h2m86 0h2m7 0h2m8 0h2m9 0h2m2 0h2m-167 1h2m8 0h2m1 0h2m0 0h2m6 0h2m107 0h2m1 0h2m12 0h2m2 0h2m6 0h2m11 0h2m1 0h2m-172 1h2m8 0h2m107 0h2m0 0h2m-1 0h2m6 0h2m2 0h2m-1 0h2m5 0h2m4 0h2m0 0h2m3 0h2m1 0h2m-1 0h2m8 0h2m-174 1h2m1 0h2m0 0h2m3 0h2m2 0h2m1 0h2m100 0h2m-1 0h2m11 0h2m2 0h2m3 0h2m5 0h2m1 0h2m2 0h2m0 0h2m-1 0h2m1 0h2m-164 1h2m-1 0h2m-1 0h2m1 0h2m0 0h2m0 0h2m114 0h2m1 0h2m3 0h2m4 0h2m3 0h2m0 0h2m1 0h2m0 0h2m-1 0h2m0 0h2m1 0h2m5 0h2m0 0h2m-177 1h2m4 0h2m-1 0h2m3 0h2m-1 0h2m0 0h2m0 0h2m109 0h2m3 0h2m3 0h2m5 0h2m0 0h2m0 0h2m3 0h2m0 0h2m1 0h2m3 0h2m0 0h2m3 0h2m-1 0h2m1 0h2m-1 0h2m3 0h2m2 0h2m-180 1h2m-1 0h2m0 0h2m10 0h2m100 0h2m10 0h2m10 0h2m-1 0h2m2 0h2m0 0h2m10 0h2m1 0h2m1 0h2m-1 0h2m-179 1h2m8 0h2m-1 0h2m0 0h2m-1 0h2m-1 0h2m6 0h2m-1 0h2m103 0h2m1 0h2m0 0h2m2 0h2m1 0h2m3 0h2m4 0h2m5 0h2m2 0h2m3 0h2m0 0h2m-1 0h2m-1 0h2m-1 0h2m-1 0h2m-1 0h2m4 0h2m8 0h2m-180 1h2m1 0h2m113 0h2m8 0h2m3 0h2m4 0h2m1 0h2m3 0h2m-1 0h2m7 0h2m4 0h2m11 0h2m1 0h2m-1 0h2m-177 1h2m9 0h2m98 0h2m7 0h2m-1 0h2m7 0h2m3 0h2m2 0h2m-1 0h2m3 0h2m8 0h2m-1 0h2m-163 1h2m0 0h2m-1 0h2m115 0h2m1 0h2m-1 0h2m-1 0h2m-1 0h2m1 0h2m7 0h2m-1 0h2m2 0h2m-1 0h2m2 0h2m6 0h2m0 0h2m5 0h2m1 0h2m4 0h2m-1 0h2m-177 1h2m0 0h2m12 0h2m98 0h2m1 0h2m-1 0h2m-1 0h2m0 0h2m-1 0h2m1 0h2m3 0h2m-1 0h2m7 0h2m10 0h2m0 0h2m0 0h2m7 0h2m-1 0h2m9 0h2m0 0h2m-76 1h2m6 0h2m6 0h2m6 0h2m3 0h2m13 0h2m7 0h2m0 0h2m3 0h2m4 0h2m5 0h2m-57 1h2m1 0h2m1 0h2m2 0h2m2 0h2m0 0h2m5 0h2m0 0h2m8 0h2m-1 0h2m5 0h2m0 0h2m-1 0h2m2 0h2m2 0h2m-180 1h2m74 0h2m43 0h2m-1 0h2m6 0h2m0 0h2m-1 0h2m17 0h2m-1 0h2m0 0h2m2 0h2m4 0h2m-1 0h2m-168 1h2m115 0h2m11 0h2m0 0h2m-1 0h2m-1 0h2m0 0h2m12 0h2m3 0h2m14 0h2m3 0h2m-178 1h2m21 0h2m88 0h2m0 0h2m0 0h2m0 0h2m9 0h2m4 0h2m0 0h2m1 0h2m0 0h2m0 0h2m10 0h2m0 0h2m-1 0h2m2 0h2m3 0h2m7 0h2m-182 1h2m119 0h2m1 0h2m2 0h2m4 0h2m21 0h2m9 0h2m-1 0h2m1 0h2m8 0h2m-316 1h2m133 0h2m112 0h2m-1 0h2m4 0h2m4 0h2m0 0h2m0 0h2m-1 0h2m3 0h2m5 0h2m7 0h2m9 0h2m-1 0h2m-1 0h2m1 0h2m-240 1h2m59 0h2m5 0h2m-1 0h2m-1 0h2m-1 0h2m111 0h2m-1 0h2m1 0h2m5 0h2m2 0h2m0 0h2m14 0h2m1 0h2m1 0h2m4 0h2m2 0h2m4 0h2m3 0h2m0 0h2m4 0h2m-187 1h2m0 0h2m2 0h2m2 0h2m22 0h2m79 0h2m7 0h2m2 0h2m4 0h2m3 0h2m2 0h2m0 0h2m11 0h2m-1 0h2m0 0h2m1 0h2m-1 0h2m4 0h2m11 0h2m-288 1h2m56 0h2m27 0h2m14 0h2m0 0h2m1 0h2m110 0h2m3 0h2m13 0h2m0 0h2m1 0h2m1 0h2m2 0h2m7 0h2m2 0h2m-1 0h2m0 0h2m1 0h2m9 0h2m-239 1h2m73 0h2m2 0h2m38 0h2m48 0h2m6 0h2m4 0h2m-1 0h2m-1 0h2m-1 0h2m-1 0h2m8 0h2m1 0h2m-1 0h2m1 0h2m1 0h2m-1 0h2m5 0h2m1 0h2m6 0h2m-1 0h2m-1 0h2m-174 1h2m1 0h2m0 0h2m0 0h2m7 0h2m0 0h2m51 0h2m55 0h2m3 0h2m2 0h2m-1 0h2m15 0h2m13 0h2m6 0h2m4 0h2m-312 1h2m110 0h2m11 0h2m3 0h2m-1 0h2m-1 0h2m4 0h2m0 0h2m1 0h2m-1 0h2m24 0h2m66 0h2m1 0h2m3 0h2m5 0h2m1 0h2m5 0h2m5 0h2m2 0h2m0 0h2m9 0h2m2 0h2m9 0h2m-1 0h2m-179 1h2m5 0h2m0 0h2m3 0h2m-1 0h2m-1 0h2m55 0h2m13 0h2m13 0h2m15 0h2m0 0h2m3 0h2m-1 0h2m1 0h2m4 0h2m2 0h2m6 0h2m-1 0h2m-1 0h2m3 0h2m4 0h2m-1 0h2m-1 0h2m1 0h2m-1 0h2m-1 0h2m4 0h2m2 0h2m-1 0h2m-1 0h2m-1 0h2m-311 1h2m110 0h2m17 0h2m-1 0h2m0 0h2m0 0h2m1 0h2m-1 0h2m3 0h2m25 0h2m45 0h2m33 0h2m0 0h2m4 0h2m11 0h2m28 0h2m1 0h2m2 0h2m-303 1h2m9 0h2m88 0h2m1 0h2m-1 0h2m8 0h2m-1 0h2m-1 0h2m2 0h2m-1 0h2m0 0h2m3 0h2m2 0h2m-1 0h2m2 0h2m98 0h2m5 0h2m-1 0h2m-1 0h2m-1 0h2m0 0h2m0 0h2m4 0h2m-1 0h2m8 0h2m-1 0h2m0 0h2m4 0h2m3 0h2m4 0h2m2 0h2m3 0h2m-233 1h2m38 0h2m5 0h2m9 0h2m-1 0h2m2 0h2m0 0h2m4 0h2m0 0h2m64 0h2m40 0h2m-1 0h2m5 0h2m-1 0h2m1 0h2m2 0h2m3 0h2m1 0h2m2 0h2m1 0h2m2 0h2m-1 0h2m3 0h2m3 0h2m0 0h2m0 0h2m0 0h2m0 0h2m-307 1h2m12 0h2m87 0h2m4 0h2m0 0h2m-1 0h2m0 0h2m-1 0h2m0 0h2m1 0h2m6 0h2m0 0h2m5 0h2m83 0h2m21 0h2m10 0h2m0 0h2m8 0h2m11 0h2m0 0h2m8 0h2m6 0h2m-293 1h2m1 0h2m4 0h2m91 0h2m1 0h2m10 0h2m2 0h2m2 0h2m-1 0h2m45 0h2m14 0h2m30 0h2m28 0h2m-1 0h2m3 0h2m5 0h2m-1 0h2m5 0h2m7 0h2m1 0h2m-301 1h2m3 0h2m3 0h2m4 0h2m1 0h2m3 0h2m2 0h2m73 0h2m4 0h2m1 0h2m3 0h2m3 0h2m6 0h2m-1 0h2m2 0h2m6 0h2m-1 0h2m0 0h2m3 0h2m69 0h2m-1 0h2m27 0h2m6 0h2m1 0h2m9 0h2m22 0h2m0 0h2m1 0h2m1 0h2m-301 1h2m5 0h2m2 0h2m2 0h2m1 0h2m0 0h2m69 0h2m15 0h2m3 0h2m7 0h2m3 0h2m4 0h2m37 0h2m56 0h2m26 0h2m5 0h2m5 0h2m4 0h2m11 0h2m3 0h2m3 0h2m-311 1h2m-1 0h2m-1 0h2m3 0h2m6 0h2m6 0h2m-1 0h2m5 0h2m80 0h2m11 0h2m2 0h2m5 0h2m-1 0h2m1 0h2m4 0h2m25 0h2m26 0h2m7 0h2m13 0h2m11 0h2m1 0h2m36 0h2m5 0h2m7 0h2m9 0h2m-310 1h2m5 0h2m2 0h2m0 0h2m1 0h2m0 0h2m0 0h2m-1 0h2m2 0h2m0 0h2m-1 0h2m92 0h2m-1 0h2m6 0h2m6 0h2m-1 0h2m-1 0h2m3 0h2m-1 0h2m57 0h2m37 0h2m2 0h2m21 0h2m0 0h2m9 0h2m4 0h2m3 0h2m-1 0h2m-1 0h2m6 0h2m-1 0h2m-1 0h2m-311 1h2m6 0h2m4 0h2m-1 0h2m-1 0h2m3 0h2m1 0h2m1 0h2m1 0h2m75 0h2m-1 0h2m4 0h2m2 0h2m9 0h2m-1 0h2m5 0h2m3 0h2m1 0h2m7 0h2m49 0h2m6 0h2m33 0h2m9 0h2m20 0h2m22 0h2m0 0h2m-313 1h2m5 0h2m2 0h2m7 0h2m1 0h2m-1 0h2m4 0h2m2 0h2m3 0h2m71 0h2m31 0h2m-1 0h2m3 0h2m-1 0h2m62 0h2m0 0h2m6 0h2m15 0h2m3 0h2m40 0h2m3 0h2m0 0h2m-1 0h2m-1 0h2m2 0h2m-1 0h2m1 0h2m3 0h2m0 0h2m-312 1h2m2 0h2m1 0h2m1 0h2m3 0h2m1 0h2m7 0h2m2 0h2m66 0h2m5 0h2m3 0h2m30 0h2m75 0h2m2 0h2m2 0h2m11 0h2m20 0h2m32 0h2m-1 0h2m2 0h2m1 0h2m4 0h2m-318 1h2m1 0h2m-1 0h2m0 0h2m3 0h2m0 0h2m-1 0h2m1 0h2m-1 0h2m1 0h2m-1 0h2m0 0h2m-1 0h2m-1 0h2m2 0h2m-1 0h2m1 0h2m0 0h2m-1 0h2m-1 0h2m2 0h2m5 0h2m62 0h2m0 0h2m3 0h2m0 0h2m2 0h2m17 0h2m-1 0h2m1 0h2m32 0h2m16 0h2m4 0h2m29 0h2m0 0h2m15 0h2m34 0h2m1 0h2m4 0h2m-307 1h2m6 0h2m0 0h2m2 0h2m-1 0h2m-1 0h2m2 0h2m0 0h2m0 0h2m-1 0h2m-1 0h2m2 0h2m1 0h2m0 0h2m-1 0h2m-1 0h2m4 0h2m0 0h2m0 0h2m1 0h2m55 0h2m6 0h2m4 0h2m1 0h2m80 0h2m-1 0h2m-1 0h2m26 0h2m4 0h2m4 0h2m9 0h2m0 0h2m6 0h2m27 0h2m5 0h2m-304 1h2m2 0h2m3 0h2m1 0h2m2 0h2m-1 0h2m0 0h2m6 0h2m0 0h2m-1 0h2m1 0h2m0 0h2m4 0h2m67 0h2m5 0h2m-1 0h2m25 0h2m8 0h2m45 0h2m18 0h2m7 0h2m2 0h2m18 0h2m0 0h2m18 0h2m14 0h2m1 0h2m2 0h2m1 0h2m3 0h2m1 0h2m-317 1h2m3 0h2m0 0h2m2 0h2m4 0h2m5 0h2m6 0h2m0 0h2m-1 0h2m-1 0h2m5 0h2m3 0h2m0 0h2m57 0h2m1 0h2m2 0h2m0 0h2m5 0h2m4 0h2m1 0h2m14 0h2m32 0h2m13 0h2m4 0h2m23 0h2m4 0h2m4 0h2m1 0h2m6 0h2m0 0h2m7 0h2m-1 0h2m31 0h2m1 0h2m1 0h2m-304 1h2m0 0h2m2 0h2m-1 0h2m-1 0h2m-1 0h2m0 0h2m0 0h2m-1 0h2m6 0h2m3 0h2m-1 0h2m1 0h2m0 0h2m-1 0h2m-1 0h2m1 0h2m7 0h2m-1 0h2m35 0h2m29 0h2m-1 0h2m0 0h2m3 0h2m68 0h2m20 0h2m23 0h2m-1 0h2m0 0h2m5 0h2m1 0h2m1 0h2m5 0h2m36 0h2m0 0h2m0 0h2m-1 0h2m-1 0h2m1 0h2m-309 1h2m0 0h2m1 0h2m5 0h2m4 0h2m5 0h2m3 0h2m2 0h2m3 0h2m0 0h2m2 0h2m-1 0h2m54 0h2m10 0h2m0 0h2m4 0h2m25 0h2m0 0h2m5 0h2m30 0h2m16 0h2m1 0h2m3 0h2m4 0h2m13 0h2m-1 0h2m-1 0h2m-1 0h2m0 0h2m6 0h2m2 0h2m48 0h2m-308 1h2m1 0h2m-1 0h2m-1 0h2m2 0h2m0 0h2m3 0h2m2 0h2m0 0h2m0 0h2m0 0h2m1 0h2m9 0h2m0 0h2m2 0h2m-1 0h2m17 0h2m38 0h2m5 0h2m18 0h2m14 0h2m64 0h2m2 0h2m0 0h2m7 0h2m11 0h2m15 0h2m-266 1h2m1 0h2m4 0h2m3 0h2m0 0h2m2 0h2m2 0h2m0 0h2m-1 0h2m6 0h2m2 0h2m1 0h2m0 0h2m5 0h2m59 0h2m0 0h2m7 0h2m35 0h2m35 0h2m6 0h2m4 0h2m0 0h2m6 0h2m4 0h2m10 0h2m1 0h2m-1 0h2m2 0h2m3 0h2m10 0h2m13 0h2m-279 1h2m0 0h2m0 0h2m5 0h2m-1 0h2m8 0h2m0 0h2m-1 0h2m0 0h2m2 0h2m2 0h2m0 0h2m-1 0h2m-1 0h2m-1 0h2m1 0h2m1 0h2m2 0h2m1 0h2m49 0h2m10 0h2m0 0h2m2 0h2m67 0h2m2 0h2m15 0h2m-1 0h2m1 0h2m2 0h2m11 0h2m0 0h2m-1 0h2m2 0h2m3 0h2m29 0h2m6 0h2m19 0h2m-305 1h2m6 0h2m4 0h2m4 0h2m5 0h2m5 0h2m6 0h2m0 0h2m3 0h2m55 0h2m0 0h2m-1 0h2m79 0h2m0 0h2m18 0h2m14 0h2m4 0h2m8 0h2m1 0h2m0 0h2m6 0h2m38 0h2m-304 1h2m1 0h2m-1 0h2m5 0h2m-1 0h2m-1 0h2m5 0h2m0 0h2m13 0h2m3 0h2m9 0h2m0 0h2m56 0h2m5 0h2m69 0h2m6 0h2m4 0h2m3 0h2m5 0h2m0 0h2m12 0h2m-1 0h2m3 0h2m-1 0h2m1 0h2m-1 0h2m0 0h2m0 0h2m1 0h2m12 0h2m-268 1h2m3 0h2m1 0h2m2 0h2m4 0h2m-1 0h2m1 0h2m3 0h2m-1 0h2m2 0h2m0 0h2m2 0h2m6 0h2m6 0h2m1 0h2m66 0h2m72 0h2m5 0h2m-1 0h2m3 0h2m15 0h2m11 0h2m4 0h2m0 0h2m13 0h2m42 0h2m-305 1h2m3 0h2m15 0h2m1 0h2m2 0h2m0 0h2m0 0h2m3 0h2m0 0h2m1 0h2m5 0h2m51 0h2m-1 0h2m-1 0h2m0 0h2m2 0h2m-1 0h2m96 0h2m1 0h2m2 0h2m6 0h2m0 0h2m13 0h2m1 0h2m12 0h2m-1 0h2m1 0h2m8 0h2m28 0h2m-1 0h2m-312 1h2m3 0h2m0 0h2m0 0h2m1 0h2m0 0h2m0 0h2m0 0h2m3 0h2m-1 0h2m0 0h2m-1 0h2m1 0h2m3 0h2m-1 0h2m1 0h2m-1 0h2m0 0h2m8 0h2m54 0h2m6 0h2m2 0h2m100 0h2m-1 0h2m8 0h2m1 0h2m3 0h2m5 0h2m-1 0h2m0 0h2m-1 0h2m8 0h2m46 0h2m-311 1h2m5 0h2m2 0h2m-1 0h2m5 0h2m9 0h2m3 0h2m1 0h2m9 0h2m2 0h2m54 0h2m-1 0h2m0 0h2m-1 0h2m-1 0h2m4 0h2m76 0h2m6 0h2m12 0h2m-1 0h2m11 0h2m0 0h2m2 0h2m0 0h2m2 0h2m3 0h2m-1 0h2m4 0h2m0 0h2m-1 0h2m-1 0h2m46 0h2m-311 1h2m3 0h2m12 0h2m0 0h2m10 0h2m0 0h2m5 0h2m1 0h2m5 0h2m8 0h2m48 0h2m2 0h2m73 0h2m6 0h2m2 0h2m1 0h2m-1 0h2m0 0h2m2 0h2m-1 0h2m15 0h2m12 0h2m0 0h2m-1 0h2m8 0h2m12 0h2m6 0h2m-271 1h2m3 0h2m0 0h2m1 0h2m2 0h2m1 0h2m2 0h2m-1 0h2m10 0h2m0 0h2m2 0h2m0 0h2m-1 0h2m-1 0h2m122 0h2m18 0h2m12 0h2m2 0h2m-1 0h2m-1 0h2m5 0h2m11 0h2m0 0h2m0 0h2m-1 0h2m2 0h2m4 0h2m10 0h2m39 0h2m0 0h2m3 0h2m-317 1h2m3 0h2m5 0h2m14 0h2m-1 0h2m6 0h2m1 0h2m0 0h2m1 0h2m1 0h2m-1 0h2m1 0h2m44 0h2m2 0h2m8 0h2m0 0h2m0 0h2m75 0h2m11 0h2m9 0h2m1 0h2m8 0h2m7 0h2m0 0h2m-1 0h2m0 0h2m1 0h2m0 0h2m17 0h2m-264 1h2m4 0h2m0 0h2m0 0h2m-1 0h2m4 0h2m4 0h2m5 0h2m2 0h2m6 0h2m6 0h2m49 0h2m4 0h2m1 0h2m-1 0h2m82 0h2m0 0h2m4 0h2m12 0h2m1 0h2m1 0h2m3 0h2m2 0h2m1 0h2m-1 0h2m2 0h2m0 0h2m2 0h2m6 0h2m1 0h2m0 0h2m43 0h2m-308 1h2m-1 0h2m-1 0h2m4 0h2m-1 0h2m4 0h2m-1 0h2m-1 0h2m4 0h2m1 0h2m0 0h2m5 0h2m4 0h2m1 0h2m3 0h2m0 0h2m60 0h2m58 0h2m7 0h2m30 0h2m-1 0h2m0 0h2m1 0h2m3 0h2m-1 0h2m0 0h2m-1 0h2m5 0h2m1 0h2m-1 0h2m9 0h2m8 0h2m3 0h2m7 0h2m24 0h2m1 0h2m-310 1h2m-1 0h2m0 0h2m5 0h2m4 0h2m7 0h2m0 0h2m1 0h2m-1 0h2m5 0h2m-1 0h2m6 0h2m2 0h2m2 0h2m-1 0h2m2 0h2m52 0h2m-1 0h2m78 0h2m7 0h2m0 0h2m8 0h2m5 0h2m0 0h2m0 0h2m6 0h2m-1 0h2m-1 0h2m-1 0h2m0 0h2m0 0h2m2 0h2m0 0h2m0 0h2m1 0h2m0 0h2m0 0h2m-1 0h2m-1 0h2m4 0h2m9 0h2m-278 1h2m4 0h2m0 0h2m2 0h2m9 0h2m5 0h2m6 0h2m-1 0h2m1 0h2m0 0h2m8 0h2m2 0h2m0 0h2m46 0h2m2 0h2m4 0h2m103 0h2m-1 0h2m5 0h2m7 0h2m-1 0h2m8 0h2m7 0h2m8 0h2m-270 1h2m-1 0h2m-1 0h2m2 0h2m-1 0h2m0 0h2m4 0h2m1 0h2m1 0h2m0 0h2m4 0h2m17 0h2m5 0h2m49 0h2m0 0h2m6 0h2m75 0h2m16 0h2m-1 0h2m4 0h2m6 0h2m1 0h2m4 0h2m-1 0h2m-1 0h2m12 0h2m0 0h2m-1 0h2m51 0h2m-299 1h2m0 0h2m0 0h2m-1 0h2m2 0h2m-1 0h2m0 0h2m-1 0h2m-1 0h2m9 0h2m-1 0h2m1 0h2m1 0h2m0 0h2m9 0h2m48 0h2m-1 0h2m2 0h2m0 0h2m62 0h2m19 0h2m5 0h2m26 0h2m1 0h2m4 0h2m8 0h2m5 0h2m0 0h2m22 0h2m20 0h2m4 0h2m-312 1h2m-1 0h2m2 0h2m3 0h2m9 0h2m-1 0h2m14 0h2m0 0h2m5 0h2m2 0h2m2 0h2m53 0h2m5 0h2m65 0h2m1 0h2m9 0h2m7 0h2m1 0h2m7 0h2m9 0h2m11 0h2m0 0h2m5 0h2m4 0h2m14 0h2m24 0h2m2 0h2m-309 1h2m1 0h2m3 0h2m2 0h2m0 0h2m1 0h2m-1 0h2m-1 0h2m1 0h2m-1 0h2m2 0h2m10 0h2m0 0h2m2 0h2m1 0h2m0 0h2m0 0h2m2 0h2m49 0h2m-1 0h2m4 0h2m71 0h2m7 0h2m6 0h2m1 0h2m15 0h2m2 0h2m10 0h2m6 0h2m8 0h2m1 0h2m1 0h2m10 0h2m3 0h2m-285 1h2m2 0h2m1 0h2m1 0h2m-1 0h2m2 0h2m1 0h2m3 0h2m8 0h2m1 0h2m0 0h2m2 0h2m0 0h2m0 0h2m6 0h2m-1 0h2m-1 0h2m0 0h2m54 0h2m46 0h2m24 0h2m31 0h2m0 0h2m2 0h2m0 0h2m0 0h2m-1 0h2m0 0h2m-1 0h2m4 0h2m4 0h2m0 0h2m10 0h2m-1 0h2m49 0h2m-312 1h2m5 0h2m3 0h2m3 0h2m-1 0h2m0 0h2m0 0h2m1 0h2m3 0h2m-1 0h2m0 0h2m-1 0h2m-1 0h2m2 0h2m0 0h2m0 0h2m1 0h2m0 0h2m0 0h2m2 0h2m1 0h2m43 0h2m1 0h2m1 0h2m-1 0h2m75 0h2m-1 0h2m0 0h2m13 0h2m1 0h2m12 0h2m-1 0h2m3 0h2m5 0h2m15 0h2m7 0h2m8 0h2m-277 1h2m2 0h2m1 0h2m0 0h2m6 0h2m5 0h2m-1 0h2m-1 0h2m2 0h2m-1 0h2m2 0h2m-1 0h2m6 0h2m-1 0h2m8 0h2m51 0h2m5 0h2m0 0h2m79 0h2m10 0h2m8 0h2m3 0h2m2 0h2m16 0h2m3 0h2m0 0h2m0 0h2m0 0h2m0 0h2m-1 0h2m12 0h2m-271 1h2m-1 0h2m3 0h2m7 0h2m-1 0h2m4 0h2m0 0h2m-1 0h2m-1 0h2m2 0h2m1 0h2m-1 0h2m1 0h2m-1 0h2m-1 0h2m0 0h2m2 0h2m-1 0h2m6 0h2m46 0h2m2 0h2m-1 0h2m0 0h2m0 0h2m70 0h2m8 0h2m0 0h2m-1 0h2m7 0h2m1 0h2m4 0h2m6 0h2m6 0h2m3 0h2m6 0h2m3 0h2m0 0h2m18 0h2m2 0h2m35 0h2m-318 1h2m1 0h2m-1 0h2m5 0h2m4 0h2m1 0h2m6 0h2m13 0h2m9 0h2m0 0h2m1 0h2m57 0h2m70 0h2m0 0h2m5 0h2m2 0h2m-1 0h2m7 0h2m6 0h2m15 0h2m6 0h2m0 0h2m18 0h2m6 0h2m32 0h2m6 0h2m-318 1h2m-1 0h2m5 0h2m9 0h2m1 0h2m2 0h2m-1 0h2m15 0h2m6 0h2m0 0h2m-1 0h2m-1 0h2m1 0h2m47 0h2m0 0h2m4 0h2m84 0h2m0 0h2m-1 0h2m16 0h2m2 0h2m2 0h2m5 0h2m7 0h2m1 0h2m10 0h2m17 0h2m-281 1h2m0 0h2m0 0h2m5 0h2m0 0h2m6 0h2m10 0h2m-1 0h2m1 0h2m0 0h2m-1 0h2m1 0h2m1 0h2m7 0h2m53 0h2m72 0h2m4 0h2m12 0h2m-1 0h2m-1 0h2m0 0h2m2 0h2m17 0h2m-1 0h2m5 0h2m10 0h2m7 0h2m-259 1h2m-1 0h2m-1 0h2m0 0h2m-1 0h2m-1 0h2m0 0h2m3 0h2m8 0h2m2 0h2m3 0h2m2 0h2m2 0h2m6 0h2m1 0h2m51 0h2m0 0h2m81 0h2m10 0h2m6 0h2m5 0h2m19 0h2m-1 0h2m8 0h2m4 0h2m21 0h2m-285 1h2m0 0h2m6 0h2m0 0h2m-1 0h2m0 0h2m10 0h2m-1 0h2m3 0h2m-1 0h2m4 0h2m-1 0h2m4 0h2m-1 0h2m-1 0h2m1 0h2m1 0h2m-1 0h2m0 0h2m46 0h2m3 0h2m-1 0h2m2 0h2m-1 0h2m69 0h2m15 0h2m9 0h2m41 0h2m15 0h2m-280 1h2m0 0h2m-1 0h2m1 0h2m2 0h2m2 0h2m2 0h2m-1 0h2m2 0h2m-1 0h2m0 0h2m0 0h2m17 0h2m2 0h2m0 0h2m1 0h2m1 0h2m0 0h2m52 0h2m0 0h2m0 0h2m69 0h2m0 0h2m8 0h2m-1 0h2m16 0h2m-1 0h2m-1 0h2m-1 0h2m11 0h2m1 0h2m2 0h2m4 0h2m9 0h2m16 0h2m7 0h2m-281 1h2m4 0h2m1 0h2m2 0h2m-1 0h2m-1 0h2m1 0h2m-1 0h2m-1 0h2m2 0h2m-1 0h2m1 0h2m2 0h2m2 0h2m-1 0h2m2 0h2m1 0h2m1 0h2m36 0h2m23 0h2m62 0h2m20 0h2m0 0h2m0 0h2m-1 0h2m5 0h2m11 0h2m4 0h2m9 0h2m12 0h2m17 0h2m-274 1h2m0 0h2m-1 0h2m8 0h2m10 0h2m0 0h2m5 0h2m2 0h2m2 0h2m-1 0h2m6 0h2m0 0h2m44 0h2m2 0h2m2 0h2m0 0h2m-1 0h2m82 0h2m1 0h2m-1 0h2m4 0h2m24 0h2m1 0h2m3 0h2m39 0h2m8 0h2m-296 1h2m0 0h2m10 0h2m4 0h2m6 0h2m8 0h2m3 0h2m-1 0h2m-1 0h2m6 0h2m2 0h2m-1 0h2m-1 0h2m-1 0h2m7 0h2m37 0h2m0 0h2m1 0h2m-1 0h2m3 0h2m75 0h2m23 0h2m7 0h2m16 0h2m5 0h2m4 0h2m10 0h2m15 0h2m13 0h2m-305 1h2m3 0h2m5 0h2m3 0h2m2 0h2m4 0h2m1 0h2m3 0h2m0 0h2m1 0h2m2 0h2m2 0h2m-1 0h2m-1 0h2m-1 0h2m4 0h2m4 0h2m0 0h2m40 0h2m2 0h2m7 0h2m64 0h2m13 0h2m8 0h2m34 0h2m0 0h2m12 0h2m26 0h2m-290 1h2m0 0h2m4 0h2m3 0h2m-1 0h2m2 0h2m15 0h2m0 0h2m0 0h2m7 0h2m0 0h2m0 0h2m56 0h2m94 0h2m5 0h2m6 0h2m-1 0h2m2 0h2m1 0h2m18 0h2m33 0h2m0 0h2m1 0h2m-296 1h2m3 0h2m1 0h2m-1 0h2m0 0h2m8 0h2m-1 0h2m-1 0h2m-1 0h2m1 0h2m0 0h2m0 0h2m3 0h2m-1 0h2m-1 0h2m-1 0h2m2 0h2m-1 0h2m1 0h2m1 0h2m1 0h2m-1 0h2m2 0h2m1 0h2m0 0h2m-1 0h2m-1 0h2m13 0h2m24 0h2m0 0h2m0 0h2m-1 0h2m57 0h2m1 0h2m1 0h2m-1 0h2m5 0h2m13 0h2m0 0h2m63 0h2m10 0h2m12 0h2m-1 0h2m-1 0h2m12 0h2m-309 1h2m-1 0h2m-1 0h2m-1 0h2m1 0h2m2 0h2m8 0h2m10 0h2m3 0h2m3 0h2m1 0h2m-1 0h2m0 0h2m1 0h2m6 0h2m56 0h2m53 0h2m-1 0h2m-1 0h2m1 0h2m21 0h2m28 0h2m24 0h2m17 0h2m7 0h2m-286 1h2m12 0h2m0 0h2m1 0h2m1 0h2m-1 0h2m-1 0h2m10 0h2m2 0h2m3 0h2m-1 0h2m0 0h2m-1 0h2m-1 0h2m0 0h2m-1 0h2m15 0h2m35 0h2m9 0h2m48 0h2m5 0h2m20 0h2m22 0h2m13 0h2m0 0h2m3 0h2m7 0h2m32 0h2m-284 1h2m1 0h2m0 0h2m0 0h2m-1 0h2m1 0h2m1 0h2m3 0h2m0 0h2m-1 0h2m7 0h2m4 0h2m-1 0h2m11 0h2m0 0h2m-1 0h2m5 0h2m-1 0h2m8 0h2m32 0h2m-1 0h2m10 0h2m72 0h2m1 0h2m6 0h2m0 0h2m25 0h2m-1 0h2m5 0h2m-1 0h2m27 0h2m1 0h2m0 0h2m12 0h2m1 0h2m5 0h2m-307 1h2m8 0h2m3 0h2m5 0h2m-1 0h2m0 0h2m1 0h2m0 0h2m-1 0h2m4 0h2m1 0h2m-1 0h2m14 0h2m-1 0h2m0 0h2m0 0h2m10 0h2m32 0h2m9 0h2m-1 0h2m52 0h2m11 0h2m4 0h2m6 0h2m9 0h2m8 0h2m15 0h2m37 0h2m8 0h2m0 0h2m8 0h2m3 0h2m-305 1h2m0 0h2m7 0h2m2 0h2m3 0h2m10 0h2m-1 0h2m2 0h2m-1 0h2m3 0h2m2 0h2m0 0h2m-1 0h2m3 0h2m2 0h2m1 0h2m0 0h2m1 0h2m0 0h2m45 0h2m59 0h2m15 0h2m3 0h2m2 0h2m22 0h2m38 0h2m-270 1h2m12 0h2m0 0h2m-1 0h2m0 0h2m3 0h2m3 0h2m-1 0h2m4 0h2m-1 0h2m0 0h2m2 0h2m2 0h2m-1 0h2m0 0h2m3 0h2m0 0h2m4 0h2m-1 0h2m-1 0h2m-1 0h2m19 0h2m20 0h2m4 0h2m2 0h2m102 0h2m-1 0h2m8 0h2m45 0h2m2 0h2m17 0h2m1 0h2m-311 1h2m5 0h2m0 0h2m-1 0h2m14 0h2m2 0h2m1 0h2m-1 0h2m0 0h2m-1 0h2m0 0h2m0 0h2m0 0h2m1 0h2m-1 0h2m-1 0h2m0 0h2m2 0h2m-1 0h2m1 0h2m2 0h2m0 0h2m8 0h2m0 0h2m5 0h2m37 0h2m105 0h2m0 0h2m0 0h2m30 0h2m13 0h2m20 0h2m-303 1h2m8 0h2m-1 0h2m2 0h2m1 0h2m0 0h2m6 0h2m1 0h2m0 0h2m0 0h2m2 0h2m0 0h2m5 0h2m-1 0h2m6 0h2m4 0h2m0 0h2m-1 0h2m0 0h2m11 0h2m-1 0h2m-1 0h2m4 0h2m15 0h2m3 0h2m3 0h2m5 0h2m97 0h2m11 0h2m8 0h2m3 0h2m34 0h2m-1 0h2m2 0h2m3 0h2m-298 1h2m2 0h2m2 0h2m-1 0h2m10 0h2m3 0h2m1 0h2m8 0h2m2 0h2m1 0h2m2 0h2m6 0h2m-1 0h2m1 0h2m1 0h2m2 0h2m6 0h2m1 0h2m1 0h2m34 0h2m-1 0h2m90 0h2m45 0h2m19 0h2m25 0h2m-303 1h2m1 0h2m0 0h2m0 0h2m6 0h2m4 0h2m1 0h2m1 0h2m0 0h2m-1 0h2m-1 0h2m0 0h2m0 0h2m-1 0h2m0 0h2m-1 0h2m0 0h2m0 0h2m6 0h2m7 0h2m4 0h2m-1 0h2m-1 0h2m-1 0h2m3 0h2m4 0h2m25 0h2m1 0h2m4 0h2m-1 0h2m62 0h2m44 0h2m19 0h2m6 0h2m8 0h2m7 0h2m2 0h2m-285 1h2m-1 0h2m-1 0h2m6 0h2m10 0h2m2 0h2m5 0h2m0 0h2m6 0h2m-1 0h2m-1 0h2m-1 0h2m-1 0h2m-1 0h2m3 0h2m1 0h2m-1 0h2m7 0h2m4 0h2m-1 0h2m13 0h2m23 0h2m0 0h2m2 0h2m134 0h2m0 0h2m0 0h2m0 0h2m6 0h2m26 0h2m-301 1h2m-1 0h2m-1 0h2m1 0h2m3 0h2m3 0h2m-1 0h2m1 0h2m0 0h2m-1 0h2m2 0h2m-1 0h2m13 0h2m-1 0h2m5 0h2m0 0h2m0 0h2m0 0h2m8 0h2m8 0h2m4 0h2m2 0h2m10 0h2m14 0h2m8 0h2m80 0h2m36 0h2m12 0h2m-1 0h2m1 0h2m13 0h2m4 0h2m9 0h2m-278 1h2m0 0h2m1 0h2m0 0h2m1 0h2m5 0h2m0 0h2m2 0h2m1 0h2m1 0h2m1 0h2m1 0h2m10 0h2m3 0h2m3 0h2m37 0h2m2 0h2m-1 0h2m77 0h2m7 0h2m7 0h2m6 0h2m11 0h2m16 0h2m1 0h2m-1 0h2m14 0h2m4 0h2m13 0h2m-295 1h2m0 0h2m8 0h2m4 0h2m0 0h2m2 0h2m0 0h2m-1 0h2m0 0h2m3 0h2m6 0h2m3 0h2m5 0h2m1 0h2m11 0h2m39 0h2m0 0h2m-1 0h2m1 0h2m2 0h2m81 0h2m4 0h2m15 0h2m5 0h2m13 0h2m2 0h2m1 0h2m-1 0h2m41 0h2m4 0h2m-313 1h2m0 0h2m5 0h2m2 0h2m1 0h2m5 0h2m8 0h2m2 0h2m3 0h2m3 0h2m1 0h2m8 0h2m2 0h2m-1 0h2m-1 0h2m3 0h2m0 0h2m1 0h2m11 0h2m25 0h2m0 0h2m0 0h2m94 0h2m9 0h2m25 0h2m1 0h2m-1 0h2m2 0h2m8 0h2m2 0h2m-275 1h2m-1 0h2m-1 0h2m3 0h2m1 0h2m0 0h2m2 0h2m1 0h2m-1 0h2m0 0h2m-1 0h2m5 0h2m10 0h2m0 0h2m0 0h2m6 0h2m-1 0h2m-1 0h2m0 0h2m-1 0h2m8 0h2m0 0h2m1 0h2m46 0h2m26 0h2m52 0h2m35 0h2m11 0h2m1 0h2m3 0h2m10 0h2m-1 0h2m12 0h2m2 0h2m3 0h2m0 0h2m7 0h2m7 0h2m-323 1h2m0 0h2m0 0h2m-1 0h2m-1 0h2m3 0h2m-1 0h2m6 0h2m-1 0h2m-1 0h2m0 0h2m-1 0h2m0 0h2m7 0h2m0 0h2m-1 0h2m3 0h2m2 0h2m0 0h2m-1 0h2m-1 0h2m3 0h2m8 0h2m44 0h2m5 0h2m4 0h2m-1 0h2m-1 0h2m44 0h2m16 0h2m1 0h2m32 0h2m11 0h2m7 0h2m8 0h2m4 0h2m35 0h2m0 0h2m9 0h2m7 0h2m-325 1h2m-1 0h2m2 0h2m0 0h2m1 0h2m1 0h2m4 0h2m0 0h2m0 0h2m2 0h2m5 0h2m3 0h2m0 0h2m1 0h2m12 0h2m-1 0h2m-1 0h2m13 0h2m9 0h2m6 0h2m13 0h2m5 0h2m5 0h2m-1 0h2m4 0h2m81 0h2m15 0h2m21 0h2m3 0h2m8 0h2m1 0h2m7 0h2m13 0h2m19 0h2m0 0h2m0 0h2m-322 1h2m-1 0h2m2 0h2m4 0h2m-1 0h2m9 0h2m5 0h2m6 0h2m0 0h2m-1 0h2m5 0h2m3 0h2m9 0h2m4 0h2m0 0h2m7 0h2m32 0h2m3 0h2m0 0h2m105 0h2m-1 0h2m7 0h2m6 0h2m-1 0h2m0 0h2m23 0h2m12 0h2m22 0h2m40 0h2m-348 1h2m7 0h2m-1 0h2m5 0h2m1 0h2m2 0h2m-1 0h2m-1 0h2m3 0h2m2 0h2m6 0h2m1 0h2m11 0h2m2 0h2m13 0h2m29 0h2m2 0h2m124 0h2m0 0h2m20 0h2m1 0h2m1 0h2m-1 0h2m14 0h2m7 0h2m7 0h2m5 0h2m27 0h2m-356 1h2m5 0h2m3 0h2m4 0h2m2 0h2m1 0h2m5 0h2m3 0h2m0 0h2m4 0h2m0 0h2m9 0h2m11 0h2m9 0h2m1 0h2m41 0h2m91 0h2m27 0h2m2 0h2m23 0h2m-276 1h2m4 0h2m-1 0h2m-1 0h2m8 0h2m1 0h2m3 0h2m0 0h2m1 0h2m0 0h2m-1 0h2m4 0h2m8 0h2m13 0h2m-1 0h2m21 0h2m29 0h2m5 0h2m75 0h2m23 0h2m20 0h2m8 0h2m7 0h2m7 0h2m1 0h2m-1 0h2m17 0h2m-1 0h2m4 0h2m33 0h2m4 0h2m-341 1h2m1 0h2m2 0h2m2 0h2m4 0h2m4 0h2m3 0h2m49 0h2m4 0h2m14 0h2m4 0h2m-1 0h2m7 0h2m1 0h2m94 0h2m2 0h2m10 0h2m2 0h2m7 0h2m14 0h2m-1 0h2m1 0h2m4 0h2m9 0h2m2 0h2m22 0h2m22 0h2m0 0h2m2 0h2m-353 1h2m2 0h2m3 0h2m1 0h2m2 0h2m1 0h2m3 0h2m0 0h2m7 0h2m0 0h2m0 0h2m-1 0h2m4 0h2m6 0h2m6 0h2m2 0h2m6 0h2m39 0h2m0 0h2m0 0h2m3 0h2m116 0h2m0 0h2m1 0h2m-1 0h2m3 0h2m2 0h2m46 0h2m17 0h2m1 0h2m4 0h2m10 0h2m-1 0h2m-345 1h2m0 0h2m-1 0h2m-1 0h2m1 0h2m1 0h2m-1 0h2m1 0h2m2 0h2m0 0h2m0 0h2m4 0h2m4 0h2m17 0h2m1 0h2m24 0h2m30 0h2m8 0h2m113 0h2m1 0h2m0 0h2m2 0h2m56 0h2m4 0h2m8 0h2m-1 0h2m17 0h2m1 0h2m-349 1h2m-1 0h2m5 0h2m4 0h2m3 0h2m6 0h2m4 0h2m-1 0h2m0 0h2m7 0h2m6 0h2m2 0h2m5 0h2m0 0h2m50 0h2m2 0h2m1 0h2m25 0h2m86 0h2m5 0h2m0 0h2m24 0h2m14 0h2m3 0h2m3 0h2m6 0h2m14 0h2m0 0h2m2 0h2m7 0h2m-340 1h2m3 0h2m2 0h2m-1 0h2m0 0h2m-1 0h2m1 0h2m2 0h2m-1 0h2m5 0h2m1 0h2m15 0h2m7 0h2m14 0h2m4 0h2m11 0h2m17 0h2m89 0h2m23 0h2m56 0h2m24 0h2m-1 0h2m-1 0h2m1 0h2m3 0h2m17 0h2m-343 1h2m-1 0h2m1 0h2m3 0h2m3 0h2m0 0h2m3 0h2m0 0h2m-1 0h2m8 0h2m3 0h2m3 0h2m3 0h2m3 0h2m4 0h2m0 0h2m10 0h2m10 0h2m34 0h2m4 0h2m89 0h2m44 0h2m9 0h2m11 0h2m16 0h2m30 0h2m2 0h2m-347 1h2m0 0h2m-1 0h2m6 0h2m4 0h2m8 0h2m-1 0h2m-1 0h2m2 0h2m2 0h2m23 0h2m58 0h2m98 0h2m45 0h2m2 0h2m-1 0h2m15 0h2m5 0h2m44 0h2m-1 0h2m-347 1h2m1 0h2m1 0h2m7 0h2m-1 0h2m3 0h2m0 0h2m1 0h2m82 0h2m4 0h2m2 0h2m1 0h2m79 0h2m18 0h2m68 0h2m4 0h2m13 0h2m1 0h2m21 0h2m-343 1h2m8 0h2m-1 0h2m0 0h2m4 0h2m0 0h2m-1 0h2m4 0h2m-1 0h2m4 0h2m1 0h2m9 0h2m34 0h2m30 0h2m2 0h2m4 0h2m100 0h2m86 0h2m12 0h2m-333 1h2m0 0h2m0 0h2m1 0h2m8 0h2m-1 0h2m0 0h2m2 0h2m-1 0h2m1 0h2m1 0h2m7 0h2m6 0h2m9 0h2m13 0h2m3 0h2m7 0h2m34 0h2m1 0h2m37 0h2m40 0h2m18 0h2m43 0h2m-1 0h2m-1 0h2m21 0h2m6 0h2m4 0h2m0 0h2m-314 1h2m0 0h2m2 0h2m3 0h2m-1 0h2m16 0h2m9 0h2m9 0h2m1 0h2m-1 0h2m2 0h2m-1 0h2m21 0h2m28 0h2m6 0h2m1 0h2m146 0h2m-1 0h2m10 0h2m-1 0h2m11 0h2m-1 0h2m3 0h2m9 0h2m4 0h2m-326 1h2m0 0h2m1 0h2m0 0h2m4 0h2m9 0h2m3 0h2m14 0h2m2 0h2m13 0h2m-1 0h2m55 0h2m2 0h2m0 0h2m90 0h2m41 0h2m10 0h2m14 0h2m6 0h2m0 0h2m0 0h2m16 0h2m0 0h2m1 0h2m-329 1h2m0 0h2m-1 0h2m2 0h2m2 0h2m-1 0h2m10 0h2m-1 0h2m0 0h2m1 0h2m16 0h2m0 0h2m20 0h2m48 0h2m4 0h2m0 0h2m145 0h2m0 0h2m11 0h2m9 0h2m1 0h2m7 0h2m0 0h2m1 0h2m9 0h2m-331 1h2m5 0h2m5 0h2m0 0h2m-1 0h2m1 0h2m0 0h2m2 0h2m14 0h2m12 0h2m-1 0h2m13 0h2m42 0h2m2 0h2m1 0h2m1 0h2m75 0h2m80 0h2m6 0h2m25 0h2m-322 1h2m-1 0h2m10 0h2m2 0h2m-1 0h2m2 0h2m29 0h2m64 0h2m7 0h2m86 0h2m3 0h2m5 0h2m18 0h2m39 0h2m10 0h2m-1 0h2m13 0h2m0 0h2m-1 0h2m1 0h2m7 0h2m-334 1h2m3 0h2m4 0h2m1 0h2m1 0h2m-1 0h2m4 0h2m13 0h2m5 0h2m6 0h2m7 0h2m7 0h2m47 0h2m2 0h2m40 0h2m31 0h2m13 0h2m59 0h2m9 0h2m1 0h2m8 0h2m-1 0h2m6 0h2m2 0h2m15 0h2m-330 1h2m1 0h2m5 0h2m0 0h2m4 0h2m28 0h2m25 0h2m3 0h2m34 0h2m56 0h2m100 0h2m11 0h2m10 0h2m2 0h2m1 0h2m0 0h2m0 0h2m3 0h2m1 0h2m-323 1h2m2 0h2m-1 0h2m4 0h2m6 0h2m0 0h2m20 0h2m74 0h2m108 0h2m8 0h2m57 0h2m7 0h2m1 0h2m-1 0h2m-317 1h2m1 0h2m5 0h2m2 0h2m1 0h2m33 0h2m2 0h2m6 0h2m52 0h2m84 0h2m4 0h2m16 0h2m11 0h2m58 0h2m1 0h2m1 0h2m2 0h2m0 0h2m-1 0h2m6 0h2m8 0h2m-330 1h2m2 0h2m0 0h2m1 0h2m1 0h2m1 0h2m0 0h2m2 0h2m23 0h2m2 0h2m0 0h2m-1 0h2m6 0h2m60 0h2m9 0h2m87 0h2m45 0h2m3 0h2m-1 0h2m5 0h2m3 0h2m8 0h2m5 0h2m-1 0h2m1 0h2m10 0h2m1 0h2m2 0h2m4 0h2m-335 1h2m-1 0h2m-1 0h2m7 0h2m2 0h2m-1 0h2m2 0h2m16 0h2m23 0h2m-1 0h2m14 0h2m155 0h2m31 0h2m14 0h2m7 0h2m7 0h2m5 0h2m11 0h2m0 0h2m-328 1h2m1 0h2m0 0h2m5 0h2m36 0h2m1 0h2m10 0h2m5 0h2m2 0h2m219 0h2m0 0h2m5 0h2m10 0h2m-322 1h2m2 0h2m1 0h2m3 0h2m-1 0h2m5 0h2m0 0h2m30 0h2m19 0h2m0 0h2m45 0h2m110 0h2m14 0h2m19 0h2m20 0h2m7 0h2m0 0h2m2 0h2m-1 0h2m3 0h2m1 0h2m10 0h2m-332 1h2m12 0h2m3 0h2m29 0h2m-1 0h2m2 0h2m0 0h2m129 0h2m16 0h2m70 0h2m2 0h2m19 0h2m2 0h2m1 0h2m2 0h2m2 0h2m2 0h2m0 0h2m3 0h2m-326 1h2m178 0h2m30 0h2m1 0h2m21 0h2m66 0h2m-1 0h2m7 0h2m3 0h2m-323 1h2m0 0h2m0 0h2m32 0h2m7 0h2m11 0h2m23 0h2m94 0h2m16 0h2m12 0h2m1 0h2m8 0h2m64 0h2m7 0h2m0 0h2m2 0h2m6 0h2m2 0h2m0 0h2m-328 1h2m4 0h2m2 0h2m2 0h2m185 0h2m2 0h2m33 0h2m53 0h2m2 0h2m0 0h2m1 0h2m-305 1h2m-1 0h2m3 0h2m38 0h2m4 0h2m10 0h2m122 0h2m-1 0h2m12 0h2m49 0h2m17 0h2m16 0h2m3 0h2m6 0h2m-1 0h2m2 0h2m2 0h2m0 0h2m9 0h2m-324 1h2m1 0h2m175 0h2m31 0h2m10 0h2m52 0h2m13 0h2m11 0h2m3 0h2m10 0h2m2 0h2m-327 1h2m36 0h2m0 0h2m4 0h2m128 0h2m1 0h2m-1 0h2m0 0h2m1 0h2m97 0h2m2 0h2m4 0h2m4 0h2m10 0h2m-1 0h2m-1 0h2m-317 1h2m44 0h2m104 0h2m24 0h2m-1 0h2m0 0h2m2 0h2m11 0h2m-1 0h2m13 0h2m11 0h2m19 0h2m23 0h2m8 0h2m6 0h2m1 0h2m7 0h2m4 0h2m3 0h2m-1 0h2m-1 0h2m0 0h2m-319 1h2m36 0h2m10 0h2m127 0h2m1 0h2m11 0h2m72 0h2m3 0h2m2 0h2m4 0h2m2 0h2m24 0h2m-138 1h2m0 0h2m14 0h2m90 0h2m5 0h2m5 0h2m0 0h2m2 0h2m-1 0h2m2 0h2m6 0h2m4 0h2m-317 1h2m4 0h2m14 0h2m7 0h2m134 0h2m2 0h2m12 0h2m13 0h2m0 0h2m8 0h2m13 0h2m31 0h2m2 0h2m17 0h2m1 0h2m-1 0h2m7 0h2m-287 1h2m14 0h2m4 0h2m0 0h2m14 0h2m129 0h2m16 0h2m67 0h2m3 0h2m0 0h2m1 0h2m-1 0h2m2 0h2m8 0h2m15 0h2m-306 1h2m22 0h2m150 0h2m0 0h2m12 0h2m62 0h2m6 0h2m4 0h2m1 0h2m6 0h2m15 0h2m8 0h2m-295 1h2m160 0h2m0 0h2m9 0h2m4 0h2m69 0h2m10 0h2m6 0h2m0 0h2m3 0h2m-304 1h2m23 0h2m3 0h2m39 0h2m79 0h2m12 0h2m4 0h2m27 0h2m39 0h2m27 0h2m6 0h2m7 0h2m3 0h2m1 0h2m7 0h2m2 0h2m2 0h2m-325 1h2m7 0h2m166 0h2m4 0h2m90 0h2m12 0h2m17 0h2m-293 1h2m22 0h2m0 0h2m165 0h2m-1 0h2m69 0h2m1 0h2m7 0h2m-1 0h2m-1 0h2m5 0h2m-1 0h2m0 0h2m11 0h2m-173 1h2m44 0h2m3 0h2m8 0h2m78 0h2m3 0h2m4 0h2m3 0h2m4 0h2m-301 1h2m2 0h2m5 0h2m263 0h2m3 0h2m3 0h2m8 0h2m2 0h2m8 0h2m-304 1h2m173 0h2m30 0h2m58 0h2m16 0h2m8 0h2m-295 1h2m170 0h2m-1 0h2m76 0h2m10 0h2m0 0h2m33 0h2m-313 1h2m179 0h2m-1 0h2m3 0h2m-1 0h2m6 0h2m-1 0h2m80 0h2m0 0h2m15 0h2m-300 1h2m166 0h2m91 0h2m2 0h2m-260 1h2m167 0h2m22 0h2m60 0h2m16 0h2m6 0h2m6 0h2m2 0h2m-302 1h2m3 0h2m1 0h2m7 0h2m206 0h2m51 0h2m18 0h2m-304 1h2m4 0h2m8 0h2m244 0h2m11 0h2m10 0h2m0 0h2m0 0h2m8 0h2m-1 0h2m-108 1h2m-1 0h2m0 0h2m80 0h2m13 0h2m8 0h2m-305 1h2m0 0h2m-1 0h2m169 0h2m5 0h2m12 0h2m-1 1h2m21 0h2m33 0h2m11 0h2m15 0h2m10 0h2m1 0h2m-303 1h2m181 0h2m12 0h2m1 0h2m30 0h2m45 0h2m11 0h2m-289 1h2m193 0h2m35 0h2m60 0h2m-299 1h2m7 0h2m8 0h2m172 0h2m-1 0h2m7 0h2m18 0h2m19 0h2m44 0h2m-295 1h2m7 0h2m0 0h2m2 0h2m4 0h2m160 0h2m-1 0h2m5 0h2m5 0h2m16 0h2m6 0h2m13 0h2m20 0h2m12 0h2m-270 1h2m2 0h2m165 0h2m17 0h2m2 0h2m5 0h2m3 0h2m57 0h2m11 0h2m-90 1h2m1 0h2m95 0h2m-1 0h2m-293 1h2m2 0h2m174 0h2m8 0h2m38 0h2m15 0h2m4 0h2m8 0h2m-257 1h2m171 0h2m-1 0h2m4 0h2m-1 0h2m0 0h2m0 0h2m49 0h2m8 0h2m10 0h2m9 0h2m8 0h2m-286 1h2m168 0h2m15 0h2m40 0h2m13 0h2m18 0h2m7 0h2m-26 1h2m3 0h2m1 0h2m23 0h2m-297 1h2m171 0h2m89 0h2m24 0h2m-267 1h2m150 0h2m5 0h2m-22 1h2m70 0h2m24 0h2m18 0h2m1 0h2m-1 0h2m-273 1h2m130 0h2m48 0h2m51 0h2m5 0h2m-234 1h2m206 0h2m2 0h2m-8 1h2m0 0h2m3 0h2m4 0h2m1 0h2m33 0h2m-117 1h2m-1 0h2m64 0h2m0 0h2m-1 0h2m16 0h2m46 0h2m-122 1h2m-1 0h2m4 0h2m36 0h2m3 0h2m2 0h2m34 0h2m5 0h2m-125 1h2m25 0h2m16 0h2m30 0h2m25 0h2m13 0h2m-259 1h2m153 0h2m57 0h2m-1 0h2m2 0h2m21 0h2m12 0h2m-262 1h2m3 0h2m3 0h2m0 0h2m202 0h2m14 0h2m8 0h2m-252 1h2m3 0h2m0 0h2m2 0h2m4 0h2m201 0h2m1 0h2m-1 0h2m-1 0h2m-1 0h2m0 0h2m14 0h2m-247 1h2m-1 0h2m14 0h2m177 0h2m18 0h2m7 0h2m-1 0h2m-1 0h2m22 0h2m-249 1h2m2 0h2m4 0h2m1 0h2m213 0h2m18 0h2m17 0h2m12 0h2m-290 1h2m0 0h2m4 0h2m-1 0h2m1 0h2m0 0h2m5 0h2m-1 0h2m-1 0h2m178 0h2m-206 1h2m-1 0h2m3 0h2m4 0h2m0 0h2m4 0h2m152 0h2m10 0h2m44 0h2m-1 0h2m0 0h2m54 0h2m-293 1h2m-1 0h2m-1 0h2m2 0h2m1 0h2m6 0h2m1 0h2m1 0h2m-26 1h2m0 0h2m-1 0h2m2 0h2m0 0h2m6 0h2m1 0h2m-1 0h2m1 0h2m0 0h2m2 0h2m148 0h2m48 0h2m-1 0h2m44 0h2m2 0h2m-280 1h2m6 0h2m-1 0h2m0 0h2m2 0h2m3 0h2m0 0h2m177 0h2m27 0h2m10 0h2m5 0h2m3 0h2m12 0h2m4 0h2m-280 1h2m0 0h2m0 0h2m2 0h2m2 0h2m0 0h2m4 0h2m-1 0h2m-1 0h2m0 0h2m1 0h2m0 0h2m-1 0h2m169 0h2m49 0h2m-252 1h2m2 0h2m1 0h2m-1 0h2m1 0h2m2 0h2m-1 0h2m-1 0h2m4 0h2m-1 0h2m137 0h2m94 0h2m2 0h2m-266 1h2m1 0h2m3 0h2m0 0h2m8 0h2m8 0h2m129 0h2m5 0h2m31 0h2m64 0h2m-268 1h2m6 0h2m1 0h2m2 0h2m-1 0h2m-1 0h2m4 0h2m0 0h2m6 0h2m122 0h2m77 0h2m-236 1h2m3 0h2m2 0h2m-1 0h2m1 0h2m-1 0h2m1 0h2m0 0h2m1 0h2m1 0h2m1 0h2m-1 0h2m170 0h2m29 0h2m-238 1h2m-1 0h2m-1 0h2m1 0h2m2 0h2m0 0h2m0 0h2m1 0h2m-1 0h2m-1 0h2m2 0h2m0 0h2m-1 0h2m1 0h2m2 0h2m204 0h2m33 0h2m1 0h2m-277 1h2m4 0h2m-1 0h2m0 0h2m0 0h2m-1 0h2m5 0h2m0 0h2m1 0h2m8 0h2m197 0h2m9 0h2m6 0h2m12 0h2m-268 1h2m-1 0h2m2 0h2m3 0h2m-1 0h2m4 0h2m1 0h2m0 0h2m2 0h2m0 0h2m1 0h2m146 0h2m21 0h2m113 0h2m-319 1h2m1 0h2m5 0h2m2 0h2m0 0h2m0 0h2m-1 0h2m6 0h2m0 0h2m-1 0h2m2 0h2m-1 0h2m104 0h2m11 0h2m23 0h2m54 0h2m3 0h2m13 0h2m-256 1h2m-1 0h2m-1 0h2m1 0h2m-1 0h2m-1 0h2m-1 0h2m2 0h2m1 0h2m0 0h2m1 0h2m0 0h2m1 0h2m0 0h2m2 0h2m139 0h2m62 0h2m6 0h2m3 0h2m5 0h2m-256 1h2m0 0h2m4 0h2m-1 0h2m9 0h2m2 0h2m-1 0h2m-1 0h2m203 0h2m3 0h2m9 0h2m12 0h2m-256 1h2m2 0h2m-1 0h2m-1 0h2m3 0h2m2 0h2m1 0h2m0 0h2m-1 0h2m178 0h2m31 0h2m0 0h2m17 0h2m1 0h2m-267 1h2m0 0h2m0 0h2m-1 0h2m11 0h2m0 0h2m0 0h2m0 0h2m2 0h2m-1 0h2m151 0h2m2 0h2m37 0h2m17 0h2m26 0h2m-276 1h2m-1 0h2m0 0h2m-1 0h2m3 0h2m2 0h2m-1 0h2m2 0h2m4 0h2m-1 0h2m-1 0h2m162 0h2m26 0h2m7 0h2m15 0h2m27 0h2m-274 1h2m6 0h2m-1 0h2m-1 0h2m5 0h2m-1 0h2m2 0h2m2 0h2m-1 0h2m1 0h2m209 0h2m4 0h2m17 0h2m-266 1h2m7 0h2m12 0h2m-1 0h2m1 0h2m220 0h2m14 0h2m1 0h2m-271 1h2m-1 0h2m1 0h2m6 0h2m1 0h2m1 0h2m1 0h2m0 0h2m230 0h2m0 0h2m19 0h2m-283 1h2m7 0h2m0 0h2m1 0h2m2 0h2m2 0h2m-1 0h2m6 0h2m158 0h2m5 0h2m6 0h2m33 0h2m8 0h2m13 0h2m-264 1h2m2 0h2m-1 0h2m8 0h2m1 0h2m-1 0h2m-1 0h2m-1 0h2m1 0h2m1 0h2m0 0h2m235 0h2m3 0h2m-270 1h2m0 0h2m3 0h2m2 0h2m-1 0h2m-1 0h2m0 0h2m2 0h2m152 0h2m33 0h2m3 0h2m18 0h2m-238 1h2m10 0h2m-1 0h2m2 0h2m-1 0h2m1 0h2m1 0h2m-1 0h2m-1 0h2m151 0h2m2 0h2m2 0h2m2 0h2m4 0h2m39 0h2m1 0h2m8 0h2m-250 1h2m-1 0h2m1 0h2m5 0h2m-1 0h2m-1 0h2m9 0h2m1 0h2m84 0h2m38 0h2m18 0h2m15 0h2m48 0h2m2 0h2m-244 1h2m1 0h2m0 0h2m9 0h2m0 0h2m1 0h2m-1 0h2m134 0h2m16 0h2m0 0h2m6 0h2m19 0h2m20 0h2m-223 1h2m0 0h2m-1 0h2m0 0h2m-1 0h2m0 0h2m-1 0h2m0 0h2m2 0h2m2 0h2m122 0h2m17 0h2m0 0h2m-174 1h2m3 0h2m-1 0h2m-1 0h2m5 0h2m2 0h2m-1 0h2m2 0h2m107 0h2m48 0h2m9 0h2m59 0h2m4 0h2m-260 1h2m0 0h2m1 0h2m3 0h2m-1 0h2m0 0h2m-1 0h2m0 0h2m-1 0h2m1 0h2m0 0h2m104 0h2m40 0h2m15 0h2m6 0h2m-1 0h2m-1 0h2m51 0h2m-254 1h2m-1 0h2m-1 0h2m1 0h2m5 0h2m12 0h2m104 0h2m-1 0h2m41 0h2m79 0h2m0 0h2m51 0h2m-310 1h2m2 0h2m-1 0h2m2 0h2m-1 0h2m1 0h2m2 0h2m0 0h2m0 0h2m116 0h2m57 0h2m28 0h2m6 0h2m8 0h2m8 0h2m-261 1h2m10 0h2m9 0h2m106 0h2m0 0h2m34 0h2m18 0h2m43 0h2m8 0h2m-236 1h2m5 0h2m-1 0h2m-1 0h2m113 0h2m57 0h2m12 0h2m22 0h2m12 0h2m16 0h2m-258 1h2m1 0h2m1 0h2m1 0h2m-1 0h2m2 0h2m111 0h2m31 0h2m-1 0h2m6 0h2m14 0h2m53 0h2m-244 1h2m2 0h2m4 0h2m1 0h2m-1 0h2m-1 0h2m-1 0h2m-1 0h2m106 0h2m0 0h2m0 0h2m1 0h2m39 0h2m2 0h2m7 0h2m33 0h2m-215 1h2m114 0h2m0 0h2m32 0h2m3 0h2m0 0h2m9 0h2m9 0h2m36 0h2m61 0h2m-287 1h2m5 0h2m113 0h2m1 0h2m34 0h2m4 0h2m7 0h2m40 0h2m12 0h2m-230 1h2m-1 0h2m0 0h2m114 0h2m52 0h2m8 0h2m37 0h2m0 0h2m13 0h2m27 0h2m-261 1h2m91 0h2m14 0h2m0 0h2m35 0h2m1 0h2m6 0h2m72 0h2m39 0h2m-120 1h2m-1 0h2m10 0h2m2 0h2m19 0h2m21 0h2m31 0h2m-255 1h2m108 0h2m-1 0h2m-1 0h2m1 0h2m40 0h2m1 0h2m12 0h2m22 0h2m25 0h2m47 0h2m-163 1h2m62 0h2m50 0h2m12 0h2m-135 1h2m-1 0h2m2 0h2m30 0h2m12 0h2m3 0h2m32 0h2m-94 1h2m1 0h2m3 0h2m31 0h2m0 0h2m2 0h2m11 0h2m2 0h2m3 0h2m25 0h2m-97 1h2m2 0h2m32 0h2m9 0h2m100 0h2m-152 1h2m3 0h2m4 0h2m27 0h2m-40 1h2m28 0h2m2 0h2m6 0h2m2 0h2m-1 0h2m6 0h2m58 0h2m-118 1h2m0 0h2m34 0h2m16 0h2m0 0h2m6 0h2m-70 1h2m1 0h2m-1 0h2m0 0h2m51 0h2m68 0h2m-131 1h2m1 0h2m1 0h2m30 0h2m10 0h2m1 0h2m4 0h2m-56 1h2m33 0h2m5 0h2m8 0h2m5 0h2m2 0h2m30 0h2m-97 1h2m19 0h2m15 0h2m11 0h2m-1 0h2m2 0h2m-59 1h2m34 0h2m3 0h2m-3 1h2m3 0h2m9 0h2m37 0h2m19 0h2m-63 1h2m-21 1h2m2 0h2m7 0h2m4 0h2m0 0h2m-1 0h2m3 0h2m79 0h2m-100 1h2m-1 0h2m4 0h2m72 0h2m18 0h2m-117 1h2m2 0h2m19 0h2m0 0h2m-21 1h2m56 0h2m-120 1h2m57 0h2m3 0h2m-2 1h2m2 0h2m14 0h2m-85 1h2m71 0h2m0 0h2m-12 1h2m78 0h2m-75 1h2m-17 1h2m14 0h2m-41 1h2m20 0h2m88 4h2" stroke="#6cccE6" stroke-width="1.5" fill="none"/>
<path transform="scale(0.5)" d="M829 1299h2m9 9h2m-34 4h2m2 4h2m12 29h2m-29 1h2m19 0h2m6 2h2m8 3h2m-27 6h2m-25 15h2m31 6h2m-23 18h2m208 72h2m-3 1h2m-25 1h2m15 0h2m-2 1h2m-13 5h2m13 0h2m-5 2h2m-20 2h2m24 0h2m3 0h2m-30 1h2m7 2h2m-8 3h2m-7 6h2m17 1h2m-7 3h2m-14 1h2m8 1h2m3 0h2m5 0h2m-9 2h2m-12 4h2m3 0h2m-15 1h2m1 0h2m10 0h2m-2 1h2m2 1h2m10 0h2m-23 1h2m3 0h2m-11 2h2m0 0h2m0 1h2" stroke="#52d2a6" stroke-width="1.5" fill="none"/>
<path transform="scale(0.5)" d="M831 1343h2m248 0h2m-4 1h2m-262 2h2m15 1h2m2 0h2m5 0h2m224 2h2m-243 1h2m-1 0h2m0 1h2m2 0h2m-13 1h2m-1 1h2m6 0h2m-3 1h2m0 0h2m-6 1h2m2 0h2m-5 1h2m-8 1h2m2 2h2m10 3h2m-17 1h2m259 4h2m4 3h2m5 0h2m11 5h2m-6 1h2m7 0h2m-53 9h2m26 2h2m-21 1h2m21 0h2m9 7h2m-1 0h2m10 2h2m-23 1h2m-10 3h2m-280 42h2m18 2h2m-20 3h2m-2 9h2m-2 4h2m21 1h2m-16 1h2m7 1h2m157 2h2m-170 1h2m182 9h2m-26 2h2m-151 1h2m141 0h2m0 1h2m5 0h2m12 0h2m-171 2h2m171 0h2m1 4h2m-13 2h2m2 6h2m-19 1h2m9 6h2m-8 4h2m-2 5h2" stroke="#d06cf0" stroke-width="1.5" fill="none"/>
<path transform="scale(0.5)" d="M838 1341h2m2 3h2m-10 6h2m-1 3h2m-5 1h2m1 3h2m-1 0h2m-14 2h2m14 1h2m0 1h2m-17 2h2m3 0h2m128 5h2m1 5h2m-2 1h2m-1 1h2m44 90h2m-1 0h2m-5 4h2m-21 4h2m21 5h2m-6 7h2m-25 1h2m9 1h2m-3 7h2m17 2h2m-31 3h2m13 1h2m10 5h2" stroke="#f066d4" stroke-width="1.5" fill="none"/>
<path transform="scale(0.5)" d="M960 1364h2m-1 2h2m-2 1h2m0 3h2m-2 1h2m-1 1h2m-2 1h2m-1 1h2m-1 2h2" stroke="#e86666" stroke-width="1.5" fill="none"/>
<line x1="388.60" y1="754.20" x2="388.60" y2="716.20" stroke="#000" stroke-width="1.2"/>
<line x1="388.00" y1="754.20" x2="426.10" y2="754.20" stroke="#000" stroke-width="1.2"/>
<polygon points="385.1,716.9 388.6,709.6 392.1,716.9" fill="#000"/>
<polygon points="426.1,750.7 433.2,754.2 426.1,757.7" fill="#000"/>
<text x="385.0" y="735.5" font-size="9" text-anchor="middle" fill="#222" transform="rotate(-90 385.0 735.5)">UMAP2</text>
<text x="406.8" y="765.5" font-size="9" text-anchor="middle" fill="#222">UMAP1</text>
<line x1="387.30" y1="906.00" x2="387.30" y2="868.00" stroke="#000" stroke-width="1.2"/>
<line x1="386.70" y1="906.00" x2="424.80" y2="906.00" stroke="#000" stroke-width="1.2"/>
<polygon points="383.8,868.7 387.3,861.4 390.8,868.7" fill="#000"/>
<polygon points="424.8,902.5 431.9,906.0 424.8,909.5" fill="#000"/>
<text x="383.7" y="887.3" font-size="9" text-anchor="middle" fill="#222" transform="rotate(-90 383.7 887.3)">UMAP2</text>
<text x="405.5" y="917.3" font-size="9" text-anchor="middle" fill="#222">UMAP1</text>
<text x="586.6" y="639.9" font-size="9" text-anchor="start" fill="#222">Annotated cell types</text>
<rect x="585.80" y="646.80" width="7.00" height="6.60" fill="#5bc4e0"/>
<text x="597.8" y="653.3" font-size="9" text-anchor="start" fill="#222">Cancer cell</text>
<rect x="585.80" y="657.62" width="7.00" height="6.60" fill="#e86464"/>
<text x="597.8" y="664.1" font-size="9" text-anchor="start" fill="#222">B cell</text>
<rect x="585.80" y="668.44" width="7.00" height="6.60" fill="#c89030"/>
<text x="597.8" y="674.9" font-size="9" text-anchor="start" fill="#222">CAF</text>
<rect x="585.80" y="679.26" width="7.00" height="6.60" fill="#98a830"/>
<text x="597.8" y="685.8" font-size="9" text-anchor="start" fill="#222">cDC</text>
<rect x="585.80" y="690.08" width="7.00" height="6.60" fill="#50d050"/>
<text x="597.8" y="696.6" font-size="9" text-anchor="start" fill="#222">Endothelial</text>
<rect x="585.80" y="700.90" width="7.00" height="6.60" fill="#50d0a0"/>
<text x="597.8" y="707.4" font-size="9" text-anchor="start" fill="#222">Macrophage</text>
<rect x="585.80" y="711.72" width="7.00" height="6.60" fill="#6090f0"/>
<text x="597.8" y="718.2" font-size="9" text-anchor="start" fill="#222">Plasma</text>
<rect x="585.80" y="722.54" width="7.00" height="6.60" fill="#d068f0"/>
<text x="597.8" y="729.0" font-size="9" text-anchor="start" fill="#222">T cell</text>
<rect x="585.80" y="733.36" width="7.00" height="6.60" fill="#f060d8"/>
<text x="597.8" y="739.9" font-size="9" text-anchor="start" fill="#222">Unidentifiable</text>
<text x="586.6" y="784.4" font-size="9" text-anchor="start" fill="#222">Platinum response</text>
<rect x="585.80" y="791.20" width="7.00" height="6.60" fill="#f0521e"/>
<text x="597.8" y="797.7" font-size="9" text-anchor="start" fill="#222">Resistant</text>
<rect x="585.80" y="802.10" width="7.00" height="6.60" fill="#3457ee"/>
<text x="597.8" y="808.6" font-size="9" text-anchor="start" fill="#222">Sensitive</text></svg></body></html>
